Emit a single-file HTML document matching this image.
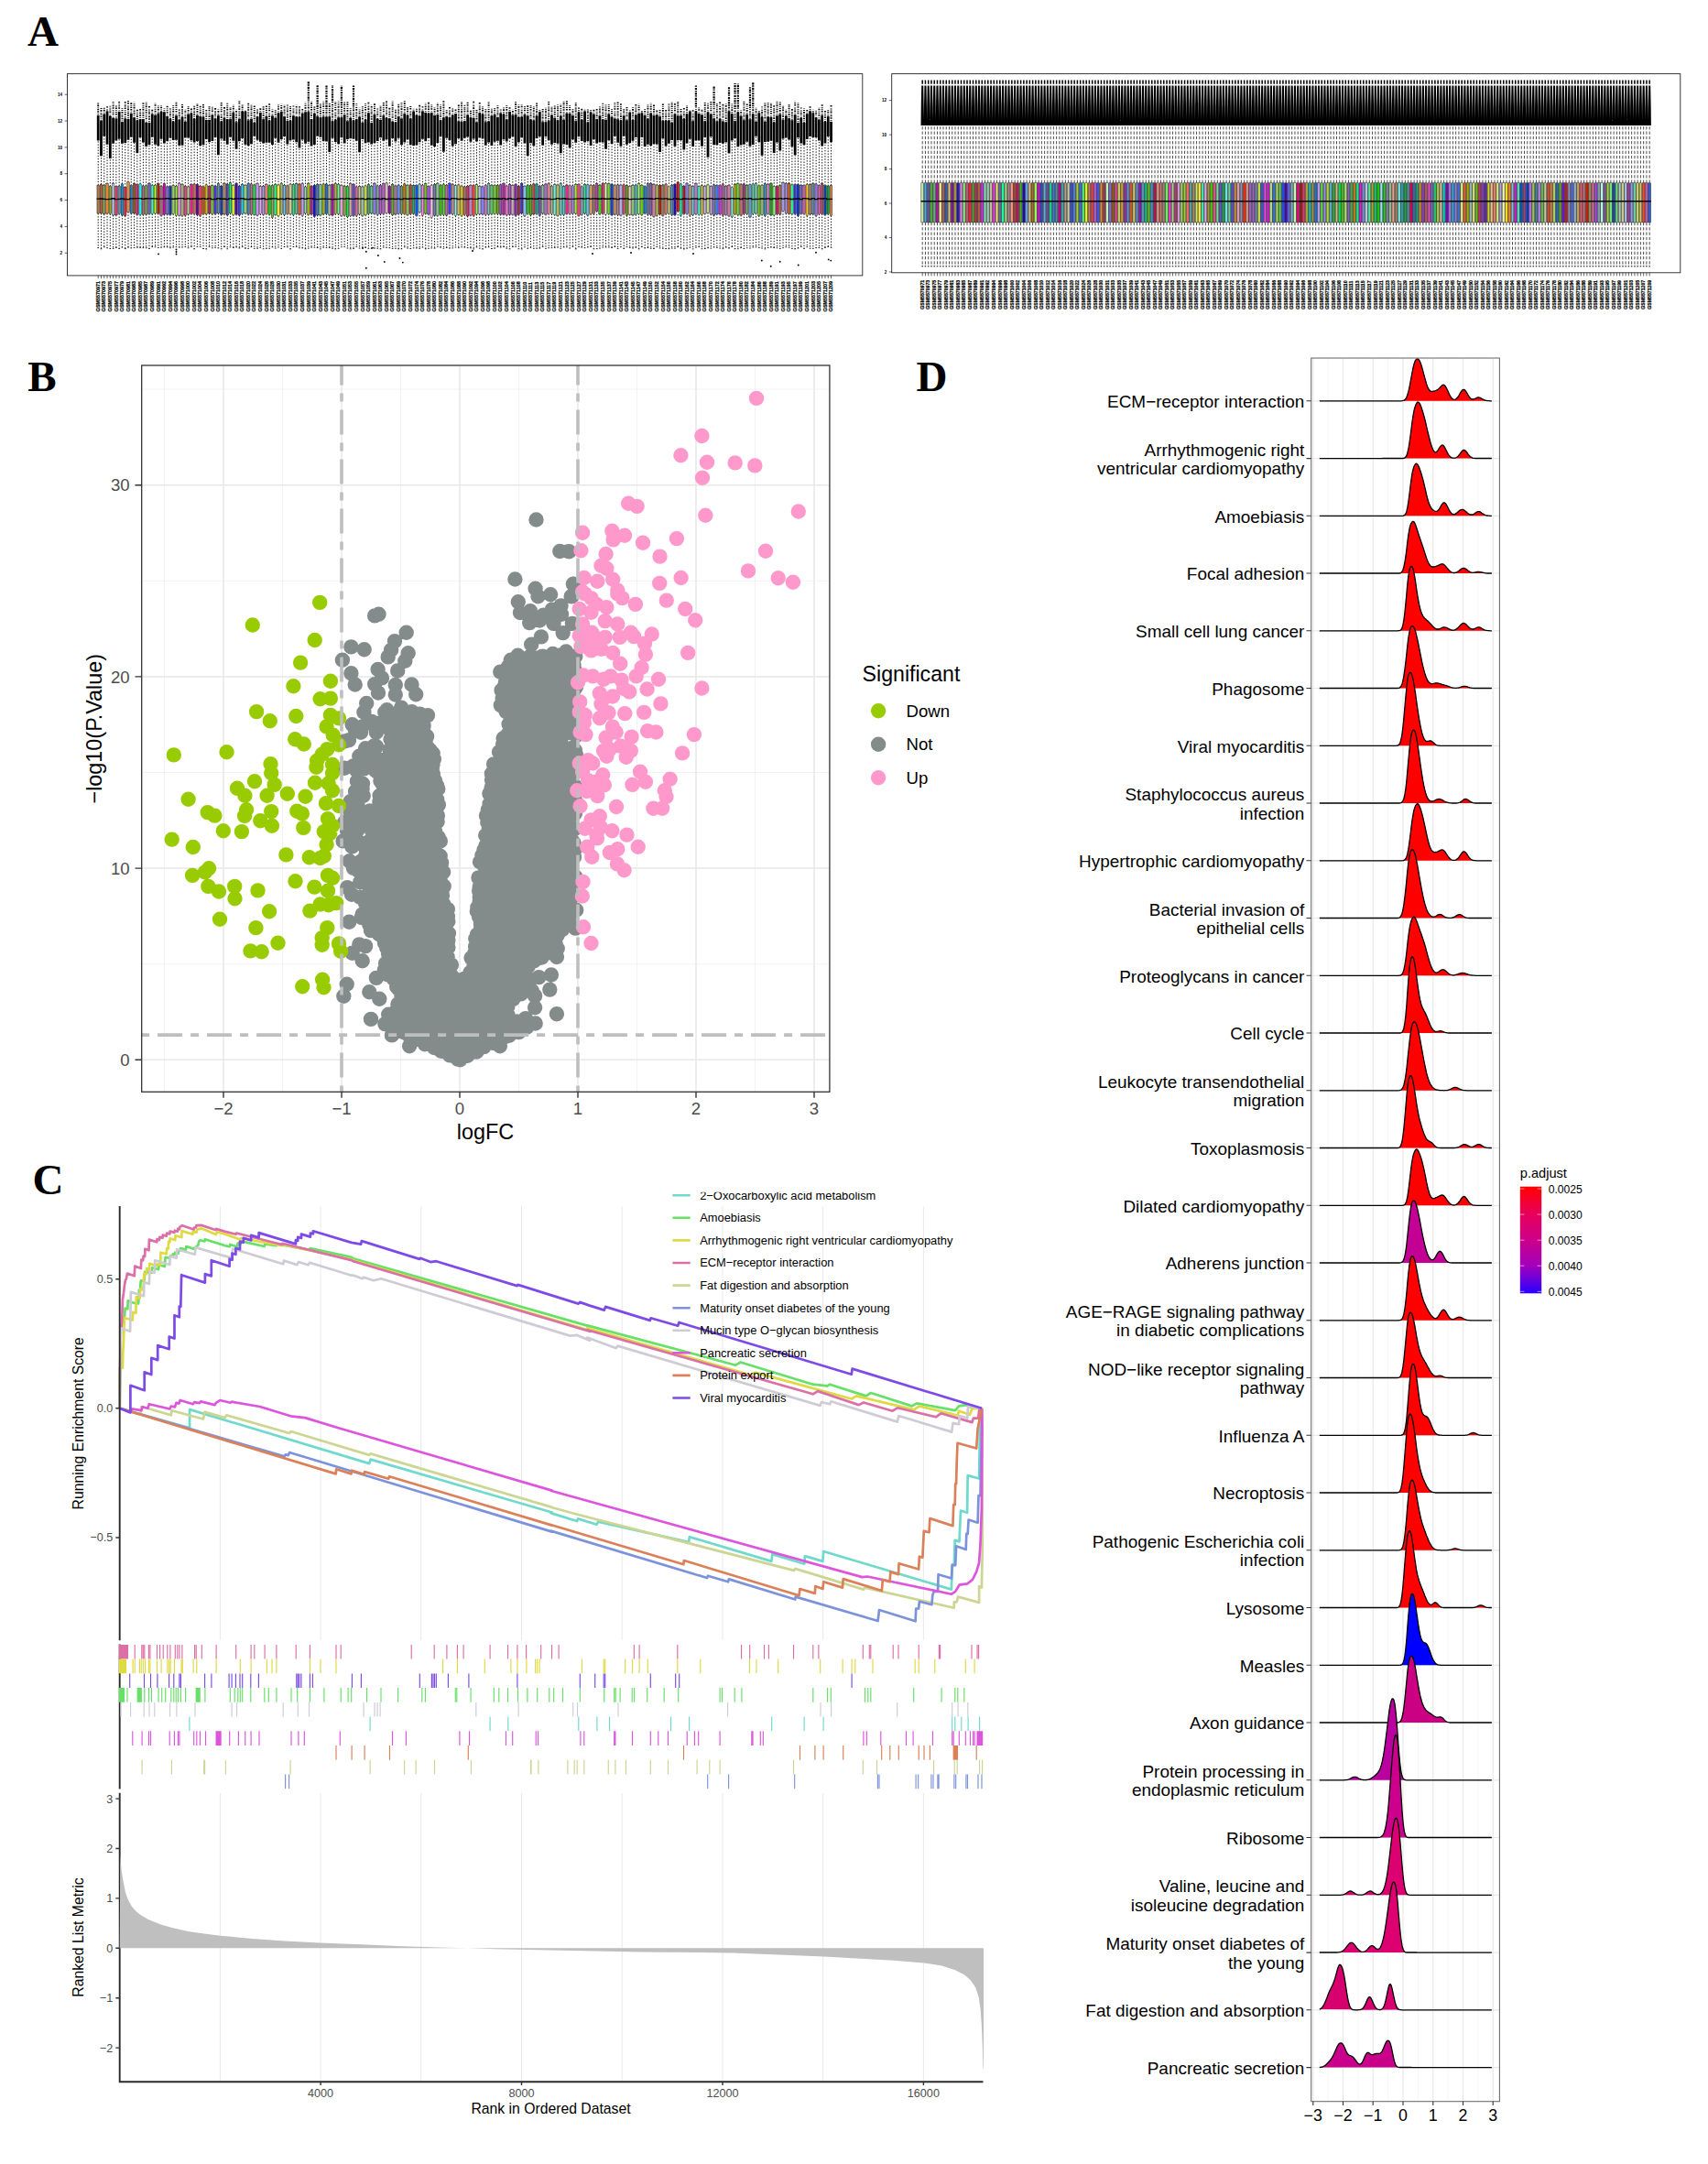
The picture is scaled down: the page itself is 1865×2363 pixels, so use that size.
<!DOCTYPE html>
<html lang="en"><head><meta charset="utf-8"><title>Figure</title>
<style>html,body{margin:0;padding:0;background:#fff}svg{display:block}text{white-space:pre}</style></head>
<body><svg width="1865" height="2363" viewBox="0 0 1865 2363" font-family='"Liberation Sans", Arial, Helvetica, sans-serif'>
<rect width="1865" height="2363" fill="#fff"/>
<g id="boxraw" font-family='"Liberation Sans", Arial, Helvetica, sans-serif'>
<path d="M107.2 202.2V153.4M110.48 201.47V170.14M113.76 202.24V148.67M117.04 200.72V157.76M120.32 203.56V173.12M123.6 200.24V156.67M126.88 203.73V153.46M130.16 203.04V151.65M133.44 200.81V156.79M136.72 204.58V155.92M140 198.85V152.84M143.28 202.65V149.79M146.56 200.59V155.7M149.84 201.62V167.04M153.12 200.88V150.02M156.4 202.94V155.4M159.68 202.81V159.96M162.96 200.28V157.88M166.24 202.48V149.72M169.52 202.21V157.82M172.8 200.68V159.22M176.08 203.44V151.83M179.36 200.73V156.58M182.64 203.91V154.23M185.92 203.52V150.77M189.2 202.76V153.03M192.48 203.22V152.81M195.76 200.13V158.63M199.04 201.5V158.85M202.32 203.3V150.49M205.6 203.96V150.44M208.88 201.57V153.26M212.16 201.03V155.5M215.44 201.45V154.03M218.72 203.25V159.04M222 203.84V158.33M225.28 201.83V151.91M228.56 203.73V155.22M231.84 202.79V154.09M235.12 203.09V149.88M238.4 200.45V169.28M241.68 203.2V151.59M244.96 200.16V153.85M248.24 201V157.72M251.52 199.72V149.64M254.8 202.51V153.67M258.08 200.25V162.84M261.36 203.16V154.16M264.64 201.42V150.88M267.92 202.55V157.82M271.2 200.48V158.93M274.48 200.83V157.17M277.76 202.01V148.76M281.04 200.63V152.83M284.32 203.64V154.77M287.6 203.4V156.59M290.88 201.47V155.83M294.16 202.85V155.65M297.44 202.62V158.1M300.72 201.5V150.71M304 202.07V155.82M307.28 200.17V151.93M310.56 202.21V148.95M313.84 202.89V157.4M317.12 201.14V153.35M320.4 201.52V152.44M323.68 200.69V155.17M326.96 201.09V161.62M330.24 200.47V152.5M333.52 204.01V156.73M336.8 200.38V154.73M340.08 203.27V159.6M343.36 202.21V158.09M346.64 201.52V148.84M349.92 201.88V149.83M353.2 200.97V154.35M356.48 200.94V154.54M359.76 202.3V166.03M363.04 201.72V150.71M366.32 200.21V154.93M369.6 201.16V157.26M372.88 202.68V150.21M376.16 203.18V156.62M379.44 203.59V151.93M382.72 200.58V151.29M386 201.26V151.81M389.28 203.92V153.65M392.56 203.67V166.18M395.84 203.98V152.09M399.12 203.03V156.18M402.4 201.57V155.44M405.68 203.43V157.54M408.96 200.24V156.18M412.24 202.9V154.02M415.52 202.31V150.19M418.8 200.73V153.63M422.08 199.94V152.25M425.36 203.55V159.87M428.64 201.31V150.95M431.92 202.95V154.62M435.2 202.13V150.87M438.48 203.33V158.23M441.76 200.93V155.57M445.04 202.24V152.6M448.32 201.89V158.13M451.6 202.77V158.93M454.88 202.63V158.47M458.16 201.08V155.34M461.44 202.19V151.67M464.72 200.79V154.28M468 203.73V151.1M471.28 202.25V158.82M474.56 201.41V160M477.84 200.35V156.05M481.12 202.24V149.32M484.4 201.12V165.84M487.68 202.38V150.71M490.96 200.32V152.88M494.24 201.29V159.41M497.52 202.74V157.26M500.8 201.94V151.07M504.08 203.17V153.74M507.36 203.97V150.74M510.64 203.29V149.58M513.92 202.58V154.68M517.2 202.57V151.53M520.48 201.72V154.44M523.76 203.68V150.59M527.04 203.93V151.5M530.32 202.27V158.82M533.6 200.43V155.39M536.88 202.51V158.97M540.16 202.62V154.64M543.44 202.33V153.72M546.72 201.87V158.43M550 200.51V152.23M553.28 203.03V154.59M556.56 201.45V151.24M559.84 202.66V149.22M563.12 201.42V159.84M566.4 203.25V155.37M569.68 200.32V150.27M572.96 203.58V156.62M576.24 202.43V170.05M579.52 202.15V156.34M582.8 200.94V159.27M586.08 200.97V151.06M589.36 203.22V149.1M592.64 202.25V158.79M595.92 201.05V149.25M599.2 200.23V153.22M602.48 203.19V157.64M605.76 201.59V156.07M609.04 202.03V156.85M612.32 200.42V167.31M615.6 203.69V157.47M618.88 202.06V157.91M622.16 202.83V161.21M625.44 202.81V152.17M628.72 201.53V155.74M632 201.49V149.31M635.28 203.88V154M638.56 201.53V155.49M641.84 201.91V154.09M645.12 202.24V158.95M648.4 202.45V152.32M651.68 200.55V156.54M654.96 202.27V155.14M658.24 200.21V155.55M661.52 200.2V162.78M664.8 200.76V153.37M668.08 201.19V157.01M671.36 202.22V148.74M674.64 201.92V155.86M677.92 202.11V159.85M681.2 201.8V148.79M684.48 202.63V157.69M687.76 203.65V156.11M691.04 202.2V153.7M694.32 202.02V149.95M697.6 200.54V159.92M700.88 202.47V150.02M704.16 203.72V160.02M707.44 200.51V157.68M710.72 200.29V159.01M714 201.45V157.19M717.28 202.09V157.41M720.56 202.52V165.95M723.84 202.07V151.34M727.12 201.05V159.58M730.4 203.87V156.87M733.68 202.17V153.08M736.96 201.26V159.71M740.24 198.98V153.19M743.52 200.98V152.93M746.8 203.24V163.48M750.08 200.37V156.51M753.36 202.4V151.75M756.64 203.58V159.88M759.92 200.57V153.46M763.2 203.79V153.18M766.48 202.62V159.64M769.76 203.19V149.96M773.04 201.95V171.77M776.32 203.73V149.23M779.6 201.87V158.24M782.88 202.6V158.15M786.16 202.56V155.96M789.44 200.91V156.69M792.72 203.23V155.28M796 202.25V167.35M799.28 204.82V153.51M802.56 201.33V151.08M805.84 200.72V160.17M809.12 201.39V158.59M812.4 200.83V157.77M815.68 202.31V154.78M818.96 201.8V159.83M822.24 200.94V158M825.52 200.36V148.74M828.8 202.9V155.35M832.08 202.46V169.87M835.36 200.59V155.06M838.64 201.19V154.85M841.92 200.41V153.68M845.2 203.7V167.04M848.48 203.59V155.45M851.76 202.65V164.57M855.04 199.61V151.56M858.32 200.32V150.48M861.6 200.16V152.39M864.88 201.88V160.14M868.16 201.63V169.22M871.44 201.62V150.22M874.72 202.47V156.42M878 202.69V157.92M881.28 201.36V152.09M884.56 201.66V149.01M887.84 200.49V149.92M891.12 200.93V149.95M894.4 202.73V153.5M897.68 200.19V159.46M900.96 202.58V156.56M904.24 203.06V149.02M907.52 202.63V155.18" stroke="#000" stroke-width="0.95" stroke-dasharray="1.4 1.7" fill="none"/>
<path d="M107.2 233.07V270.61M110.48 232.96V271.78M113.76 233.83V269.75M117.04 232.98V270.71M120.32 233.55V271.47M123.6 234.96V271.39M126.88 234.89V270.37M130.16 233.38V271.42M133.44 235V270.06M136.72 235.79V271.59M140 231.35V270.04M143.28 233.1V270.85M146.56 232.88V270.43M149.84 234.31V270.17M153.12 234.5V270.42M156.4 234.44V270.65M159.68 234.09V270.75M162.96 233.41V271.47M166.24 233.56V269.51M169.52 233.02V269.81M172.8 233.12V270.51M176.08 235.33V270.14M179.36 234.23V269.74M182.64 233.99V269.85M185.92 234.38V270.7M189.2 233.76V270.04M192.48 235.28V269.72M195.76 235.11V270.05M199.04 235.5V269.97M202.32 235.32V269.53M205.6 234.01V270.76M208.88 233.26V269.38M212.16 233.74V271.75M215.44 234.77V269.34M218.72 235.59V269.58M222 233.55V271.5M225.28 233.85V271.9M228.56 233.02V269.41M231.84 233.71V270.78M235.12 233.62V270.31M238.4 232.91V270.83M241.68 234.36V271.74M244.96 233.85V269.54M248.24 234.88V271.72M251.52 232.89V269.85M254.8 234.6V270.53M258.08 234.1V269.89M261.36 235.03V270.91M264.64 233.36V269.63M267.92 232.88V271.18M271.2 234.06V271.37M274.48 234.16V269.56M277.76 234.22V271.32M281.04 234.99V271.24M284.32 233.67V270.41M287.6 234.22V271.74M290.88 233.35V271.32M294.16 234.18V271.27M297.44 237.54V269.76M300.72 234.26V271.07M304 235.73V269.89M307.28 233.68V271.42M310.56 234.7V269.59M313.84 233.36V269.78M317.12 233.8V271.89M320.4 234.78V269.44M323.68 233.32V269.58M326.96 234.02V270.77M330.24 235.54V270.84M333.52 233V271.77M336.8 234.3V271.17M340.08 233.92V270.05M343.36 236.45V270.21M346.64 234.94V270.56M349.92 234.93V271.85M353.2 233.84V270.16M356.48 233.47V270.43M359.76 234.49V270.46M363.04 234.98V271.27M366.32 233.6V271.83M369.6 233.54V271.31M372.88 235.57V269.63M376.16 235.15V269.36M379.44 236.82V271M382.72 235.5V271.79M386 235.35V271.55M389.28 235.62V269.4M392.56 233.92V271.08M395.84 235.43V270.12M399.12 234.8V270.47M402.4 233.51V271.22M405.68 232.92V271.33M408.96 233.34V271.12M412.24 234.67V271.29M415.52 233.79V271.8M418.8 233.55V270.1M422.08 232.53V270.29M425.36 232.87V270.68M428.64 234.62V271.48M431.92 233.94V271.26M435.2 233.24V271.78M438.48 233.65V271.74M441.76 233.4V269.79M445.04 234.64V270.99M448.32 233.6V271.56M451.6 233.2V270.82M454.88 235.21V270.95M458.16 231.8V271.34M461.44 235.3V270.02M464.72 233.04V271.77M468 233.88V271.31M471.28 237.41V270.93M474.56 235.17V271.12M477.84 235.41V269.35M481.12 234.56V270.11M484.4 234.62V271.2M487.68 235.01V270.4M490.96 233.15V271M494.24 233.87V270.89M497.52 235.79V270.04M500.8 234.19V270.62M504.08 235.58V269.73M507.36 234.55V270.08M510.64 236V270.66M513.92 234.99V270.82M517.2 235.57V271.91M520.48 233.98V269.98M523.76 233.78V271.11M527.04 233.9V271.92M530.32 234.65V270.03M533.6 234.12V269.76M536.88 233.75V271.5M540.16 233.31V271.08M543.44 233.67V269.57M546.72 234.1V269.95M550 234.06V269.47M553.28 234.89V271.19M556.56 234.2V271.79M559.84 234.11V269.49M563.12 235.56V269.38M566.4 234.3V271.73M569.68 232.92V271.88M572.96 235.65V269.78M576.24 233.34V271.25M579.52 235.01V270.24M582.8 233.8V271.3M586.08 233.46V271.19M589.36 235.33V271.05M592.64 233V269.5M595.92 234.1V271.36M599.2 233.45V270.73M602.48 233.62V270.64M605.76 234.38V270.43M609.04 235.27V270.06M612.32 234.31V271.24M615.6 234.46V269.86M618.88 233.31V269.77M622.16 233.39V271.04M625.44 233.23V269.38M628.72 233.02V271.87M632 235.2V269.53M635.28 234.33V270M638.56 233V270.7M641.84 235.02V269.95M645.12 233.7V269.46M648.4 233.59V271.81M651.68 230.67V271.62M654.96 233.7V271.11M658.24 233.15V270.01M661.52 234.18V269.94M664.8 233.37V269.96M668.08 234.8V270.56M671.36 233.99V269.46M674.64 234.71V271.55M677.92 234.98V269.7M681.2 233.4V271.36M684.48 235.25V269.67M687.76 234.06V270.38M691.04 234.81V271M694.32 234.39V270.32M697.6 233.47V271.85M700.88 234.43V269.55M704.16 232.88V270.92M707.44 234.4V270.52M710.72 234.78V271.25M714 236.31V271.46M717.28 235.21V269.55M720.56 233.93V270.94M723.84 235.22V271.31M727.12 233.59V271.55M730.4 233.1V271.64M733.68 234.62V271.06M736.96 234.67V271.17M740.24 230.84V269.6M743.52 235.36V271.1M746.8 233.29V271.93M750.08 233.27V271.12M753.36 235.64V270.18M756.64 234.67V271.86M759.92 233.64V270.18M763.2 234.27V269.36M766.48 234.36V271.73M769.76 233.18V271.59M773.04 232.26V270.71M776.32 233.88V271.1M779.6 235.02V269.96M782.88 233.88V270.36M786.16 233.87V271.02M789.44 235.45V271.63M792.72 234.37V270.04M796 235.7V271.02M799.28 236.91V269.45M802.56 233.68V271.69M805.84 234.78V271.69M809.12 235V270.55M812.4 233.56V271.51M815.68 233.5V270.75M818.96 236.94V270.98M822.24 233.65V269.94M825.52 232.97V269.85M828.8 235.59V270.39M832.08 234.16V271.06M835.36 235.68V271.87M838.64 233.16V270.43M841.92 234.8V269.98M845.2 234.95V270.56M848.48 233.8V270.8M851.76 233.99V271.39M855.04 230.25V270.61M858.32 232.97V269.8M861.6 233.16V270.13M864.88 233.78V271.3M868.16 233.63V271.79M871.44 235.7V270.99M874.72 233.15V269.36M878 233.43V271.35M881.28 235.79V269.68M884.56 233.94V271.24M887.84 233.82V271.28M891.12 235.74V270.65M894.4 233.72V270.57M897.68 233.57V271.81M900.96 234.53V270.55M904.24 233.64V269.54M907.52 235.5V270.23" stroke="#000" stroke-width="0.95" stroke-dasharray="1.4 1.7" fill="none"/>
<path d="M106.4 270.61h1.6M109.68 271.78h1.6M112.96 269.75h1.6M116.24 270.71h1.6M119.52 271.47h1.6M122.8 271.39h1.6M126.08 270.37h1.6M129.36 271.42h1.6M132.64 270.06h1.6M135.92 271.59h1.6M139.2 270.04h1.6M142.48 270.85h1.6M145.76 270.43h1.6M149.04 270.17h1.6M152.32 270.42h1.6M155.6 270.65h1.6M158.88 270.75h1.6M162.16 271.47h1.6M165.44 269.51h1.6M168.72 269.81h1.6M172 270.51h1.6M175.28 270.14h1.6M178.56 269.74h1.6M181.84 269.85h1.6M185.12 270.7h1.6M188.4 270.04h1.6M191.68 269.72h1.6M194.96 270.05h1.6M198.24 269.97h1.6M201.52 269.53h1.6M204.8 270.76h1.6M208.08 269.38h1.6M211.36 271.75h1.6M214.64 269.34h1.6M217.92 269.58h1.6M221.2 271.5h1.6M224.48 271.9h1.6M227.76 269.41h1.6M231.04 270.78h1.6M234.32 270.31h1.6M237.6 270.83h1.6M240.88 271.74h1.6M244.16 269.54h1.6M247.44 271.72h1.6M250.72 269.85h1.6M254 270.53h1.6M257.28 269.89h1.6M260.56 270.91h1.6M263.84 269.63h1.6M267.12 271.18h1.6M270.4 271.37h1.6M273.68 269.56h1.6M276.96 271.32h1.6M280.24 271.24h1.6M283.52 270.41h1.6M286.8 271.74h1.6M290.08 271.32h1.6M293.36 271.27h1.6M296.64 269.76h1.6M299.92 271.07h1.6M303.2 269.89h1.6M306.48 271.42h1.6M309.76 269.59h1.6M313.04 269.78h1.6M316.32 271.89h1.6M319.6 269.44h1.6M322.88 269.58h1.6M326.16 270.77h1.6M329.44 270.84h1.6M332.72 271.77h1.6M336 271.17h1.6M339.28 270.05h1.6M342.56 270.21h1.6M345.84 270.56h1.6M349.12 271.85h1.6M352.4 270.16h1.6M355.68 270.43h1.6M358.96 270.46h1.6M362.24 271.27h1.6M365.52 271.83h1.6M368.8 271.31h1.6M372.08 269.63h1.6M375.36 269.36h1.6M378.64 271h1.6M381.92 271.79h1.6M385.2 271.55h1.6M388.48 269.4h1.6M391.76 271.08h1.6M395.04 270.12h1.6M398.32 270.47h1.6M401.6 271.22h1.6M404.88 271.33h1.6M408.16 271.12h1.6M411.44 271.29h1.6M414.72 271.8h1.6M418 270.1h1.6M421.28 270.29h1.6M424.56 270.68h1.6M427.84 271.48h1.6M431.12 271.26h1.6M434.4 271.78h1.6M437.68 271.74h1.6M440.96 269.79h1.6M444.24 270.99h1.6M447.52 271.56h1.6M450.8 270.82h1.6M454.08 270.95h1.6M457.36 271.34h1.6M460.64 270.02h1.6M463.92 271.77h1.6M467.2 271.31h1.6M470.48 270.93h1.6M473.76 271.12h1.6M477.04 269.35h1.6M480.32 270.11h1.6M483.6 271.2h1.6M486.88 270.4h1.6M490.16 271h1.6M493.44 270.89h1.6M496.72 270.04h1.6M500 270.62h1.6M503.28 269.73h1.6M506.56 270.08h1.6M509.84 270.66h1.6M513.12 270.82h1.6M516.4 271.91h1.6M519.68 269.98h1.6M522.96 271.11h1.6M526.24 271.92h1.6M529.52 270.03h1.6M532.8 269.76h1.6M536.08 271.5h1.6M539.36 271.08h1.6M542.64 269.57h1.6M545.92 269.95h1.6M549.2 269.47h1.6M552.48 271.19h1.6M555.76 271.79h1.6M559.04 269.49h1.6M562.32 269.38h1.6M565.6 271.73h1.6M568.88 271.88h1.6M572.16 269.78h1.6M575.44 271.25h1.6M578.72 270.24h1.6M582 271.3h1.6M585.28 271.19h1.6M588.56 271.05h1.6M591.84 269.5h1.6M595.12 271.36h1.6M598.4 270.73h1.6M601.68 270.64h1.6M604.96 270.43h1.6M608.24 270.06h1.6M611.52 271.24h1.6M614.8 269.86h1.6M618.08 269.77h1.6M621.36 271.04h1.6M624.64 269.38h1.6M627.92 271.87h1.6M631.2 269.53h1.6M634.48 270h1.6M637.76 270.7h1.6M641.04 269.95h1.6M644.32 269.46h1.6M647.6 271.81h1.6M650.88 271.62h1.6M654.16 271.11h1.6M657.44 270.01h1.6M660.72 269.94h1.6M664 269.96h1.6M667.28 270.56h1.6M670.56 269.46h1.6M673.84 271.55h1.6M677.12 269.7h1.6M680.4 271.36h1.6M683.68 269.67h1.6M686.96 270.38h1.6M690.24 271h1.6M693.52 270.32h1.6M696.8 271.85h1.6M700.08 269.55h1.6M703.36 270.92h1.6M706.64 270.52h1.6M709.92 271.25h1.6M713.2 271.46h1.6M716.48 269.55h1.6M719.76 270.94h1.6M723.04 271.31h1.6M726.32 271.55h1.6M729.6 271.64h1.6M732.88 271.06h1.6M736.16 271.17h1.6M739.44 269.6h1.6M742.72 271.1h1.6M746 271.93h1.6M749.28 271.12h1.6M752.56 270.18h1.6M755.84 271.86h1.6M759.12 270.18h1.6M762.4 269.36h1.6M765.68 271.73h1.6M768.96 271.59h1.6M772.24 270.71h1.6M775.52 271.1h1.6M778.8 269.96h1.6M782.08 270.36h1.6M785.36 271.02h1.6M788.64 271.63h1.6M791.92 270.04h1.6M795.2 271.02h1.6M798.48 269.45h1.6M801.76 271.69h1.6M805.04 271.69h1.6M808.32 270.55h1.6M811.6 271.51h1.6M814.88 270.75h1.6M818.16 270.98h1.6M821.44 269.94h1.6M824.72 269.85h1.6M828 270.39h1.6M831.28 271.06h1.6M834.56 271.87h1.6M837.84 270.43h1.6M841.12 269.98h1.6M844.4 270.56h1.6M847.68 270.8h1.6M850.96 271.39h1.6M854.24 270.61h1.6M857.52 269.8h1.6M860.8 270.13h1.6M864.08 271.3h1.6M867.36 271.79h1.6M870.64 270.99h1.6M873.92 269.36h1.6M877.2 271.35h1.6M880.48 269.68h1.6M883.76 271.24h1.6M887.04 271.28h1.6M890.32 270.65h1.6M893.6 270.57h1.6M896.88 271.81h1.6M900.16 270.55h1.6M903.44 269.54h1.6M906.72 270.23h1.6" stroke="#000" stroke-width="0.9" fill="none"/>
<path d="M107.2 153.4V126.05M110.48 170.14V131.75M113.76 148.67V125.04M117.04 157.76V121.5M120.32 173.12V126.96M123.6 156.67V129.11M126.88 153.46V129.4M130.16 151.65V121.89M133.44 156.79V133.33M136.72 155.92V129.52M140 152.84V130.08M143.28 149.79V123.96M146.56 155.7V128.51M149.84 167.04V131.59M153.12 150.02V130.12M156.4 155.4V130.13M159.68 159.96V133.9M162.96 157.88V134.08M166.24 149.72V124.85M169.52 157.82V125.9M172.8 159.22V124.25M176.08 151.83V121.95M179.36 156.58V122.54M182.64 154.23V126.92M185.92 150.77V130.11M189.2 153.03V132.63M192.48 152.81V126.28M195.76 158.63V130.86M199.04 158.85V127.7M202.32 150.49V132.99M205.6 150.44V124.63M208.88 153.26V123.78M212.16 155.5V129.79M215.44 154.03V125.89M218.72 159.04V127.08M222 158.33V127.79M225.28 151.91V131.04M228.56 155.22V131.06M231.84 154.09V125.56M235.12 149.88V129.56M238.4 169.28V126.13M241.68 151.59V132.67M244.96 153.85V128.67M248.24 157.72V130.28M251.52 149.64V130.27M254.8 153.67V123.37M258.08 162.84V133.13M261.36 154.16V129.84M264.64 150.88V121.79M267.92 157.82V121.64M271.2 158.93V131.17M274.48 157.17V129.78M277.76 148.76V134.08M281.04 152.83V127.29M284.32 154.77V123.1M287.6 156.59V130.26M290.88 155.83V126.9M294.16 155.65V131.63M297.44 158.1V126.53M300.72 150.71V128.87M304 155.82V123.51M307.28 151.93V121.96M310.56 148.95V127.17M313.84 157.4V131.81M317.12 153.35V131.63M320.4 152.44V126.43M323.68 155.17V127.4M326.96 161.62V127.7M330.24 152.5V123.77M333.52 156.73V122.61M336.8 154.73V122.25M340.08 159.6V130.16M343.36 158.09V123.96M346.64 148.84V127.33M349.92 149.83V128.23M353.2 154.35V127.47M356.48 154.54V127.75M359.76 166.03V127.17M363.04 150.71V132.15M366.32 154.93V131.1M369.6 157.26V128.23M372.88 150.21V128.22M376.16 156.62V125.41M379.44 151.93V132.23M382.72 151.29V129.11M386 151.81V131.57M389.28 153.65V130.35M392.56 166.18V127.77M395.84 152.09V133.92M399.12 156.18V130.82M402.4 155.44V123.46M405.68 157.54V134.21M408.96 156.18V124.93M412.24 154.02V130.01M415.52 150.19V130.93M418.8 153.63V126.14M422.08 152.25V129.07M425.36 159.87V129.38M428.64 150.95V132.83M431.92 154.62V133.56M435.2 150.87V127.08M438.48 158.23V129.56M441.76 155.57V124.26M445.04 152.6V125.94M448.32 158.13V129.68M451.6 158.93V121.73M454.88 158.47V125.87M458.16 155.34V126.43M461.44 151.67V121.38M464.72 154.28V122.93M468 151.1V123.84M471.28 158.82V123.2M474.56 160V126.05M477.84 156.05V125.25M481.12 149.32V131.17M484.4 165.84V128.5M487.68 150.71V127.14M490.96 152.88V128.19M494.24 159.41V125.71M497.52 157.26V124.15M500.8 151.07V132.61M504.08 153.74V132.87M507.36 150.74V132.19M510.64 149.58V125.74M513.92 154.68V128.37M517.2 151.53V128.95M520.48 154.44V133.53M523.76 150.59V123.59M527.04 151.5V124.66M530.32 158.82V133.3M533.6 155.39V132.62M536.88 158.97V126.62M540.16 154.64V125.17M543.44 153.72V128.31M546.72 158.43V123.77M550 152.23V124.9M553.28 154.59V130.62M556.56 151.24V122.07M559.84 149.22V125.69M563.12 159.84V125.33M566.4 155.37V127.9M569.68 150.27V127.87M572.96 156.62V125.29M576.24 170.05V126.62M579.52 156.34V130.85M582.8 159.27V131.4M586.08 151.06V126.52M589.36 149.1V122.14M592.64 158.79V133.29M595.92 149.25V133.23M599.2 153.22V131.75M602.48 157.64V125.75M605.76 156.07V128.81M609.04 156.85V131.17M612.32 167.31V126.77M615.6 157.47V130.92M618.88 157.91V123.8M622.16 161.21V123.95M625.44 152.17V126.14M628.72 155.74V132.13M632 149.31V122.39M635.28 154V130.98M638.56 155.49V121.78M641.84 154.09V133.48M645.12 158.95V122.69M648.4 152.32V125M651.68 156.54V130.28M654.96 155.14V126.13M658.24 155.55V130.38M661.52 162.78V130.86M664.8 153.37V124.53M668.08 157.01V127.8M671.36 148.74V129.65M674.64 155.86V130.19M677.92 159.85V131.48M681.2 148.79V126.18M684.48 157.69V131.28M687.76 156.11V123.03M691.04 153.7V130.99M694.32 149.95V125.67M697.6 159.92V123.89M700.88 150.02V123.38M704.16 160.02V125.92M707.44 157.68V129.85M710.72 159.01V123.65M714 157.19V125.98M717.28 157.41V125.47M720.56 165.95V127.33M723.84 151.34V131.76M727.12 159.58V132.12M730.4 156.87V131.62M733.68 153.08V134.1M736.96 159.71V124.49M740.24 153.19V126.73M743.52 152.93V126.35M746.8 163.48V129.96M750.08 156.51V124.6M753.36 151.75V121.66M756.64 159.88V132.13M759.92 153.46V121.57M763.2 153.18V123.93M766.48 159.64V125.43M769.76 149.96V132.46M773.04 171.77V122.54M776.32 149.23V124.83M779.6 158.24V129.85M782.88 158.15V132.55M786.16 155.96V129.65M789.44 156.69V132.38M792.72 155.28V133.83M796 167.35V121.6M799.28 153.51V124.39M802.56 151.08V132.34M805.84 160.17V122.75M809.12 158.59V126.67M812.4 157.77V131.22M815.68 154.78V125.33M818.96 159.83V130.19M822.24 158V124.66M825.52 148.74V132.65M828.8 155.35V123.59M832.08 169.87V127.85M835.36 155.06V132.91M838.64 154.85V127.41M841.92 153.68V127.88M845.2 167.04V133.79M848.48 155.45V126.49M851.76 164.57V124.74M855.04 151.56V130.7M858.32 150.48V126.87M861.6 152.39V129.45M864.88 160.14V131.28M868.16 169.22V125.38M871.44 150.22V134.16M874.72 156.42V129.1M878 157.92V134.04M881.28 152.09V124.61M884.56 149.01V121.49M887.84 149.92V123.53M891.12 149.95V128.43M894.4 153.5V130.65M897.68 159.46V126.28M900.96 156.56V132.89M904.24 149.02V127.2M907.52 155.18V132.97" stroke="#000" stroke-width="2.75" fill="none"/>
<path d="M107.2 126.74V111.95M110.48 132.27V117.91M113.76 125.44V117.11M117.04 121.59V116.23M120.32 127.08V115.69M123.6 129.36V111.28M126.88 129.58V115.62M130.16 122.85V110.98M133.44 134.25V118.05M136.72 129.66V110.89M140 130.82V109.72M143.28 124.57V111.19M146.56 128.99V111.46M149.84 131.92V118.69M153.12 131.07V119.05M156.4 131V111.45M159.68 134.35V111.55M162.96 134.78V115.42M166.24 125.42V119.12M169.52 126.43V112.76M172.8 124.43V115.25M176.08 122.24V115.2M179.36 122.74V118.27M182.64 127.87V115.21M185.92 130.13V118.45M189.2 133.01V115M192.48 126.6V111.26M195.76 131.26V119.47M199.04 128.25V113.11M202.32 133.45V119.85M205.6 125.52V116.14M208.88 124.18V117.73M212.16 130.02V115.45M215.44 126.63V112.94M218.72 127.89V115.03M222 128.39V113.91M225.28 131.79V120.06M228.56 131.88V114.86M231.84 126.09V115.6M235.12 130.31V117.59M238.4 126.68V119.42M241.68 132.93V111.77M244.96 129.24V116.53M248.24 131.01V112.68M251.52 130.63V117.09M254.8 123.39V114.44M258.08 133.28V119.64M261.36 130.55V110.05M264.64 122.21V113.6M267.92 121.82V119.88M271.2 131.34V112.77M274.48 130.73V114.6M277.76 134.24V115.41M281.04 128.11V118.89M284.32 123.92V117.24M287.6 130.65V115.47M290.88 127.52V115.57M294.16 131.96V112.61M297.44 126.6V119.55M300.72 129.53V120.36M304 123.87V113.91M307.28 122.66V113.74M310.56 127.99V114.46M313.84 132.75V114.6M317.12 132.15V115.46M320.4 127.19V115.44M323.68 128.12V114.85M326.96 128.01V116.23M330.24 124.56V118.13M333.52 122.64V111.7M336.8 122.42V110.83M340.08 131.1V110.79M343.36 124.26V116.5M346.64 127.42V120.03M349.92 128.79V112.41M353.2 127.7V110.23M356.48 127.93V120.14M359.76 127.49V111.96M363.04 132.51V113.05M366.32 131.18V110.9M369.6 128.27V110.44M372.88 128.57V116.27M376.16 125.77V111.19M379.44 132.25V110.39M382.72 129.42V117.95M386 131.79V117.49M389.28 131.31V113.27M392.56 128.44V117.5M395.84 134.42V116.29M399.12 131.19V113.3M402.4 123.96V111.01M405.68 134.76V114.64M408.96 125.55V113M412.24 130.11V118.6M415.52 131.64V115.04M418.8 126.37V111.54M422.08 129.12V110.43M425.36 129.99V117.18M428.64 132.85V110.43M431.92 134.04V119.83M435.2 128.07V113.42M438.48 130.52V112.37M441.76 124.51V109.86M445.04 126.28V116.69M448.32 130.21V115.87M451.6 122.41V118.15M454.88 126.37V118.23M458.16 127.02V114.33M461.44 121.62V116.18M464.72 123.8V112.83M468 123.99V111.28M471.28 123.83V113.85M474.56 126.74V117.51M477.84 125.88V112.56M481.12 131.85V114.26M484.4 128.91V110.2M487.68 127.86V119.45M490.96 129.18V117.11M494.24 126.1V118.17M497.52 125.05V119.23M500.8 133.38V114.38M504.08 133.48V111.33M507.36 132.83V114.78M510.64 126.13V110.93M513.92 128.77V119.99M517.2 129.54V110.07M520.48 134.39V119.52M523.76 124.21V112M527.04 125.44V116M530.32 133.41V119.27M533.6 133.3V111.07M536.88 127.14V118.34M540.16 125.24V118M543.44 129.16V115.26M546.72 124.38V119.47M550 124.92V117.38M553.28 131.23V115.02M556.56 122.8V116.6M559.84 126.68V119.75M563.12 125.52V111.27M566.4 128.24V114.49M569.68 127.95V114.14M572.96 125.36V114.9M576.24 127.5V114.83M579.52 131.15V114.87M582.8 132.39V116.04M586.08 126.9V112.5M589.36 122.82V118.99M592.64 133.42V118.53M595.92 133.56V117.18M599.2 131.8V110.31M602.48 126.01V115.49M605.76 129.75V114.68M609.04 131.86V114.21M612.32 127.41V113.69M615.6 131.41V110.76M618.88 124.6V109.94M622.16 124.61V113.92M625.44 126.92V119.17M628.72 132.65V111.92M632 122.73V117.38M635.28 131.03V118.37M638.56 122.42V119.21M641.84 133.8V118.9M645.12 122.82V119.92M648.4 125.39V119.13M651.68 131.16V118.13M654.96 127.01V116.08M658.24 131.03V112.69M661.52 131.77V113.89M664.8 125.52V114.26M668.08 128.6V118.72M671.36 130.47V112.32M674.64 130.27V111.09M677.92 131.95V112.92M681.2 127.01V118.9M684.48 131.35V116.58M687.76 123.3V119.85M691.04 131.26V117.36M694.32 126.13V113.04M697.6 124.57V113.81M700.88 123.69V119.72M704.16 126.52V119.33M707.44 130.07V114.28M710.72 123.79V112.69M714 126.8V113.87M717.28 126.17V119.81M720.56 127.48V120M723.84 132.23V112.69M727.12 132.16V120.12M730.4 131.77V113.6M733.68 134.23V110.92M736.96 125.34V112.04M740.24 126.88V110.9M743.52 126.71V118.45M746.8 130.2V117.55M750.08 124.8V115.52M753.36 122.34V119.89M756.64 132.47V119.83M759.92 122.05V117.42M763.2 124.86V117.39M766.48 125.87V118.89M769.76 132.9V110.89M773.04 122.84V111.97M776.32 125.37V110.75M779.6 129.95V115.98M782.88 133.43V112.92M786.16 130.3V111.37M789.44 132.6V113.62M792.72 133.91V113.62M796 122.41V116.63M799.28 124.92V113.54M802.56 132.81V120.01M805.84 123.16V119.77M809.12 127.5V120.49M812.4 131.46V110.79M815.68 125.72V112.83M818.96 130.29V119.04M822.24 124.92V117.25M825.52 133.55V117.25M828.8 123.65V119.75M832.08 127.96V116.44M835.36 133.41V112.03M838.64 128V111.67M841.92 128.61V112.57M845.2 133.91V115.34M848.48 126.73V110.36M851.76 125.64V111.43M855.04 131.67V114.84M858.32 126.93V119.72M861.6 129.91V113.61M864.88 131.3V118.13M868.16 126.2V110.67M871.44 134.93V111.54M874.72 129.22V117.55M878 134.3V117.26M881.28 125.38V119.93M884.56 121.79V116.36M887.84 123.66V119.55M891.12 129.11V120.22M894.4 130.84V117.42M897.68 126.42V113.8M900.96 133.12V120.2M904.24 127.24V119.97M907.52 133.79V114.74" stroke="#000" stroke-width="1.9" stroke-dasharray="1.1 0.9 0.7 1.3 1.6 1" fill="none"/>
<path d="M336.8 109.83V88.86M346.64 119.03V92.72M356.48 119.14V93.58M363.04 112.05V93.16M372.88 115.27V93.38M386 116.49V92.67M759.92 116.42V92.86M779.6 114.98V93.47M796 115.63V93.98M802.56 119.01V90.91M805.84 118.77V91.19M818.96 118.04V94.47M822.24 116.25V89.31" stroke="#000" stroke-width="2.2" stroke-dasharray="1.3 0.8 2.2 1.1" fill="none"/>
<path d="M399.8 274.7h0M412.9 279h0M419.8 285.9h0M439.8 286.6h0M399.8 292.8h0M173 277.4h0M192.5 272.5h0M192.5 275h0M192.5 277.5h0M831.8 284.5h0M841.7 290.8h0M851.7 285.8h0M871.7 289.5h0M891 275.8h0M904.7 283.4h0M907.2 284.6h0M396 271h0M407 270.6h0M436.5 282h0M516 274h0M647 277h0M689 276h0M757 277h0" stroke="#000" stroke-width="1.9" stroke-linecap="round" fill="none"/>
<g stroke="#000" stroke-width="0.4"><rect x="105.95" y="202.2" width="2.5" height="30.87" fill="#a67c45"/><rect x="109.23" y="201.47" width="2.5" height="31.49" fill="#c85940"/><rect x="112.51" y="202.24" width="2.5" height="31.59" fill="#81a446"/><rect x="115.79" y="200.72" width="2.5" height="32.26" fill="#e98333"/><rect x="119.07" y="203.56" width="2.5" height="30" fill="#96aa1b"/><rect x="122.35" y="200.24" width="2.5" height="34.73" fill="#c3ccfd"/><rect x="125.63" y="203.73" width="2.5" height="31.16" fill="#d54266"/><rect x="128.91" y="203.04" width="2.5" height="30.34" fill="#7186a8"/><rect x="132.19" y="200.81" width="2.5" height="34.19" fill="#1392d9"/><rect x="135.47" y="204.58" width="2.5" height="31.21" fill="#e12e43"/><rect x="138.75" y="198.85" width="2.5" height="32.5" fill="#e5893e"/><rect x="142.03" y="202.65" width="2.5" height="30.45" fill="#2b81c3"/><rect x="145.31" y="200.59" width="2.5" height="32.28" fill="#a05c18"/><rect x="148.59" y="201.62" width="2.5" height="32.68" fill="#c82883"/><rect x="151.87" y="200.88" width="2.5" height="33.62" fill="#17f0eb"/><rect x="155.15" y="202.94" width="2.5" height="31.5" fill="#a56d73"/><rect x="158.43" y="202.81" width="2.5" height="31.28" fill="#81a253"/><rect x="161.71" y="200.28" width="2.5" height="33.13" fill="#755ab8"/><rect x="164.99" y="202.48" width="2.5" height="31.08" fill="#37f6c1"/><rect x="168.27" y="202.21" width="2.5" height="30.81" fill="#bafd0f"/><rect x="171.55" y="200.68" width="2.5" height="32.43" fill="#a42b12"/><rect x="174.83" y="203.44" width="2.5" height="31.9" fill="#b3627b"/><rect x="178.11" y="200.73" width="2.5" height="33.5" fill="#d003bb"/><rect x="181.39" y="203.91" width="2.5" height="30.09" fill="#8375d2"/><rect x="184.67" y="203.52" width="2.5" height="30.85" fill="#0737aa"/><rect x="187.95" y="202.76" width="2.5" height="31" fill="#9ad164"/><rect x="191.23" y="203.22" width="2.5" height="32.06" fill="#9dec24"/><rect x="194.51" y="200.13" width="2.5" height="34.98" fill="#ea9eea"/><rect x="197.79" y="201.5" width="2.5" height="33.99" fill="#a3a883"/><rect x="201.07" y="203.3" width="2.5" height="32.02" fill="#e84a78"/><rect x="204.35" y="203.96" width="2.5" height="30.04" fill="#c6cf9b"/><rect x="207.63" y="201.57" width="2.5" height="31.69" fill="#e9238d"/><rect x="210.91" y="201.03" width="2.5" height="32.71" fill="#db5d55"/><rect x="214.19" y="201.45" width="2.5" height="33.32" fill="#5c01a0"/><rect x="217.47" y="203.25" width="2.5" height="32.34" fill="#fe4167"/><rect x="220.75" y="203.84" width="2.5" height="29.71" fill="#c64a06"/><rect x="224.03" y="201.83" width="2.5" height="32.02" fill="#c3b91c"/><rect x="227.31" y="203.73" width="2.5" height="29.29" fill="#cb2161"/><rect x="230.59" y="202.79" width="2.5" height="30.92" fill="#71c631"/><rect x="233.87" y="203.09" width="2.5" height="30.53" fill="#4938d7"/><rect x="237.15" y="200.45" width="2.5" height="32.46" fill="#5c94a6"/><rect x="240.43" y="203.2" width="2.5" height="31.16" fill="#1840b2"/><rect x="243.71" y="200.16" width="2.5" height="33.69" fill="#a58559"/><rect x="246.99" y="201" width="2.5" height="33.88" fill="#5a49ab"/><rect x="250.27" y="199.72" width="2.5" height="33.18" fill="#09f467"/><rect x="253.55" y="202.51" width="2.5" height="32.09" fill="#e7f323"/><rect x="256.83" y="200.25" width="2.5" height="33.85" fill="#4c0aa6"/><rect x="260.11" y="203.16" width="2.5" height="31.87" fill="#443fd2"/><rect x="263.39" y="201.42" width="2.5" height="31.94" fill="#29cfeb"/><rect x="266.67" y="202.55" width="2.5" height="30.33" fill="#84dc75"/><rect x="269.95" y="200.48" width="2.5" height="33.58" fill="#517ab0"/><rect x="273.23" y="200.83" width="2.5" height="33.32" fill="#b37585"/><rect x="276.51" y="202.01" width="2.5" height="32.21" fill="#1be349"/><rect x="279.79" y="200.63" width="2.5" height="34.36" fill="#c98eed"/><rect x="283.07" y="203.64" width="2.5" height="30.04" fill="#e1a6f6"/><rect x="286.35" y="203.4" width="2.5" height="30.82" fill="#af9be0"/><rect x="289.63" y="201.47" width="2.5" height="31.88" fill="#eb7d76"/><rect x="292.91" y="202.85" width="2.5" height="31.33" fill="#0bd407"/><rect x="296.19" y="202.62" width="2.5" height="34.92" fill="#8baa56"/><rect x="299.47" y="201.5" width="2.5" height="32.77" fill="#2dfd81"/><rect x="302.75" y="202.07" width="2.5" height="33.66" fill="#f5eb22"/><rect x="306.03" y="200.17" width="2.5" height="33.51" fill="#a6b564"/><rect x="309.31" y="202.21" width="2.5" height="32.49" fill="#6cc4f6"/><rect x="312.59" y="202.89" width="2.5" height="30.47" fill="#af8765"/><rect x="315.87" y="201.14" width="2.5" height="32.66" fill="#d5cb91"/><rect x="319.15" y="201.52" width="2.5" height="33.26" fill="#32e084"/><rect x="322.43" y="200.69" width="2.5" height="32.64" fill="#64bd98"/><rect x="325.71" y="201.09" width="2.5" height="32.93" fill="#d15b26"/><rect x="328.99" y="200.47" width="2.5" height="35.07" fill="#c69af5"/><rect x="332.27" y="204.01" width="2.5" height="28.98" fill="#94d6ae"/><rect x="335.55" y="200.38" width="2.5" height="33.92" fill="#a2c012"/><rect x="338.83" y="203.27" width="2.5" height="30.65" fill="#ab1d8c"/><rect x="342.11" y="202.21" width="2.5" height="34.24" fill="#0e14d7"/><rect x="345.39" y="201.52" width="2.5" height="33.42" fill="#4e78b6"/><rect x="348.67" y="201.88" width="2.5" height="33.05" fill="#6bce8a"/><rect x="351.95" y="200.97" width="2.5" height="32.87" fill="#a7ae17"/><rect x="355.23" y="200.94" width="2.5" height="32.54" fill="#246ed5"/><rect x="358.51" y="202.3" width="2.5" height="32.19" fill="#a8bc8e"/><rect x="361.79" y="201.72" width="2.5" height="33.25" fill="#a114a4"/><rect x="365.07" y="200.21" width="2.5" height="33.39" fill="#baa944"/><rect x="368.35" y="201.16" width="2.5" height="32.38" fill="#64fd80"/><rect x="371.63" y="202.68" width="2.5" height="32.89" fill="#e9a0e5"/><rect x="374.91" y="203.18" width="2.5" height="31.97" fill="#8da53d"/><rect x="378.19" y="203.59" width="2.5" height="33.23" fill="#20e43f"/><rect x="381.47" y="200.58" width="2.5" height="34.92" fill="#d7afa2"/><rect x="384.75" y="201.26" width="2.5" height="34.08" fill="#6845c3"/><rect x="388.03" y="203.92" width="2.5" height="31.7" fill="#e069a3"/><rect x="391.31" y="203.67" width="2.5" height="30.25" fill="#ccc88a"/><rect x="394.59" y="203.98" width="2.5" height="31.46" fill="#9ac5a2"/><rect x="397.87" y="203.03" width="2.5" height="31.77" fill="#c8d945"/><rect x="401.15" y="201.57" width="2.5" height="31.94" fill="#55a16b"/><rect x="404.43" y="203.43" width="2.5" height="29.49" fill="#5dcd86"/><rect x="407.71" y="200.24" width="2.5" height="33.1" fill="#8779ed"/><rect x="410.99" y="202.9" width="2.5" height="31.77" fill="#7da1a4"/><rect x="414.27" y="202.31" width="2.5" height="31.48" fill="#c352e3"/><rect x="417.55" y="200.73" width="2.5" height="32.82" fill="#b066c2"/><rect x="420.83" y="199.94" width="2.5" height="32.59" fill="#e3b2b5"/><rect x="424.11" y="203.55" width="2.5" height="29.33" fill="#9811b9"/><rect x="427.39" y="201.31" width="2.5" height="33.3" fill="#6da934"/><rect x="430.67" y="202.95" width="2.5" height="30.99" fill="#a57594"/><rect x="433.95" y="202.13" width="2.5" height="31.11" fill="#6c90f9"/><rect x="437.23" y="203.33" width="2.5" height="30.32" fill="#6e9f66"/><rect x="440.51" y="200.93" width="2.5" height="32.47" fill="#c57905"/><rect x="443.79" y="202.24" width="2.5" height="32.4" fill="#80bd64"/><rect x="447.07" y="201.89" width="2.5" height="31.71" fill="#c5423a"/><rect x="450.35" y="202.77" width="2.5" height="30.43" fill="#1eaf5f"/><rect x="453.63" y="202.63" width="2.5" height="32.59" fill="#1054f1"/><rect x="456.91" y="201.08" width="2.5" height="30.72" fill="#7fd2da"/><rect x="460.19" y="202.19" width="2.5" height="33.11" fill="#fe85e5"/><rect x="463.47" y="200.79" width="2.5" height="32.25" fill="#6fca17"/><rect x="466.75" y="203.73" width="2.5" height="30.15" fill="#b242f5"/><rect x="470.03" y="202.25" width="2.5" height="35.16" fill="#fdc5e6"/><rect x="473.31" y="201.41" width="2.5" height="33.76" fill="#6783af"/><rect x="476.59" y="200.35" width="2.5" height="35.05" fill="#8bc595"/><rect x="479.87" y="202.24" width="2.5" height="32.32" fill="#40b90e"/><rect x="483.15" y="201.12" width="2.5" height="33.5" fill="#55df28"/><rect x="486.43" y="202.38" width="2.5" height="32.64" fill="#c169a0"/><rect x="489.71" y="200.32" width="2.5" height="32.83" fill="#403bfc"/><rect x="492.99" y="201.29" width="2.5" height="32.58" fill="#c18e92"/><rect x="496.27" y="202.74" width="2.5" height="33.05" fill="#8ef1de"/><rect x="499.55" y="201.94" width="2.5" height="32.26" fill="#cfba71"/><rect x="502.83" y="203.17" width="2.5" height="32.41" fill="#d0c203"/><rect x="506.11" y="203.97" width="2.5" height="30.57" fill="#bb7263"/><rect x="509.39" y="203.29" width="2.5" height="32.71" fill="#ce3566"/><rect x="512.67" y="202.58" width="2.5" height="32.41" fill="#d175cf"/><rect x="515.95" y="202.57" width="2.5" height="33" fill="#fb453d"/><rect x="519.23" y="201.72" width="2.5" height="32.26" fill="#a7eb66"/><rect x="522.51" y="203.68" width="2.5" height="30.1" fill="#b5bde8"/><rect x="525.79" y="203.93" width="2.5" height="29.97" fill="#867cf6"/><rect x="529.07" y="202.27" width="2.5" height="32.38" fill="#d37ed2"/><rect x="532.35" y="200.43" width="2.5" height="33.7" fill="#74c7ba"/><rect x="535.63" y="202.51" width="2.5" height="31.25" fill="#60bf67"/><rect x="538.91" y="202.62" width="2.5" height="30.69" fill="#70d522"/><rect x="542.19" y="202.33" width="2.5" height="31.34" fill="#70a818"/><rect x="545.47" y="201.87" width="2.5" height="32.23" fill="#9553b1"/><rect x="548.75" y="200.51" width="2.5" height="33.55" fill="#b71ea1"/><rect x="552.03" y="203.03" width="2.5" height="31.86" fill="#f179d4"/><rect x="555.31" y="201.45" width="2.5" height="32.75" fill="#ab5cc9"/><rect x="558.59" y="202.66" width="2.5" height="31.45" fill="#d4a3c0"/><rect x="561.87" y="201.42" width="2.5" height="34.14" fill="#832fa5"/><rect x="565.15" y="203.25" width="2.5" height="31.05" fill="#ab2d41"/><rect x="568.43" y="200.32" width="2.5" height="32.61" fill="#4532d9"/><rect x="571.71" y="203.58" width="2.5" height="32.07" fill="#87bbec"/><rect x="574.99" y="202.43" width="2.5" height="30.91" fill="#27ca29"/><rect x="578.27" y="202.15" width="2.5" height="32.86" fill="#59af0c"/><rect x="581.55" y="200.94" width="2.5" height="32.86" fill="#c04850"/><rect x="584.83" y="200.97" width="2.5" height="32.49" fill="#119f8a"/><rect x="588.11" y="203.22" width="2.5" height="32.11" fill="#735bb0"/><rect x="591.39" y="202.25" width="2.5" height="30.75" fill="#93bb96"/><rect x="594.67" y="201.05" width="2.5" height="33.05" fill="#a36cce"/><rect x="597.95" y="200.23" width="2.5" height="33.22" fill="#e88794"/><rect x="601.23" y="203.19" width="2.5" height="30.42" fill="#b7bb95"/><rect x="604.51" y="201.59" width="2.5" height="32.79" fill="#62f6d3"/><rect x="607.79" y="202.03" width="2.5" height="33.24" fill="#b9b45f"/><rect x="611.07" y="200.42" width="2.5" height="33.88" fill="#70ceb9"/><rect x="614.35" y="203.69" width="2.5" height="30.78" fill="#48d0d3"/><rect x="617.63" y="202.06" width="2.5" height="31.26" fill="#eb2c8b"/><rect x="620.91" y="202.83" width="2.5" height="30.56" fill="#dc72ab"/><rect x="624.19" y="202.81" width="2.5" height="30.42" fill="#ae88f2"/><rect x="627.47" y="201.53" width="2.5" height="31.49" fill="#a4e930"/><rect x="630.75" y="201.49" width="2.5" height="33.71" fill="#fb3971"/><rect x="634.03" y="203.88" width="2.5" height="30.45" fill="#8aa4bd"/><rect x="637.31" y="201.53" width="2.5" height="31.48" fill="#2be79c"/><rect x="640.59" y="201.91" width="2.5" height="33.11" fill="#63bce3"/><rect x="643.87" y="202.24" width="2.5" height="31.47" fill="#e19862"/><rect x="647.15" y="202.45" width="2.5" height="31.15" fill="#9f7b69"/><rect x="650.43" y="200.55" width="2.5" height="30.11" fill="#c53aaa"/><rect x="653.71" y="202.27" width="2.5" height="31.43" fill="#3aca1b"/><rect x="656.99" y="200.21" width="2.5" height="32.94" fill="#de2e63"/><rect x="660.27" y="200.2" width="2.5" height="33.98" fill="#e3fead"/><rect x="663.55" y="200.76" width="2.5" height="32.62" fill="#7bd425"/><rect x="666.83" y="201.19" width="2.5" height="33.62" fill="#0e41de"/><rect x="670.11" y="202.22" width="2.5" height="31.77" fill="#e1995e"/><rect x="673.39" y="201.92" width="2.5" height="32.78" fill="#af7f92"/><rect x="676.67" y="202.11" width="2.5" height="32.87" fill="#b8a9f3"/><rect x="679.95" y="201.8" width="2.5" height="31.6" fill="#c84f69"/><rect x="683.23" y="202.63" width="2.5" height="32.61" fill="#70a21b"/><rect x="686.51" y="203.65" width="2.5" height="30.41" fill="#e1cfb3"/><rect x="689.79" y="202.2" width="2.5" height="32.61" fill="#90bc6f"/><rect x="693.07" y="202.02" width="2.5" height="32.36" fill="#44c3c3"/><rect x="696.35" y="200.54" width="2.5" height="32.92" fill="#99f275"/><rect x="699.63" y="202.47" width="2.5" height="31.96" fill="#6fd203"/><rect x="702.91" y="203.72" width="2.5" height="29.16" fill="#0780c8"/><rect x="706.19" y="200.51" width="2.5" height="33.89" fill="#6979b3"/><rect x="709.47" y="200.29" width="2.5" height="34.49" fill="#815ba1"/><rect x="712.75" y="201.45" width="2.5" height="34.86" fill="#d47a9d"/><rect x="716.03" y="202.09" width="2.5" height="33.12" fill="#aeba55"/><rect x="719.31" y="202.52" width="2.5" height="31.4" fill="#c22201"/><rect x="722.59" y="202.07" width="2.5" height="33.15" fill="#a17957"/><rect x="725.87" y="201.05" width="2.5" height="32.54" fill="#c37868"/><rect x="729.15" y="203.87" width="2.5" height="29.23" fill="#d1d168"/><rect x="732.43" y="202.17" width="2.5" height="32.45" fill="#4c8cd2"/><rect x="735.71" y="201.26" width="2.5" height="33.4" fill="#2907b0"/><rect x="738.99" y="198.98" width="2.5" height="31.85" fill="#dd1516"/><rect x="742.27" y="200.98" width="2.5" height="34.38" fill="#15fdb4"/><rect x="745.55" y="203.24" width="2.5" height="30.05" fill="#a4232a"/><rect x="748.83" y="200.37" width="2.5" height="32.89" fill="#8477e9"/><rect x="752.11" y="202.4" width="2.5" height="33.23" fill="#caa775"/><rect x="755.39" y="203.58" width="2.5" height="31.09" fill="#71c5d8"/><rect x="758.67" y="200.57" width="2.5" height="33.06" fill="#af7ccb"/><rect x="761.95" y="203.79" width="2.5" height="30.48" fill="#45ecbf"/><rect x="765.23" y="202.62" width="2.5" height="31.73" fill="#d8c94a"/><rect x="768.51" y="203.19" width="2.5" height="29.99" fill="#c6aedf"/><rect x="771.79" y="201.95" width="2.5" height="30.31" fill="#c2d87c"/><rect x="775.07" y="203.73" width="2.5" height="30.16" fill="#c4a3ce"/><rect x="778.35" y="201.87" width="2.5" height="33.16" fill="#8576cb"/><rect x="781.63" y="202.6" width="2.5" height="31.28" fill="#357fe8"/><rect x="784.91" y="202.56" width="2.5" height="31.31" fill="#c82eef"/><rect x="788.19" y="200.91" width="2.5" height="34.54" fill="#b66499"/><rect x="791.47" y="203.23" width="2.5" height="31.14" fill="#a67cb0"/><rect x="794.75" y="202.25" width="2.5" height="33.45" fill="#d573a1"/><rect x="798.03" y="204.82" width="2.5" height="32.09" fill="#7edecf"/><rect x="801.31" y="201.33" width="2.5" height="32.35" fill="#bcb504"/><rect x="804.59" y="200.72" width="2.5" height="34.06" fill="#67d71d"/><rect x="807.87" y="201.39" width="2.5" height="33.61" fill="#c26b71"/><rect x="811.15" y="200.83" width="2.5" height="32.73" fill="#aa3574"/><rect x="814.43" y="202.31" width="2.5" height="31.19" fill="#6fac6c"/><rect x="817.71" y="201.8" width="2.5" height="35.13" fill="#6a93c3"/><rect x="820.99" y="200.94" width="2.5" height="32.71" fill="#4ecba7"/><rect x="824.27" y="200.36" width="2.5" height="32.61" fill="#7ae0bc"/><rect x="827.55" y="202.9" width="2.5" height="32.69" fill="#73bf1e"/><rect x="830.83" y="202.46" width="2.5" height="31.71" fill="#88ba6a"/><rect x="834.11" y="200.59" width="2.5" height="35.09" fill="#3a92bf"/><rect x="837.39" y="201.19" width="2.5" height="31.97" fill="#e683d8"/><rect x="840.67" y="200.41" width="2.5" height="34.39" fill="#229e0b"/><rect x="843.95" y="203.7" width="2.5" height="31.25" fill="#83f386"/><rect x="847.23" y="203.59" width="2.5" height="30.21" fill="#ee0d69"/><rect x="850.51" y="202.65" width="2.5" height="31.34" fill="#b56b53"/><rect x="853.79" y="199.61" width="2.5" height="30.64" fill="#9a9cdc"/><rect x="857.07" y="200.32" width="2.5" height="32.65" fill="#ad83ef"/><rect x="860.35" y="200.16" width="2.5" height="33" fill="#e4640d"/><rect x="863.63" y="201.88" width="2.5" height="31.9" fill="#2df690"/><rect x="866.91" y="201.63" width="2.5" height="32" fill="#3937ec"/><rect x="870.19" y="201.62" width="2.5" height="34.07" fill="#0137d7"/><rect x="873.47" y="202.47" width="2.5" height="30.68" fill="#7265bb"/><rect x="876.75" y="202.69" width="2.5" height="30.73" fill="#cd57a1"/><rect x="880.03" y="201.36" width="2.5" height="34.43" fill="#efc324"/><rect x="883.31" y="201.66" width="2.5" height="32.28" fill="#b78c6d"/><rect x="886.59" y="200.49" width="2.5" height="33.33" fill="#5d83a7"/><rect x="889.87" y="200.93" width="2.5" height="34.81" fill="#8a78d1"/><rect x="893.15" y="202.73" width="2.5" height="30.98" fill="#e85ab9"/><rect x="896.43" y="200.19" width="2.5" height="33.38" fill="#b44c68"/><rect x="899.71" y="202.58" width="2.5" height="31.95" fill="#0c40a2"/><rect x="902.99" y="203.06" width="2.5" height="30.58" fill="#08a42a"/><rect x="906.27" y="202.63" width="2.5" height="32.87" fill="#ec844f"/></g>
<path d="M105.6 217.09L108.8 217.09L108.88 216.98L112.08 216.98L112.16 217.34L115.36 217.34L115.44 217.64L118.64 217.64L118.72 217.38L121.92 217.38L122 216.77L125.2 216.77L125.28 217.55L128.48 217.55L128.56 217.44L131.76 217.44L131.84 217L135.04 217L135.12 217.45L138.32 217.45L138.4 217.62L141.6 217.62L141.68 216.9L144.88 216.9L144.96 216.86L148.16 216.86L148.24 216.65L151.44 216.65L151.52 216.65L154.72 216.65L154.8 217.41L158 217.41L158.08 216.79L161.28 216.79L161.36 216.9L164.56 216.9L164.64 216.79L167.84 216.79L167.92 216.94L171.12 216.94L171.2 217.27L174.4 217.27L174.48 217.08L177.68 217.08L177.76 217.04L180.96 217.04L181.04 216.59L184.24 216.59L184.32 217.17L187.52 217.17L187.6 217.26L190.8 217.26L190.88 216.96L194.08 216.96L194.16 216.68L197.36 216.68L197.44 216.6L200.64 216.6L200.72 217.42L203.92 217.42L204 216.88L207.2 216.88L207.28 217.21L210.48 217.21L210.56 216.82L213.76 216.82L213.84 217.03L217.04 217.03L217.12 217.24L220.32 217.24L220.4 216.64L223.6 216.64L223.68 217.34L226.88 217.34L226.96 216.66L230.16 216.66L230.24 217.59L233.44 217.59L233.52 217.52L236.72 217.52L236.8 216.69L240 216.69L240.08 217.27L243.28 217.27L243.36 217.29L246.56 217.29L246.64 217.56L249.84 217.56L249.92 216.63L253.12 216.63L253.2 217.43L256.4 217.43L256.48 216.94L259.68 216.94L259.76 216.81L262.96 216.81L263.04 216.72L266.24 216.72L266.32 217.46L269.52 217.46L269.6 217.6L272.8 217.6L272.88 217.12L276.08 217.12L276.16 217.35L279.36 217.35L279.44 217.08L282.64 217.08L282.72 217.12L285.92 217.12L286 216.74L289.2 216.74L289.28 217.63L292.48 217.63L292.56 217.28L295.76 217.28L295.84 216.88L299.04 216.88L299.12 216.81L302.32 216.81L302.4 217.53L305.6 217.53L305.68 217.08L308.88 217.08L308.96 217.51L312.16 217.51L312.24 216.67L315.44 216.67L315.52 217.23L318.72 217.23L318.8 217.6L322 217.6L322.08 217.2L325.28 217.2L325.36 217.31L328.56 217.31L328.64 216.6L331.84 216.6L331.92 217.38L335.12 217.38L335.2 216.59L338.4 216.59L338.48 216.69L341.68 216.69L341.76 217.43L344.96 217.43L345.04 217.55L348.24 217.55L348.32 217.44L351.52 217.44L351.6 217.08L354.8 217.08L354.88 217.39L358.08 217.39L358.16 217.36L361.36 217.36L361.44 217.55L364.64 217.55L364.72 217.49L367.92 217.49L368 217.39L371.2 217.39L371.28 216.89L374.48 216.89L374.56 217.14L377.76 217.14L377.84 216.64L381.04 216.64L381.12 217.29L384.32 217.29L384.4 217.36L387.6 217.36L387.68 216.96L390.88 216.96L390.96 217.18L394.16 217.18L394.24 217.01L397.44 217.01L397.52 217.62L400.72 217.62L400.8 216.97L404 216.97L404.08 217.43L407.28 217.43L407.36 217.28L410.56 217.28L410.64 216.83L413.84 216.83L413.92 217.47L417.12 217.47L417.2 216.75L420.4 216.75L420.48 217.5L423.68 217.5L423.76 217.29L426.96 217.29L427.04 217.05L430.24 217.05L430.32 217.4L433.52 217.4L433.6 217.19L436.8 217.19L436.88 217.61L440.08 217.61L440.16 216.85L443.36 216.85L443.44 217.24L446.64 217.24L446.72 216.91L449.92 216.91L450 216.83L453.2 216.83L453.28 216.57L456.48 216.57L456.56 216.92L459.76 216.92L459.84 216.57L463.04 216.57L463.12 216.78L466.32 216.78L466.4 217.04L469.6 217.04L469.68 216.74L472.88 216.74L472.96 217.18L476.16 217.18L476.24 216.98L479.44 216.98L479.52 217.09L482.72 217.09L482.8 216.99L486 216.99L486.08 217.27L489.28 217.27L489.36 217.62L492.56 217.62L492.64 216.56L495.84 216.56L495.92 216.84L499.12 216.84L499.2 217.52L502.4 217.52L502.48 217.15L505.68 217.15L505.76 217.48L508.96 217.48L509.04 217.52L512.24 217.52L512.32 217.18L515.52 217.18L515.6 217.39L518.8 217.39L518.88 217.3L522.08 217.3L522.16 216.58L525.36 216.58L525.44 216.63L528.64 216.63L528.72 217.17L531.92 217.17L532 217.41L535.2 217.41L535.28 216.8L538.48 216.8L538.56 217.01L541.76 217.01L541.84 216.97L545.04 216.97L545.12 217.28L548.32 217.28L548.4 216.64L551.6 216.64L551.68 217.5L554.88 217.5L554.96 216.65L558.16 216.65L558.24 217.39L561.44 217.39L561.52 217.57L564.72 217.57L564.8 216.88L568 216.88L568.08 216.64L571.28 216.64L571.36 216.7L574.56 216.7L574.64 217.28L577.84 217.28L577.92 216.8L581.12 216.8L581.2 217.06L584.4 217.06L584.48 217.28L587.68 217.28L587.76 216.69L590.96 216.69L591.04 217.24L594.24 217.24L594.32 217.07L597.52 217.07L597.6 217.15L600.8 217.15L600.88 217.62L604.08 217.62L604.16 217.3L607.36 217.3L607.44 216.58L610.64 216.58L610.72 217.09L613.92 217.09L614 216.78L617.2 216.78L617.28 217.27L620.48 217.27L620.56 217.38L623.76 217.38L623.84 217.44L627.04 217.44L627.12 217.11L630.32 217.11L630.4 216.9L633.6 216.9L633.68 216.71L636.88 216.71L636.96 217.19L640.16 217.19L640.24 216.56L643.44 216.56L643.52 217.17L646.72 217.17L646.8 216.94L650 216.94L650.08 217.01L653.28 217.01L653.36 217.25L656.56 217.25L656.64 216.79L659.84 216.79L659.92 217.27L663.12 217.27L663.2 217.22L666.4 217.22L666.48 216.61L669.68 216.61L669.76 217.07L672.96 217.07L673.04 217.62L676.24 217.62L676.32 216.89L679.52 216.89L679.6 216.98L682.8 216.98L682.88 216.88L686.08 216.88L686.16 217.59L689.36 217.59L689.44 217.33L692.64 217.33L692.72 217.31L695.92 217.31L696 217.4L699.2 217.4L699.28 217.04L702.48 217.04L702.56 216.57L705.76 216.57L705.84 216.91L709.04 216.91L709.12 217.04L712.32 217.04L712.4 217.3L715.6 217.3L715.68 216.6L718.88 216.6L718.96 216.87L722.16 216.87L722.24 217.1L725.44 217.1L725.52 216.86L728.72 216.86L728.8 217.52L732 217.52L732.08 217.6L735.28 217.6L735.36 216.66L738.56 216.66L738.64 217.25L741.84 217.25L741.92 217.58L745.12 217.58L745.2 217.04L748.4 217.04L748.48 217.19L751.68 217.19L751.76 217.44L754.96 217.44L755.04 216.95L758.24 216.95L758.32 217.04L761.52 217.04L761.6 217.5L764.8 217.5L764.88 216.56L768.08 216.56L768.16 217.63L771.36 217.63L771.44 216.8L774.64 216.8L774.72 216.64L777.92 216.64L778 217.3L781.2 217.3L781.28 217.24L784.48 217.24L784.56 217.2L787.76 217.2L787.84 216.65L791.04 216.65L791.12 217.33L794.32 217.33L794.4 217L797.6 217L797.68 216.57L800.88 216.57L800.96 217.03L804.16 217.03L804.24 216.77L807.44 216.77L807.52 217.53L810.72 217.53L810.8 216.63L814 216.63L814.08 217.15L817.28 217.15L817.36 216.74L820.56 216.74L820.64 217.55L823.84 217.55L823.92 217.46L827.12 217.46L827.2 217.33L830.4 217.33L830.48 217.03L833.68 217.03L833.76 217.25L836.96 217.25L837.04 216.91L840.24 216.91L840.32 217.46L843.52 217.46L843.6 216.88L846.8 216.88L846.88 217.28L850.08 217.28L850.16 216.57L853.36 216.57L853.44 217.13L856.64 217.13L856.72 216.64L859.92 216.64L860 217.16L863.2 217.16L863.28 217.53L866.48 217.53L866.56 217.26L869.76 217.26L869.84 216.95L873.04 216.95L873.12 217.63L876.32 217.63L876.4 216.59L879.6 216.59L879.68 216.81L882.88 216.81L882.96 217.5L886.16 217.5L886.24 216.57L889.44 216.57L889.52 217.58L892.72 217.58L892.8 216.81L896 216.81L896.08 217.01L899.28 217.01L899.36 216.61L902.56 216.61L902.64 217.47L905.84 217.47L905.92 217.42L909.12 217.42" stroke="#000" stroke-width="1.35" fill="none"/>
<rect x="73.5" y="80.6" width="868.3" height="220.3" fill="none" stroke="#222" stroke-width="0.9"/>
<text x="68" y="277.86" font-size="4.6" text-anchor="end" font-weight="bold">2</text>
<text x="68" y="249.02" font-size="4.6" text-anchor="end" font-weight="bold">4</text>
<text x="68" y="220.18" font-size="4.6" text-anchor="end" font-weight="bold">6</text>
<text x="68" y="191.34" font-size="4.6" text-anchor="end" font-weight="bold">8</text>
<text x="68" y="162.5" font-size="4.6" text-anchor="end" font-weight="bold">10</text>
<text x="68" y="133.66" font-size="4.6" text-anchor="end" font-weight="bold">12</text>
<text x="68" y="104.82" font-size="4.6" text-anchor="end" font-weight="bold">14</text>
<path d="M70.6 276.26H73.5M70.6 247.42H73.5M70.6 218.58H73.5M70.6 189.74H73.5M70.6 160.9H73.5M70.6 132.06H73.5M70.6 103.22H73.5M107.2 300.9v3.2M110.48 300.9v3.2M113.76 300.9v3.2M117.04 300.9v3.2M120.32 300.9v3.2M123.6 300.9v3.2M126.88 300.9v3.2M130.16 300.9v3.2M133.44 300.9v3.2M136.72 300.9v3.2M140 300.9v3.2M143.28 300.9v3.2M146.56 300.9v3.2M149.84 300.9v3.2M153.12 300.9v3.2M156.4 300.9v3.2M159.68 300.9v3.2M162.96 300.9v3.2M166.24 300.9v3.2M169.52 300.9v3.2M172.8 300.9v3.2M176.08 300.9v3.2M179.36 300.9v3.2M182.64 300.9v3.2M185.92 300.9v3.2M189.2 300.9v3.2M192.48 300.9v3.2M195.76 300.9v3.2M199.04 300.9v3.2M202.32 300.9v3.2M205.6 300.9v3.2M208.88 300.9v3.2M212.16 300.9v3.2M215.44 300.9v3.2M218.72 300.9v3.2M222 300.9v3.2M225.28 300.9v3.2M228.56 300.9v3.2M231.84 300.9v3.2M235.12 300.9v3.2M238.4 300.9v3.2M241.68 300.9v3.2M244.96 300.9v3.2M248.24 300.9v3.2M251.52 300.9v3.2M254.8 300.9v3.2M258.08 300.9v3.2M261.36 300.9v3.2M264.64 300.9v3.2M267.92 300.9v3.2M271.2 300.9v3.2M274.48 300.9v3.2M277.76 300.9v3.2M281.04 300.9v3.2M284.32 300.9v3.2M287.6 300.9v3.2M290.88 300.9v3.2M294.16 300.9v3.2M297.44 300.9v3.2M300.72 300.9v3.2M304 300.9v3.2M307.28 300.9v3.2M310.56 300.9v3.2M313.84 300.9v3.2M317.12 300.9v3.2M320.4 300.9v3.2M323.68 300.9v3.2M326.96 300.9v3.2M330.24 300.9v3.2M333.52 300.9v3.2M336.8 300.9v3.2M340.08 300.9v3.2M343.36 300.9v3.2M346.64 300.9v3.2M349.92 300.9v3.2M353.2 300.9v3.2M356.48 300.9v3.2M359.76 300.9v3.2M363.04 300.9v3.2M366.32 300.9v3.2M369.6 300.9v3.2M372.88 300.9v3.2M376.16 300.9v3.2M379.44 300.9v3.2M382.72 300.9v3.2M386 300.9v3.2M389.28 300.9v3.2M392.56 300.9v3.2M395.84 300.9v3.2M399.12 300.9v3.2M402.4 300.9v3.2M405.68 300.9v3.2M408.96 300.9v3.2M412.24 300.9v3.2M415.52 300.9v3.2M418.8 300.9v3.2M422.08 300.9v3.2M425.36 300.9v3.2M428.64 300.9v3.2M431.92 300.9v3.2M435.2 300.9v3.2M438.48 300.9v3.2M441.76 300.9v3.2M445.04 300.9v3.2M448.32 300.9v3.2M451.6 300.9v3.2M454.88 300.9v3.2M458.16 300.9v3.2M461.44 300.9v3.2M464.72 300.9v3.2M468 300.9v3.2M471.28 300.9v3.2M474.56 300.9v3.2M477.84 300.9v3.2M481.12 300.9v3.2M484.4 300.9v3.2M487.68 300.9v3.2M490.96 300.9v3.2M494.24 300.9v3.2M497.52 300.9v3.2M500.8 300.9v3.2M504.08 300.9v3.2M507.36 300.9v3.2M510.64 300.9v3.2M513.92 300.9v3.2M517.2 300.9v3.2M520.48 300.9v3.2M523.76 300.9v3.2M527.04 300.9v3.2M530.32 300.9v3.2M533.6 300.9v3.2M536.88 300.9v3.2M540.16 300.9v3.2M543.44 300.9v3.2M546.72 300.9v3.2M550 300.9v3.2M553.28 300.9v3.2M556.56 300.9v3.2M559.84 300.9v3.2M563.12 300.9v3.2M566.4 300.9v3.2M569.68 300.9v3.2M572.96 300.9v3.2M576.24 300.9v3.2M579.52 300.9v3.2M582.8 300.9v3.2M586.08 300.9v3.2M589.36 300.9v3.2M592.64 300.9v3.2M595.92 300.9v3.2M599.2 300.9v3.2M602.48 300.9v3.2M605.76 300.9v3.2M609.04 300.9v3.2M612.32 300.9v3.2M615.6 300.9v3.2M618.88 300.9v3.2M622.16 300.9v3.2M625.44 300.9v3.2M628.72 300.9v3.2M632 300.9v3.2M635.28 300.9v3.2M638.56 300.9v3.2M641.84 300.9v3.2M645.12 300.9v3.2M648.4 300.9v3.2M651.68 300.9v3.2M654.96 300.9v3.2M658.24 300.9v3.2M661.52 300.9v3.2M664.8 300.9v3.2M668.08 300.9v3.2M671.36 300.9v3.2M674.64 300.9v3.2M677.92 300.9v3.2M681.2 300.9v3.2M684.48 300.9v3.2M687.76 300.9v3.2M691.04 300.9v3.2M694.32 300.9v3.2M697.6 300.9v3.2M700.88 300.9v3.2M704.16 300.9v3.2M707.44 300.9v3.2M710.72 300.9v3.2M714 300.9v3.2M717.28 300.9v3.2M720.56 300.9v3.2M723.84 300.9v3.2M727.12 300.9v3.2M730.4 300.9v3.2M733.68 300.9v3.2M736.96 300.9v3.2M740.24 300.9v3.2M743.52 300.9v3.2M746.8 300.9v3.2M750.08 300.9v3.2M753.36 300.9v3.2M756.64 300.9v3.2M759.92 300.9v3.2M763.2 300.9v3.2M766.48 300.9v3.2M769.76 300.9v3.2M773.04 300.9v3.2M776.32 300.9v3.2M779.6 300.9v3.2M782.88 300.9v3.2M786.16 300.9v3.2M789.44 300.9v3.2M792.72 300.9v3.2M796 300.9v3.2M799.28 300.9v3.2M802.56 300.9v3.2M805.84 300.9v3.2M809.12 300.9v3.2M812.4 300.9v3.2M815.68 300.9v3.2M818.96 300.9v3.2M822.24 300.9v3.2M825.52 300.9v3.2M828.8 300.9v3.2M832.08 300.9v3.2M835.36 300.9v3.2M838.64 300.9v3.2M841.92 300.9v3.2M845.2 300.9v3.2M848.48 300.9v3.2M851.76 300.9v3.2M855.04 300.9v3.2M858.32 300.9v3.2M861.6 300.9v3.2M864.88 300.9v3.2M868.16 300.9v3.2M871.44 300.9v3.2M874.72 300.9v3.2M878 300.9v3.2M881.28 300.9v3.2M884.56 300.9v3.2M887.84 300.9v3.2M891.12 300.9v3.2M894.4 300.9v3.2M897.68 300.9v3.2M900.96 300.9v3.2M904.24 300.9v3.2M907.52 300.9v3.2" stroke="#000" stroke-width="0.6" fill="none"/>
<g font-size="5.4" font-weight="bold" stroke="#000" stroke-width="0.22"><text transform="translate(108.9 340.3) rotate(-90)">GSM5570971</text><text transform="translate(115.46 340.3) rotate(-90)">GSM5570973</text><text transform="translate(122.02 340.3) rotate(-90)">GSM5570975</text><text transform="translate(128.58 340.3) rotate(-90)">GSM5570977</text><text transform="translate(135.14 340.3) rotate(-90)">GSM5570979</text><text transform="translate(141.7 340.3) rotate(-90)">GSM5570981</text><text transform="translate(148.26 340.3) rotate(-90)">GSM5570983</text><text transform="translate(154.82 340.3) rotate(-90)">GSM5570985</text><text transform="translate(161.38 340.3) rotate(-90)">GSM5570987</text><text transform="translate(167.94 340.3) rotate(-90)">GSM5570989</text><text transform="translate(174.5 340.3) rotate(-90)">GSM5570991</text><text transform="translate(181.06 340.3) rotate(-90)">GSM5570992</text><text transform="translate(187.62 340.3) rotate(-90)">GSM5570994</text><text transform="translate(194.18 340.3) rotate(-90)">GSM5570996</text><text transform="translate(200.74 340.3) rotate(-90)">GSM5570998</text><text transform="translate(207.3 340.3) rotate(-90)">GSM5571000</text><text transform="translate(213.86 340.3) rotate(-90)">GSM5571002</text><text transform="translate(220.42 340.3) rotate(-90)">GSM5571004</text><text transform="translate(226.98 340.3) rotate(-90)">GSM5571006</text><text transform="translate(233.54 340.3) rotate(-90)">GSM5571008</text><text transform="translate(240.1 340.3) rotate(-90)">GSM5571010</text><text transform="translate(246.66 340.3) rotate(-90)">GSM5571012</text><text transform="translate(253.22 340.3) rotate(-90)">GSM5571014</text><text transform="translate(259.78 340.3) rotate(-90)">GSM5571016</text><text transform="translate(266.34 340.3) rotate(-90)">GSM5571018</text><text transform="translate(272.9 340.3) rotate(-90)">GSM5571020</text><text transform="translate(279.46 340.3) rotate(-90)">GSM5571022</text><text transform="translate(286.02 340.3) rotate(-90)">GSM5571024</text><text transform="translate(292.58 340.3) rotate(-90)">GSM5571026</text><text transform="translate(299.14 340.3) rotate(-90)">GSM5571028</text><text transform="translate(305.7 340.3) rotate(-90)">GSM5571030</text><text transform="translate(312.26 340.3) rotate(-90)">GSM5571031</text><text transform="translate(318.82 340.3) rotate(-90)">GSM5571033</text><text transform="translate(325.38 340.3) rotate(-90)">GSM5571035</text><text transform="translate(331.94 340.3) rotate(-90)">GSM5571037</text><text transform="translate(338.5 340.3) rotate(-90)">GSM5571039</text><text transform="translate(345.06 340.3) rotate(-90)">GSM5571041</text><text transform="translate(351.62 340.3) rotate(-90)">GSM5571043</text><text transform="translate(358.18 340.3) rotate(-90)">GSM5571045</text><text transform="translate(364.74 340.3) rotate(-90)">GSM5571047</text><text transform="translate(371.3 340.3) rotate(-90)">GSM5571049</text><text transform="translate(377.86 340.3) rotate(-90)">GSM5571051</text><text transform="translate(384.42 340.3) rotate(-90)">GSM5571053</text><text transform="translate(390.98 340.3) rotate(-90)">GSM5571055</text><text transform="translate(397.54 340.3) rotate(-90)">GSM5571057</text><text transform="translate(404.1 340.3) rotate(-90)">GSM5571059</text><text transform="translate(410.66 340.3) rotate(-90)">GSM5571061</text><text transform="translate(417.22 340.3) rotate(-90)">GSM5571063</text><text transform="translate(423.78 340.3) rotate(-90)">GSM5571065</text><text transform="translate(430.34 340.3) rotate(-90)">GSM5571067</text><text transform="translate(436.9 340.3) rotate(-90)">GSM5571069</text><text transform="translate(443.46 340.3) rotate(-90)">GSM5571070</text><text transform="translate(450.02 340.3) rotate(-90)">GSM5571072</text><text transform="translate(456.58 340.3) rotate(-90)">GSM5571074</text><text transform="translate(463.14 340.3) rotate(-90)">GSM5571076</text><text transform="translate(469.7 340.3) rotate(-90)">GSM5571078</text><text transform="translate(476.26 340.3) rotate(-90)">GSM5571080</text><text transform="translate(482.82 340.3) rotate(-90)">GSM5571082</text><text transform="translate(489.38 340.3) rotate(-90)">GSM5571084</text><text transform="translate(495.94 340.3) rotate(-90)">GSM5571086</text><text transform="translate(502.5 340.3) rotate(-90)">GSM5571088</text><text transform="translate(509.06 340.3) rotate(-90)">GSM5571090</text><text transform="translate(515.62 340.3) rotate(-90)">GSM5571092</text><text transform="translate(522.18 340.3) rotate(-90)">GSM5571094</text><text transform="translate(528.74 340.3) rotate(-90)">GSM5571096</text><text transform="translate(535.3 340.3) rotate(-90)">GSM5571098</text><text transform="translate(541.86 340.3) rotate(-90)">GSM5571100</text><text transform="translate(548.42 340.3) rotate(-90)">GSM5571102</text><text transform="translate(554.98 340.3) rotate(-90)">GSM5571104</text><text transform="translate(561.54 340.3) rotate(-90)">GSM5571106</text><text transform="translate(568.1 340.3) rotate(-90)">GSM5571108</text><text transform="translate(574.66 340.3) rotate(-90)">GSM5571110</text><text transform="translate(581.22 340.3) rotate(-90)">GSM5571111</text><text transform="translate(587.78 340.3) rotate(-90)">GSM5571113</text><text transform="translate(594.34 340.3) rotate(-90)">GSM5571115</text><text transform="translate(600.9 340.3) rotate(-90)">GSM5571117</text><text transform="translate(607.46 340.3) rotate(-90)">GSM5571119</text><text transform="translate(614.02 340.3) rotate(-90)">GSM5571121</text><text transform="translate(620.58 340.3) rotate(-90)">GSM5571123</text><text transform="translate(627.14 340.3) rotate(-90)">GSM5571125</text><text transform="translate(633.7 340.3) rotate(-90)">GSM5571127</text><text transform="translate(640.26 340.3) rotate(-90)">GSM5571129</text><text transform="translate(646.82 340.3) rotate(-90)">GSM5571131</text><text transform="translate(653.38 340.3) rotate(-90)">GSM5571133</text><text transform="translate(659.94 340.3) rotate(-90)">GSM5571135</text><text transform="translate(666.5 340.3) rotate(-90)">GSM5571137</text><text transform="translate(673.06 340.3) rotate(-90)">GSM5571139</text><text transform="translate(679.62 340.3) rotate(-90)">GSM5571141</text><text transform="translate(686.18 340.3) rotate(-90)">GSM5571143</text><text transform="translate(692.74 340.3) rotate(-90)">GSM5571145</text><text transform="translate(699.3 340.3) rotate(-90)">GSM5571147</text><text transform="translate(705.86 340.3) rotate(-90)">GSM5571149</text><text transform="translate(712.42 340.3) rotate(-90)">GSM5571150</text><text transform="translate(718.98 340.3) rotate(-90)">GSM5571152</text><text transform="translate(725.54 340.3) rotate(-90)">GSM5571154</text><text transform="translate(732.1 340.3) rotate(-90)">GSM5571156</text><text transform="translate(738.66 340.3) rotate(-90)">GSM5571158</text><text transform="translate(745.22 340.3) rotate(-90)">GSM5571160</text><text transform="translate(751.78 340.3) rotate(-90)">GSM5571162</text><text transform="translate(758.34 340.3) rotate(-90)">GSM5571164</text><text transform="translate(764.9 340.3) rotate(-90)">GSM5571166</text><text transform="translate(771.46 340.3) rotate(-90)">GSM5571168</text><text transform="translate(778.02 340.3) rotate(-90)">GSM5571170</text><text transform="translate(784.58 340.3) rotate(-90)">GSM5571172</text><text transform="translate(791.14 340.3) rotate(-90)">GSM5571174</text><text transform="translate(797.7 340.3) rotate(-90)">GSM5571176</text><text transform="translate(804.26 340.3) rotate(-90)">GSM5571178</text><text transform="translate(810.82 340.3) rotate(-90)">GSM5571180</text><text transform="translate(817.38 340.3) rotate(-90)">GSM5571182</text><text transform="translate(823.94 340.3) rotate(-90)">GSM5571184</text><text transform="translate(830.5 340.3) rotate(-90)">GSM5571186</text><text transform="translate(837.06 340.3) rotate(-90)">GSM5571188</text><text transform="translate(843.62 340.3) rotate(-90)">GSM5571189</text><text transform="translate(850.18 340.3) rotate(-90)">GSM5571191</text><text transform="translate(856.74 340.3) rotate(-90)">GSM5571193</text><text transform="translate(863.3 340.3) rotate(-90)">GSM5571195</text><text transform="translate(869.86 340.3) rotate(-90)">GSM5571197</text><text transform="translate(876.42 340.3) rotate(-90)">GSM5571199</text><text transform="translate(882.98 340.3) rotate(-90)">GSM5571201</text><text transform="translate(889.54 340.3) rotate(-90)">GSM5571203</text><text transform="translate(896.1 340.3) rotate(-90)">GSM5571205</text><text transform="translate(902.66 340.3) rotate(-90)">GSM5571207</text><text transform="translate(909.22 340.3) rotate(-90)">GSM5571209</text></g>
</g>
<defs><linearGradient id="ogr" x1="0" y1="0" x2="0" y2="1"><stop offset="0" stop-color="#000" stop-opacity="0.55"/><stop offset="0.45" stop-color="#000" stop-opacity="0.8"/><stop offset="1" stop-color="#000" stop-opacity="1"/></linearGradient></defs>
<g id="boxnorm" font-family='"Liberation Sans", Arial, Helvetica, sans-serif'>
<path d="M1007.2 199.8V137M1010.45 199.8V137M1013.71 199.8V137M1016.96 199.8V137M1020.22 199.8V137M1023.47 199.8V137M1026.72 199.8V137M1029.98 199.8V137M1033.23 199.8V137M1036.49 199.8V137M1039.74 199.8V137M1042.99 199.8V137M1046.25 199.8V137M1049.5 199.8V137M1052.76 199.8V137M1056.01 199.8V137M1059.26 199.8V137M1062.52 199.8V137M1065.77 199.8V137M1069.03 199.8V137M1072.28 199.8V137M1075.53 199.8V137M1078.79 199.8V137M1082.04 199.8V137M1085.3 199.8V137M1088.55 199.8V137M1091.8 199.8V137M1095.06 199.8V137M1098.31 199.8V137M1101.57 199.8V137M1104.82 199.8V137M1108.07 199.8V137M1111.33 199.8V137M1114.58 199.8V137M1117.84 199.8V137M1121.09 199.8V137M1124.34 199.8V137M1127.6 199.8V137M1130.85 199.8V137M1134.11 199.8V137M1137.36 199.8V137M1140.61 199.8V137M1143.87 199.8V137M1147.12 199.8V137M1150.38 199.8V137M1153.63 199.8V137M1156.88 199.8V137M1160.14 199.8V137M1163.39 199.8V137M1166.65 199.8V137M1169.9 199.8V137M1173.15 199.8V137M1176.41 199.8V137M1179.66 199.8V137M1182.92 199.8V137M1186.17 199.8V137M1189.42 199.8V137M1192.68 199.8V137M1195.93 199.8V137M1199.19 199.8V137M1202.44 199.8V137M1205.69 199.8V137M1208.95 199.8V137M1212.2 199.8V137M1215.46 199.8V137M1218.71 199.8V137M1221.96 199.8V137M1225.22 199.8V137M1228.47 199.8V137M1231.73 199.8V137M1234.98 199.8V137M1238.23 199.8V137M1241.49 199.8V137M1244.74 199.8V137M1248 199.8V137M1251.25 199.8V137M1254.5 199.8V137M1257.76 199.8V137M1261.01 199.8V137M1264.27 199.8V137M1267.52 199.8V137M1270.77 199.8V137M1274.03 199.8V137M1277.28 199.8V137M1280.54 199.8V137M1283.79 199.8V137M1287.04 199.8V137M1290.3 199.8V137M1293.55 199.8V137M1296.81 199.8V137M1300.06 199.8V137M1303.31 199.8V137M1306.57 199.8V137M1309.82 199.8V137M1313.08 199.8V137M1316.33 199.8V137M1319.58 199.8V137M1322.84 199.8V137M1326.09 199.8V137M1329.35 199.8V137M1332.6 199.8V137M1335.85 199.8V137M1339.11 199.8V137M1342.36 199.8V137M1345.62 199.8V137M1348.87 199.8V137M1352.12 199.8V137M1355.38 199.8V137M1358.63 199.8V137M1361.89 199.8V137M1365.14 199.8V137M1368.39 199.8V137M1371.65 199.8V137M1374.9 199.8V137M1378.16 199.8V137M1381.41 199.8V137M1384.66 199.8V137M1387.92 199.8V137M1391.17 199.8V137M1394.43 199.8V137M1397.68 199.8V137M1400.93 199.8V137M1404.19 199.8V137M1407.44 199.8V137M1410.7 199.8V137M1413.95 199.8V137M1417.2 199.8V137M1420.46 199.8V137M1423.71 199.8V137M1426.97 199.8V137M1430.22 199.8V137M1433.47 199.8V137M1436.73 199.8V137M1439.98 199.8V137M1443.24 199.8V137M1446.49 199.8V137M1449.74 199.8V137M1453 199.8V137M1456.25 199.8V137M1459.51 199.8V137M1462.76 199.8V137M1466.01 199.8V137M1469.27 199.8V137M1472.52 199.8V137M1475.78 199.8V137M1479.03 199.8V137M1482.28 199.8V137M1485.54 199.8V137M1488.79 199.8V137M1492.05 199.8V137M1495.3 199.8V137M1498.55 199.8V137M1501.81 199.8V137M1505.06 199.8V137M1508.32 199.8V137M1511.57 199.8V137M1514.82 199.8V137M1518.08 199.8V137M1521.33 199.8V137M1524.59 199.8V137M1527.84 199.8V137M1531.09 199.8V137M1534.35 199.8V137M1537.6 199.8V137M1540.86 199.8V137M1544.11 199.8V137M1547.36 199.8V137M1550.62 199.8V137M1553.87 199.8V137M1557.13 199.8V137M1560.38 199.8V137M1563.63 199.8V137M1566.89 199.8V137M1570.14 199.8V137M1573.4 199.8V137M1576.65 199.8V137M1579.9 199.8V137M1583.16 199.8V137M1586.41 199.8V137M1589.67 199.8V137M1592.92 199.8V137M1596.17 199.8V137M1599.43 199.8V137M1602.68 199.8V137M1605.94 199.8V137M1609.19 199.8V137M1612.44 199.8V137M1615.7 199.8V137M1618.95 199.8V137M1622.21 199.8V137M1625.46 199.8V137M1628.71 199.8V137M1631.97 199.8V137M1635.22 199.8V137M1638.48 199.8V137M1641.73 199.8V137M1644.98 199.8V137M1648.24 199.8V137M1651.49 199.8V137M1654.75 199.8V137M1658 199.8V137M1661.25 199.8V137M1664.51 199.8V137M1667.76 199.8V137M1671.02 199.8V137M1674.27 199.8V137M1677.52 199.8V137M1680.78 199.8V137M1684.03 199.8V137M1687.29 199.8V137M1690.54 199.8V137M1693.79 199.8V137M1697.05 199.8V137M1700.3 199.8V137M1703.56 199.8V137M1706.81 199.8V137M1710.06 199.8V137M1713.32 199.8V137M1716.57 199.8V137M1719.83 199.8V137M1723.08 199.8V137M1726.33 199.8V137M1729.59 199.8V137M1732.84 199.8V137M1736.1 199.8V137M1739.35 199.8V137M1742.6 199.8V137M1745.86 199.8V137M1749.11 199.8V137M1752.37 199.8V137M1755.62 199.8V137M1758.87 199.8V137M1762.13 199.8V137M1765.38 199.8V137M1768.64 199.8V137M1771.89 199.8V137M1775.14 199.8V137M1778.4 199.8V137M1781.65 199.8V137M1784.91 199.8V137M1788.16 199.8V137M1791.41 199.8V137M1794.67 199.8V137M1797.92 199.8V137M1801.18 199.8V137" stroke="#000" stroke-width="0.7" stroke-dasharray="3.3 2" fill="none"/>
<path d="M1007.2 242.9V290.6M1010.45 242.9V290.6M1013.71 242.9V290.6M1016.96 242.9V290.6M1020.22 242.9V290.6M1023.47 242.9V290.6M1026.72 242.9V290.6M1029.98 242.9V290.6M1033.23 242.9V290.6M1036.49 242.9V290.6M1039.74 242.9V290.6M1042.99 242.9V290.6M1046.25 242.9V290.6M1049.5 242.9V290.6M1052.76 242.9V290.6M1056.01 242.9V290.6M1059.26 242.9V290.6M1062.52 242.9V290.6M1065.77 242.9V290.6M1069.03 242.9V290.6M1072.28 242.9V290.6M1075.53 242.9V290.6M1078.79 242.9V290.6M1082.04 242.9V290.6M1085.3 242.9V290.6M1088.55 242.9V290.6M1091.8 242.9V290.6M1095.06 242.9V290.6M1098.31 242.9V290.6M1101.57 242.9V290.6M1104.82 242.9V290.6M1108.07 242.9V290.6M1111.33 242.9V290.6M1114.58 242.9V290.6M1117.84 242.9V290.6M1121.09 242.9V290.6M1124.34 242.9V290.6M1127.6 242.9V290.6M1130.85 242.9V290.6M1134.11 242.9V290.6M1137.36 242.9V290.6M1140.61 242.9V290.6M1143.87 242.9V290.6M1147.12 242.9V290.6M1150.38 242.9V290.6M1153.63 242.9V290.6M1156.88 242.9V290.6M1160.14 242.9V290.6M1163.39 242.9V290.6M1166.65 242.9V290.6M1169.9 242.9V290.6M1173.15 242.9V290.6M1176.41 242.9V290.6M1179.66 242.9V290.6M1182.92 242.9V290.6M1186.17 242.9V290.6M1189.42 242.9V290.6M1192.68 242.9V290.6M1195.93 242.9V290.6M1199.19 242.9V290.6M1202.44 242.9V290.6M1205.69 242.9V290.6M1208.95 242.9V290.6M1212.2 242.9V290.6M1215.46 242.9V290.6M1218.71 242.9V290.6M1221.96 242.9V290.6M1225.22 242.9V290.6M1228.47 242.9V290.6M1231.73 242.9V290.6M1234.98 242.9V290.6M1238.23 242.9V290.6M1241.49 242.9V290.6M1244.74 242.9V290.6M1248 242.9V290.6M1251.25 242.9V290.6M1254.5 242.9V290.6M1257.76 242.9V290.6M1261.01 242.9V290.6M1264.27 242.9V290.6M1267.52 242.9V290.6M1270.77 242.9V290.6M1274.03 242.9V290.6M1277.28 242.9V290.6M1280.54 242.9V290.6M1283.79 242.9V290.6M1287.04 242.9V290.6M1290.3 242.9V290.6M1293.55 242.9V290.6M1296.81 242.9V290.6M1300.06 242.9V290.6M1303.31 242.9V290.6M1306.57 242.9V290.6M1309.82 242.9V290.6M1313.08 242.9V290.6M1316.33 242.9V290.6M1319.58 242.9V290.6M1322.84 242.9V290.6M1326.09 242.9V290.6M1329.35 242.9V290.6M1332.6 242.9V290.6M1335.85 242.9V290.6M1339.11 242.9V290.6M1342.36 242.9V290.6M1345.62 242.9V290.6M1348.87 242.9V290.6M1352.12 242.9V290.6M1355.38 242.9V290.6M1358.63 242.9V290.6M1361.89 242.9V290.6M1365.14 242.9V290.6M1368.39 242.9V290.6M1371.65 242.9V290.6M1374.9 242.9V290.6M1378.16 242.9V290.6M1381.41 242.9V290.6M1384.66 242.9V290.6M1387.92 242.9V290.6M1391.17 242.9V290.6M1394.43 242.9V290.6M1397.68 242.9V290.6M1400.93 242.9V290.6M1404.19 242.9V290.6M1407.44 242.9V290.6M1410.7 242.9V290.6M1413.95 242.9V290.6M1417.2 242.9V290.6M1420.46 242.9V290.6M1423.71 242.9V290.6M1426.97 242.9V290.6M1430.22 242.9V290.6M1433.47 242.9V290.6M1436.73 242.9V290.6M1439.98 242.9V290.6M1443.24 242.9V290.6M1446.49 242.9V290.6M1449.74 242.9V290.6M1453 242.9V290.6M1456.25 242.9V290.6M1459.51 242.9V290.6M1462.76 242.9V290.6M1466.01 242.9V290.6M1469.27 242.9V290.6M1472.52 242.9V290.6M1475.78 242.9V290.6M1479.03 242.9V290.6M1482.28 242.9V290.6M1485.54 242.9V290.6M1488.79 242.9V290.6M1492.05 242.9V290.6M1495.3 242.9V290.6M1498.55 242.9V290.6M1501.81 242.9V290.6M1505.06 242.9V290.6M1508.32 242.9V290.6M1511.57 242.9V290.6M1514.82 242.9V290.6M1518.08 242.9V290.6M1521.33 242.9V290.6M1524.59 242.9V290.6M1527.84 242.9V290.6M1531.09 242.9V290.6M1534.35 242.9V290.6M1537.6 242.9V290.6M1540.86 242.9V290.6M1544.11 242.9V290.6M1547.36 242.9V290.6M1550.62 242.9V290.6M1553.87 242.9V290.6M1557.13 242.9V290.6M1560.38 242.9V290.6M1563.63 242.9V290.6M1566.89 242.9V290.6M1570.14 242.9V290.6M1573.4 242.9V290.6M1576.65 242.9V290.6M1579.9 242.9V290.6M1583.16 242.9V290.6M1586.41 242.9V290.6M1589.67 242.9V290.6M1592.92 242.9V290.6M1596.17 242.9V290.6M1599.43 242.9V290.6M1602.68 242.9V290.6M1605.94 242.9V290.6M1609.19 242.9V290.6M1612.44 242.9V290.6M1615.7 242.9V290.6M1618.95 242.9V290.6M1622.21 242.9V290.6M1625.46 242.9V290.6M1628.71 242.9V290.6M1631.97 242.9V290.6M1635.22 242.9V290.6M1638.48 242.9V290.6M1641.73 242.9V290.6M1644.98 242.9V290.6M1648.24 242.9V290.6M1651.49 242.9V290.6M1654.75 242.9V290.6M1658 242.9V290.6M1661.25 242.9V290.6M1664.51 242.9V290.6M1667.76 242.9V290.6M1671.02 242.9V290.6M1674.27 242.9V290.6M1677.52 242.9V290.6M1680.78 242.9V290.6M1684.03 242.9V290.6M1687.29 242.9V290.6M1690.54 242.9V290.6M1693.79 242.9V290.6M1697.05 242.9V290.6M1700.3 242.9V290.6M1703.56 242.9V290.6M1706.81 242.9V290.6M1710.06 242.9V290.6M1713.32 242.9V290.6M1716.57 242.9V290.6M1719.83 242.9V290.6M1723.08 242.9V290.6M1726.33 242.9V290.6M1729.59 242.9V290.6M1732.84 242.9V290.6M1736.1 242.9V290.6M1739.35 242.9V290.6M1742.6 242.9V290.6M1745.86 242.9V290.6M1749.11 242.9V290.6M1752.37 242.9V290.6M1755.62 242.9V290.6M1758.87 242.9V290.6M1762.13 242.9V290.6M1765.38 242.9V290.6M1768.64 242.9V290.6M1771.89 242.9V290.6M1775.14 242.9V290.6M1778.4 242.9V290.6M1781.65 242.9V290.6M1784.91 242.9V290.6M1788.16 242.9V290.6M1791.41 242.9V290.6M1794.67 242.9V290.6M1797.92 242.9V290.6M1801.18 242.9V290.6" stroke="#000" stroke-width="0.7" stroke-dasharray="3.3 2" fill="none"/>
<path d="M1006.4 290.8h1.6M1009.65 290.8h1.6M1012.91 290.8h1.6M1016.16 290.8h1.6M1019.42 290.8h1.6M1022.67 290.8h1.6M1025.92 290.8h1.6M1029.18 290.8h1.6M1032.43 290.8h1.6M1035.69 290.8h1.6M1038.94 290.8h1.6M1042.19 290.8h1.6M1045.45 290.8h1.6M1048.7 290.8h1.6M1051.96 290.8h1.6M1055.21 290.8h1.6M1058.46 290.8h1.6M1061.72 290.8h1.6M1064.97 290.8h1.6M1068.23 290.8h1.6M1071.48 290.8h1.6M1074.73 290.8h1.6M1077.99 290.8h1.6M1081.24 290.8h1.6M1084.5 290.8h1.6M1087.75 290.8h1.6M1091 290.8h1.6M1094.26 290.8h1.6M1097.51 290.8h1.6M1100.77 290.8h1.6M1104.02 290.8h1.6M1107.27 290.8h1.6M1110.53 290.8h1.6M1113.78 290.8h1.6M1117.04 290.8h1.6M1120.29 290.8h1.6M1123.54 290.8h1.6M1126.8 290.8h1.6M1130.05 290.8h1.6M1133.31 290.8h1.6M1136.56 290.8h1.6M1139.81 290.8h1.6M1143.07 290.8h1.6M1146.32 290.8h1.6M1149.58 290.8h1.6M1152.83 290.8h1.6M1156.08 290.8h1.6M1159.34 290.8h1.6M1162.59 290.8h1.6M1165.85 290.8h1.6M1169.1 290.8h1.6M1172.35 290.8h1.6M1175.61 290.8h1.6M1178.86 290.8h1.6M1182.12 290.8h1.6M1185.37 290.8h1.6M1188.62 290.8h1.6M1191.88 290.8h1.6M1195.13 290.8h1.6M1198.39 290.8h1.6M1201.64 290.8h1.6M1204.89 290.8h1.6M1208.15 290.8h1.6M1211.4 290.8h1.6M1214.66 290.8h1.6M1217.91 290.8h1.6M1221.16 290.8h1.6M1224.42 290.8h1.6M1227.67 290.8h1.6M1230.93 290.8h1.6M1234.18 290.8h1.6M1237.43 290.8h1.6M1240.69 290.8h1.6M1243.94 290.8h1.6M1247.2 290.8h1.6M1250.45 290.8h1.6M1253.7 290.8h1.6M1256.96 290.8h1.6M1260.21 290.8h1.6M1263.47 290.8h1.6M1266.72 290.8h1.6M1269.97 290.8h1.6M1273.23 290.8h1.6M1276.48 290.8h1.6M1279.74 290.8h1.6M1282.99 290.8h1.6M1286.24 290.8h1.6M1289.5 290.8h1.6M1292.75 290.8h1.6M1296.01 290.8h1.6M1299.26 290.8h1.6M1302.51 290.8h1.6M1305.77 290.8h1.6M1309.02 290.8h1.6M1312.28 290.8h1.6M1315.53 290.8h1.6M1318.78 290.8h1.6M1322.04 290.8h1.6M1325.29 290.8h1.6M1328.55 290.8h1.6M1331.8 290.8h1.6M1335.05 290.8h1.6M1338.31 290.8h1.6M1341.56 290.8h1.6M1344.82 290.8h1.6M1348.07 290.8h1.6M1351.32 290.8h1.6M1354.58 290.8h1.6M1357.83 290.8h1.6M1361.09 290.8h1.6M1364.34 290.8h1.6M1367.59 290.8h1.6M1370.85 290.8h1.6M1374.1 290.8h1.6M1377.36 290.8h1.6M1380.61 290.8h1.6M1383.86 290.8h1.6M1387.12 290.8h1.6M1390.37 290.8h1.6M1393.63 290.8h1.6M1396.88 290.8h1.6M1400.13 290.8h1.6M1403.39 290.8h1.6M1406.64 290.8h1.6M1409.9 290.8h1.6M1413.15 290.8h1.6M1416.4 290.8h1.6M1419.66 290.8h1.6M1422.91 290.8h1.6M1426.17 290.8h1.6M1429.42 290.8h1.6M1432.67 290.8h1.6M1435.93 290.8h1.6M1439.18 290.8h1.6M1442.44 290.8h1.6M1445.69 290.8h1.6M1448.94 290.8h1.6M1452.2 290.8h1.6M1455.45 290.8h1.6M1458.71 290.8h1.6M1461.96 290.8h1.6M1465.21 290.8h1.6M1468.47 290.8h1.6M1471.72 290.8h1.6M1474.98 290.8h1.6M1478.23 290.8h1.6M1481.48 290.8h1.6M1484.74 290.8h1.6M1487.99 290.8h1.6M1491.25 290.8h1.6M1494.5 290.8h1.6M1497.75 290.8h1.6M1501.01 290.8h1.6M1504.26 290.8h1.6M1507.52 290.8h1.6M1510.77 290.8h1.6M1514.02 290.8h1.6M1517.28 290.8h1.6M1520.53 290.8h1.6M1523.79 290.8h1.6M1527.04 290.8h1.6M1530.29 290.8h1.6M1533.55 290.8h1.6M1536.8 290.8h1.6M1540.06 290.8h1.6M1543.31 290.8h1.6M1546.56 290.8h1.6M1549.82 290.8h1.6M1553.07 290.8h1.6M1556.33 290.8h1.6M1559.58 290.8h1.6M1562.83 290.8h1.6M1566.09 290.8h1.6M1569.34 290.8h1.6M1572.6 290.8h1.6M1575.85 290.8h1.6M1579.1 290.8h1.6M1582.36 290.8h1.6M1585.61 290.8h1.6M1588.87 290.8h1.6M1592.12 290.8h1.6M1595.37 290.8h1.6M1598.63 290.8h1.6M1601.88 290.8h1.6M1605.14 290.8h1.6M1608.39 290.8h1.6M1611.64 290.8h1.6M1614.9 290.8h1.6M1618.15 290.8h1.6M1621.41 290.8h1.6M1624.66 290.8h1.6M1627.91 290.8h1.6M1631.17 290.8h1.6M1634.42 290.8h1.6M1637.68 290.8h1.6M1640.93 290.8h1.6M1644.18 290.8h1.6M1647.44 290.8h1.6M1650.69 290.8h1.6M1653.95 290.8h1.6M1657.2 290.8h1.6M1660.45 290.8h1.6M1663.71 290.8h1.6M1666.96 290.8h1.6M1670.22 290.8h1.6M1673.47 290.8h1.6M1676.72 290.8h1.6M1679.98 290.8h1.6M1683.23 290.8h1.6M1686.49 290.8h1.6M1689.74 290.8h1.6M1692.99 290.8h1.6M1696.25 290.8h1.6M1699.5 290.8h1.6M1702.76 290.8h1.6M1706.01 290.8h1.6M1709.26 290.8h1.6M1712.52 290.8h1.6M1715.77 290.8h1.6M1719.03 290.8h1.6M1722.28 290.8h1.6M1725.53 290.8h1.6M1728.79 290.8h1.6M1732.04 290.8h1.6M1735.3 290.8h1.6M1738.55 290.8h1.6M1741.8 290.8h1.6M1745.06 290.8h1.6M1748.31 290.8h1.6M1751.57 290.8h1.6M1754.82 290.8h1.6M1758.07 290.8h1.6M1761.33 290.8h1.6M1764.58 290.8h1.6M1767.84 290.8h1.6M1771.09 290.8h1.6M1774.34 290.8h1.6M1777.6 290.8h1.6M1780.85 290.8h1.6M1784.11 290.8h1.6M1787.36 290.8h1.6M1790.61 290.8h1.6M1793.87 290.8h1.6M1797.12 290.8h1.6M1800.38 290.8h1.6" stroke="#000" stroke-width="1" fill="none"/>
<path d="M1007.2 87.5v4.3M1010.45 87.5v4.3M1013.71 87.5v4.3M1016.96 87.5v4.3M1020.22 87.5v4.3M1023.47 87.5v4.3M1026.72 87.5v4.3M1029.98 87.5v4.3M1033.23 87.5v4.3M1036.49 87.5v4.3M1039.74 87.5v4.3M1042.99 87.5v4.3M1046.25 87.5v4.3M1049.5 87.5v4.3M1052.76 87.5v4.3M1056.01 87.5v4.3M1059.26 87.5v4.3M1062.52 87.5v4.3M1065.77 87.5v4.3M1069.03 87.5v4.3M1072.28 87.5v4.3M1075.53 87.5v4.3M1078.79 87.5v4.3M1082.04 87.5v4.3M1085.3 87.5v4.3M1088.55 87.5v4.3M1091.8 87.5v4.3M1095.06 87.5v4.3M1098.31 87.5v4.3M1101.57 87.5v4.3M1104.82 87.5v4.3M1108.07 87.5v4.3M1111.33 87.5v4.3M1114.58 87.5v4.3M1117.84 87.5v4.3M1121.09 87.5v4.3M1124.34 87.5v4.3M1127.6 87.5v4.3M1130.85 87.5v4.3M1134.11 87.5v4.3M1137.36 87.5v4.3M1140.61 87.5v4.3M1143.87 87.5v4.3M1147.12 87.5v4.3M1150.38 87.5v4.3M1153.63 87.5v4.3M1156.88 87.5v4.3M1160.14 87.5v4.3M1163.39 87.5v4.3M1166.65 87.5v4.3M1169.9 87.5v4.3M1173.15 87.5v4.3M1176.41 87.5v4.3M1179.66 87.5v4.3M1182.92 87.5v4.3M1186.17 87.5v4.3M1189.42 87.5v4.3M1192.68 87.5v4.3M1195.93 87.5v4.3M1199.19 87.5v4.3M1202.44 87.5v4.3M1205.69 87.5v4.3M1208.95 87.5v4.3M1212.2 87.5v4.3M1215.46 87.5v4.3M1218.71 87.5v4.3M1221.96 87.5v4.3M1225.22 87.5v4.3M1228.47 87.5v4.3M1231.73 87.5v4.3M1234.98 87.5v4.3M1238.23 87.5v4.3M1241.49 87.5v4.3M1244.74 87.5v4.3M1248 87.5v4.3M1251.25 87.5v4.3M1254.5 87.5v4.3M1257.76 87.5v4.3M1261.01 87.5v4.3M1264.27 87.5v4.3M1267.52 87.5v4.3M1270.77 87.5v4.3M1274.03 87.5v4.3M1277.28 87.5v4.3M1280.54 87.5v4.3M1283.79 87.5v4.3M1287.04 87.5v4.3M1290.3 87.5v4.3M1293.55 87.5v4.3M1296.81 87.5v4.3M1300.06 87.5v4.3M1303.31 87.5v4.3M1306.57 87.5v4.3M1309.82 87.5v4.3M1313.08 87.5v4.3M1316.33 87.5v4.3M1319.58 87.5v4.3M1322.84 87.5v4.3M1326.09 87.5v4.3M1329.35 87.5v4.3M1332.6 87.5v4.3M1335.85 87.5v4.3M1339.11 87.5v4.3M1342.36 87.5v4.3M1345.62 87.5v4.3M1348.87 87.5v4.3M1352.12 87.5v4.3M1355.38 87.5v4.3M1358.63 87.5v4.3M1361.89 87.5v4.3M1365.14 87.5v4.3M1368.39 87.5v4.3M1371.65 87.5v4.3M1374.9 87.5v4.3M1378.16 87.5v4.3M1381.41 87.5v4.3M1384.66 87.5v4.3M1387.92 87.5v4.3M1391.17 87.5v4.3M1394.43 87.5v4.3M1397.68 87.5v4.3M1400.93 87.5v4.3M1404.19 87.5v4.3M1407.44 87.5v4.3M1410.7 87.5v4.3M1413.95 87.5v4.3M1417.2 87.5v4.3M1420.46 87.5v4.3M1423.71 87.5v4.3M1426.97 87.5v4.3M1430.22 87.5v4.3M1433.47 87.5v4.3M1436.73 87.5v4.3M1439.98 87.5v4.3M1443.24 87.5v4.3M1446.49 87.5v4.3M1449.74 87.5v4.3M1453 87.5v4.3M1456.25 87.5v4.3M1459.51 87.5v4.3M1462.76 87.5v4.3M1466.01 87.5v4.3M1469.27 87.5v4.3M1472.52 87.5v4.3M1475.78 87.5v4.3M1479.03 87.5v4.3M1482.28 87.5v4.3M1485.54 87.5v4.3M1488.79 87.5v4.3M1492.05 87.5v4.3M1495.3 87.5v4.3M1498.55 87.5v4.3M1501.81 87.5v4.3M1505.06 87.5v4.3M1508.32 87.5v4.3M1511.57 87.5v4.3M1514.82 87.5v4.3M1518.08 87.5v4.3M1521.33 87.5v4.3M1524.59 87.5v4.3M1527.84 87.5v4.3M1531.09 87.5v4.3M1534.35 87.5v4.3M1537.6 87.5v4.3M1540.86 87.5v4.3M1544.11 87.5v4.3M1547.36 87.5v4.3M1550.62 87.5v4.3M1553.87 87.5v4.3M1557.13 87.5v4.3M1560.38 87.5v4.3M1563.63 87.5v4.3M1566.89 87.5v4.3M1570.14 87.5v4.3M1573.4 87.5v4.3M1576.65 87.5v4.3M1579.9 87.5v4.3M1583.16 87.5v4.3M1586.41 87.5v4.3M1589.67 87.5v4.3M1592.92 87.5v4.3M1596.17 87.5v4.3M1599.43 87.5v4.3M1602.68 87.5v4.3M1605.94 87.5v4.3M1609.19 87.5v4.3M1612.44 87.5v4.3M1615.7 87.5v4.3M1618.95 87.5v4.3M1622.21 87.5v4.3M1625.46 87.5v4.3M1628.71 87.5v4.3M1631.97 87.5v4.3M1635.22 87.5v4.3M1638.48 87.5v4.3M1641.73 87.5v4.3M1644.98 87.5v4.3M1648.24 87.5v4.3M1651.49 87.5v4.3M1654.75 87.5v4.3M1658 87.5v4.3M1661.25 87.5v4.3M1664.51 87.5v4.3M1667.76 87.5v4.3M1671.02 87.5v4.3M1674.27 87.5v4.3M1677.52 87.5v4.3M1680.78 87.5v4.3M1684.03 87.5v4.3M1687.29 87.5v4.3M1690.54 87.5v4.3M1693.79 87.5v4.3M1697.05 87.5v4.3M1700.3 87.5v4.3M1703.56 87.5v4.3M1706.81 87.5v4.3M1710.06 87.5v4.3M1713.32 87.5v4.3M1716.57 87.5v4.3M1719.83 87.5v4.3M1723.08 87.5v4.3M1726.33 87.5v4.3M1729.59 87.5v4.3M1732.84 87.5v4.3M1736.1 87.5v4.3M1739.35 87.5v4.3M1742.6 87.5v4.3M1745.86 87.5v4.3M1749.11 87.5v4.3M1752.37 87.5v4.3M1755.62 87.5v4.3M1758.87 87.5v4.3M1762.13 87.5v4.3M1765.38 87.5v4.3M1768.64 87.5v4.3M1771.89 87.5v4.3M1775.14 87.5v4.3M1778.4 87.5v4.3M1781.65 87.5v4.3M1784.91 87.5v4.3M1788.16 87.5v4.3M1791.41 87.5v4.3M1794.67 87.5v4.3M1797.92 87.5v4.3M1801.18 87.5v4.3" stroke="#000" stroke-width="1.5" fill="none"/>
<path fill="#000" d="M1006.2 93.6h2l0.45 22l0.25 21.4h-3.4l0.25-21.4zM1009.45 93.6h2l0.45 22l0.25 21.4h-3.4l0.25-21.4zM1012.71 93.6h2l0.45 22l0.25 21.4h-3.4l0.25-21.4zM1015.96 93.6h2l0.45 22l0.25 21.4h-3.4l0.25-21.4zM1019.22 93.6h2l0.45 22l0.25 21.4h-3.4l0.25-21.4zM1022.47 93.6h2l0.45 22l0.25 21.4h-3.4l0.25-21.4zM1025.72 93.6h2l0.45 22l0.25 21.4h-3.4l0.25-21.4zM1028.98 93.6h2l0.45 22l0.25 21.4h-3.4l0.25-21.4zM1032.23 93.6h2l0.45 22l0.25 21.4h-3.4l0.25-21.4zM1035.49 93.6h2l0.45 22l0.25 21.4h-3.4l0.25-21.4zM1038.74 93.6h2l0.45 22l0.25 21.4h-3.4l0.25-21.4zM1041.99 93.6h2l0.45 22l0.25 21.4h-3.4l0.25-21.4zM1045.25 93.6h2l0.45 22l0.25 21.4h-3.4l0.25-21.4zM1048.5 93.6h2l0.45 22l0.25 21.4h-3.4l0.25-21.4zM1051.76 93.6h2l0.45 22l0.25 21.4h-3.4l0.25-21.4zM1055.01 93.6h2l0.45 22l0.25 21.4h-3.4l0.25-21.4zM1058.26 93.6h2l0.45 22l0.25 21.4h-3.4l0.25-21.4zM1061.52 93.6h2l0.45 22l0.25 21.4h-3.4l0.25-21.4zM1064.77 93.6h2l0.45 22l0.25 21.4h-3.4l0.25-21.4zM1068.03 93.6h2l0.45 22l0.25 21.4h-3.4l0.25-21.4zM1071.28 93.6h2l0.45 22l0.25 21.4h-3.4l0.25-21.4zM1074.53 93.6h2l0.45 22l0.25 21.4h-3.4l0.25-21.4zM1077.79 93.6h2l0.45 22l0.25 21.4h-3.4l0.25-21.4zM1081.04 93.6h2l0.45 22l0.25 21.4h-3.4l0.25-21.4zM1084.3 93.6h2l0.45 22l0.25 21.4h-3.4l0.25-21.4zM1087.55 93.6h2l0.45 22l0.25 21.4h-3.4l0.25-21.4zM1090.8 93.6h2l0.45 22l0.25 21.4h-3.4l0.25-21.4zM1094.06 93.6h2l0.45 22l0.25 21.4h-3.4l0.25-21.4zM1097.31 93.6h2l0.45 22l0.25 21.4h-3.4l0.25-21.4zM1100.57 93.6h2l0.45 22l0.25 21.4h-3.4l0.25-21.4zM1103.82 93.6h2l0.45 22l0.25 21.4h-3.4l0.25-21.4zM1107.07 93.6h2l0.45 22l0.25 21.4h-3.4l0.25-21.4zM1110.33 93.6h2l0.45 22l0.25 21.4h-3.4l0.25-21.4zM1113.58 93.6h2l0.45 22l0.25 21.4h-3.4l0.25-21.4zM1116.84 93.6h2l0.45 22l0.25 21.4h-3.4l0.25-21.4zM1120.09 93.6h2l0.45 22l0.25 21.4h-3.4l0.25-21.4zM1123.34 93.6h2l0.45 22l0.25 21.4h-3.4l0.25-21.4zM1126.6 93.6h2l0.45 22l0.25 21.4h-3.4l0.25-21.4zM1129.85 93.6h2l0.45 22l0.25 21.4h-3.4l0.25-21.4zM1133.11 93.6h2l0.45 22l0.25 21.4h-3.4l0.25-21.4zM1136.36 93.6h2l0.45 22l0.25 21.4h-3.4l0.25-21.4zM1139.61 93.6h2l0.45 22l0.25 21.4h-3.4l0.25-21.4zM1142.87 93.6h2l0.45 22l0.25 21.4h-3.4l0.25-21.4zM1146.12 93.6h2l0.45 22l0.25 21.4h-3.4l0.25-21.4zM1149.38 93.6h2l0.45 22l0.25 21.4h-3.4l0.25-21.4zM1152.63 93.6h2l0.45 22l0.25 21.4h-3.4l0.25-21.4zM1155.88 93.6h2l0.45 22l0.25 21.4h-3.4l0.25-21.4zM1159.14 93.6h2l0.45 22l0.25 21.4h-3.4l0.25-21.4zM1162.39 93.6h2l0.45 22l0.25 21.4h-3.4l0.25-21.4zM1165.65 93.6h2l0.45 22l0.25 21.4h-3.4l0.25-21.4zM1168.9 93.6h2l0.45 22l0.25 21.4h-3.4l0.25-21.4zM1172.15 93.6h2l0.45 22l0.25 21.4h-3.4l0.25-21.4zM1175.41 93.6h2l0.45 22l0.25 21.4h-3.4l0.25-21.4zM1178.66 93.6h2l0.45 22l0.25 21.4h-3.4l0.25-21.4zM1181.92 93.6h2l0.45 22l0.25 21.4h-3.4l0.25-21.4zM1185.17 93.6h2l0.45 22l0.25 21.4h-3.4l0.25-21.4zM1188.42 93.6h2l0.45 22l0.25 21.4h-3.4l0.25-21.4zM1191.68 93.6h2l0.45 22l0.25 21.4h-3.4l0.25-21.4zM1194.93 93.6h2l0.45 22l0.25 21.4h-3.4l0.25-21.4zM1198.19 93.6h2l0.45 22l0.25 21.4h-3.4l0.25-21.4zM1201.44 93.6h2l0.45 22l0.25 21.4h-3.4l0.25-21.4zM1204.69 93.6h2l0.45 22l0.25 21.4h-3.4l0.25-21.4zM1207.95 93.6h2l0.45 22l0.25 21.4h-3.4l0.25-21.4zM1211.2 93.6h2l0.45 22l0.25 21.4h-3.4l0.25-21.4zM1214.46 93.6h2l0.45 22l0.25 21.4h-3.4l0.25-21.4zM1217.71 93.6h2l0.45 22l0.25 21.4h-3.4l0.25-21.4zM1220.96 93.6h2l0.45 22l0.25 21.4h-3.4l0.25-21.4zM1224.22 93.6h2l0.45 22l0.25 21.4h-3.4l0.25-21.4zM1227.47 93.6h2l0.45 22l0.25 21.4h-3.4l0.25-21.4zM1230.73 93.6h2l0.45 22l0.25 21.4h-3.4l0.25-21.4zM1233.98 93.6h2l0.45 22l0.25 21.4h-3.4l0.25-21.4zM1237.23 93.6h2l0.45 22l0.25 21.4h-3.4l0.25-21.4zM1240.49 93.6h2l0.45 22l0.25 21.4h-3.4l0.25-21.4zM1243.74 93.6h2l0.45 22l0.25 21.4h-3.4l0.25-21.4zM1247 93.6h2l0.45 22l0.25 21.4h-3.4l0.25-21.4zM1250.25 93.6h2l0.45 22l0.25 21.4h-3.4l0.25-21.4zM1253.5 93.6h2l0.45 22l0.25 21.4h-3.4l0.25-21.4zM1256.76 93.6h2l0.45 22l0.25 21.4h-3.4l0.25-21.4zM1260.01 93.6h2l0.45 22l0.25 21.4h-3.4l0.25-21.4zM1263.27 93.6h2l0.45 22l0.25 21.4h-3.4l0.25-21.4zM1266.52 93.6h2l0.45 22l0.25 21.4h-3.4l0.25-21.4zM1269.77 93.6h2l0.45 22l0.25 21.4h-3.4l0.25-21.4zM1273.03 93.6h2l0.45 22l0.25 21.4h-3.4l0.25-21.4zM1276.28 93.6h2l0.45 22l0.25 21.4h-3.4l0.25-21.4zM1279.54 93.6h2l0.45 22l0.25 21.4h-3.4l0.25-21.4zM1282.79 93.6h2l0.45 22l0.25 21.4h-3.4l0.25-21.4zM1286.04 93.6h2l0.45 22l0.25 21.4h-3.4l0.25-21.4zM1289.3 93.6h2l0.45 22l0.25 21.4h-3.4l0.25-21.4zM1292.55 93.6h2l0.45 22l0.25 21.4h-3.4l0.25-21.4zM1295.81 93.6h2l0.45 22l0.25 21.4h-3.4l0.25-21.4zM1299.06 93.6h2l0.45 22l0.25 21.4h-3.4l0.25-21.4zM1302.31 93.6h2l0.45 22l0.25 21.4h-3.4l0.25-21.4zM1305.57 93.6h2l0.45 22l0.25 21.4h-3.4l0.25-21.4zM1308.82 93.6h2l0.45 22l0.25 21.4h-3.4l0.25-21.4zM1312.08 93.6h2l0.45 22l0.25 21.4h-3.4l0.25-21.4zM1315.33 93.6h2l0.45 22l0.25 21.4h-3.4l0.25-21.4zM1318.58 93.6h2l0.45 22l0.25 21.4h-3.4l0.25-21.4zM1321.84 93.6h2l0.45 22l0.25 21.4h-3.4l0.25-21.4zM1325.09 93.6h2l0.45 22l0.25 21.4h-3.4l0.25-21.4zM1328.35 93.6h2l0.45 22l0.25 21.4h-3.4l0.25-21.4zM1331.6 93.6h2l0.45 22l0.25 21.4h-3.4l0.25-21.4zM1334.85 93.6h2l0.45 22l0.25 21.4h-3.4l0.25-21.4zM1338.11 93.6h2l0.45 22l0.25 21.4h-3.4l0.25-21.4zM1341.36 93.6h2l0.45 22l0.25 21.4h-3.4l0.25-21.4zM1344.62 93.6h2l0.45 22l0.25 21.4h-3.4l0.25-21.4zM1347.87 93.6h2l0.45 22l0.25 21.4h-3.4l0.25-21.4zM1351.12 93.6h2l0.45 22l0.25 21.4h-3.4l0.25-21.4zM1354.38 93.6h2l0.45 22l0.25 21.4h-3.4l0.25-21.4zM1357.63 93.6h2l0.45 22l0.25 21.4h-3.4l0.25-21.4zM1360.89 93.6h2l0.45 22l0.25 21.4h-3.4l0.25-21.4zM1364.14 93.6h2l0.45 22l0.25 21.4h-3.4l0.25-21.4zM1367.39 93.6h2l0.45 22l0.25 21.4h-3.4l0.25-21.4zM1370.65 93.6h2l0.45 22l0.25 21.4h-3.4l0.25-21.4zM1373.9 93.6h2l0.45 22l0.25 21.4h-3.4l0.25-21.4zM1377.16 93.6h2l0.45 22l0.25 21.4h-3.4l0.25-21.4zM1380.41 93.6h2l0.45 22l0.25 21.4h-3.4l0.25-21.4zM1383.66 93.6h2l0.45 22l0.25 21.4h-3.4l0.25-21.4zM1386.92 93.6h2l0.45 22l0.25 21.4h-3.4l0.25-21.4zM1390.17 93.6h2l0.45 22l0.25 21.4h-3.4l0.25-21.4zM1393.43 93.6h2l0.45 22l0.25 21.4h-3.4l0.25-21.4zM1396.68 93.6h2l0.45 22l0.25 21.4h-3.4l0.25-21.4zM1399.93 93.6h2l0.45 22l0.25 21.4h-3.4l0.25-21.4zM1403.19 93.6h2l0.45 22l0.25 21.4h-3.4l0.25-21.4zM1406.44 93.6h2l0.45 22l0.25 21.4h-3.4l0.25-21.4zM1409.7 93.6h2l0.45 22l0.25 21.4h-3.4l0.25-21.4zM1412.95 93.6h2l0.45 22l0.25 21.4h-3.4l0.25-21.4zM1416.2 93.6h2l0.45 22l0.25 21.4h-3.4l0.25-21.4zM1419.46 93.6h2l0.45 22l0.25 21.4h-3.4l0.25-21.4zM1422.71 93.6h2l0.45 22l0.25 21.4h-3.4l0.25-21.4zM1425.97 93.6h2l0.45 22l0.25 21.4h-3.4l0.25-21.4zM1429.22 93.6h2l0.45 22l0.25 21.4h-3.4l0.25-21.4zM1432.47 93.6h2l0.45 22l0.25 21.4h-3.4l0.25-21.4zM1435.73 93.6h2l0.45 22l0.25 21.4h-3.4l0.25-21.4zM1438.98 93.6h2l0.45 22l0.25 21.4h-3.4l0.25-21.4zM1442.24 93.6h2l0.45 22l0.25 21.4h-3.4l0.25-21.4zM1445.49 93.6h2l0.45 22l0.25 21.4h-3.4l0.25-21.4zM1448.74 93.6h2l0.45 22l0.25 21.4h-3.4l0.25-21.4zM1452 93.6h2l0.45 22l0.25 21.4h-3.4l0.25-21.4zM1455.25 93.6h2l0.45 22l0.25 21.4h-3.4l0.25-21.4zM1458.51 93.6h2l0.45 22l0.25 21.4h-3.4l0.25-21.4zM1461.76 93.6h2l0.45 22l0.25 21.4h-3.4l0.25-21.4zM1465.01 93.6h2l0.45 22l0.25 21.4h-3.4l0.25-21.4zM1468.27 93.6h2l0.45 22l0.25 21.4h-3.4l0.25-21.4zM1471.52 93.6h2l0.45 22l0.25 21.4h-3.4l0.25-21.4zM1474.78 93.6h2l0.45 22l0.25 21.4h-3.4l0.25-21.4zM1478.03 93.6h2l0.45 22l0.25 21.4h-3.4l0.25-21.4zM1481.28 93.6h2l0.45 22l0.25 21.4h-3.4l0.25-21.4zM1484.54 93.6h2l0.45 22l0.25 21.4h-3.4l0.25-21.4zM1487.79 93.6h2l0.45 22l0.25 21.4h-3.4l0.25-21.4zM1491.05 93.6h2l0.45 22l0.25 21.4h-3.4l0.25-21.4zM1494.3 93.6h2l0.45 22l0.25 21.4h-3.4l0.25-21.4zM1497.55 93.6h2l0.45 22l0.25 21.4h-3.4l0.25-21.4zM1500.81 93.6h2l0.45 22l0.25 21.4h-3.4l0.25-21.4zM1504.06 93.6h2l0.45 22l0.25 21.4h-3.4l0.25-21.4zM1507.32 93.6h2l0.45 22l0.25 21.4h-3.4l0.25-21.4zM1510.57 93.6h2l0.45 22l0.25 21.4h-3.4l0.25-21.4zM1513.82 93.6h2l0.45 22l0.25 21.4h-3.4l0.25-21.4zM1517.08 93.6h2l0.45 22l0.25 21.4h-3.4l0.25-21.4zM1520.33 93.6h2l0.45 22l0.25 21.4h-3.4l0.25-21.4zM1523.59 93.6h2l0.45 22l0.25 21.4h-3.4l0.25-21.4zM1526.84 93.6h2l0.45 22l0.25 21.4h-3.4l0.25-21.4zM1530.09 93.6h2l0.45 22l0.25 21.4h-3.4l0.25-21.4zM1533.35 93.6h2l0.45 22l0.25 21.4h-3.4l0.25-21.4zM1536.6 93.6h2l0.45 22l0.25 21.4h-3.4l0.25-21.4zM1539.86 93.6h2l0.45 22l0.25 21.4h-3.4l0.25-21.4zM1543.11 93.6h2l0.45 22l0.25 21.4h-3.4l0.25-21.4zM1546.36 93.6h2l0.45 22l0.25 21.4h-3.4l0.25-21.4zM1549.62 93.6h2l0.45 22l0.25 21.4h-3.4l0.25-21.4zM1552.87 93.6h2l0.45 22l0.25 21.4h-3.4l0.25-21.4zM1556.13 93.6h2l0.45 22l0.25 21.4h-3.4l0.25-21.4zM1559.38 93.6h2l0.45 22l0.25 21.4h-3.4l0.25-21.4zM1562.63 93.6h2l0.45 22l0.25 21.4h-3.4l0.25-21.4zM1565.89 93.6h2l0.45 22l0.25 21.4h-3.4l0.25-21.4zM1569.14 93.6h2l0.45 22l0.25 21.4h-3.4l0.25-21.4zM1572.4 93.6h2l0.45 22l0.25 21.4h-3.4l0.25-21.4zM1575.65 93.6h2l0.45 22l0.25 21.4h-3.4l0.25-21.4zM1578.9 93.6h2l0.45 22l0.25 21.4h-3.4l0.25-21.4zM1582.16 93.6h2l0.45 22l0.25 21.4h-3.4l0.25-21.4zM1585.41 93.6h2l0.45 22l0.25 21.4h-3.4l0.25-21.4zM1588.67 93.6h2l0.45 22l0.25 21.4h-3.4l0.25-21.4zM1591.92 93.6h2l0.45 22l0.25 21.4h-3.4l0.25-21.4zM1595.17 93.6h2l0.45 22l0.25 21.4h-3.4l0.25-21.4zM1598.43 93.6h2l0.45 22l0.25 21.4h-3.4l0.25-21.4zM1601.68 93.6h2l0.45 22l0.25 21.4h-3.4l0.25-21.4zM1604.94 93.6h2l0.45 22l0.25 21.4h-3.4l0.25-21.4zM1608.19 93.6h2l0.45 22l0.25 21.4h-3.4l0.25-21.4zM1611.44 93.6h2l0.45 22l0.25 21.4h-3.4l0.25-21.4zM1614.7 93.6h2l0.45 22l0.25 21.4h-3.4l0.25-21.4zM1617.95 93.6h2l0.45 22l0.25 21.4h-3.4l0.25-21.4zM1621.21 93.6h2l0.45 22l0.25 21.4h-3.4l0.25-21.4zM1624.46 93.6h2l0.45 22l0.25 21.4h-3.4l0.25-21.4zM1627.71 93.6h2l0.45 22l0.25 21.4h-3.4l0.25-21.4zM1630.97 93.6h2l0.45 22l0.25 21.4h-3.4l0.25-21.4zM1634.22 93.6h2l0.45 22l0.25 21.4h-3.4l0.25-21.4zM1637.48 93.6h2l0.45 22l0.25 21.4h-3.4l0.25-21.4zM1640.73 93.6h2l0.45 22l0.25 21.4h-3.4l0.25-21.4zM1643.98 93.6h2l0.45 22l0.25 21.4h-3.4l0.25-21.4zM1647.24 93.6h2l0.45 22l0.25 21.4h-3.4l0.25-21.4zM1650.49 93.6h2l0.45 22l0.25 21.4h-3.4l0.25-21.4zM1653.75 93.6h2l0.45 22l0.25 21.4h-3.4l0.25-21.4zM1657 93.6h2l0.45 22l0.25 21.4h-3.4l0.25-21.4zM1660.25 93.6h2l0.45 22l0.25 21.4h-3.4l0.25-21.4zM1663.51 93.6h2l0.45 22l0.25 21.4h-3.4l0.25-21.4zM1666.76 93.6h2l0.45 22l0.25 21.4h-3.4l0.25-21.4zM1670.02 93.6h2l0.45 22l0.25 21.4h-3.4l0.25-21.4zM1673.27 93.6h2l0.45 22l0.25 21.4h-3.4l0.25-21.4zM1676.52 93.6h2l0.45 22l0.25 21.4h-3.4l0.25-21.4zM1679.78 93.6h2l0.45 22l0.25 21.4h-3.4l0.25-21.4zM1683.03 93.6h2l0.45 22l0.25 21.4h-3.4l0.25-21.4zM1686.29 93.6h2l0.45 22l0.25 21.4h-3.4l0.25-21.4zM1689.54 93.6h2l0.45 22l0.25 21.4h-3.4l0.25-21.4zM1692.79 93.6h2l0.45 22l0.25 21.4h-3.4l0.25-21.4zM1696.05 93.6h2l0.45 22l0.25 21.4h-3.4l0.25-21.4zM1699.3 93.6h2l0.45 22l0.25 21.4h-3.4l0.25-21.4zM1702.56 93.6h2l0.45 22l0.25 21.4h-3.4l0.25-21.4zM1705.81 93.6h2l0.45 22l0.25 21.4h-3.4l0.25-21.4zM1709.06 93.6h2l0.45 22l0.25 21.4h-3.4l0.25-21.4zM1712.32 93.6h2l0.45 22l0.25 21.4h-3.4l0.25-21.4zM1715.57 93.6h2l0.45 22l0.25 21.4h-3.4l0.25-21.4zM1718.83 93.6h2l0.45 22l0.25 21.4h-3.4l0.25-21.4zM1722.08 93.6h2l0.45 22l0.25 21.4h-3.4l0.25-21.4zM1725.33 93.6h2l0.45 22l0.25 21.4h-3.4l0.25-21.4zM1728.59 93.6h2l0.45 22l0.25 21.4h-3.4l0.25-21.4zM1731.84 93.6h2l0.45 22l0.25 21.4h-3.4l0.25-21.4zM1735.1 93.6h2l0.45 22l0.25 21.4h-3.4l0.25-21.4zM1738.35 93.6h2l0.45 22l0.25 21.4h-3.4l0.25-21.4zM1741.6 93.6h2l0.45 22l0.25 21.4h-3.4l0.25-21.4zM1744.86 93.6h2l0.45 22l0.25 21.4h-3.4l0.25-21.4zM1748.11 93.6h2l0.45 22l0.25 21.4h-3.4l0.25-21.4zM1751.37 93.6h2l0.45 22l0.25 21.4h-3.4l0.25-21.4zM1754.62 93.6h2l0.45 22l0.25 21.4h-3.4l0.25-21.4zM1757.87 93.6h2l0.45 22l0.25 21.4h-3.4l0.25-21.4zM1761.13 93.6h2l0.45 22l0.25 21.4h-3.4l0.25-21.4zM1764.38 93.6h2l0.45 22l0.25 21.4h-3.4l0.25-21.4zM1767.64 93.6h2l0.45 22l0.25 21.4h-3.4l0.25-21.4zM1770.89 93.6h2l0.45 22l0.25 21.4h-3.4l0.25-21.4zM1774.14 93.6h2l0.45 22l0.25 21.4h-3.4l0.25-21.4zM1777.4 93.6h2l0.45 22l0.25 21.4h-3.4l0.25-21.4zM1780.65 93.6h2l0.45 22l0.25 21.4h-3.4l0.25-21.4zM1783.91 93.6h2l0.45 22l0.25 21.4h-3.4l0.25-21.4zM1787.16 93.6h2l0.45 22l0.25 21.4h-3.4l0.25-21.4zM1790.41 93.6h2l0.45 22l0.25 21.4h-3.4l0.25-21.4zM1793.67 93.6h2l0.45 22l0.25 21.4h-3.4l0.25-21.4zM1796.92 93.6h2l0.45 22l0.25 21.4h-3.4l0.25-21.4zM1800.18 93.6h2l0.45 22l0.25 21.4h-3.4l0.25-21.4z"/>
<g stroke="#111" stroke-width="0.45"><rect x="1005.85" y="199.8" width="2.7" height="43.1" fill="#c8eaa0"/><rect x="1009.1" y="199.8" width="2.7" height="43.1" fill="#3faee3"/><rect x="1012.36" y="199.8" width="2.7" height="43.1" fill="#6252b1"/><rect x="1015.61" y="199.8" width="2.7" height="43.1" fill="#52a62c"/><rect x="1018.87" y="199.8" width="2.7" height="43.1" fill="#60a985"/><rect x="1022.12" y="199.8" width="2.7" height="43.1" fill="#c30db2"/><rect x="1025.37" y="199.8" width="2.7" height="43.1" fill="#f7f991"/><rect x="1028.63" y="199.8" width="2.7" height="43.1" fill="#a65957"/><rect x="1031.88" y="199.8" width="2.7" height="43.1" fill="#355fa9"/><rect x="1035.14" y="199.8" width="2.7" height="43.1" fill="#d7c570"/><rect x="1038.39" y="199.8" width="2.7" height="43.1" fill="#8d11ab"/><rect x="1041.64" y="199.8" width="2.7" height="43.1" fill="#a09131"/><rect x="1044.9" y="199.8" width="2.7" height="43.1" fill="#2717cd"/><rect x="1048.15" y="199.8" width="2.7" height="43.1" fill="#ec82eb"/><rect x="1051.41" y="199.8" width="2.7" height="43.1" fill="#83e88a"/><rect x="1054.66" y="199.8" width="2.7" height="43.1" fill="#c7555e"/><rect x="1057.91" y="199.8" width="2.7" height="43.1" fill="#f3234a"/><rect x="1061.17" y="199.8" width="2.7" height="43.1" fill="#54a425"/><rect x="1064.42" y="199.8" width="2.7" height="43.1" fill="#ac3355"/><rect x="1067.68" y="199.8" width="2.7" height="43.1" fill="#a56135"/><rect x="1070.93" y="199.8" width="2.7" height="43.1" fill="#dd25f0"/><rect x="1074.18" y="199.8" width="2.7" height="43.1" fill="#84eac6"/><rect x="1077.44" y="199.8" width="2.7" height="43.1" fill="#99caaf"/><rect x="1080.69" y="199.8" width="2.7" height="43.1" fill="#c7ba9a"/><rect x="1083.95" y="199.8" width="2.7" height="43.1" fill="#eb38f2"/><rect x="1087.2" y="199.8" width="2.7" height="43.1" fill="#efe967"/><rect x="1090.45" y="199.8" width="2.7" height="43.1" fill="#636ba2"/><rect x="1093.71" y="199.8" width="2.7" height="43.1" fill="#17f99c"/><rect x="1096.96" y="199.8" width="2.7" height="43.1" fill="#a1d479"/><rect x="1100.22" y="199.8" width="2.7" height="43.1" fill="#b18396"/><rect x="1103.47" y="199.8" width="2.7" height="43.1" fill="#f29987"/><rect x="1106.72" y="199.8" width="2.7" height="43.1" fill="#b53a2e"/><rect x="1109.98" y="199.8" width="2.7" height="43.1" fill="#b91c6f"/><rect x="1113.23" y="199.8" width="2.7" height="43.1" fill="#43b71a"/><rect x="1116.49" y="199.8" width="2.7" height="43.1" fill="#180cbf"/><rect x="1119.74" y="199.8" width="2.7" height="43.1" fill="#62a0dc"/><rect x="1122.99" y="199.8" width="2.7" height="43.1" fill="#d9bb7d"/><rect x="1126.25" y="199.8" width="2.7" height="43.1" fill="#ab7017"/><rect x="1129.5" y="199.8" width="2.7" height="43.1" fill="#96f85e"/><rect x="1132.76" y="199.8" width="2.7" height="43.1" fill="#d802d6"/><rect x="1136.01" y="199.8" width="2.7" height="43.1" fill="#2f55bd"/><rect x="1139.26" y="199.8" width="2.7" height="43.1" fill="#63a9dc"/><rect x="1142.52" y="199.8" width="2.7" height="43.1" fill="#664aa0"/><rect x="1145.77" y="199.8" width="2.7" height="43.1" fill="#13d387"/><rect x="1149.03" y="199.8" width="2.7" height="43.1" fill="#3c77df"/><rect x="1152.28" y="199.8" width="2.7" height="43.1" fill="#4d8caa"/><rect x="1155.53" y="199.8" width="2.7" height="43.1" fill="#ba0580"/><rect x="1158.79" y="199.8" width="2.7" height="43.1" fill="#39a2af"/><rect x="1162.04" y="199.8" width="2.7" height="43.1" fill="#b9a087"/><rect x="1165.3" y="199.8" width="2.7" height="43.1" fill="#c9d0a2"/><rect x="1168.55" y="199.8" width="2.7" height="43.1" fill="#344cda"/><rect x="1171.8" y="199.8" width="2.7" height="43.1" fill="#557bcb"/><rect x="1175.06" y="199.8" width="2.7" height="43.1" fill="#a2d622"/><rect x="1178.31" y="199.8" width="2.7" height="43.1" fill="#3e72e8"/><rect x="1181.57" y="199.8" width="2.7" height="43.1" fill="#4ee571"/><rect x="1184.82" y="199.8" width="2.7" height="43.1" fill="#e1fd06"/><rect x="1188.07" y="199.8" width="2.7" height="43.1" fill="#c37779"/><rect x="1191.33" y="199.8" width="2.7" height="43.1" fill="#e34937"/><rect x="1194.58" y="199.8" width="2.7" height="43.1" fill="#b74de6"/><rect x="1197.84" y="199.8" width="2.7" height="43.1" fill="#3c5bde"/><rect x="1201.09" y="199.8" width="2.7" height="43.1" fill="#e28f2c"/><rect x="1204.34" y="199.8" width="2.7" height="43.1" fill="#ae364b"/><rect x="1207.6" y="199.8" width="2.7" height="43.1" fill="#b7f4c0"/><rect x="1210.85" y="199.8" width="2.7" height="43.1" fill="#8467d0"/><rect x="1214.11" y="199.8" width="2.7" height="43.1" fill="#9e5a0d"/><rect x="1217.36" y="199.8" width="2.7" height="43.1" fill="#db4899"/><rect x="1220.61" y="199.8" width="2.7" height="43.1" fill="#c8c64d"/><rect x="1223.87" y="199.8" width="2.7" height="43.1" fill="#cb9d38"/><rect x="1227.12" y="199.8" width="2.7" height="43.1" fill="#9a2dbd"/><rect x="1230.38" y="199.8" width="2.7" height="43.1" fill="#5c8cd3"/><rect x="1233.63" y="199.8" width="2.7" height="43.1" fill="#cd582b"/><rect x="1236.88" y="199.8" width="2.7" height="43.1" fill="#c8c35c"/><rect x="1240.14" y="199.8" width="2.7" height="43.1" fill="#5f8fda"/><rect x="1243.39" y="199.8" width="2.7" height="43.1" fill="#9015b5"/><rect x="1246.65" y="199.8" width="2.7" height="43.1" fill="#4898b6"/><rect x="1249.9" y="199.8" width="2.7" height="43.1" fill="#22b67e"/><rect x="1253.15" y="199.8" width="2.7" height="43.1" fill="#5cc80f"/><rect x="1256.41" y="199.8" width="2.7" height="43.1" fill="#3c8dd3"/><rect x="1259.66" y="199.8" width="2.7" height="43.1" fill="#a71944"/><rect x="1262.92" y="199.8" width="2.7" height="43.1" fill="#ed9086"/><rect x="1266.17" y="199.8" width="2.7" height="43.1" fill="#ce7865"/><rect x="1269.42" y="199.8" width="2.7" height="43.1" fill="#9f7c77"/><rect x="1272.68" y="199.8" width="2.7" height="43.1" fill="#60fb4c"/><rect x="1275.93" y="199.8" width="2.7" height="43.1" fill="#f63cde"/><rect x="1279.19" y="199.8" width="2.7" height="43.1" fill="#b0cc8c"/><rect x="1282.44" y="199.8" width="2.7" height="43.1" fill="#b1376e"/><rect x="1285.69" y="199.8" width="2.7" height="43.1" fill="#cc9ad7"/><rect x="1288.95" y="199.8" width="2.7" height="43.1" fill="#9fcf64"/><rect x="1292.2" y="199.8" width="2.7" height="43.1" fill="#97d628"/><rect x="1295.46" y="199.8" width="2.7" height="43.1" fill="#fe6569"/><rect x="1298.71" y="199.8" width="2.7" height="43.1" fill="#52a1a6"/><rect x="1301.96" y="199.8" width="2.7" height="43.1" fill="#a68b60"/><rect x="1305.22" y="199.8" width="2.7" height="43.1" fill="#d1e866"/><rect x="1308.47" y="199.8" width="2.7" height="43.1" fill="#fee630"/><rect x="1311.73" y="199.8" width="2.7" height="43.1" fill="#3ee2ac"/><rect x="1314.98" y="199.8" width="2.7" height="43.1" fill="#d7a9e9"/><rect x="1318.23" y="199.8" width="2.7" height="43.1" fill="#af9334"/><rect x="1321.49" y="199.8" width="2.7" height="43.1" fill="#40c806"/><rect x="1324.74" y="199.8" width="2.7" height="43.1" fill="#e84c80"/><rect x="1328" y="199.8" width="2.7" height="43.1" fill="#74dd9e"/><rect x="1331.25" y="199.8" width="2.7" height="43.1" fill="#6555d0"/><rect x="1334.5" y="199.8" width="2.7" height="43.1" fill="#159e45"/><rect x="1337.76" y="199.8" width="2.7" height="43.1" fill="#75dde5"/><rect x="1341.01" y="199.8" width="2.7" height="43.1" fill="#61d793"/><rect x="1344.27" y="199.8" width="2.7" height="43.1" fill="#6050ea"/><rect x="1347.52" y="199.8" width="2.7" height="43.1" fill="#b68737"/><rect x="1350.77" y="199.8" width="2.7" height="43.1" fill="#e596af"/><rect x="1354.03" y="199.8" width="2.7" height="43.1" fill="#8992b3"/><rect x="1357.28" y="199.8" width="2.7" height="43.1" fill="#fb310d"/><rect x="1360.54" y="199.8" width="2.7" height="43.1" fill="#de8880"/><rect x="1363.79" y="199.8" width="2.7" height="43.1" fill="#9465b4"/><rect x="1367.04" y="199.8" width="2.7" height="43.1" fill="#a25fcf"/><rect x="1370.3" y="199.8" width="2.7" height="43.1" fill="#7188b0"/><rect x="1373.55" y="199.8" width="2.7" height="43.1" fill="#c4d73d"/><rect x="1376.81" y="199.8" width="2.7" height="43.1" fill="#3957dc"/><rect x="1380.06" y="199.8" width="2.7" height="43.1" fill="#f344ea"/><rect x="1383.31" y="199.8" width="2.7" height="43.1" fill="#da1ee0"/><rect x="1386.57" y="199.8" width="2.7" height="43.1" fill="#acde77"/><rect x="1389.82" y="199.8" width="2.7" height="43.1" fill="#3a6ed8"/><rect x="1393.08" y="199.8" width="2.7" height="43.1" fill="#a8e15e"/><rect x="1396.33" y="199.8" width="2.7" height="43.1" fill="#5dc952"/><rect x="1399.58" y="199.8" width="2.7" height="43.1" fill="#224ae8"/><rect x="1402.84" y="199.8" width="2.7" height="43.1" fill="#4903c9"/><rect x="1406.09" y="199.8" width="2.7" height="43.1" fill="#626eee"/><rect x="1409.35" y="199.8" width="2.7" height="43.1" fill="#7ca9c1"/><rect x="1412.6" y="199.8" width="2.7" height="43.1" fill="#c0faa4"/><rect x="1415.85" y="199.8" width="2.7" height="43.1" fill="#ea038a"/><rect x="1419.11" y="199.8" width="2.7" height="43.1" fill="#a41d0b"/><rect x="1422.36" y="199.8" width="2.7" height="43.1" fill="#ed2e74"/><rect x="1425.62" y="199.8" width="2.7" height="43.1" fill="#9fa731"/><rect x="1428.87" y="199.8" width="2.7" height="43.1" fill="#14bab5"/><rect x="1432.12" y="199.8" width="2.7" height="43.1" fill="#a39549"/><rect x="1435.38" y="199.8" width="2.7" height="43.1" fill="#2271c6"/><rect x="1438.63" y="199.8" width="2.7" height="43.1" fill="#b698f2"/><rect x="1441.89" y="199.8" width="2.7" height="43.1" fill="#61d83a"/><rect x="1445.14" y="199.8" width="2.7" height="43.1" fill="#968ef9"/><rect x="1448.39" y="199.8" width="2.7" height="43.1" fill="#afda1f"/><rect x="1451.65" y="199.8" width="2.7" height="43.1" fill="#5aa8cb"/><rect x="1454.9" y="199.8" width="2.7" height="43.1" fill="#2bac39"/><rect x="1458.16" y="199.8" width="2.7" height="43.1" fill="#d1b77a"/><rect x="1461.41" y="199.8" width="2.7" height="43.1" fill="#0cd961"/><rect x="1464.66" y="199.8" width="2.7" height="43.1" fill="#3ebf0b"/><rect x="1467.92" y="199.8" width="2.7" height="43.1" fill="#ade073"/><rect x="1471.17" y="199.8" width="2.7" height="43.1" fill="#8863c3"/><rect x="1474.43" y="199.8" width="2.7" height="43.1" fill="#42ad43"/><rect x="1477.68" y="199.8" width="2.7" height="43.1" fill="#c07617"/><rect x="1480.93" y="199.8" width="2.7" height="43.1" fill="#03f38b"/><rect x="1484.19" y="199.8" width="2.7" height="43.1" fill="#f80ced"/><rect x="1487.44" y="199.8" width="2.7" height="43.1" fill="#6c91c1"/><rect x="1490.7" y="199.8" width="2.7" height="43.1" fill="#b8c4e7"/><rect x="1493.95" y="199.8" width="2.7" height="43.1" fill="#4aefa2"/><rect x="1497.2" y="199.8" width="2.7" height="43.1" fill="#b4a424"/><rect x="1500.46" y="199.8" width="2.7" height="43.1" fill="#05c963"/><rect x="1503.71" y="199.8" width="2.7" height="43.1" fill="#1ebf04"/><rect x="1506.97" y="199.8" width="2.7" height="43.1" fill="#95e4f9"/><rect x="1510.22" y="199.8" width="2.7" height="43.1" fill="#26ce22"/><rect x="1513.47" y="199.8" width="2.7" height="43.1" fill="#7f7da2"/><rect x="1516.73" y="199.8" width="2.7" height="43.1" fill="#92b98a"/><rect x="1519.98" y="199.8" width="2.7" height="43.1" fill="#e7a194"/><rect x="1523.24" y="199.8" width="2.7" height="43.1" fill="#a58760"/><rect x="1526.49" y="199.8" width="2.7" height="43.1" fill="#62eae2"/><rect x="1529.74" y="199.8" width="2.7" height="43.1" fill="#3c92a0"/><rect x="1533" y="199.8" width="2.7" height="43.1" fill="#11a844"/><rect x="1536.25" y="199.8" width="2.7" height="43.1" fill="#5391a5"/><rect x="1539.51" y="199.8" width="2.7" height="43.1" fill="#d2004d"/><rect x="1542.76" y="199.8" width="2.7" height="43.1" fill="#3665ae"/><rect x="1546.01" y="199.8" width="2.7" height="43.1" fill="#1fa275"/><rect x="1549.27" y="199.8" width="2.7" height="43.1" fill="#cc931d"/><rect x="1552.52" y="199.8" width="2.7" height="43.1" fill="#9035ba"/><rect x="1555.78" y="199.8" width="2.7" height="43.1" fill="#a15b5b"/><rect x="1559.03" y="199.8" width="2.7" height="43.1" fill="#f944c8"/><rect x="1562.28" y="199.8" width="2.7" height="43.1" fill="#736bc8"/><rect x="1565.54" y="199.8" width="2.7" height="43.1" fill="#27bf6c"/><rect x="1568.79" y="199.8" width="2.7" height="43.1" fill="#a5c73d"/><rect x="1572.05" y="199.8" width="2.7" height="43.1" fill="#e3b9a5"/><rect x="1575.3" y="199.8" width="2.7" height="43.1" fill="#00d9ba"/><rect x="1578.55" y="199.8" width="2.7" height="43.1" fill="#7b03c3"/><rect x="1581.81" y="199.8" width="2.7" height="43.1" fill="#a376cb"/><rect x="1585.06" y="199.8" width="2.7" height="43.1" fill="#26acf1"/><rect x="1588.32" y="199.8" width="2.7" height="43.1" fill="#897ade"/><rect x="1591.57" y="199.8" width="2.7" height="43.1" fill="#3f6bcf"/><rect x="1594.82" y="199.8" width="2.7" height="43.1" fill="#e2eb71"/><rect x="1598.08" y="199.8" width="2.7" height="43.1" fill="#ee6137"/><rect x="1601.33" y="199.8" width="2.7" height="43.1" fill="#a1af05"/><rect x="1604.59" y="199.8" width="2.7" height="43.1" fill="#8ab7ac"/><rect x="1607.84" y="199.8" width="2.7" height="43.1" fill="#dcdc7e"/><rect x="1611.09" y="199.8" width="2.7" height="43.1" fill="#64c705"/><rect x="1614.35" y="199.8" width="2.7" height="43.1" fill="#cb2a70"/><rect x="1617.6" y="199.8" width="2.7" height="43.1" fill="#6f44a4"/><rect x="1620.86" y="199.8" width="2.7" height="43.1" fill="#6728a9"/><rect x="1624.11" y="199.8" width="2.7" height="43.1" fill="#d0da1a"/><rect x="1627.36" y="199.8" width="2.7" height="43.1" fill="#e5be9e"/><rect x="1630.62" y="199.8" width="2.7" height="43.1" fill="#f07854"/><rect x="1633.87" y="199.8" width="2.7" height="43.1" fill="#c6ef83"/><rect x="1637.13" y="199.8" width="2.7" height="43.1" fill="#b6aae6"/><rect x="1640.38" y="199.8" width="2.7" height="43.1" fill="#f8fab0"/><rect x="1643.63" y="199.8" width="2.7" height="43.1" fill="#e7e125"/><rect x="1646.89" y="199.8" width="2.7" height="43.1" fill="#fc7f16"/><rect x="1650.14" y="199.8" width="2.7" height="43.1" fill="#7ebce5"/><rect x="1653.4" y="199.8" width="2.7" height="43.1" fill="#cc1dce"/><rect x="1656.65" y="199.8" width="2.7" height="43.1" fill="#49dbba"/><rect x="1659.9" y="199.8" width="2.7" height="43.1" fill="#065ab8"/><rect x="1663.16" y="199.8" width="2.7" height="43.1" fill="#a03f86"/><rect x="1666.41" y="199.8" width="2.7" height="43.1" fill="#053fd4"/><rect x="1669.67" y="199.8" width="2.7" height="43.1" fill="#ad6fde"/><rect x="1672.92" y="199.8" width="2.7" height="43.1" fill="#a0c154"/><rect x="1676.17" y="199.8" width="2.7" height="43.1" fill="#4285a3"/><rect x="1679.43" y="199.8" width="2.7" height="43.1" fill="#b780ea"/><rect x="1682.68" y="199.8" width="2.7" height="43.1" fill="#63ba3c"/><rect x="1685.94" y="199.8" width="2.7" height="43.1" fill="#c0c9a0"/><rect x="1689.19" y="199.8" width="2.7" height="43.1" fill="#d84f33"/><rect x="1692.44" y="199.8" width="2.7" height="43.1" fill="#d07737"/><rect x="1695.7" y="199.8" width="2.7" height="43.1" fill="#aacc67"/><rect x="1698.95" y="199.8" width="2.7" height="43.1" fill="#246cb8"/><rect x="1702.21" y="199.8" width="2.7" height="43.1" fill="#5eb11b"/><rect x="1705.46" y="199.8" width="2.7" height="43.1" fill="#6619d1"/><rect x="1708.71" y="199.8" width="2.7" height="43.1" fill="#c01826"/><rect x="1711.97" y="199.8" width="2.7" height="43.1" fill="#858faf"/><rect x="1715.22" y="199.8" width="2.7" height="43.1" fill="#5a69f7"/><rect x="1718.48" y="199.8" width="2.7" height="43.1" fill="#83b2bd"/><rect x="1721.73" y="199.8" width="2.7" height="43.1" fill="#ba9e64"/><rect x="1724.98" y="199.8" width="2.7" height="43.1" fill="#e95668"/><rect x="1728.24" y="199.8" width="2.7" height="43.1" fill="#cb7081"/><rect x="1731.49" y="199.8" width="2.7" height="43.1" fill="#be2409"/><rect x="1734.75" y="199.8" width="2.7" height="43.1" fill="#a67f5c"/><rect x="1738" y="199.8" width="2.7" height="43.1" fill="#d16e90"/><rect x="1741.25" y="199.8" width="2.7" height="43.1" fill="#b245e9"/><rect x="1744.51" y="199.8" width="2.7" height="43.1" fill="#809aab"/><rect x="1747.76" y="199.8" width="2.7" height="43.1" fill="#b2fadd"/><rect x="1751.02" y="199.8" width="2.7" height="43.1" fill="#8458a8"/><rect x="1754.27" y="199.8" width="2.7" height="43.1" fill="#a3d634"/><rect x="1757.52" y="199.8" width="2.7" height="43.1" fill="#74e17f"/><rect x="1760.78" y="199.8" width="2.7" height="43.1" fill="#114ca5"/><rect x="1764.03" y="199.8" width="2.7" height="43.1" fill="#71da7d"/><rect x="1767.29" y="199.8" width="2.7" height="43.1" fill="#a5cfc5"/><rect x="1770.54" y="199.8" width="2.7" height="43.1" fill="#d2c588"/><rect x="1773.79" y="199.8" width="2.7" height="43.1" fill="#9fc0e2"/><rect x="1777.05" y="199.8" width="2.7" height="43.1" fill="#ae39a9"/><rect x="1780.3" y="199.8" width="2.7" height="43.1" fill="#85a0f6"/><rect x="1783.56" y="199.8" width="2.7" height="43.1" fill="#70ca9a"/><rect x="1786.81" y="199.8" width="2.7" height="43.1" fill="#c6d368"/><rect x="1790.06" y="199.8" width="2.7" height="43.1" fill="#d8c865"/><rect x="1793.32" y="199.8" width="2.7" height="43.1" fill="#f24d2c"/><rect x="1796.57" y="199.8" width="2.7" height="43.1" fill="#bc58af"/><rect x="1799.83" y="199.8" width="2.7" height="43.1" fill="#2f61d3"/></g>
<path d="M1005.6 219.8H1802.78" stroke="#000" stroke-width="1.55"/>
<rect x="973.7" y="80.6" width="861.1" height="217.2" fill="none" stroke="#222" stroke-width="0.9"/>
<text x="968.2" y="298.54" font-size="4.6" text-anchor="end" font-weight="bold">2</text>
<text x="968.2" y="261.08" font-size="4.6" text-anchor="end" font-weight="bold">4</text>
<text x="968.2" y="223.62" font-size="4.6" text-anchor="end" font-weight="bold">6</text>
<text x="968.2" y="186.16" font-size="4.6" text-anchor="end" font-weight="bold">8</text>
<text x="968.2" y="148.7" font-size="4.6" text-anchor="end" font-weight="bold">10</text>
<text x="968.2" y="111.24" font-size="4.6" text-anchor="end" font-weight="bold">12</text>
<path d="M970.8000000000001 296.94H973.7M970.8000000000001 259.48H973.7M970.8000000000001 222.02H973.7M970.8000000000001 184.56H973.7M970.8000000000001 147.1H973.7M970.8000000000001 109.64H973.7M1007.2 297.8v3.6M1010.45 297.8v3.6M1013.71 297.8v3.6M1016.96 297.8v3.6M1020.22 297.8v3.6M1023.47 297.8v3.6M1026.72 297.8v3.6M1029.98 297.8v3.6M1033.23 297.8v3.6M1036.49 297.8v3.6M1039.74 297.8v3.6M1042.99 297.8v3.6M1046.25 297.8v3.6M1049.5 297.8v3.6M1052.76 297.8v3.6M1056.01 297.8v3.6M1059.26 297.8v3.6M1062.52 297.8v3.6M1065.77 297.8v3.6M1069.03 297.8v3.6M1072.28 297.8v3.6M1075.53 297.8v3.6M1078.79 297.8v3.6M1082.04 297.8v3.6M1085.3 297.8v3.6M1088.55 297.8v3.6M1091.8 297.8v3.6M1095.06 297.8v3.6M1098.31 297.8v3.6M1101.57 297.8v3.6M1104.82 297.8v3.6M1108.07 297.8v3.6M1111.33 297.8v3.6M1114.58 297.8v3.6M1117.84 297.8v3.6M1121.09 297.8v3.6M1124.34 297.8v3.6M1127.6 297.8v3.6M1130.85 297.8v3.6M1134.11 297.8v3.6M1137.36 297.8v3.6M1140.61 297.8v3.6M1143.87 297.8v3.6M1147.12 297.8v3.6M1150.38 297.8v3.6M1153.63 297.8v3.6M1156.88 297.8v3.6M1160.14 297.8v3.6M1163.39 297.8v3.6M1166.65 297.8v3.6M1169.9 297.8v3.6M1173.15 297.8v3.6M1176.41 297.8v3.6M1179.66 297.8v3.6M1182.92 297.8v3.6M1186.17 297.8v3.6M1189.42 297.8v3.6M1192.68 297.8v3.6M1195.93 297.8v3.6M1199.19 297.8v3.6M1202.44 297.8v3.6M1205.69 297.8v3.6M1208.95 297.8v3.6M1212.2 297.8v3.6M1215.46 297.8v3.6M1218.71 297.8v3.6M1221.96 297.8v3.6M1225.22 297.8v3.6M1228.47 297.8v3.6M1231.73 297.8v3.6M1234.98 297.8v3.6M1238.23 297.8v3.6M1241.49 297.8v3.6M1244.74 297.8v3.6M1248 297.8v3.6M1251.25 297.8v3.6M1254.5 297.8v3.6M1257.76 297.8v3.6M1261.01 297.8v3.6M1264.27 297.8v3.6M1267.52 297.8v3.6M1270.77 297.8v3.6M1274.03 297.8v3.6M1277.28 297.8v3.6M1280.54 297.8v3.6M1283.79 297.8v3.6M1287.04 297.8v3.6M1290.3 297.8v3.6M1293.55 297.8v3.6M1296.81 297.8v3.6M1300.06 297.8v3.6M1303.31 297.8v3.6M1306.57 297.8v3.6M1309.82 297.8v3.6M1313.08 297.8v3.6M1316.33 297.8v3.6M1319.58 297.8v3.6M1322.84 297.8v3.6M1326.09 297.8v3.6M1329.35 297.8v3.6M1332.6 297.8v3.6M1335.85 297.8v3.6M1339.11 297.8v3.6M1342.36 297.8v3.6M1345.62 297.8v3.6M1348.87 297.8v3.6M1352.12 297.8v3.6M1355.38 297.8v3.6M1358.63 297.8v3.6M1361.89 297.8v3.6M1365.14 297.8v3.6M1368.39 297.8v3.6M1371.65 297.8v3.6M1374.9 297.8v3.6M1378.16 297.8v3.6M1381.41 297.8v3.6M1384.66 297.8v3.6M1387.92 297.8v3.6M1391.17 297.8v3.6M1394.43 297.8v3.6M1397.68 297.8v3.6M1400.93 297.8v3.6M1404.19 297.8v3.6M1407.44 297.8v3.6M1410.7 297.8v3.6M1413.95 297.8v3.6M1417.2 297.8v3.6M1420.46 297.8v3.6M1423.71 297.8v3.6M1426.97 297.8v3.6M1430.22 297.8v3.6M1433.47 297.8v3.6M1436.73 297.8v3.6M1439.98 297.8v3.6M1443.24 297.8v3.6M1446.49 297.8v3.6M1449.74 297.8v3.6M1453 297.8v3.6M1456.25 297.8v3.6M1459.51 297.8v3.6M1462.76 297.8v3.6M1466.01 297.8v3.6M1469.27 297.8v3.6M1472.52 297.8v3.6M1475.78 297.8v3.6M1479.03 297.8v3.6M1482.28 297.8v3.6M1485.54 297.8v3.6M1488.79 297.8v3.6M1492.05 297.8v3.6M1495.3 297.8v3.6M1498.55 297.8v3.6M1501.81 297.8v3.6M1505.06 297.8v3.6M1508.32 297.8v3.6M1511.57 297.8v3.6M1514.82 297.8v3.6M1518.08 297.8v3.6M1521.33 297.8v3.6M1524.59 297.8v3.6M1527.84 297.8v3.6M1531.09 297.8v3.6M1534.35 297.8v3.6M1537.6 297.8v3.6M1540.86 297.8v3.6M1544.11 297.8v3.6M1547.36 297.8v3.6M1550.62 297.8v3.6M1553.87 297.8v3.6M1557.13 297.8v3.6M1560.38 297.8v3.6M1563.63 297.8v3.6M1566.89 297.8v3.6M1570.14 297.8v3.6M1573.4 297.8v3.6M1576.65 297.8v3.6M1579.9 297.8v3.6M1583.16 297.8v3.6M1586.41 297.8v3.6M1589.67 297.8v3.6M1592.92 297.8v3.6M1596.17 297.8v3.6M1599.43 297.8v3.6M1602.68 297.8v3.6M1605.94 297.8v3.6M1609.19 297.8v3.6M1612.44 297.8v3.6M1615.7 297.8v3.6M1618.95 297.8v3.6M1622.21 297.8v3.6M1625.46 297.8v3.6M1628.71 297.8v3.6M1631.97 297.8v3.6M1635.22 297.8v3.6M1638.48 297.8v3.6M1641.73 297.8v3.6M1644.98 297.8v3.6M1648.24 297.8v3.6M1651.49 297.8v3.6M1654.75 297.8v3.6M1658 297.8v3.6M1661.25 297.8v3.6M1664.51 297.8v3.6M1667.76 297.8v3.6M1671.02 297.8v3.6M1674.27 297.8v3.6M1677.52 297.8v3.6M1680.78 297.8v3.6M1684.03 297.8v3.6M1687.29 297.8v3.6M1690.54 297.8v3.6M1693.79 297.8v3.6M1697.05 297.8v3.6M1700.3 297.8v3.6M1703.56 297.8v3.6M1706.81 297.8v3.6M1710.06 297.8v3.6M1713.32 297.8v3.6M1716.57 297.8v3.6M1719.83 297.8v3.6M1723.08 297.8v3.6M1726.33 297.8v3.6M1729.59 297.8v3.6M1732.84 297.8v3.6M1736.1 297.8v3.6M1739.35 297.8v3.6M1742.6 297.8v3.6M1745.86 297.8v3.6M1749.11 297.8v3.6M1752.37 297.8v3.6M1755.62 297.8v3.6M1758.87 297.8v3.6M1762.13 297.8v3.6M1765.38 297.8v3.6M1768.64 297.8v3.6M1771.89 297.8v3.6M1775.14 297.8v3.6M1778.4 297.8v3.6M1781.65 297.8v3.6M1784.91 297.8v3.6M1788.16 297.8v3.6M1791.41 297.8v3.6M1794.67 297.8v3.6M1797.92 297.8v3.6M1801.18 297.8v3.6" stroke="#000" stroke-width="0.6" fill="none"/>
<g font-size="5.2" font-weight="bold" stroke="#000" stroke-width="0.22"><text transform="translate(1008.9 337.8) rotate(-90)">GSM5570971</text><text transform="translate(1015.41 337.8) rotate(-90)">GSM5570973</text><text transform="translate(1021.92 337.8) rotate(-90)">GSM5570975</text><text transform="translate(1028.42 337.8) rotate(-90)">GSM5570977</text><text transform="translate(1034.93 337.8) rotate(-90)">GSM5570979</text><text transform="translate(1041.44 337.8) rotate(-90)">GSM5570981</text><text transform="translate(1047.95 337.8) rotate(-90)">GSM5570983</text><text transform="translate(1054.46 337.8) rotate(-90)">GSM5570985</text><text transform="translate(1060.96 337.8) rotate(-90)">GSM5570987</text><text transform="translate(1067.47 337.8) rotate(-90)">GSM5570989</text><text transform="translate(1073.98 337.8) rotate(-90)">GSM5570991</text><text transform="translate(1080.49 337.8) rotate(-90)">GSM5570992</text><text transform="translate(1087 337.8) rotate(-90)">GSM5570994</text><text transform="translate(1093.5 337.8) rotate(-90)">GSM5570996</text><text transform="translate(1100.01 337.8) rotate(-90)">GSM5570998</text><text transform="translate(1106.52 337.8) rotate(-90)">GSM5571000</text><text transform="translate(1113.03 337.8) rotate(-90)">GSM5571002</text><text transform="translate(1119.54 337.8) rotate(-90)">GSM5571004</text><text transform="translate(1126.04 337.8) rotate(-90)">GSM5571006</text><text transform="translate(1132.55 337.8) rotate(-90)">GSM5571008</text><text transform="translate(1139.06 337.8) rotate(-90)">GSM5571010</text><text transform="translate(1145.57 337.8) rotate(-90)">GSM5571012</text><text transform="translate(1152.08 337.8) rotate(-90)">GSM5571014</text><text transform="translate(1158.58 337.8) rotate(-90)">GSM5571016</text><text transform="translate(1165.09 337.8) rotate(-90)">GSM5571018</text><text transform="translate(1171.6 337.8) rotate(-90)">GSM5571020</text><text transform="translate(1178.11 337.8) rotate(-90)">GSM5571022</text><text transform="translate(1184.62 337.8) rotate(-90)">GSM5571024</text><text transform="translate(1191.12 337.8) rotate(-90)">GSM5571026</text><text transform="translate(1197.63 337.8) rotate(-90)">GSM5571028</text><text transform="translate(1204.14 337.8) rotate(-90)">GSM5571030</text><text transform="translate(1210.65 337.8) rotate(-90)">GSM5571031</text><text transform="translate(1217.16 337.8) rotate(-90)">GSM5571033</text><text transform="translate(1223.66 337.8) rotate(-90)">GSM5571035</text><text transform="translate(1230.17 337.8) rotate(-90)">GSM5571037</text><text transform="translate(1236.68 337.8) rotate(-90)">GSM5571039</text><text transform="translate(1243.19 337.8) rotate(-90)">GSM5571041</text><text transform="translate(1249.7 337.8) rotate(-90)">GSM5571043</text><text transform="translate(1256.2 337.8) rotate(-90)">GSM5571045</text><text transform="translate(1262.71 337.8) rotate(-90)">GSM5571047</text><text transform="translate(1269.22 337.8) rotate(-90)">GSM5571049</text><text transform="translate(1275.73 337.8) rotate(-90)">GSM5571051</text><text transform="translate(1282.24 337.8) rotate(-90)">GSM5571053</text><text transform="translate(1288.74 337.8) rotate(-90)">GSM5571055</text><text transform="translate(1295.25 337.8) rotate(-90)">GSM5571057</text><text transform="translate(1301.76 337.8) rotate(-90)">GSM5571059</text><text transform="translate(1308.27 337.8) rotate(-90)">GSM5571061</text><text transform="translate(1314.78 337.8) rotate(-90)">GSM5571063</text><text transform="translate(1321.28 337.8) rotate(-90)">GSM5571065</text><text transform="translate(1327.79 337.8) rotate(-90)">GSM5571067</text><text transform="translate(1334.3 337.8) rotate(-90)">GSM5571069</text><text transform="translate(1340.81 337.8) rotate(-90)">GSM5571070</text><text transform="translate(1347.32 337.8) rotate(-90)">GSM5571072</text><text transform="translate(1353.82 337.8) rotate(-90)">GSM5571074</text><text transform="translate(1360.33 337.8) rotate(-90)">GSM5571076</text><text transform="translate(1366.84 337.8) rotate(-90)">GSM5571078</text><text transform="translate(1373.35 337.8) rotate(-90)">GSM5571080</text><text transform="translate(1379.86 337.8) rotate(-90)">GSM5571082</text><text transform="translate(1386.36 337.8) rotate(-90)">GSM5571084</text><text transform="translate(1392.87 337.8) rotate(-90)">GSM5571086</text><text transform="translate(1399.38 337.8) rotate(-90)">GSM5571088</text><text transform="translate(1405.89 337.8) rotate(-90)">GSM5571090</text><text transform="translate(1412.4 337.8) rotate(-90)">GSM5571092</text><text transform="translate(1418.9 337.8) rotate(-90)">GSM5571094</text><text transform="translate(1425.41 337.8) rotate(-90)">GSM5571096</text><text transform="translate(1431.92 337.8) rotate(-90)">GSM5571098</text><text transform="translate(1438.43 337.8) rotate(-90)">GSM5571100</text><text transform="translate(1444.94 337.8) rotate(-90)">GSM5571102</text><text transform="translate(1451.44 337.8) rotate(-90)">GSM5571104</text><text transform="translate(1457.95 337.8) rotate(-90)">GSM5571106</text><text transform="translate(1464.46 337.8) rotate(-90)">GSM5571108</text><text transform="translate(1470.97 337.8) rotate(-90)">GSM5571110</text><text transform="translate(1477.48 337.8) rotate(-90)">GSM5571111</text><text transform="translate(1483.98 337.8) rotate(-90)">GSM5571113</text><text transform="translate(1490.49 337.8) rotate(-90)">GSM5571115</text><text transform="translate(1497 337.8) rotate(-90)">GSM5571117</text><text transform="translate(1503.51 337.8) rotate(-90)">GSM5571119</text><text transform="translate(1510.02 337.8) rotate(-90)">GSM5571121</text><text transform="translate(1516.52 337.8) rotate(-90)">GSM5571123</text><text transform="translate(1523.03 337.8) rotate(-90)">GSM5571125</text><text transform="translate(1529.54 337.8) rotate(-90)">GSM5571127</text><text transform="translate(1536.05 337.8) rotate(-90)">GSM5571129</text><text transform="translate(1542.56 337.8) rotate(-90)">GSM5571131</text><text transform="translate(1549.06 337.8) rotate(-90)">GSM5571133</text><text transform="translate(1555.57 337.8) rotate(-90)">GSM5571135</text><text transform="translate(1562.08 337.8) rotate(-90)">GSM5571137</text><text transform="translate(1568.59 337.8) rotate(-90)">GSM5571139</text><text transform="translate(1575.1 337.8) rotate(-90)">GSM5571141</text><text transform="translate(1581.6 337.8) rotate(-90)">GSM5571143</text><text transform="translate(1588.11 337.8) rotate(-90)">GSM5571145</text><text transform="translate(1594.62 337.8) rotate(-90)">GSM5571147</text><text transform="translate(1601.13 337.8) rotate(-90)">GSM5571149</text><text transform="translate(1607.64 337.8) rotate(-90)">GSM5571150</text><text transform="translate(1614.14 337.8) rotate(-90)">GSM5571152</text><text transform="translate(1620.65 337.8) rotate(-90)">GSM5571154</text><text transform="translate(1627.16 337.8) rotate(-90)">GSM5571156</text><text transform="translate(1633.67 337.8) rotate(-90)">GSM5571158</text><text transform="translate(1640.18 337.8) rotate(-90)">GSM5571160</text><text transform="translate(1646.68 337.8) rotate(-90)">GSM5571162</text><text transform="translate(1653.19 337.8) rotate(-90)">GSM5571164</text><text transform="translate(1659.7 337.8) rotate(-90)">GSM5571166</text><text transform="translate(1666.21 337.8) rotate(-90)">GSM5571168</text><text transform="translate(1672.72 337.8) rotate(-90)">GSM5571170</text><text transform="translate(1679.22 337.8) rotate(-90)">GSM5571172</text><text transform="translate(1685.73 337.8) rotate(-90)">GSM5571174</text><text transform="translate(1692.24 337.8) rotate(-90)">GSM5571176</text><text transform="translate(1698.75 337.8) rotate(-90)">GSM5571178</text><text transform="translate(1705.26 337.8) rotate(-90)">GSM5571180</text><text transform="translate(1711.76 337.8) rotate(-90)">GSM5571182</text><text transform="translate(1718.27 337.8) rotate(-90)">GSM5571184</text><text transform="translate(1724.78 337.8) rotate(-90)">GSM5571186</text><text transform="translate(1731.29 337.8) rotate(-90)">GSM5571188</text><text transform="translate(1737.8 337.8) rotate(-90)">GSM5571189</text><text transform="translate(1744.3 337.8) rotate(-90)">GSM5571191</text><text transform="translate(1750.81 337.8) rotate(-90)">GSM5571193</text><text transform="translate(1757.32 337.8) rotate(-90)">GSM5571195</text><text transform="translate(1763.83 337.8) rotate(-90)">GSM5571197</text><text transform="translate(1770.34 337.8) rotate(-90)">GSM5571199</text><text transform="translate(1776.84 337.8) rotate(-90)">GSM5571201</text><text transform="translate(1783.35 337.8) rotate(-90)">GSM5571203</text><text transform="translate(1789.86 337.8) rotate(-90)">GSM5571205</text><text transform="translate(1796.37 337.8) rotate(-90)">GSM5571207</text><text transform="translate(1802.88 337.8) rotate(-90)">GSM5571209</text></g>
</g>
<g id="volcano">
<path d="M179.5 399.0V1192.3M308.5 399.0V1192.3M437.5 399.0V1192.3M566.5 399.0V1192.3M695.5 399.0V1192.3M824.5 399.0V1192.3M154.7 1052.7H905.9M154.7 843.5H905.9M154.7 634.3H905.9M154.7 425.1H905.9" stroke="#ededed" stroke-width="0.75" fill="none"/>
<path d="M244 399.0V1192.3M373 399.0V1192.3M502 399.0V1192.3M631 399.0V1192.3M760 399.0V1192.3M889 399.0V1192.3M154.7 1157.3H905.9M154.7 948.1H905.9M154.7 738.9H905.9M154.7 529.7H905.9" stroke="#e8e8e8" stroke-width="1.5" fill="none"/>
<clipPath id="cpB"><rect x="154.7" y="399.0" width="751.2" height="793.3"/></clipPath>
<g clip-path="url(#cpB)">
<path d="M570.9 719.4h0M578.3 717.3h0M583.8 718.5h0M591.3 717.1h0M595.1 717.9h0M602.7 716.3h0M607.6 719.2h0M611.8 715.4h0M616.2 717.9h0M624.1 719.2h0M560.4 721.8h0M569.1 720h0M572.8 721.1h0M579.8 721.6h0M583.1 721.9h0M589.8 723.8h0M594.4 724.2h0M598.8 721.2h0M604.3 720.4h0M613.5 723.6h0M616 720.8h0M622.8 723.7h0M555 727.8h0M562.9 727.5h0M565.5 730.1h0M573.9 727.3h0M577.7 728.2h0M584.5 726.6h0M587 726.5h0M596.7 726.1h0M600.6 726.4h0M604.9 726.3h0M611.5 726.3h0M615.1 726h0M621.5 727.9h0M626.5 725.5h0M551.5 733h0M555.9 731.8h0M562.7 731.1h0M567 734.9h0M573.7 731.5h0M577 735.4h0M584.7 735.6h0M591.5 733.3h0M597.3 734.8h0M599.9 732.9h0M604.2 733.1h0M614.4 731.5h0M618 731.6h0M621 734.4h0M627.5 731.3h0M553 741.4h0M554.9 741.5h0M560 737.1h0M568.4 738.1h0M572.9 739.9h0M576 740.5h0M582.8 738.8h0M588.8 740.5h0M596.5 738.1h0M598.7 738.2h0M605.9 737h0M610.2 740.6h0M618.6 741.7h0M625.7 741.2h0M628.1 737.4h0M552 744.6h0M558.4 743h0M560.6 744.9h0M566.7 746.6h0M574.5 747h0M579 742.4h0M584.4 745.1h0M589.5 743.7h0M596.3 746.9h0M598.7 745.7h0M605.7 744.9h0M614.1 747.2h0M618.3 743.2h0M625.4 743.1h0M628.2 746.5h0M550.2 750.6h0M555.7 750.6h0M563.3 748.8h0M567.7 752.7h0M574.6 748.7h0M580.8 752.2h0M582.3 749.2h0M588.1 748.1h0M597.7 749.9h0M602.7 748.4h0M603.9 752.3h0M613.5 753h0M618.6 750.5h0M624.6 748.3h0M629 750.1h0M552.4 755.4h0M555.9 758h0M560.5 754.4h0M568.9 756.5h0M570.6 753.5h0M577.6 753.4h0M585.7 754.4h0M588.4 755.4h0M595.3 755.6h0M601.5 756.8h0M606.1 753.9h0M614.5 757h0M615.4 755.7h0M624.5 758.6h0M626.5 753.4h0M548.7 762.9h0M555.5 761.8h0M562.1 762.3h0M566.9 759.3h0M574.3 763.5h0M578.3 762h0M582.8 763.7h0M590.6 760.2h0M596.9 764.1h0M600 764.2h0M606.3 759.9h0M613.1 760.8h0M618.8 762h0M621.2 761.7h0M550.2 769.7h0M555.1 768.6h0M559.9 768.1h0M566 767.2h0M572.1 769.1h0M579.7 767.2h0M585 766.8h0M591.2 765.9h0M595.4 767.6h0M600.2 764.8h0M604.7 767.9h0M610.5 768.5h0M617.6 769.6h0M625 768.4h0M628.1 764.8h0M550.8 773.4h0M555.7 770.9h0M564.2 771.1h0M566.5 775.4h0M570.8 772.8h0M578.3 771.5h0M586.2 772.4h0M587.1 772.7h0M592.6 773.9h0M602.7 774.9h0M604 773.7h0M611 772.7h0M616.6 771.8h0M621.3 773.5h0M626.7 775.2h0M420.3 777.7h0M449.6 777.1h0M458.4 779.6h0M552.7 777.3h0M557.8 780.5h0M561.3 776.6h0M565.7 780.1h0M572.4 777.4h0M578.1 780.6h0M582.7 775.9h0M591.9 777.4h0M594.6 780.9h0M599.7 776.2h0M608.4 777.1h0M610.6 780.7h0M616.2 780.5h0M622.3 777.4h0M627.3 778.6h0M431.7 783.9h0M442 782.3h0M449.5 783.4h0M460.1 781.5h0M560.5 784.8h0M564.7 782.5h0M573.9 781.6h0M578.5 786.3h0M582.5 785.1h0M590.9 784.6h0M596.6 785h0M598.3 782.4h0M606.6 786.4h0M610.5 784.5h0M615.7 785.8h0M622.9 784.1h0M405.6 789.4h0M410.4 789.7h0M436.7 788h0M450.4 791.2h0M555.6 790.7h0M559.3 791.8h0M569 791.8h0M573.8 790.2h0M580.9 788.4h0M583 787.6h0M587.9 791.2h0M593.1 790.9h0M600.3 791.6h0M607.8 790.6h0M609.6 788.4h0M616.9 789.2h0M624.1 791.6h0M387.9 797.6h0M395.6 793.5h0M425.6 796.4h0M433.6 793.7h0M438.5 794.5h0M443.7 796h0M452.1 793.2h0M457.5 796h0M462.6 792.8h0M558.5 793h0M560.3 796.6h0M565.2 795.4h0M574.7 795.7h0M577.6 796.5h0M585.7 795.6h0M590.3 794.3h0M594.7 797.8h0M603.3 792.6h0M604.8 793.8h0M610.4 793.5h0M615.9 797.7h0M430.9 802.4h0M440 800.3h0M450.9 798.7h0M462.5 802.5h0M554.5 801.7h0M564 800.2h0M569.6 801.4h0M575.1 800.9h0M579.7 801.7h0M582.4 800.9h0M590 800.6h0M596 802.9h0M602.3 802.4h0M604.5 801.9h0M620.1 800.1h0M623.7 800.3h0M629.1 803.3h0M381 808.2h0M426.5 807.3h0M432 807.2h0M440.7 807.9h0M444.7 807.1h0M448.6 807.1h0M456 806.9h0M460.8 807.7h0M464.9 807.5h0M549.6 806.3h0M557.9 805.1h0M559.9 808.1h0M566.2 808.4h0M574.5 805.7h0M577.5 804.3h0M585.9 806.1h0M588.8 804.7h0M593.8 808.3h0M598.9 806.7h0M607 806.5h0M611.5 804.8h0M376.3 809.5h0M408.4 814.5h0M429.3 811h0M434.9 810.3h0M438.1 810.1h0M442.2 812.1h0M448.9 812.2h0M453.7 811h0M459.9 814.1h0M464.2 811.6h0M549.2 812.8h0M554.7 814.1h0M560.8 810.6h0M565 810.1h0M571.3 814h0M578 811.7h0M586.4 814.4h0M591 810.6h0M594.3 812h0M599.5 811.2h0M604.9 810.7h0M612.5 811.7h0M399.1 817.2h0M411.1 815.3h0M426.1 817.7h0M432.3 816.8h0M437.5 816.1h0M444 818.1h0M447.5 818.1h0M454.2 820.1h0M463.1 815.7h0M467.4 816.8h0M470 819.6h0M550.9 817.4h0M557 815.5h0M563.6 817.2h0M566.9 818.8h0M573.4 817.3h0M577.3 817.4h0M581.6 816.3h0M591.3 815.6h0M593 819.4h0M600.1 817.8h0M613.4 815h0M624.5 817h0M627.9 819.3h0M392.3 825.8h0M406.6 825.8h0M425.9 821.1h0M432.1 823.3h0M438.9 825.5h0M441.8 821.9h0M447.4 825.4h0M455.9 824h0M462.4 820.6h0M468.5 822.3h0M472.7 822.7h0M545 821.2h0M550.9 825.8h0M554.5 823.8h0M563.4 824h0M566.4 821.8h0M574 825.4h0M580.4 822.7h0M585.3 824.8h0M589 824.5h0M594.6 821.6h0M598.2 824.4h0M611.1 821.7h0M616 823.6h0M622.4 825h0M628.9 824.1h0M416.1 829.9h0M423.7 827.6h0M429.7 826.7h0M430.6 827.1h0M439.6 827.9h0M445.1 830.5h0M451.2 826.4h0M456.2 830.4h0M461.9 830.7h0M468.1 829.4h0M473.9 829h0M546.5 828.5h0M549.5 830.6h0M554.8 828.9h0M562.3 831.4h0M568.3 826.5h0M572.6 831.2h0M580.2 828.1h0M582.1 827.6h0M590.9 827.1h0M597.2 827.6h0M601.8 829.8h0M605.1 828.9h0M610.8 829h0M623.2 829.3h0M385.9 836.4h0M402.4 836.5h0M409.6 834.1h0M417.5 833.4h0M424.6 833.9h0M431.1 835.1h0M436.5 833.2h0M444.6 832.3h0M449.4 834.9h0M454.6 835.7h0M462.6 833.3h0M467.8 835.7h0M472.5 834.9h0M539.1 834.4h0M542.4 836.3h0M549 833.2h0M555 833h0M560.5 833.3h0M567.4 833.7h0M574.1 836.7h0M580.6 833.8h0M585 835.6h0M590.8 833.9h0M593.6 835.7h0M601.6 833.6h0M607.3 832.1h0M626.3 833.3h0M376.1 838.8h0M388.9 840.7h0M397.5 839.4h0M410.1 841.4h0M426.1 838.2h0M434.9 841.3h0M440.8 841.6h0M443.3 841.4h0M448.9 839.1h0M454.8 841h0M459.8 840.3h0M466.8 841.5h0M471.8 839.6h0M540.5 838.4h0M546.9 840.6h0M552.4 840.2h0M555.9 838.7h0M559.3 842.4h0M565.7 837.8h0M575 840.2h0M578.8 842.2h0M585.2 838.7h0M588.5 840.8h0M596.1 838.6h0M599.5 840h0M604.1 841.6h0M610.2 840.4h0M615.5 839.6h0M412 843h0M418.5 847.5h0M428.7 846.4h0M432.3 843.3h0M436.7 845.1h0M446.2 845.5h0M451.5 844h0M453.9 844.2h0M459.7 847.1h0M465.7 844.7h0M472.9 845.3h0M536.9 844.9h0M545.9 845h0M547.9 844.3h0M554.4 847h0M560.2 848.1h0M566.1 843.9h0M570.3 845.6h0M578.5 847.1h0M584.9 845.8h0M587.3 847.8h0M593.9 844.2h0M599.1 846.1h0M609.5 846.1h0M615.6 844.3h0M624.3 843.7h0M389.9 853h0M415.4 852.6h0M426.5 850.9h0M430.3 852.7h0M437.2 852.7h0M444.9 850h0M448.8 850.9h0M453.6 848.7h0M460.4 849.8h0M465.1 852.7h0M473.3 850.7h0M475.1 852.6h0M537 851.6h0M545.6 848.8h0M548 850h0M557.2 853.7h0M561.3 853.1h0M568.3 850h0M572.5 853h0M578.3 851.2h0M585.2 849.4h0M589.4 851.3h0M595.6 852.2h0M599.6 851.1h0M606.2 849.1h0M614.4 851.5h0M616.9 851h0M622 853.5h0M396 855.7h0M417.6 855.9h0M428.9 858.9h0M433.1 855.5h0M438.5 855.6h0M443.3 854.2h0M447.1 859h0M456.6 855.5h0M461.4 854.4h0M468.1 857.4h0M473.1 856.4h0M477.3 858.4h0M537.2 859.3h0M542.4 854.6h0M550.3 857.4h0M556.4 858.4h0M559.6 858h0M566.3 859.2h0M573.5 857.8h0M576.5 859h0M582.9 855.3h0M589.2 858.3h0M594.3 856.6h0M601.3 855.5h0M604.4 856.3h0M612.9 855.3h0M620.8 859.3h0M627.6 858.1h0M388 864.2h0M395.6 861.8h0M427.4 862.6h0M434.3 862.9h0M436.7 862.6h0M441.9 864.2h0M447.9 861.7h0M455.7 861.6h0M462.9 863.9h0M465.5 862h0M473.2 862.5h0M478.3 861.5h0M536.6 860.2h0M543.2 864.1h0M549.6 862h0M556.2 864.4h0M559.2 860.8h0M566.7 863.1h0M570.9 862.1h0M578.8 860.1h0M583.1 860.1h0M591.7 859.9h0M593.4 863h0M599.4 862.8h0M605.6 865h0M611.2 860.7h0M619 863.5h0M623.3 864.7h0M629 864.8h0M396.7 869h0M414.6 868.8h0M420 869.4h0M425.8 866.1h0M434.5 866.2h0M436.4 865.9h0M445.6 867.4h0M447 866.9h0M455.3 867.9h0M459 869.8h0M467.4 866.8h0M471.1 866.7h0M475.1 868.6h0M534.4 866.6h0M540.5 868.5h0M544 869.5h0M549.5 866.1h0M553.6 868.6h0M560.4 866.2h0M564.8 869.4h0M571.7 869.9h0M580.4 869.7h0M582.6 870.3h0M590.2 869.8h0M597.3 867.1h0M600.2 870.1h0M612.3 867h0M615.1 867.5h0M623.8 869.7h0M382.7 875.1h0M414.4 875.8h0M424.7 873.7h0M430.6 873.4h0M439.9 871.1h0M444.5 872.4h0M450.9 875.3h0M457.2 875.1h0M458.7 874.4h0M466.7 872.6h0M470.4 873.5h0M477.2 873.1h0M539.1 876.1h0M543.9 873h0M551.2 875.4h0M555.6 873.5h0M560.8 872.2h0M569.3 875.7h0M572.5 871.7h0M580.3 873.4h0M585.3 873.2h0M587.4 874.9h0M593.2 875.9h0M599.1 872.8h0M603.8 872.1h0M615.3 871.1h0M621.8 874.9h0M628.8 875.8h0M381.4 880.8h0M390.4 878.3h0M418.5 877.6h0M422.4 881.1h0M428.8 876.9h0M431.9 880.9h0M439.2 881h0M441.6 881h0M449.1 880.7h0M455.6 878.4h0M460.9 876.7h0M468.7 881.1h0M472.8 880h0M478.8 878.9h0M534.6 877.8h0M536.7 876.7h0M542.3 877.7h0M552.9 879.6h0M554.5 877.1h0M559.1 876.7h0M565.3 878.3h0M571 877.8h0M579.1 877.3h0M582.1 880.6h0M588.5 879.9h0M594.1 880.2h0M598.3 878h0M608.3 878.1h0M610.5 877.2h0M617.4 876.8h0M622.8 878.5h0M382.8 886.4h0M389.4 884.1h0M403.9 885.4h0M410.7 885.7h0M413.5 885.8h0M421.8 886.2h0M426.4 885.5h0M432.9 886.3h0M438.1 886.5h0M445.9 885h0M449.6 885.9h0M455.3 887.2h0M463.1 884.8h0M467.4 882.8h0M474.1 885.4h0M475.1 882.3h0M532.8 884.2h0M538.4 886h0M546.7 884.2h0M552 883.7h0M554.8 886.3h0M559.5 882.6h0M569.8 884.6h0M572.3 886.2h0M580.4 884.1h0M585.6 882.9h0M591.6 884.4h0M594.6 882.3h0M598.6 884.2h0M604.4 885.6h0M610.9 886.1h0M618.2 886.2h0M624.9 883h0M406.5 892.8h0M411.3 889.9h0M418.3 889h0M420.6 890.7h0M426.5 890.8h0M430.8 889.1h0M435.9 890h0M442.6 892h0M448.3 888.8h0M456.3 888.8h0M462.6 890.6h0M464.5 891.4h0M474.6 889.4h0M477.9 890.6h0M531 890.6h0M540.8 890.3h0M544.1 892.3h0M551.4 892.6h0M556.2 889.4h0M562.6 890.3h0M564.6 888.5h0M575.2 891.2h0M576 891.7h0M585.3 888h0M592.1 888.7h0M595.2 891.5h0M600.7 889.6h0M606.3 891.1h0M614 892.9h0M617.5 889.6h0M625.4 889.4h0M628 888.1h0M376.2 898h0M386.3 895.9h0M400.8 894.4h0M411.8 897.1h0M415.5 897.1h0M420.1 895.1h0M426.1 894.6h0M430.4 894.5h0M438.6 896.6h0M443.1 896.6h0M448.7 897.6h0M452.7 897.4h0M462.9 896.4h0M467.1 898.5h0M470.2 893.9h0M477.6 897.2h0M532.3 898.3h0M538.4 894.2h0M543.3 897.1h0M552.5 896.5h0M558.4 894.6h0M563.6 897.4h0M565.7 893.9h0M572.4 895.6h0M578.3 897.2h0M582.6 894.7h0M588.7 894.2h0M594.9 896.5h0M599.6 894.1h0M607.6 893.9h0M619.4 893.5h0M398.1 900.5h0M408 900.7h0M417.7 900.1h0M422.9 899.4h0M427.1 901.2h0M433.6 899h0M436.4 901.1h0M446.2 901.6h0M451.5 901.8h0M457.7 899.4h0M462.7 900.3h0M464.9 901.7h0M471.6 904.2h0M533.8 904.2h0M536.7 902.6h0M546.3 900.4h0M551.8 903.5h0M553.9 902.4h0M561.5 903h0M565.4 902.4h0M570.3 899.2h0M578 900.8h0M583.6 900.1h0M592.2 901.2h0M595.2 900.9h0M602.8 899.9h0M608.6 900h0M619.3 900.2h0M624 903.7h0M379.1 907.3h0M390.2 906.8h0M406 907.1h0M410.5 905.3h0M415 907.9h0M419.8 909.5h0M424.9 907.5h0M434.7 908.4h0M436.6 905.2h0M445.1 906.7h0M447.5 905.3h0M456.1 904.7h0M459.7 909.5h0M465.1 909h0M469.5 905.6h0M475.3 908.4h0M535.9 909.7h0M541.4 907.1h0M543 909.2h0M548.9 907.7h0M555.4 909h0M560.9 906.6h0M569 908.4h0M575.4 905.2h0M576.5 908.1h0M584 909.2h0M589.4 904.8h0M595.1 905.9h0M602.4 908.8h0M608.3 905.2h0M627.7 905h0M387.5 914.4h0M410.4 912.4h0M414.4 911.8h0M422.5 915.4h0M427.7 911.5h0M430.4 911.9h0M437 912.4h0M443.7 911.7h0M447.9 915h0M457.5 914h0M463 913.2h0M467.7 912.5h0M472.8 914.6h0M478.7 914.3h0M530.2 912.2h0M534.9 911.9h0M536.7 910.4h0M547 910.5h0M550.1 911.6h0M556.7 912.2h0M563.2 911.3h0M567.4 915.3h0M573 915.2h0M576.1 914.8h0M583.4 915.4h0M590.6 911.5h0M596.6 911.1h0M600.9 914.1h0M604.7 910.5h0M610.4 914.2h0M616 914.7h0M622 914.9h0M374.6 918.4h0M381 917.2h0M392.1 919.6h0M402.2 919.5h0M409.4 918.3h0M417.4 919.4h0M422.5 920.6h0M425.9 920.9h0M433.5 917.5h0M439.3 917.4h0M443.5 920.1h0M451.2 918.9h0M456.8 920.3h0M460.2 916.2h0M468.7 916.1h0M471.7 916.3h0M477.8 919.9h0M480.8 918.4h0M532.5 916.1h0M538.7 919.1h0M545.4 921h0M551.5 920.6h0M557.2 919.4h0M563.7 920.3h0M568.5 917.5h0M571.7 920.3h0M575.9 917.8h0M585.8 917.3h0M589.6 917.6h0M595.9 920.1h0M598.5 917.9h0M608.3 917.9h0M619.5 918.3h0M624.2 917.2h0M626.6 920.6h0M384.4 924.4h0M387.1 921.5h0M399.1 926.1h0M409.8 922.4h0M417 921.5h0M421.7 921.9h0M425.3 925.3h0M434.7 924.1h0M440.8 925.1h0M444.2 924.6h0M447 921.9h0M456.5 923.3h0M463.2 922.7h0M465.3 922.5h0M474.2 924.2h0M476.3 921.7h0M530.4 923.5h0M534.8 923.1h0M538.6 923.4h0M546.8 923.1h0M548 924.2h0M556.4 924.6h0M561.4 922.9h0M568.3 922.7h0M571.6 922.3h0M576.1 922.5h0M584.9 923.5h0M589.4 922.6h0M593.9 925h0M603.1 922.1h0M607.4 926.4h0M614.1 922.3h0M410.4 930.6h0M414.8 928.2h0M419.4 929.9h0M426.6 931.1h0M431 930.2h0M436.6 928h0M442 930.4h0M450.8 929.3h0M456.9 931.2h0M462.7 930.3h0M466.1 929.2h0M473.5 928.5h0M476.3 932.2h0M528.4 928.4h0M532.7 929.6h0M541.3 928.4h0M545.2 930.4h0M551.7 931.4h0M554.6 931.5h0M559.4 929.4h0M568.4 931.7h0M572 930.5h0M579.4 927.2h0M585.3 931.4h0M587.7 928.7h0M594.9 931.9h0M603.2 928h0M610.5 931.9h0M616 930.2h0M627.6 927.6h0M399.2 934.4h0M412.3 933.5h0M416.7 936.9h0M421.4 932.9h0M427.5 933.1h0M431.1 933.7h0M436.7 935.6h0M445.3 934.9h0M452 933h0M454.3 934.3h0M461 936.1h0M465.2 934.8h0M471.4 934.4h0M475.3 936.5h0M480.7 934.8h0M526.4 934.1h0M533.4 935h0M536.9 933.2h0M542.3 935h0M551.2 937.2h0M555.5 935.8h0M563.1 935.4h0M567.4 933.4h0M573.7 936.4h0M577.4 936h0M582.5 933.2h0M588.7 935.4h0M594.6 933.9h0M603.2 936.2h0M605.3 933h0M614.2 936.3h0M623.1 934.7h0M627 935.9h0M381.6 940.3h0M394 940.6h0M408.7 940.1h0M418.1 940.9h0M420.4 940.7h0M427 938.5h0M434.4 940.8h0M441 941.5h0M442.7 943.3h0M447.6 939.1h0M453.4 939h0M458.9 942.9h0M464.5 940.7h0M470.1 939.8h0M475.5 940.1h0M482.1 942h0M524 941.2h0M526.6 939.2h0M532 942.4h0M541.1 939h0M545.3 938.6h0M548.1 941.7h0M556.3 940.4h0M561.3 940.6h0M566.6 939.7h0M575.1 938.6h0M578.9 939.1h0M583.3 938.4h0M587.7 941.4h0M592.8 940.4h0M601.4 941.2h0M613.6 942.7h0M619.1 940.4h0M386 947.9h0M395.5 944.9h0M409.5 948.7h0M415 946.2h0M423.7 947.5h0M426.5 945.5h0M433 946.6h0M439.6 947.2h0M442.3 948.3h0M451.2 946.4h0M453.4 946.2h0M462.7 945.2h0M465.5 947.4h0M473.3 948.1h0M477.1 947.6h0M481.8 944.1h0M528.3 944.8h0M536.2 944.6h0M537.2 945.2h0M542.2 948.4h0M548.6 943.9h0M556.6 945.6h0M559.6 946.2h0M565.6 944.2h0M572.8 945h0M577.6 946.4h0M586.6 947h0M590 945.4h0M595 945.2h0M602.6 948.6h0M608.1 945.9h0M610.9 947.9h0M615.9 944.2h0M623.6 947.9h0M390.4 950.2h0M408.8 954.4h0M414.9 952.7h0M422.7 953.2h0M427.6 951.8h0M432.4 953.2h0M436.1 952.3h0M445.8 951.8h0M449.5 953h0M456.7 951.1h0M461.3 953.6h0M467 950.5h0M474.6 951.2h0M478.4 949.7h0M484.1 952.3h0M529.6 954.4h0M532.4 952.4h0M541.6 953.4h0M543.5 951.8h0M552.6 953.9h0M555.9 952.4h0M559.4 951.5h0M568.8 949.6h0M571.2 952.3h0M575.9 950.3h0M585.3 950.4h0M589.6 954.3h0M595.3 953h0M598.5 952.1h0M606.6 951.9h0M618.7 950.7h0M623 953.7h0M403.4 957.2h0M408.9 956.3h0M413.7 956.4h0M421 958.1h0M426.1 957.7h0M434.3 956.5h0M439.5 958.9h0M446.2 958.8h0M450.3 958.3h0M454.6 959.6h0M459.2 956.9h0M464.5 957.7h0M474.1 958.3h0M475.1 959.6h0M480.9 956h0M522.5 958.4h0M526.6 958.7h0M532.5 956.8h0M537.7 959.9h0M542.4 956.6h0M551 957.6h0M554.6 957.6h0M561.5 957.8h0M566.9 955.9h0M573.8 956.7h0M580 956.7h0M585.9 956.3h0M590.4 960.1h0M594.2 959.2h0M601.1 955h0M613.6 958.6h0M615.7 956.9h0M622.4 955.7h0M628.4 957.6h0M393.2 963.3h0M401.7 965.1h0M403.7 963.4h0M409.6 965.3h0M415 963.3h0M424.1 961.7h0M426.8 965.4h0M435.1 962.9h0M439.4 963.6h0M441.9 965.4h0M451.6 965.4h0M453.7 963.4h0M462.5 965.1h0M468.3 960.9h0M472.9 962.4h0M475.7 963.2h0M481 962.2h0M524.4 962.5h0M527.7 964.7h0M533.3 963.2h0M541.4 961h0M544.5 962.2h0M550.4 963.5h0M557 962.1h0M563.8 965.6h0M568.6 963.8h0M574.3 960.9h0M579 962.9h0M583.1 964.1h0M588.9 965.3h0M593.2 962h0M600.7 961.3h0M610.1 964.3h0M625.3 964.7h0M629 961.8h0M379.3 969.1h0M411.6 969.5h0M416 968.2h0M421.2 966.9h0M426.6 969.8h0M430.3 971.1h0M435.9 968.5h0M442.9 969h0M448.4 969.3h0M452.8 970.9h0M463 970.7h0M467.4 966.9h0M472.6 969.2h0M479.1 968.6h0M484.7 967.8h0M523.7 968.4h0M527.3 966.3h0M534.4 970.7h0M538.9 970.8h0M543.2 967.9h0M550 967.2h0M558.5 968.9h0M559 969.5h0M565.4 968h0M574.4 968h0M577.2 970.7h0M582.8 971.1h0M587.2 966.6h0M597.8 969.4h0M601.1 970.3h0M613.9 968.8h0M623 970.9h0M384 976.7h0M402.5 975.7h0M411.3 975.8h0M418.5 976.6h0M420.5 975h0M427.1 974.5h0M432.4 971.9h0M437.5 971.9h0M446 975.9h0M447.3 975.1h0M457.2 975.1h0M461.6 974.3h0M465.8 973.5h0M469.9 973.4h0M476.1 974h0M482.5 973.4h0M523.1 972.5h0M525.7 975.8h0M532.3 976.7h0M540.8 974.6h0M542.6 973.1h0M547.9 974.8h0M556.3 975.6h0M560.9 976.5h0M569.1 975.4h0M572.8 976.6h0M578.4 971.8h0M586 972.3h0M588.9 973.7h0M597.1 974.9h0M601 976.9h0M608.4 975.1h0M610.6 976.4h0M619.7 973.9h0M621 973.3h0M393.1 979.6h0M403.9 979.7h0M408.6 981.1h0M418.4 981.2h0M422.6 981.7h0M424.7 980.3h0M432.2 978.3h0M437.8 977.6h0M445 977.9h0M449 977.9h0M457.8 978.6h0M461 977.5h0M465.3 979.5h0M469.5 982h0M478.4 977.6h0M482.9 978h0M523.8 979.8h0M525.6 982.1h0M531.7 981.3h0M537.5 979.8h0M544.9 978.8h0M550.8 982.5h0M555.1 980.6h0M563.9 978.2h0M569.2 982.2h0M573.5 977.6h0M577.2 978.6h0M584.1 978.5h0M591.9 982.4h0M593 981.7h0M600.4 980.1h0M606.1 979.3h0M616.9 978.4h0M623.5 981.2h0M398.9 985.7h0M405.4 986.6h0M411.1 985.9h0M418.1 985.3h0M421.8 983.4h0M427.9 986h0M435 983.4h0M437.1 986.9h0M445.5 986.5h0M448.2 987.8h0M455.5 987.4h0M462.5 986.5h0M466.4 986.4h0M470 986.9h0M479.8 986.2h0M484 986.9h0M523.7 984.7h0M527.1 983.5h0M533.8 985h0M539.5 985.2h0M545.6 986.9h0M550 985.6h0M556.9 984h0M562.3 983.6h0M566.2 985.3h0M572.8 985h0M580.3 984.4h0M585.6 986.8h0M588.1 984.5h0M596.3 986h0M601.4 987.5h0M604.6 983.9h0M615.7 987.2h0M622.1 983.5h0M403.1 988.9h0M412.7 990.8h0M416.6 991.7h0M424.1 993.7h0M425.3 993.5h0M433.4 990.5h0M439.9 988.8h0M445.6 993.2h0M447.4 990h0M457.7 993.5h0M461.4 993.6h0M464.2 990.7h0M473.8 988.9h0M476.7 989.4h0M483.7 993.7h0M488.8 992.9h0M521.4 990.9h0M529.5 991.3h0M535.1 991.1h0M540.9 990.4h0M545.3 990.5h0M549.9 989.5h0M557.9 990.4h0M563.9 992h0M565.2 993.2h0M574.6 991.7h0M577.2 993h0M582.9 993.3h0M591.6 989h0M594.4 993.7h0M602.4 989.8h0M610.2 992.3h0M618.4 990.8h0M629.2 993.7h0M395.6 998.5h0M407.8 997.7h0M417.1 994.6h0M419.6 994.5h0M427.7 998.1h0M432.6 994.5h0M440.7 998.3h0M442.3 998.7h0M451.8 995.8h0M455.5 994.2h0M460 995.2h0M468.7 998h0M470.7 998.1h0M475.6 994.5h0M482.7 998.5h0M520.8 995.2h0M525.6 996.9h0M534.3 995.7h0M541.5 995.8h0M544.8 997.5h0M551.1 999.1h0M553.6 994.6h0M559.4 994.7h0M566.5 997h0M574.2 998.7h0M578.9 997h0M583.7 995.3h0M588.1 996.1h0M593.2 997.5h0M599.5 999.2h0M610.6 996.5h0M394.7 1002h0M397.6 1000.7h0M404.4 1004.8h0M410.2 1001h0M415.9 1003.7h0M423.4 1000.4h0M427 1000.1h0M431.8 1002.2h0M436.8 1000.5h0M445.5 1000.9h0M450.9 1000.5h0M453.5 1000.8h0M462.4 1000.3h0M464.9 1003h0M471.7 1004.4h0M476.5 1000h0M484.3 1001.9h0M488.9 1000.8h0M523 1001.1h0M528.4 1003.3h0M532.2 1004.9h0M538.6 1002.7h0M547.2 1001.4h0M547.8 1001.1h0M553.9 1000.3h0M563.7 1003.1h0M565.5 1001.8h0M572.1 1000.4h0M577.2 999.9h0M586.2 1002.2h0M589.7 1004.1h0M595.5 1002.3h0M602 1002.5h0M605.5 1003.8h0M609.9 1002.8h0M615.8 1002.5h0M621.5 1002.5h0M403.4 1009.8h0M408.3 1010.5h0M414.3 1006.7h0M421.3 1007h0M425 1009.5h0M430.5 1006.9h0M435.9 1005.7h0M443.4 1008.3h0M447 1007.7h0M454.4 1010.5h0M463.3 1008.5h0M467.5 1005.6h0M472.2 1010.1h0M479.5 1009.1h0M484.6 1010.3h0M489.3 1006.3h0M524.9 1009h0M529.3 1010.6h0M533.2 1008.7h0M539.5 1007.6h0M543.9 1007.2h0M548.2 1010.3h0M554.7 1009.8h0M560.8 1007.1h0M564.8 1008h0M571.3 1007.3h0M579.8 1010.3h0M581.7 1009.1h0M591.6 1009.8h0M596.8 1009.4h0M600.8 1005.7h0M604.8 1009.6h0M611.4 1007.9h0M618.6 1007.5h0M412 1011.3h0M418.1 1014.1h0M420.2 1014.6h0M427.3 1012.2h0M435.4 1011.2h0M437.5 1015.4h0M446 1011.9h0M452 1011.5h0M454.4 1015.1h0M458.9 1012.8h0M465.9 1013.6h0M471.4 1012.3h0M477.4 1013.3h0M484 1011.6h0M486.4 1015h0M524.8 1014.6h0M526.6 1014.9h0M533.7 1012.4h0M537.3 1011.8h0M544.9 1013.2h0M552.6 1012.8h0M556.4 1015.4h0M563 1014.4h0M569.2 1014.4h0M574.5 1014.5h0M576.9 1014.2h0M585.3 1014.6h0M589.2 1011.1h0M595.6 1015.2h0M602.8 1014.1h0M606.3 1012.1h0M610.4 1015.2h0M413.7 1019.9h0M422.4 1017.7h0M429.3 1020.1h0M434.6 1018.8h0M440.8 1017.9h0M444.2 1019.4h0M448.6 1019.1h0M457.5 1016.7h0M462 1017.4h0M466.6 1020.2h0M472.1 1020.9h0M479.2 1016.7h0M481.8 1020.4h0M489.9 1019.3h0M521 1020.6h0M526.6 1020.6h0M533.3 1018.3h0M540.9 1018.6h0M546.3 1019.2h0M548.1 1018.2h0M554.6 1017.3h0M559.1 1019.6h0M567.2 1020.2h0M572.1 1016.8h0M580.3 1020.5h0M585.8 1018.8h0M588.3 1021.4h0M593 1019.4h0M598.8 1018.2h0M608.7 1021.2h0M417.9 1023.3h0M420.9 1024.1h0M424.6 1022.7h0M432.6 1027.3h0M438.7 1023.5h0M441.6 1023.7h0M451.9 1023.8h0M457 1025.4h0M458.7 1026.9h0M466.1 1022.4h0M474 1025.4h0M475.5 1024.3h0M482.8 1023.3h0M489.4 1026.6h0M519.3 1025h0M520.1 1026.9h0M528.9 1027.4h0M536.2 1025.7h0M537.1 1026.8h0M542.6 1024.4h0M550 1023.1h0M555.1 1026h0M559.8 1025.7h0M565.6 1022.9h0M575 1023.5h0M575.8 1025.4h0M584.1 1025.1h0M592 1023.7h0M595.5 1026.4h0M599.3 1025.4h0M605.4 1027.1h0M420 1029.4h0M425.7 1029.6h0M433.9 1029h0M438.8 1032.2h0M444 1028.3h0M448.3 1028.4h0M454.1 1031.6h0M461.8 1030.2h0M464 1030.8h0M474.3 1030.1h0M477.9 1030.7h0M483 1032.7h0M486.6 1030h0M521.6 1030.6h0M527.2 1031.2h0M531.1 1028h0M538.9 1029.4h0M544.4 1031.1h0M550.8 1028h0M553.8 1027.9h0M562.9 1032.7h0M569 1030.1h0M574.2 1030.8h0M576.2 1028.2h0M585.3 1030.5h0M590.4 1029.8h0M594 1028.9h0M600.8 1030.2h0M606.6 1030.3h0M422.2 1035h0M426.1 1034.4h0M432.4 1037.5h0M438.6 1035.9h0M442.5 1035h0M451.4 1033.8h0M456 1037.5h0M461 1035.1h0M465 1037h0M472.8 1034.3h0M476.7 1037.6h0M480.9 1038h0M489.4 1034.5h0M519.1 1033.7h0M520.8 1035.7h0M528.4 1035.6h0M534.5 1038.6h0M537.3 1034.2h0M544.7 1036.8h0M551.7 1036h0M558 1038.5h0M563.6 1035.3h0M569.7 1036.4h0M574.3 1037.6h0M575.9 1038.6h0M585.6 1036.8h0M590.6 1035.3h0M595.5 1035.3h0M599.7 1035.6h0M605.9 1037.6h0M424.1 1041.7h0M429.7 1039.5h0M432.1 1039.7h0M436.7 1043.5h0M443.2 1041.3h0M449.5 1039.1h0M457.7 1042.2h0M463.1 1039.7h0M467 1043.1h0M473.2 1041.1h0M479.2 1043.7h0M484.2 1042.9h0M487.2 1042.1h0M518.2 1041h0M522.5 1041.4h0M525.7 1041.5h0M533.3 1042.8h0M537.9 1039.1h0M546.5 1042.7h0M547.9 1040h0M557.6 1040.7h0M560.6 1042.1h0M569.2 1042.5h0M570.3 1041.1h0M580.9 1042.3h0M584.5 1042.5h0M590.8 1039.2h0M597.1 1040h0M600.6 1040.2h0M603.9 1039.8h0M429 1048.5h0M434.3 1046h0M440.5 1048.5h0M443.3 1048.7h0M449.2 1045.7h0M455.8 1048.8h0M462.2 1048.8h0M468.8 1048.6h0M474.3 1046.8h0M476.6 1046.4h0M482.5 1046.6h0M488.7 1045h0M514.6 1046.1h0M523.6 1048.7h0M526.3 1047.7h0M534.9 1048.9h0M537.2 1048.6h0M545.2 1049.6h0M548 1048.4h0M558.3 1048.9h0M560.2 1046.8h0M569.6 1047.6h0M572.6 1046.6h0M578.3 1045h0M583.3 1049.2h0M591.5 1045.5h0M421.1 1052.1h0M429.5 1055.2h0M432.7 1054.4h0M438.5 1054.5h0M446.4 1051.9h0M450.1 1051.7h0M456.4 1051.5h0M462.6 1055.1h0M464.6 1053.7h0M469.6 1050.3h0M475.4 1052.7h0M485 1050.6h0M490.9 1052.5h0M492.9 1053.6h0M517.4 1055.2h0M524.4 1050.9h0M530.4 1053.6h0M535.7 1052.2h0M541.8 1054.2h0M543.4 1053h0M548 1053.9h0M556.4 1051.7h0M561.9 1054.9h0M565.8 1052.5h0M571.8 1054.5h0M576.8 1055.3h0M419.9 1059h0M427.5 1060h0M432 1057.4h0M440.1 1055.8h0M446.2 1059.8h0M451.1 1058.1h0M454.1 1057.4h0M461.3 1056.6h0M468.6 1060.4h0M471.3 1060h0M479.5 1060.4h0M485.6 1055.8h0M490.5 1060.2h0M517.7 1056.6h0M521.9 1057.5h0M530.5 1059.2h0M532.4 1057.2h0M541.3 1058.7h0M545.1 1058.6h0M548.8 1055.9h0M556.1 1056.9h0M563.6 1058.3h0M566.5 1060.6h0M573.6 1060h0M423.1 1064.3h0M428.1 1062.4h0M433.3 1061.5h0M435.8 1061.6h0M442 1065.9h0M451.9 1064.2h0M454.2 1063.4h0M462.2 1064.6h0M466.2 1064.8h0M472.1 1066.3h0M475.9 1065.3h0M480.9 1066.2h0M490.5 1066.2h0M492.7 1065.1h0M513.6 1061.9h0M516.1 1062.1h0M524.6 1064.5h0M528.7 1063.9h0M532.7 1061.4h0M538.7 1063.3h0M544.5 1064.8h0M549 1062.5h0M554 1065.5h0M564.2 1062.3h0M565.9 1062.3h0M572.2 1064.2h0M429.7 1068.8h0M433.2 1070.3h0M440.2 1068.5h0M445 1069.2h0M447.1 1070.5h0M457.3 1069.3h0M460.3 1069.8h0M468.9 1070.3h0M473.6 1071h0M475.1 1070.4h0M485.7 1070.3h0M487.3 1070h0M496.9 1069.1h0M498.8 1071.9h0M506.8 1068.9h0M510.7 1067.3h0M514.7 1071.3h0M523.8 1070.5h0M530.5 1068.8h0M536 1070.7h0M536.7 1069.5h0M546.1 1069.8h0M549.3 1072h0M555.8 1068.8h0M561.9 1068.6h0M566.4 1070.5h0M570.3 1067.7h0M576.7 1068.6h0M433.2 1077.4h0M437.8 1075.5h0M445.3 1074.5h0M447.8 1073.4h0M455.4 1074.1h0M460.2 1077.2h0M467.9 1072.9h0M472.3 1075.2h0M476.3 1073.7h0M481.4 1076.6h0M491 1074.8h0M496.3 1074.3h0M497.7 1077h0M505 1074.5h0M510.7 1077.7h0M515.1 1073.1h0M522.6 1076.7h0M525.5 1075.2h0M536 1075.1h0M537.5 1074.3h0M546.3 1074.7h0M550.5 1074h0M558.1 1075.5h0M562.8 1074h0M567.6 1072.7h0M573.2 1075.1h0M577.2 1073.5h0M435.1 1079.6h0M436.1 1078.9h0M444.9 1081.9h0M449.5 1080.6h0M454 1082.9h0M458.7 1078.7h0M468.2 1082.7h0M473.2 1083.4h0M479.7 1080h0M481.3 1081.3h0M486.5 1080.6h0M492.2 1082.4h0M497.6 1082.4h0M507.8 1078.8h0M511.1 1078.6h0M515.5 1078.6h0M522 1079h0M528 1082.3h0M533.9 1083.3h0M540.8 1082.9h0M543.8 1082h0M552.2 1083.4h0M558 1080.2h0M564.1 1080.9h0M569 1078.5h0M573.3 1081.9h0M580.7 1081.9h0M438.4 1087.3h0M446.2 1087.4h0M451.2 1084.5h0M455.4 1085.7h0M458.8 1085.3h0M468.3 1089h0M471.7 1084.3h0M477.8 1084.6h0M482.8 1084.4h0M489.3 1085.3h0M493.4 1084.9h0M498.7 1087.7h0M507.5 1084.9h0M509.2 1086.7h0M515.8 1084.5h0M523.7 1087h0M527.4 1088.6h0M533.7 1087h0M539.4 1087.9h0M547.2 1084.7h0M550.6 1087.4h0M557.7 1088h0M559.3 1084.6h0M568.8 1085.4h0M440.2 1090.8h0M444.1 1091.4h0M448.8 1093.5h0M453.2 1090.5h0M461.9 1092h0M466.2 1090.6h0M471.2 1092h0M479.6 1093.9h0M484.5 1092.2h0M489.7 1092.5h0M496.7 1093.5h0M501.7 1093.4h0M505.9 1091.7h0M510.9 1094.1h0M518.7 1090.3h0M524.6 1090h0M527.5 1089.7h0M531.1 1091.7h0M540.9 1090.5h0M543 1093.5h0M551.9 1094.3h0M557.7 1090.8h0M560.3 1091h0M434.4 1096.5h0M437.8 1099.8h0M442.6 1095.8h0M449.2 1096.7h0M456.2 1097.1h0M461.6 1096h0M467.8 1099.8h0M470.9 1097.6h0M479.9 1095.3h0M481.3 1096.5h0M488.4 1097.2h0M491.9 1096.5h0M497.5 1097h0M504.6 1097.2h0M511.7 1095h0M518 1098.2h0M520.1 1097.5h0M530.4 1099.9h0M535.7 1096h0M540.9 1097.8h0M545.9 1098.4h0M551.8 1097.4h0M554.3 1099.3h0M433.3 1103h0M438.5 1104.3h0M443.2 1102.4h0M448.8 1101.1h0M453.6 1101.9h0M460.4 1100.7h0M468.3 1104.8h0M474.5 1105h0M475.1 1104.3h0M485 1105.2h0M490.2 1105.4h0M494.9 1102.4h0M499.6 1104h0M506.2 1104.3h0M508.9 1102.4h0M518.3 1104.1h0M522 1103.2h0M526.4 1104.2h0M535 1101.9h0M538.2 1102.7h0M546.2 1100.7h0M552.7 1105.7h0M434.5 1108.9h0M440.4 1109.6h0M442.7 1106.3h0M450 1108.6h0M454.4 1109.8h0M460.2 1110.4h0M464.1 1106.3h0M471.3 1107.1h0M479.7 1109.5h0M485.6 1107.7h0M490.6 1111.3h0M496.3 1110.2h0M498.1 1110.9h0M503.5 1108h0M509.5 1106.8h0M519.2 1109.4h0M524.4 1108.1h0M527.4 1110.5h0M536 1110.2h0M541.2 1110.6h0M546.2 1110.9h0M551.8 1106.2h0M554.4 1108h0M438.9 1116.6h0M445.8 1115.8h0M449.9 1113.1h0M457.4 1115.1h0M463.4 1114.8h0M464.7 1112.8h0M473.9 1112.6h0M477.3 1114.1h0M482.5 1116.8h0M490.9 1112.4h0M496.9 1114.7h0M498.1 1116.3h0M504.9 1114.2h0M509.9 1114.5h0M515.7 1116.9h0M520.4 1113.7h0M527.6 1116.1h0M533.6 1115.5h0M537.7 1115.7h0M545.1 1116.4h0M552.4 1113.8h0M443.8 1120.7h0M448.4 1120.6h0M453.1 1118h0M458.5 1120.9h0M467.5 1119.9h0M471.4 1122.4h0M476.6 1121.8h0M485.6 1121.4h0M490.9 1119.6h0M495.1 1122.1h0M498.1 1120.3h0M506.6 1121.5h0M511.6 1122.4h0M518.5 1122.6h0M524.6 1120.2h0M530.5 1120.6h0M531.6 1120.7h0M539.8 1118.8h0M546.2 1121h0M454.7 1127.1h0M461.6 1123.1h0M465.9 1125.9h0M471.8 1124.6h0M477.2 1128.1h0M483.3 1127.5h0M487.9 1125.3h0M495.7 1125.2h0M502.3 1124.9h0M507.3 1127.8h0M509 1124.7h0M515.4 1125.7h0M524.8 1126.3h0M528.1 1124.3h0M532.8 1123h0M541.1 1123.2h0M545.8 1123.5h0M460.4 1130.1h0M466 1131.4h0M474.1 1133h0M477.6 1133.4h0M483.8 1132.2h0M489.4 1133.4h0M494.5 1130.6h0M501.4 1131.2h0M504.8 1133h0M512.1 1128.9h0M517 1131.6h0M521.8 1133.7h0M525.7 1130.9h0M535.3 1131h0M480.1 1134.8h0M485.4 1136.6h0M489.2 1137.1h0M494.9 1136.5h0M501.7 1136.1h0M504.3 1135.5h0M510.2 1136h0M519.3 1136.6h0M521.5 1136.4h0M528.5 1136h0M495.6 1140.6h0M500.4 1141.7h0M504.5 1141.6h0M513.6 1141.9h0M516.5 1140.5h0M495 1147.4h0M497.9 1147.2h0M503.4 1148.3h0M509.1 1146.8h0M420.4 1118.1h0M423.4 1117.9h0M429 1118.5h0M432.5 1117.9h0M438.8 1118.6h0M442.2 1117.2h0M446.6 1118.5h0M450.9 1117.4h0M455.3 1117.8h0M461.7 1118.1h0M464.9 1117h0M471 1117.8h0M474.7 1117.5h0M479.5 1118.9h0M483.9 1117.7h0M489.3 1117.1h0M493 1118.8h0M497.5 1117.7h0M503 1118.3h0M507.3 1117.9h0M511 1118.2h0M516.9 1117.8h0M520.5 1118.8h0M524.8 1117.3h0M529.7 1118.8h0M534.5 1117.6h0M538.7 1117.9h0M544.5 1117.3h0M548.5 1119h0M553.6 1118.1h0M558.5 1117.7h0M561.2 1117.7h0M566.4 1118.8h0M570.7 1117.2h0M575.5 1117.9h0M581.3 1117.6h0M584.7 1117.5h0M427.9 1121.3h0M433.4 1121.9h0M437.4 1122.7h0M441.6 1121.6h0M446.1 1123.1h0M451.8 1122.2h0M455.1 1122.4h0M459.9 1123h0M466.3 1122.1h0M469.6 1121.6h0M475.3 1121.6h0M479 1121.5h0M483.2 1123.2h0M488.2 1121.5h0M492.3 1121.4h0M497.5 1122.7h0M501.6 1121.5h0M506.1 1123.3h0M511.9 1122.3h0M515.1 1121.8h0M519.5 1122h0M524.2 1122.5h0M530.1 1121.8h0M534 1121.7h0M538.5 1123.2h0M542.7 1121.5h0M549 1122.9h0M553.4 1121.4h0M557.3 1121.6h0M562 1123.2h0M566.5 1123.2h0M570.9 1122.5h0M575.2 1121.6h0M436.5 1125.7h0M441.7 1127.5h0M447 1126.8h0M450.6 1126h0M456.4 1127.2h0M459.6 1127.5h0M465.3 1126.2h0M470.7 1126.8h0M474.7 1126.8h0M478.5 1127.3h0M484.1 1125.9h0M488 1126.8h0M493.3 1127.4h0M498.2 1126.2h0M501.1 1126.3h0M505.8 1127.4h0M510.7 1126.4h0M515.5 1126.1h0M520.1 1125.8h0M524 1127.5h0M530.4 1126.1h0M533.8 1126.7h0M538.3 1126.9h0M542.5 1127.5h0M548.7 1126.2h0M552 1127.5h0M558.1 1125.9h0M561 1126.4h0M566.5 1127.1h0M446.8 1131.2h0M451.8 1131.6h0M454.9 1130.9h0M459.4 1130.8h0M465.5 1129.9h0M468.8 1130.5h0M473.3 1130.7h0M478.3 1130.3h0M482.4 1130.5h0M487.5 1130.8h0M491.8 1131.8h0M497.7 1130.6h0M501.9 1130.2h0M507.1 1131.6h0M511.7 1130.2h0M515.3 1130.4h0M520.2 1130.7h0M525.6 1130.7h0M530 1131.5h0M533.9 1130h0M538.7 1129.9h0M544.1 1129.9h0M546.8 1130.4h0M552.7 1131.6h0M556 1130.7h0M455.8 1134.8h0M461.2 1134.9h0M464.4 1135.9h0M470.2 1135.9h0M473.4 1135.9h0M478.3 1134.6h0M482.9 1135.8h0M488.2 1135.8h0M492.4 1135.1h0M497.6 1134.4h0M501.2 1135.7h0M506.9 1135.5h0M511 1134.5h0M515.5 1136h0M519.4 1135.6h0M525.4 1135.4h0M528.8 1135.7h0M532.8 1136h0M538.7 1134.3h0M543 1134.7h0M547.8 1134.4h0M463.9 1140.3h0M468.5 1139.2h0M473.2 1139.8h0M478.4 1139.7h0M483.7 1138.9h0M487.8 1140.2h0M491.9 1139.2h0M496.3 1139.2h0M501.6 1140.3h0M506.9 1138.9h0M511.3 1139.9h0M514.9 1139.7h0M519.3 1140.2h0M525.3 1139.9h0M529.2 1139.7h0M533.1 1138.9h0M538.2 1138.9h0M474.1 1144h0M477.9 1144.2h0M482.3 1144.4h0M486.6 1143h0M492.1 1143.1h0M497.5 1143.5h0M502.2 1142.8h0M506.2 1142.9h0M510.7 1144.2h0M515.5 1144.3h0M519.6 1143.9h0M524 1142.8h0M528.4 1143.1h0M481.7 1147.8h0M486.8 1148.7h0M492.1 1148.2h0M496 1149.1h0M500.2 1147.6h0M506.3 1147.7h0M511.2 1147.2h0M515.5 1148.7h0M520.4 1148.5h0M491.2 1152.4h0M495.9 1153.3h0M501.3 1152.4h0M506.1 1153.3h0M510.5 1152.8h0M500 1156.6h0M502.3 1157.3h0M409.2 672.4h0M413.5 670.7h0M443.7 690.8h0M431 700.1h0M383.4 706.4h0M397.7 709.3h0M427.1 709.8h0M445.7 713.2h0M423.7 717.4h0M442.3 721.7h0M373.9 720.8h0M412.6 731h0M434.2 732.4h0M383.4 735.3h0M416.9 740.4h0M387.7 747.5h0M409.2 747.1h0M431.8 748h0M449.5 747.5h0M413 756.5h0M431.8 758.5h0M454.2 758.2h0M400.2 768h0M422.5 775.2h0M438.1 772.6h0M397.4 777.7h0M446.6 781.1h0M467 781.1h0M384.6 791.3h0M405.8 787.9h0M417.7 789.6h0M441.5 791.3h0M451.7 794.7h0M394 799.8h0M410.9 799.8h0M444.9 801.5h0M466.1 804h0M433 809.1h0M585.5 567.5h0M611.3 602h0M621.5 602.3h0M562.4 632.5h0M626.1 637.6h0M584.6 642.7h0M587.5 651.2h0M601.1 649.2h0M623.7 651.2h0M565.8 657.2h0M612.5 661.4h0M579 667.3h0M568 669h0M593.5 671.6h0M602.8 665.6h0M613 670.7h0M578.2 680.1h0M589.2 677.5h0M604.5 680.9h0M624.9 680.9h0M614.7 691.1h0M590.9 695.4h0M580.2 703.8h0M565.4 715.7h0M557.8 720.8h0M579 718.3h0M592.6 716.6h0M603.6 714h0M618.1 711.5h0M628.3 716.6h0M546.3 733.6h0M547.6 753.9h0M546.8 770.1h0M447.1 1142.3h0M427.9 1130.4h0M405 1112.9h0M424.2 1107.8h0M375.3 1087.8h0M378.7 1074.7h0M403.3 1083.2h0M414.3 1090.8h0M410.9 1067.9h0M395.7 1049.2h0M384.6 1040.7h0M392.3 1031.4h0M399.1 1033.1h0M405 1016.1h0M381.2 1006.8h0M545.9 1142.3h0M564.6 1115.5h0M573.9 1112.1h0M607.9 1107.3h0M584.1 1100.2h0M600.3 1080.6h0M584.1 1087.4h0M588.4 1067.1h0M601.9 1064.5h0M607.9 1045h0M590.1 1045.8h0M608.7 1035.7h0M613.8 1015.3h0M628.3 1013.6h0M620.8 602.1h0M625.9 637.8h0M624.2 651.4h0" stroke="#838b8b" stroke-width="16.4" stroke-linecap="round" fill="none"/>
<path d="M349.2 657.9h0M275.8 682.5h0M343.7 699h0M328.1 723.6h0M360.9 743.7h0M320.4 749.3h0M349.6 763.3h0M360.9 762.6h0M280.1 777.1h0M294.8 787.2h0M323.3 782h0M360.9 780.9h0M370 784.4h0M356.6 793.5h0M363.7 802.7h0M322.2 807.3h0M331.8 812.5h0M370 813.2h0M357.3 818.1h0M351.7 823.7h0M189.8 824.4h0M247.5 821.2h0M346.1 830.8h0M295.5 834.3h0M345.4 837.8h0M363 835h0M296.2 844.2h0M299.7 856.9h0M278 853.3h0M259 860.8h0M267.4 868.8h0M291.6 868.8h0M313.8 866.7h0M333.5 869.8h0M344 854.8h0M358.7 855.5h0M363 844.2h0M363 863.2h0M355.9 877.2h0M370 880h0M205.6 872.7h0M226.7 887.1h0M234.4 890.6h0M269.1 884.3h0M267.1 890.9h0M296.2 886.1h0M284.3 896.2h0M296.9 901.8h0M324.3 885.7h0M329.9 888.5h0M331.3 903.9h0M358 894.1h0M363 901.8h0M353.8 908.1h0M360.2 910.3h0M243.8 907.2h0M263.9 908.1h0M187.7 916.6h0M210.8 925h0M356.6 922.2h0M312.4 933.4h0M337.7 936.3h0M349.6 937h0M353.8 934.8h0M228.1 948.2h0M223.9 952.4h0M210.1 955.9h0M358 955.9h0M363 958.7h0M322.5 962.2h0M343.3 968.6h0M358 972.8h0M227.4 967.9h0M239 973.5h0M256.2 967.9h0M256.5 981.2h0M281.5 972.4h0M349.6 987.5h0M358.7 988.2h0M367.2 986.1h0M338.4 994.6h0M294.1 995.3h0M240 1003.7h0M279.4 1013.1h0M357.3 1013.1h0M351.7 1024.1h0M351.7 1031.8h0M370 1030.4h0M372.1 1038.8h0M303.5 1029.7h0M273.5 1038.4h0M285.7 1039.3h0M352.1 1069.7h0M353.5 1078.2h0M330.2 1077.2h0" stroke="#99cc00" stroke-width="16.4" stroke-linecap="round" fill="none"/>
<path d="M826 434.9h0M766.4 476h0M743.4 497.2h0M772 504.7h0M802.7 505.4h0M824.3 508.4h0M767 521.7h0M686.2 549.8h0M695.6 552.9h0M770.3 562.8h0M871.8 558.5h0M636.1 581.8h0M668.4 579.7h0M682 584.8h0M669.6 589.4h0M702 592.8h0M738.9 588.1h0M634.4 601.3h0M661.6 605h0M720.5 607.6h0M836 601.8h0M656.5 617.8h0M662.4 620.8h0M817 623.4h0M637.8 631h0M652.3 634.7h0M669.2 632.7h0M720.2 636.9h0M743.6 631h0M849.7 631.3h0M865.9 635.8h0M636.1 646.3h0M674.3 644.6h0M679.4 653.1h0M645.5 653.1h0M727.8 655.6h0M693.9 659.9h0M662.4 663.3h0M651.4 659.9h0M748.2 665h0M632.7 665h0M638.7 648.4h0M674.3 648.4h0M759.2 677.3h0M645.5 668.8h0M660.7 678.1h0M674.3 681.5h0M636.1 681.5h0M646.3 690.8h0M688.8 690.8h0M711.7 692.5h0M632.7 694.2h0M660.7 695.9h0M676.9 695.9h0M692.2 695.1h0M653.1 697.6h0M642.1 701h0M704 702.7h0M634.4 706.1h0M656.5 708.7h0M645.5 710.4h0M669.2 712.9h0M704.9 714.6h0M751.2 712.9h0M677.2 724.8h0M700.6 729h0M637 737.5h0M647.2 738.4h0M666.7 738.4h0M659.1 741.8h0M678.6 742.6h0M694.7 738.4h0M719 741.8h0M631 745.2h0M706.6 752.5h0M766.4 751.5h0M687.1 755.4h0M681.1 752h0M654.8 757.1h0M668.9 760.5h0M633.2 766.4h0M656.5 768.9h0M721.4 768.4h0M632.7 777.4h0M638.7 780.8h0M664.5 778.3h0M682.3 779.1h0M703.2 777.9h0M654.8 784.2h0M637.8 789.3h0M668.9 793.6h0M633.6 799.5h0M639.5 802.1h0M672.6 799.5h0M661.6 805.5h0M689.6 804.6h0M707.1 798.3h0M716.4 799.5h0M757.9 802.1h0M677.7 814.8h0M659.1 819.9h0M665.8 818.2h0M688.8 819.9h0M745.1 822.4h0M662.4 825.8h0M683.7 826.7h0M642.1 830.1h0M647.2 833.5h0M632.7 833.5h0M699 842.8h0M636.1 842.8h0M658.2 846.2h0M731.6 850.8h0M704.9 853.8h0M690.5 856.9h0M659.9 857.2h0M642.1 852.1h0M650.6 853.8h0M630.2 863.2h0M640.4 864h0M647.2 864h0M725.8 863.2h0M652.3 869.1h0M727.5 870h0M633.6 880.2h0M673 881h0M713.4 882.7h0M723.1 882.7h0M654.8 891.2h0M645.5 895.4h0M638.7 904.8h0M655.7 903.1h0M668.4 907.3h0M684.5 911.6h0M651.4 911.6h0M651.9 915.4h0M641.2 924.7h0M696.7 924.7h0M674.3 927.3h0M665.8 931h0M646.3 935.7h0M674 943.4h0M681.6 950.2h0M636.5 962.9h0M635.8 978.5h0M637 1012.2h0M645.5 1030h0" stroke="#ff99cc" stroke-width="16.4" stroke-linecap="round" fill="none"/>
<path d="M373 399.0V1192.3M631 399.0V1192.3" stroke="#bebebe" stroke-width="3.6" stroke-dasharray="27 9 9 9" stroke-dashoffset="5.5" fill="none"/>
<path d="M154.7 1130.1H905.9" stroke="#bebebe" stroke-width="3.6" stroke-dasharray="27 9 9 9" stroke-dashoffset="36.6" fill="none"/>
</g>
<rect x="154.7" y="399.0" width="751.2" height="793.3" fill="none" stroke="#333" stroke-width="1.3"/>
<path d="M244 1192.3v6.4M373 1192.3v6.4M502 1192.3v6.4M631 1192.3v6.4M760 1192.3v6.4M889 1192.3v6.4M154.7 1157.3h-7.2M154.7 948.1h-7.2M154.7 738.9h-7.2M154.7 529.7h-7.2" stroke="#333" stroke-width="1.4" fill="none"/>
<text x="244" y="1217.2" font-size="18.6" text-anchor="middle" fill="#4d4d4d">−2</text>
<text x="373" y="1217.2" font-size="18.6" text-anchor="middle" fill="#4d4d4d">−1</text>
<text x="502" y="1217.2" font-size="18.6" text-anchor="middle" fill="#4d4d4d">0</text>
<text x="631" y="1217.2" font-size="18.6" text-anchor="middle" fill="#4d4d4d">1</text>
<text x="760" y="1217.2" font-size="18.6" text-anchor="middle" fill="#4d4d4d">2</text>
<text x="889" y="1217.2" font-size="18.6" text-anchor="middle" fill="#4d4d4d">3</text>
<text x="141.6" y="1163.9" font-size="18.6" text-anchor="end" fill="#4d4d4d">0</text>
<text x="141.6" y="954.7" font-size="18.6" text-anchor="end" fill="#4d4d4d">10</text>
<text x="141.6" y="745.5" font-size="18.6" text-anchor="end" fill="#4d4d4d">20</text>
<text x="141.6" y="536.3" font-size="18.6" text-anchor="end" fill="#4d4d4d">30</text>
<text x="530" y="1243.6" font-size="23.4" text-anchor="middle">logFC</text>
<text x="111" y="795.7" font-size="23.4" text-anchor="middle" transform="rotate(-90 111 795.7)">−log10(P.Value)</text>
<text x="941.6" y="743.8" font-size="23.15">Significant</text>
<circle cx="959.1" cy="776.3" r="8.2" fill="#99cc00"/>
<text x="989.6" y="782.9" font-size="18.6">Down</text>
<circle cx="959.1" cy="812.8" r="8.2" fill="#838b8b"/>
<text x="989.6" y="819.35" font-size="18.6">Not</text>
<circle cx="959.1" cy="849.2" r="8.2" fill="#ff99cc"/>
<text x="989.6" y="855.8" font-size="18.6">Up</text>
</g>
<g id="gsea">
<path d="M240.4 1317V1791M240.4 1958V2273M350.1 1317V1791M350.1 1958V2273M459.8 1317V1791M459.8 1958V2273M569.5 1317V1791M569.5 1958V2273M679.2 1317V1791M679.2 1958V2273M789 1317V1791M789 1958V2273M898.7 1317V1791M898.7 1958V2273M1008.4 1317V1791M1008.4 1958V2273" stroke="#e6e6e6" stroke-width="0.9" fill="none"/>
<g fill="none" stroke-width="2.7" stroke-linejoin="round">
<path d="M130.7 1537.8L207.1 1559.3L207.1 1539.1L403.2 1598.1L404.6 1593.6L602.8 1651.5L601.4 1652.1L630.1 1661L631 1658.4L651.6 1664.7L653.1 1661.8L752 1683.9L752.9 1678.2L842.4 1704.9L843.3 1697.1L878.3 1707.7L878.9 1699.1L898.4 1704.9L899.2 1694L1038.9 1735.6L1039.8 1708.3L1041.8 1709.2L1042.7 1681.9L1047.5 1683.4L1049 1649.5L1056.1 1651.8L1056.7 1611.1L1069.1 1614.5L1069.9 1560L1072 1537.8" stroke="#6fd9cb"/>
<path d="M130.7 1537.8L131.5 1487.1L131.9 1450.2L136.2 1436L136.6 1428.6L139.4 1429.3L139.7 1420.3L144.8 1422.3L151.1 1423.5L151.5 1418.7L151.9 1408.5L153.1 1408.9L153.5 1400.7L153.9 1398.3L157.4 1399.1L158.2 1388.9L160.6 1389.7L160.9 1388.5L165.7 1389.7L166.1 1384.2L173.1 1386.2L173.5 1381L179.8 1383L180.2 1376.3L180.6 1372.8L185.7 1374L186.1 1371.2L188.4 1372L188.8 1369.3L190.8 1369.7L191.2 1367.7L194.7 1368.6L195.1 1365.3L196.7 1365.7L197.1 1363L203 1364.6L203.4 1361L211.2 1363.6L216.3 1359.8L217.1 1355.9L218.3 1354.3L223.4 1355.5L223.8 1353.2L246 1360.2L250.6 1361.3L251.3 1359L259 1361.3L259.7 1357.5L262.8 1358.4L263.5 1355.4L288.6 1361L289.4 1358.4L301.6 1360.2L302.3 1358.4L338.1 1364.8L338.9 1363L383.8 1372.9L385.8 1374.3L643.8 1448.4L641.3 1447.4L803.3 1490.7L808.6 1487.5L887.7 1511.7L903.5 1513.3L906.1 1511.7L945.6 1524.4L950.9 1521L995.7 1535.4L1000.9 1532.3L1043.1 1540.2L1047.1 1535.4L1055 1534.1L1061.5 1537.3L1072 1537.8" stroke="#66e066"/>
<path d="M130.7 1537.8L130.9 1494.1L133.9 1493.7L134.2 1479.2L135 1463.5L135.4 1452.5L135.8 1439.2L140.1 1440.3L144.8 1441.5L145.2 1432.9L148.4 1433.7L148.8 1416.4L152.7 1417.6L153.1 1407.7L156.2 1408.5L157 1396.8L157.4 1390.5L159.8 1391.3L160.2 1385L162.9 1385.8L163.3 1379.9L171.2 1382.2L171.5 1380.3L175.1 1381.4L175.5 1367.7L181.8 1369.3L182.2 1363L183.7 1363.4L184.1 1355.9L185.3 1356.3L185.7 1352.4L191.2 1354L191.6 1349.2L198.3 1351.2L198.6 1344.1L210.4 1347.7L210.8 1344.9L214.7 1345.7L215.1 1342.6L220.2 1341.4L235.9 1348.1L236.7 1345.3L246 1347.7L262 1353.4L262.8 1352L307.7 1360.2L308.4 1359L383.8 1375.2L385.8 1376.4L643.8 1452.7L641.3 1450.3L819.2 1501.2L824.4 1498.6L929.8 1527.5L935.1 1524.4L998.3 1539.4L1003.6 1535.4L1045.7 1545.5L1047.1 1540.7L1058.9 1544.7L1061.5 1538.1L1072 1537.8" stroke="#deda42"/>
<path d="M130.7 1537.8L130.9 1502.8L131.9 1450.2L132.7 1447.8L133.5 1432.1L133.9 1419.5L135 1411.7L135.8 1404.6L137 1397.5L137.8 1396.8L139 1390.5L146.8 1393.2L147.2 1382.6L153.9 1385L154.3 1375.5L156.2 1376.3L156.6 1371.6L158.2 1372L158.4 1363.8L162.5 1365.3L162.9 1353.6L171.2 1356.3L171.5 1353.2L173.9 1354L174.3 1350.8L177.4 1351.8L177.8 1348.5L181.8 1349.6L182.2 1346.5L185.3 1347.4L185.7 1344.5L190.4 1345.9L190.8 1343.7L193.9 1344.7L194.3 1341.8L195.9 1342.3L196.3 1339.8L199 1338.2L211.6 1342.6L212 1340.6L214 1340.2L214.4 1338.1L219.8 1337.9L235.2 1343L235.9 1341.9L246 1344.9L257.4 1347.8L258.2 1346.5L307.7 1359L308.4 1357.8L383.8 1376.1L385.8 1377.3L643.8 1453.8L641.3 1452.2L887.7 1522.3L892.9 1519.1L937.7 1534.1L943 1531.5L974.6 1540.7L979.9 1537.3L1022 1547.3L1027.3 1543.3L1061.5 1553.1L1062.9 1548.6L1068.1 1548.6L1069.4 1538.1L1072 1537.8" stroke="#dc6fa6"/>
<path d="M130.7 1537.8L153.1 1544.7L154.5 1536L186.8 1545.3L187.4 1540.2L222 1549.5L223.4 1541.9L245.8 1548.1L247.2 1545.3L316.1 1565L317.5 1563L403.2 1588.9L404.6 1587.4L602.8 1645.9L601.4 1645.8L628.7 1653.2L866.8 1714.9L868.2 1712.9L942.8 1735.6L944.3 1733.6L1041.8 1755.7L1041.8 1749.3L1044.7 1749.3L1046.1 1743.6L1069.1 1749.9L1069.1 1732.1L1071.9 1733.6L1072.8 1686.2L1072 1537.8" stroke="#cdd592"/>
<path d="M130.7 1537.8L310.5 1590.3L311.9 1588.3L314.7 1589.1L316.1 1586L602.8 1672.6L601.4 1671.6L772.1 1723L773 1720.7L795.1 1727.3L795.9 1724.4L868.2 1746.5L868.8 1743.6L958.6 1770L960 1758L999.6 1770.3L1000.2 1756.5L1003.1 1756.5L1003.9 1748.8L1017.4 1752.2L1018.3 1742.2L1019.7 1737.9L1024 1737.9L1024.6 1719.2L1038.9 1723.5L1039.8 1709.2L1043.2 1709.2L1044.1 1688.2L1054.7 1692L1055.3 1674.8L1056.7 1674.8L1057.6 1659.5L1067.6 1662.7L1068.5 1633.2L1070.5 1633.2L1071.9 1560L1072 1537.8" stroke="#7c93dc"/>
<path d="M130.7 1537.8L131.2 1487.1L131.9 1450.2L142.1 1453.7L142.9 1410.9L157 1415.2L157.4 1400.3L162.9 1401.9L163.3 1388.1L168.8 1389.7L169.2 1376.3L185.3 1381L185.7 1371.6L192.8 1373.6L193.1 1364.2L212.8 1369.7L213.6 1362.2L246 1371.6L252.9 1373.6L254.1 1363.6L309.2 1380.3L310 1376.5L324.4 1381.1L325.9 1378L336.6 1381.2L338.1 1378.8L383.8 1392.7L385.8 1392.6L395.7 1396.2L397.2 1394.7L407.8 1398.2L416.2 1396.2L622.5 1458.6L630.1 1457.9L643.8 1463.7L641.3 1460.6L672.9 1472.2L674.3 1469.6L895.6 1534.9L896.9 1531L906.1 1533.3L907.4 1530.2L979.9 1552.6L981.2 1546L1039.2 1563.6L1040.5 1553.9L1047.1 1555.2L1047.8 1546L1056.3 1548.6L1057.1 1535.4L1072 1537.8" stroke="#cfcbd5"/>
<path d="M130.7 1537.8L142.4 1541.9L143.3 1538.3L154.5 1540.2L155.4 1536.3L161.5 1537.7L162.9 1533.2L185.4 1538.5L186.8 1535.5L191 1536.3L192.4 1531.8L195.3 1532.6L196.7 1529L210.7 1533.2L212.1 1531.2L217.7 1532.1L219.1 1530.4L234.6 1534.1L236 1531.8L240.2 1529L251.5 1531.8L252.9 1530.7L283.8 1536L318.9 1546.7L333 1548.1L369.5 1559.3L602.8 1627.6L601.4 1627.7L941.4 1722.1L947.1 1721.5L1038.9 1740.7L1043.2 1737.9L1047.5 1730.7L1056.1 1729.3L1061.9 1725L1066.2 1716.4L1069.1 1706.3L1070.5 1686.2L1071.9 1646.1L1072.5 1560L1072 1537.8" stroke="#dd55dd"/>
<path d="M130.7 1537.8L366.7 1609.4L367.2 1604.3L383.5 1609.4L384.1 1605.7L397.6 1609.9L398.2 1607.1L424.3 1614.7L425.1 1612.2L602.8 1665.6L601.4 1665L746.3 1708.3L746.9 1704L872.5 1742.2L873.4 1735L889.8 1739.9L890.3 1732.1L898.4 1735L899.2 1727.3L919.9 1733.6L920.7 1724.1L962.9 1737L963.8 1725L971.5 1727.3L972.4 1716.4L981 1719.2L981.6 1707.2L1003.1 1713.5L1003.9 1699.7L1007.4 1700.6L1008.8 1671.9L1014.5 1673.3L1015.4 1658.1L1040.4 1666.1L1041.2 1643.2L1042.7 1643.2L1043.2 1620.2L1044.1 1620.2L1044.7 1597.3L1045.5 1575.8L1066.2 1581.5L1067.6 1560L1072 1537.8" stroke="#db8058"/>
<path d="M130.7 1537.8L142.4 1542.4L142.4 1512.8L157.7 1518.2L157.7 1498.3L165.3 1501L165.3 1482.8L172.2 1485.1L172.2 1469.1L184.7 1473.2L184.7 1459.6L190.5 1461.5L190.5 1436.3L195.8 1438.2L195.8 1426.5L197.3 1426.9L198.1 1392.2L223.9 1400.6L223.9 1391.1L230.8 1393.4L230.8 1376.2L250.6 1382.8L250.6 1374.7L253.6 1375.8L253.6 1368.6L257.4 1369.8L257.4 1363L262 1364.3L262 1355.7L265.8 1356.7L265.8 1351.9L274.2 1354.4L274.2 1348.8L282.6 1351.4L282.6 1346.1L322.9 1358.4L322.9 1354.1L325.2 1354.9L325.2 1350.8L329 1351.9L329 1347.6L338.9 1350.6L338.9 1346.5L341.9 1347.3L341.9 1344.3L383.8 1356.9L394.1 1358.6L394.9 1355.1L458.1 1374.9L458.8 1373.8L470.2 1378.1L476.3 1377.2L564.6 1404.1L565.4 1402.9L631.6 1423.6L633.1 1421.9L643.8 1425.6L659.8 1430.6L661.1 1426.9L709.8 1441.9L710.6 1439.3L740.1 1447.7L741.4 1444L929.8 1500.7L930.6 1494.6L1072 1537.8" stroke="#7d4ae8"/>
</g>
<clipPath id="cpL"><rect x="720" y="1301.8" width="420" height="260"/></clipPath>
<g clip-path="url(#cpL)">
<path d="M734.4 1305.2H753.7" stroke="#6fd9cb" stroke-width="2.6"/>
<text x="764.2" y="1309.6" font-size="12.88">2−Oxocarboxylic acid metabolism</text>
<path d="M734.4 1329.8H753.7" stroke="#66e066" stroke-width="2.6"/>
<text x="764.2" y="1334.19" font-size="12.88">Amoebiasis</text>
<path d="M734.4 1354.4H753.7" stroke="#deda42" stroke-width="2.6"/>
<text x="764.2" y="1358.78" font-size="12.88">Arrhythmogenic right ventricular cardiomyopathy</text>
<path d="M734.4 1379H753.7" stroke="#dc6fa6" stroke-width="2.6"/>
<text x="764.2" y="1383.37" font-size="12.88">ECM−receptor interaction</text>
<path d="M734.4 1403.6H753.7" stroke="#cdd592" stroke-width="2.6"/>
<text x="764.2" y="1407.96" font-size="12.88">Fat digestion and absorption</text>
<path d="M734.4 1428.2H753.7" stroke="#7c93dc" stroke-width="2.6"/>
<text x="764.2" y="1432.55" font-size="12.88">Maturity onset diabetes of the young</text>
<path d="M734.4 1452.7H753.7" stroke="#cfcbd5" stroke-width="2.6"/>
<text x="764.2" y="1457.14" font-size="12.88">Mucin type O−glycan biosynthesis</text>
<path d="M734.4 1477.3H753.7" stroke="#dd55dd" stroke-width="2.6"/>
<text x="764.2" y="1481.73" font-size="12.88">Pancreatic secretion</text>
<path d="M734.4 1501.9H753.7" stroke="#db8058" stroke-width="2.6"/>
<text x="764.2" y="1506.32" font-size="12.88">Protein export</text>
<path d="M734.4 1526.5H753.7" stroke="#7d4ae8" stroke-width="2.6"/>
<text x="764.2" y="1530.91" font-size="12.88">Viral myocarditis</text>
</g>
<path d="M130.7 1317V1791.3M130.7 1795.5V1953.5M130.7 1957.8V2273.3H1073.5" stroke="#2b2b2b" stroke-width="1.9" fill="none"/>
<text x="123.2" y="1401.1" font-size="12.6" text-anchor="end" fill="#4d4d4d">0.5</text>
<text x="123.2" y="1542.2" font-size="12.6" text-anchor="end" fill="#4d4d4d">0.0</text>
<text x="123.2" y="1683.4" font-size="12.6" text-anchor="end" fill="#4d4d4d">−0.5</text>
<text x="123.2" y="1968.5" font-size="12.6" text-anchor="end" fill="#4d4d4d">3</text>
<text x="123.2" y="2022.9" font-size="12.6" text-anchor="end" fill="#4d4d4d">2</text>
<text x="123.2" y="2077.3" font-size="12.6" text-anchor="end" fill="#4d4d4d">1</text>
<text x="123.2" y="2131.7" font-size="12.6" text-anchor="end" fill="#4d4d4d">0</text>
<text x="123.2" y="2186.1" font-size="12.6" text-anchor="end" fill="#4d4d4d">−1</text>
<text x="123.2" y="2240.5" font-size="12.6" text-anchor="end" fill="#4d4d4d">−2</text>
<text x="350.12" y="2289.7" font-size="12.6" text-anchor="middle" fill="#4d4d4d">4000</text>
<text x="569.54" y="2289.7" font-size="12.6" text-anchor="middle" fill="#4d4d4d">8000</text>
<text x="788.96" y="2289.7" font-size="12.6" text-anchor="middle" fill="#4d4d4d">12000</text>
<text x="1008.38" y="2289.7" font-size="12.6" text-anchor="middle" fill="#4d4d4d">16000</text>
<path d="M126.3 1396.7H130.7M126.3 1537.8H130.7M126.3 1679.0H130.7M126.3 1964.1H130.7M126.3 2018.5H130.7M126.3 2072.9H130.7M126.3 2127.3H130.7M126.3 2181.7H130.7M126.3 2236.1H130.7M350.1 2273.3v3.8M569.5 2273.3v3.8M789 2273.3v3.8M1008.4 2273.3v3.8" stroke="#333" stroke-width="1.4" fill="none"/>
<text x="601.5" y="2308" font-size="15.75" text-anchor="middle">Rank in Ordered Dataset</text>
<text x="90.8" y="1554.3" font-size="15.75" text-anchor="middle" transform="rotate(-90 90.8 1554.3)">Running Enrichment Score</text>
<text x="90.8" y="2115.5" font-size="15.75" text-anchor="middle" transform="rotate(-90 90.8 2115.5)">Ranked List Metric</text>
<path d="M130.4 1795.9v15.7M131.4 1795.9v15.7M132.5 1795.9v15.7M133.5 1795.9v15.7M134.5 1795.9v15.7M135.5 1795.9v15.7M136.5 1795.9v15.7M137.5 1795.9v15.7M138.5 1795.9v15.7M139.5 1795.9v15.7M147.2 1795.9v15.7M154.8 1795.9v15.7M156.3 1795.9v15.7M157.8 1795.9v15.7M162.4 1795.9v15.7M163.9 1795.9v15.7M171.5 1795.9v15.7M174.6 1795.9v15.7M178.2 1795.9v15.7M182.8 1795.9v15.7M185.9 1795.9v15.7M191.3 1795.9v15.7M193.8 1795.9v15.7M195.9 1795.9v15.7M198.9 1795.9v15.7M212.6 1795.9v15.7M214.2 1795.9v15.7M220.3 1795.9v15.7M236.1 1795.9v15.7M257.7 1795.9v15.7M274.1 1795.9v15.7M277.8 1795.9v15.7M289.1 1795.9v15.7M301.9 1795.9v15.7M323.2 1795.9v15.7M338.4 1795.9v15.7M367 1795.9v15.7M372.2 1795.9v15.7M449.2 1795.9v15.7M474.2 1795.9v15.7M487.9 1795.9v15.7M499.4 1795.9v15.7M506.1 1795.9v15.7M535.1 1795.9v15.7M554.5 1795.9v15.7M564.9 1795.9v15.7M574.6 1795.9v15.7M590.7 1795.9v15.7M602.5 1795.9v15.7M610.1 1795.9v15.7M692.3 1795.9v15.7M698.1 1795.9v15.7M739.8 1795.9v15.7M809.6 1795.9v15.7M818.7 1795.9v15.7M834.5 1795.9v15.7M839.4 1795.9v15.7M866.5 1795.9v15.7M887.8 1795.9v15.7M893.9 1795.9v15.7M942.3 1795.9v15.7M949.3 1795.9v15.7M950.8 1795.9v15.7M975.2 1795.9v15.7M981 1795.9v15.7M1003.2 1795.9v15.7M1025.4 1795.9v15.7M1026.6 1795.9v15.7M1061 1795.9v15.7M1067.1 1795.9v15.7M1068.6 1795.9v15.7" stroke="#dc6fa6" stroke-width="1.15" fill="none"/>
<path d="M130.4 1811.6v15.7M131.4 1811.6v15.7M132.5 1811.6v15.7M133.5 1811.6v15.7M134.5 1811.6v15.7M135.5 1811.6v15.7M136.5 1811.6v15.7M137.5 1811.6v15.7M145.1 1811.6v15.7M147.2 1811.6v15.7M152.4 1811.6v15.7M154.2 1811.6v15.7M156.3 1811.6v15.7M158.5 1811.6v15.7M162.4 1811.6v15.7M163.9 1811.6v15.7M171.5 1811.6v15.7M176.1 1811.6v15.7M182.8 1811.6v15.7M184.6 1811.6v15.7M186.2 1811.6v15.7M190.4 1811.6v15.7M198 1811.6v15.7M199.3 1811.6v15.7M211.1 1811.6v15.7M214.8 1811.6v15.7M236.1 1811.6v15.7M262.3 1811.6v15.7M274.1 1811.6v15.7M291.5 1811.6v15.7M297 1811.6v15.7M301.9 1811.6v15.7M338.4 1811.6v15.7M350 1811.6v15.7M367 1811.6v15.7M483.6 1811.6v15.7M499.4 1811.6v15.7M529.3 1811.6v15.7M557.9 1811.6v15.7M564.9 1811.6v15.7M574.9 1811.6v15.7M584.6 1811.6v15.7M586.7 1811.6v15.7M589.1 1811.6v15.7M635.4 1811.6v15.7M659.2 1811.6v15.7M660.7 1811.6v15.7M682.6 1811.6v15.7M690.5 1811.6v15.7M698.1 1811.6v15.7M707.3 1811.6v15.7M739.8 1811.6v15.7M764.8 1811.6v15.7M818.4 1811.6v15.7M826 1811.6v15.7M849.7 1811.6v15.7M895.7 1811.6v15.7M920.1 1811.6v15.7M930.1 1811.6v15.7M933.8 1811.6v15.7M953 1811.6v15.7M999.2 1811.6v15.7M1003.2 1811.6v15.7M1020.8 1811.6v15.7M1054.3 1811.6v15.7M1064.1 1811.6v15.7" stroke="#deda42" stroke-width="1.15" fill="none"/>
<path d="M141.7 1827.4v15.7M157.5 1827.4v15.7M164.5 1827.4v15.7M171.9 1827.4v15.7M184.6 1827.4v15.7M189.8 1827.4v15.7M195.9 1827.4v15.7M197.4 1827.4v15.7M223.6 1827.4v15.7M230.9 1827.4v15.7M250.1 1827.4v15.7M253.1 1827.4v15.7M257.4 1827.4v15.7M262 1827.4v15.7M264.7 1827.4v15.7M273.8 1827.4v15.7M282.4 1827.4v15.7M323.8 1827.4v15.7M325.3 1827.4v15.7M326.8 1827.4v15.7M328.9 1827.4v15.7M338.4 1827.4v15.7M341.4 1827.4v15.7M384.4 1827.4v15.7M394.4 1827.4v15.7M458.3 1827.4v15.7M471.4 1827.4v15.7M473 1827.4v15.7M474.5 1827.4v15.7M476.3 1827.4v15.7M489.4 1827.4v15.7M511.9 1827.4v15.7M564.9 1827.4v15.7M633.3 1827.4v15.7M649.7 1827.4v15.7M659.2 1827.4v15.7M660.7 1827.4v15.7M710.3 1827.4v15.7M737.7 1827.4v15.7M741.7 1827.4v15.7M930.1 1827.4v15.7" stroke="#7d4ae8" stroke-width="1.15" fill="none"/>
<path d="M130.4 1843.1v15.7M131.4 1843.1v15.7M132.5 1843.1v15.7M133.5 1843.1v15.7M134.5 1843.1v15.7M135.5 1843.1v15.7M139 1843.1v15.7M150.2 1843.1v15.7M151.2 1843.1v15.7M152.2 1843.1v15.7M153.2 1843.1v15.7M154.3 1843.1v15.7M157.8 1843.1v15.7M162.4 1843.1v15.7M165.5 1843.1v15.7M173.1 1843.1v15.7M176.7 1843.1v15.7M180.7 1843.1v15.7M186.8 1843.1v15.7M189.8 1843.1v15.7M192.2 1843.1v15.7M194.4 1843.1v15.7M197.4 1843.1v15.7M202.6 1843.1v15.7M214.2 1843.1v15.7M215.2 1843.1v15.7M216.2 1843.1v15.7M217.2 1843.1v15.7M218.2 1843.1v15.7M223.9 1843.1v15.7M251.3 1843.1v15.7M256.2 1843.1v15.7M259.8 1843.1v15.7M262.3 1843.1v15.7M264.7 1843.1v15.7M273.8 1843.1v15.7M288.8 1843.1v15.7M293.3 1843.1v15.7M301.9 1843.1v15.7M318 1843.1v15.7M324.7 1843.1v15.7M338.4 1843.1v15.7M353.9 1843.1v15.7M372.2 1843.1v15.7M380.1 1843.1v15.7M383.7 1843.1v15.7M400.5 1843.1v15.7M416 1843.1v15.7M434.6 1843.1v15.7M460.8 1843.1v15.7M464.4 1843.1v15.7M497.3 1843.1v15.7M498.8 1843.1v15.7M514.1 1843.1v15.7M539.3 1843.1v15.7M544.8 1843.1v15.7M554.5 1843.1v15.7M565.5 1843.1v15.7M575.9 1843.1v15.7M586.7 1843.1v15.7M599.8 1843.1v15.7M604.7 1843.1v15.7M614.4 1843.1v15.7M633.3 1843.1v15.7M659.8 1843.1v15.7M670.7 1843.1v15.7M672.2 1843.1v15.7M677.1 1843.1v15.7M690.2 1843.1v15.7M692.6 1843.1v15.7M706.7 1843.1v15.7M725.2 1843.1v15.7M740.7 1843.1v15.7M786.1 1843.1v15.7M788.5 1843.1v15.7M802.2 1843.1v15.7M809.9 1843.1v15.7M887.8 1843.1v15.7M903.6 1843.1v15.7M907.3 1843.1v15.7M944.4 1843.1v15.7M947.8 1843.1v15.7M950.8 1843.1v15.7M997.7 1843.1v15.7M1028.1 1843.1v15.7M1042.8 1843.1v15.7M1045.8 1843.1v15.7M1052.8 1843.1v15.7" stroke="#66e066" stroke-width="1.15" fill="none"/>
<path d="M132 1858.9v15.7M142.6 1858.9v15.7M157.2 1858.9v15.7M163 1858.9v15.7M168.8 1858.9v15.7M185.6 1858.9v15.7M192.9 1858.9v15.7M213 1858.9v15.7M253.1 1858.9v15.7M258.6 1858.9v15.7M309.2 1858.9v15.7M325.3 1858.9v15.7M337.5 1858.9v15.7M397.1 1858.9v15.7M409 1858.9v15.7M412.1 1858.9v15.7M415.1 1858.9v15.7M519.8 1858.9v15.7M566.1 1858.9v15.7M625.7 1858.9v15.7M630.5 1858.9v15.7M675 1858.9v15.7M794.6 1858.9v15.7M896 1858.9v15.7M907.6 1858.9v15.7M979.7 1858.9v15.7M1039.7 1858.9v15.7M1046.1 1858.9v15.7M1056.8 1858.9v15.7" stroke="#cfcbd5" stroke-width="1.15" fill="none"/>
<path d="M206.9 1874.6v15.7M404.1 1874.6v15.7M535.1 1874.6v15.7M554.8 1874.6v15.7M631.8 1874.6v15.7M651.9 1874.6v15.7M665.6 1874.6v15.7M732.5 1874.6v15.7M752.6 1874.6v15.7M842.7 1874.6v15.7M878.1 1874.6v15.7M899.1 1874.6v15.7M1039.7 1874.6v15.7M1042.8 1874.6v15.7M1049.8 1874.6v15.7M1057.1 1874.6v15.7M1069.6 1874.6v15.7" stroke="#6fd9cb" stroke-width="1.15" fill="none"/>
<path d="M144.8 1890.3v15.7M155.1 1890.3v15.7M162.4 1890.3v15.7M164.5 1890.3v15.7M185.2 1890.3v15.7M190.4 1890.3v15.7M194.4 1890.3v15.7M195.9 1890.3v15.7M211.7 1890.3v15.7M214.8 1890.3v15.7M218.4 1890.3v15.7M224.5 1890.3v15.7M236.1 1890.3v15.7M237.1 1890.3v15.7M238.1 1890.3v15.7M239.1 1890.3v15.7M240.1 1890.3v15.7M241.1 1890.3v15.7M250.7 1890.3v15.7M260.4 1890.3v15.7M267.8 1890.3v15.7M274.1 1890.3v15.7M283 1890.3v15.7M318 1890.3v15.7M325.9 1890.3v15.7M332.3 1890.3v15.7M371.3 1890.3v15.7M428.5 1890.3v15.7M443.4 1890.3v15.7M501.9 1890.3v15.7M512.5 1890.3v15.7M552.4 1890.3v15.7M559.7 1890.3v15.7M585.2 1890.3v15.7M587.6 1890.3v15.7M633.9 1890.3v15.7M637.8 1890.3v15.7M670.7 1890.3v15.7M671.9 1890.3v15.7M690.5 1890.3v15.7M710.3 1890.3v15.7M718.8 1890.3v15.7M729.5 1890.3v15.7M750.2 1890.3v15.7M758.4 1890.3v15.7M762.7 1890.3v15.7M786.1 1890.3v15.7M820.8 1890.3v15.7M822 1890.3v15.7M830.3 1890.3v15.7M833.3 1890.3v15.7M942.9 1890.3v15.7M946.3 1890.3v15.7M961.8 1890.3v15.7M989.5 1890.3v15.7M997.1 1890.3v15.7M1018.4 1890.3v15.7M1039.7 1890.3v15.7M1041.2 1890.3v15.7M1047.3 1890.3v15.7M1054.3 1890.3v15.7M1059.5 1890.3v15.7M1062.6 1890.3v15.7M1064.1 1890.3v15.7M1067.1 1890.3v15.7M1068 1890.3v15.7M1068.9 1890.3v15.7M1069.9 1890.3v15.7M1070.8 1890.3v15.7M1071.7 1890.3v15.7M1072.6 1890.3v15.7" stroke="#dd55dd" stroke-width="1.15" fill="none"/>
<path d="M367 1906.1v15.7M384.1 1906.1v15.7M398.1 1906.1v15.7M425.5 1906.1v15.7M511.3 1906.1v15.7M746.5 1906.1v15.7M873.5 1906.1v15.7M889.9 1906.1v15.7M899.1 1906.1v15.7M920.7 1906.1v15.7M962.7 1906.1v15.7M971.8 1906.1v15.7M981.3 1906.1v15.7M1003.2 1906.1v15.7M1009 1906.1v15.7M1015.4 1906.1v15.7M1041.2 1906.1v15.7M1042.3 1906.1v15.7M1043.4 1906.1v15.7M1044.4 1906.1v15.7M1045.5 1906.1v15.7M1066.2 1906.1v15.7" stroke="#db8058" stroke-width="1.15" fill="none"/>
<path d="M155.1 1921.8v15.7M187.4 1921.8v15.7M222.7 1921.8v15.7M223.6 1921.8v15.7M246.4 1921.8v15.7M317.1 1921.8v15.7M404.1 1921.8v15.7M441.6 1921.8v15.7M454.1 1921.8v15.7M474.5 1921.8v15.7M514.4 1921.8v15.7M579.5 1921.8v15.7M580 1921.8v15.7M587.9 1921.8v15.7M619.9 1921.8v15.7M627.2 1921.8v15.7M630.2 1921.8v15.7M637.8 1921.8v15.7M664.3 1921.8v15.7M671.9 1921.8v15.7M683.5 1921.8v15.7M710.3 1921.8v15.7M729.5 1921.8v15.7M761.1 1921.8v15.7M774.8 1921.8v15.7M786.1 1921.8v15.7M866.5 1921.8v15.7M942.3 1921.8v15.7M957.5 1921.8v15.7M1019.6 1921.8v15.7M1042.2 1921.8v15.7M1045.2 1921.8v15.7M1069.6 1921.8v15.7M1072.6 1921.8v15.7" stroke="#cdd592" stroke-width="1.15" fill="none"/>
<path d="M311.6 1937.6v15.7M315.6 1937.6v15.7M772.7 1937.6v15.7M795.6 1937.6v15.7M867.7 1937.6v15.7M958.4 1937.6v15.7M960 1937.6v15.7M1000.1 1937.6v15.7M1002.6 1937.6v15.7M1016.9 1937.6v15.7M1019 1937.6v15.7M1023.9 1937.6v15.7M1025.1 1937.6v15.7M1041.9 1937.6v15.7M1043.7 1937.6v15.7M1054.9 1937.6v15.7M1056.5 1937.6v15.7M1068 1937.6v15.7M1072 1937.6v15.7" stroke="#7c93dc" stroke-width="1.15" fill="none"/>
<path d="M130.7 2127.3L131.3 2023.8L131.8 2032.6L132.7 2043.1L134.3 2052.8L136.9 2065.9L139.5 2073.8L143.9 2081.7L148.3 2086.7L152.7 2090.5L161.5 2095.8L175.5 2101.4L187.8 2105.1L205.4 2109L223 2111.6L240.5 2113.7L275.6 2116.9L310.8 2119.5L349.4 2121.6L400 2123.5L440 2125.2L480 2126.4L510 2127.3L540 2128.2L600 2129.6L700 2131.4L800 2132.5L900.1 2136.5L975.6 2140.7L1009 2143.4L1028.3 2146.5L1042.4 2150.9L1052.9 2156.2L1060 2162.4L1065.2 2170.3L1068.7 2180.8L1070.5 2193.1L1071.9 2212.4L1072.8 2233.5L1073.5 2259L1074 2259L1074 2127.3Z" fill="#bfbfbf"/>
</g>
<g id="ridge">
<path d="M1450.1 391.0V2294.7M1482.9 391.0V2294.7M1515.6 391.0V2294.7M1548.4 391.0V2294.7M1581.1 391.0V2294.7M1613.9 391.0V2294.7" stroke="#f0f0f0" stroke-width="0.7" fill="none"/>
<path d="M1433.8 391.0V2294.7M1466.5 391.0V2294.7M1499.2 391.0V2294.7M1532 391.0V2294.7M1564.8 391.0V2294.7M1597.5 391.0V2294.7M1630.2 391.0V2294.7M1431.7 437.8H1637.4M1431.7 500.6H1637.4M1431.7 563.3H1637.4M1431.7 626H1637.4M1431.7 688.8H1637.4M1431.7 751.5H1637.4M1431.7 814.3H1637.4M1431.7 877H1637.4M1431.7 939.8H1637.4M1431.7 1002.5H1637.4M1431.7 1065.3H1637.4M1431.7 1128H1637.4M1431.7 1190.8H1637.4M1431.7 1253.5H1637.4M1431.7 1316.3H1637.4M1431.7 1379H1637.4M1431.7 1441.8H1637.4M1431.7 1504.5H1637.4M1431.7 1567.3H1637.4M1431.7 1630H1637.4M1431.7 1692.8H1637.4M1431.7 1755.5H1637.4M1431.7 1818.3H1637.4M1431.7 1881H1637.4M1431.7 1943.8H1637.4M1431.7 2006.5H1637.4M1431.7 2069.3H1637.4M1431.7 2132.1H1637.4M1431.7 2194.8H1637.4M1431.7 2257.6H1637.4" stroke="#e9e9e9" stroke-width="1.2" fill="none"/>
<g stroke="#000" stroke-width="1.3" stroke-linejoin="round">
<path d="M1440.8 437.8L1441.8 437.8L1442.8 437.8L1443.8 437.8L1444.8 437.8L1445.7 437.8L1446.7 437.8L1447.7 437.8L1448.7 437.8L1449.7 437.8L1450.7 437.8L1451.7 437.8L1452.7 437.8L1453.7 437.8L1454.7 437.8L1455.6 437.8L1456.6 437.8L1457.6 437.8L1458.6 437.8L1459.6 437.8L1460.6 437.8L1461.6 437.8L1462.6 437.8L1463.6 437.8L1464.6 437.8L1465.5 437.8L1466.5 437.8L1467.5 437.8L1468.5 437.8L1469.5 437.8L1470.5 437.8L1471.5 437.8L1472.5 437.8L1473.5 437.8L1474.5 437.8L1475.5 437.8L1476.4 437.8L1477.4 437.8L1478.4 437.8L1479.4 437.8L1480.4 437.8L1481.4 437.8L1482.4 437.8L1483.4 437.8L1484.4 437.8L1485.4 437.8L1486.3 437.8L1487.3 437.8L1488.3 437.8L1489.3 437.8L1490.3 437.8L1491.3 437.8L1492.3 437.8L1493.3 437.8L1494.3 437.8L1495.3 437.8L1496.2 437.8L1497.2 437.8L1498.2 437.8L1499.2 437.8L1500.2 437.8L1501.2 437.8L1502.2 437.8L1503.2 437.8L1504.2 437.8L1505.2 437.8L1506.1 437.8L1507.1 437.8L1508.1 437.8L1509.1 437.8L1510.1 437.8L1511.1 437.8L1512.1 437.8L1513.1 437.8L1514.1 437.8L1515.1 437.8L1516.1 437.8L1517 437.8L1518 437.8L1519 437.8L1520 437.8L1521 437.8L1522 437.8L1523 437.8L1524 437.8L1525 437.8L1526 437.8L1526.9 437.8L1527.9 437.8L1528.9 437.8L1529.9 437.8L1530.9 437.7L1531.9 437.5L1532.9 437.2L1533.9 436.6L1534.9 435.5L1535.9 433.8L1536.8 431.3L1537.8 427.9L1538.8 423.6L1539.8 418.5L1540.8 413L1541.8 407.5L1542.8 402.5L1543.8 398.3L1544.8 395.1L1545.8 393.1L1546.7 392.1L1547.7 391.8L1548.7 392.1L1549.7 393.3L1550.7 395.3L1551.7 398L1552.7 401.2L1553.7 404.8L1554.7 408.6L1555.7 412.4L1556.7 416L1557.6 419.2L1558.6 422L1559.6 424.2L1560.6 425.8L1561.6 426.9L1562.6 427.4L1563.6 427.5L1564.6 427.4L1565.6 427.1L1566.6 426.8L1567.5 426.5L1568.5 426.2L1569.5 425.7L1570.5 425L1571.5 424.1L1572.5 423L1573.5 421.9L1574.5 420.9L1575.5 420.3L1576.5 420.2L1577.4 420.8L1578.4 422L1579.4 423.8L1580.4 425.9L1581.4 428.1L1582.4 430.3L1583.4 432.2L1584.4 433.8L1585.4 435L1586.4 435.8L1587.3 436.2L1588.3 436.3L1589.3 436L1590.3 435.3L1591.3 434.3L1592.3 432.9L1593.3 431.3L1594.3 429.5L1595.3 427.9L1596.3 426.5L1597.3 425.6L1598.2 425.3L1599.2 425.7L1600.2 426.7L1601.2 428.1L1602.2 429.8L1603.2 431.5L1604.2 433.1L1605.2 434.4L1606.2 435.3L1607.2 435.8L1608.1 436L1609.1 435.9L1610.1 435.5L1611.1 435.1L1612.1 434.6L1613.1 434.2L1614.1 434L1615.1 434L1616.1 434.3L1617.1 434.7L1618 435.3L1619 435.8L1620 436.4L1621 436.8L1622 437.2L1623 437.4L1624 437.6L1625 437.7L1626 437.7L1627 437.8L1627.9 437.8L1628.9 437.8" fill="#ff0000"/>
<path d="M1440.8 500.6L1441.8 500.6L1442.8 500.6L1443.8 500.6L1444.8 500.6L1445.7 500.6L1446.7 500.6L1447.7 500.6L1448.7 500.6L1449.7 500.6L1450.7 500.6L1451.7 500.6L1452.7 500.6L1453.7 500.6L1454.7 500.6L1455.6 500.6L1456.6 500.6L1457.6 500.6L1458.6 500.6L1459.6 500.6L1460.6 500.6L1461.6 500.6L1462.6 500.6L1463.6 500.6L1464.6 500.6L1465.5 500.6L1466.5 500.6L1467.5 500.6L1468.5 500.6L1469.5 500.6L1470.5 500.6L1471.5 500.6L1472.5 500.6L1473.5 500.6L1474.5 500.6L1475.5 500.6L1476.4 500.6L1477.4 500.6L1478.4 500.6L1479.4 500.6L1480.4 500.6L1481.4 500.6L1482.4 500.6L1483.4 500.6L1484.4 500.6L1485.4 500.6L1486.3 500.6L1487.3 500.6L1488.3 500.6L1489.3 500.6L1490.3 500.6L1491.3 500.6L1492.3 500.6L1493.3 500.6L1494.3 500.6L1495.3 500.6L1496.2 500.6L1497.2 500.6L1498.2 500.6L1499.2 500.6L1500.2 500.6L1501.2 500.6L1502.2 500.6L1503.2 500.6L1504.2 500.6L1505.2 500.6L1506.1 500.6L1507.1 500.6L1508.1 500.6L1509.1 500.6L1510.1 500.5L1511.1 500.5L1512.1 500.5L1513.1 500.5L1514.1 500.5L1515.1 500.5L1516.1 500.5L1517 500.5L1518 500.5L1519 500.5L1520 500.5L1521 500.5L1522 500.5L1523 500.5L1524 500.5L1525 500.5L1526 500.5L1526.9 500.5L1527.9 500.5L1528.9 500.5L1529.9 500.5L1530.9 500.5L1531.9 500.5L1532.9 500.3L1533.9 499.9L1534.9 499L1535.9 497.4L1536.8 494.7L1537.8 490.5L1538.8 484.8L1539.8 477.8L1540.8 470L1541.8 462.2L1542.8 455.1L1543.8 449.4L1544.8 445.2L1545.8 442.4L1546.7 440.5L1547.7 439.2L1548.7 439.1L1549.7 439.9L1550.7 441.6L1551.7 444L1552.7 446.9L1553.7 450.2L1554.7 453.7L1555.7 457.5L1556.7 461.5L1557.6 465.6L1558.6 469.8L1559.6 474L1560.6 478L1561.6 481.9L1562.6 485.3L1563.6 488.3L1564.6 490.8L1565.6 492.5L1566.6 493.6L1567.5 493.9L1568.5 493.5L1569.5 492.5L1570.5 491L1571.5 489.4L1572.5 487.8L1573.5 486.6L1574.5 486L1575.5 486.1L1576.5 486.9L1577.4 488.4L1578.4 490.3L1579.4 492.3L1580.4 494.3L1581.4 496L1582.4 497.5L1583.4 498.6L1584.4 499.3L1585.4 499.8L1586.4 500.1L1587.3 500.2L1588.3 500.1L1589.3 499.9L1590.3 499.5L1591.3 498.8L1592.3 497.9L1593.3 496.7L1594.3 495.4L1595.3 494L1596.3 492.7L1597.3 491.8L1598.2 491.4L1599.2 491.5L1600.2 492.2L1601.2 493.3L1602.2 494.7L1603.2 496.1L1604.2 497.3L1605.2 498.4L1606.2 499.2L1607.2 499.7L1608.1 500.1L1609.1 500.3L1610.1 500.4L1611.1 500.5L1612.1 500.5L1613.1 500.5L1614.1 500.5L1615.1 500.5L1616.1 500.5L1617.1 500.5L1618 500.5L1619 500.5L1620 500.5L1621 500.5L1622 500.5L1623 500.5L1624 500.5L1625 500.5L1626 500.5L1627 500.5L1627.9 500.5L1628.9 500.5" fill="#ff0000"/>
<path d="M1440.8 563.3L1441.8 563.3L1442.8 563.3L1443.8 563.3L1444.8 563.3L1445.7 563.3L1446.7 563.3L1447.7 563.3L1448.7 563.3L1449.7 563.3L1450.7 563.3L1451.7 563.3L1452.7 563.3L1453.7 563.3L1454.7 563.3L1455.6 563.3L1456.6 563.3L1457.6 563.3L1458.6 563.3L1459.6 563.3L1460.6 563.3L1461.6 563.3L1462.6 563.3L1463.6 563.3L1464.6 563.3L1465.5 563.3L1466.5 563.3L1467.5 563.3L1468.5 563.3L1469.5 563.3L1470.5 563.3L1471.5 563.3L1472.5 563.3L1473.5 563.3L1474.5 563.3L1475.5 563.3L1476.4 563.3L1477.4 563.3L1478.4 563.3L1479.4 563.3L1480.4 563.3L1481.4 563.3L1482.4 563.3L1483.4 563.3L1484.4 563.3L1485.4 563.3L1486.3 563.3L1487.3 563.3L1488.3 563.3L1489.3 563.3L1490.3 563.3L1491.3 563.3L1492.3 563.3L1493.3 563.3L1494.3 563.3L1495.3 563.3L1496.2 563.3L1497.2 563.3L1498.2 563.3L1499.2 563.3L1500.2 563.3L1501.2 563.3L1502.2 563.3L1503.2 563.3L1504.2 563.3L1505.2 563.3L1506.1 563.3L1507.1 563.3L1508.1 563.3L1509.1 563.3L1510.1 563.3L1511.1 563.3L1512.1 563.3L1513.1 563.3L1514.1 563.3L1515.1 563.3L1516.1 563.3L1517 563.3L1518 563.3L1519 563.3L1520 563.3L1521 563.3L1522 563.3L1523 563.3L1524 563.3L1525 563.3L1526 563.3L1526.9 563.3L1527.9 563.3L1528.9 563.3L1529.9 563.3L1530.9 563.3L1531.9 563.2L1532.9 563L1533.9 562.3L1534.9 561L1535.9 558.5L1536.8 554.4L1537.8 548.5L1538.8 541L1539.8 532.8L1540.8 524.8L1541.8 518.1L1542.8 513.1L1543.8 509.9L1544.8 507.8L1545.8 506.4L1546.7 506.2L1547.7 507L1548.7 508.6L1549.7 510.8L1550.7 513.5L1551.7 516.5L1552.7 519.8L1553.7 523.4L1554.7 527.4L1555.7 531.6L1556.7 535.9L1557.6 540.1L1558.6 544L1559.6 547.4L1560.6 550.3L1561.6 552.6L1562.6 554.4L1563.6 555.7L1564.6 556.7L1565.6 557.5L1566.6 558L1567.5 558.4L1568.5 558.4L1569.5 558L1570.5 557.1L1571.5 555.8L1572.5 554.2L1573.5 552.4L1574.5 550.7L1575.5 549.5L1576.5 548.8L1577.4 548.9L1578.4 549.7L1579.4 551.2L1580.4 553L1581.4 555.1L1582.4 557L1583.4 558.7L1584.4 560L1585.4 561L1586.4 561.5L1587.3 561.7L1588.3 561.5L1589.3 561.1L1590.3 560.4L1591.3 559.6L1592.3 558.7L1593.3 557.8L1594.3 557.1L1595.3 556.6L1596.3 556.3L1597.3 556.4L1598.2 556.8L1599.2 557.4L1600.2 558.2L1601.2 559.1L1602.2 560L1603.2 560.8L1604.2 561.4L1605.2 561.8L1606.2 562L1607.2 562L1608.1 561.8L1609.1 561.3L1610.1 560.7L1611.1 560L1612.1 559.4L1613.1 558.9L1614.1 558.6L1615.1 558.6L1616.1 558.9L1617.1 559.5L1618 560.2L1619 560.9L1620 561.5L1621 562.1L1622 562.5L1623 562.8L1624 563L1625 563.2L1626 563.2L1627 563.3L1627.9 563.3L1628.9 563.3" fill="#ff0000"/>
<path d="M1440.8 626L1441.8 626L1442.8 626L1443.8 626L1444.8 626L1445.7 626L1446.7 626L1447.7 626L1448.7 626L1449.7 626L1450.7 626L1451.7 626L1452.7 626L1453.7 626L1454.7 626L1455.6 626L1456.6 626L1457.6 626L1458.6 626L1459.6 626L1460.6 626L1461.6 626L1462.6 626L1463.6 626L1464.6 626L1465.5 626L1466.5 626L1467.5 626L1468.5 626L1469.5 626L1470.5 626L1471.5 626L1472.5 626L1473.5 626L1474.5 626L1475.5 626L1476.4 626L1477.4 626L1478.4 626L1479.4 626L1480.4 626L1481.4 626L1482.4 626L1483.4 626L1484.4 626L1485.4 626L1486.3 626L1487.3 626L1488.3 626L1489.3 626L1490.3 626L1491.3 626L1492.3 626L1493.3 626L1494.3 626L1495.3 626L1496.2 626L1497.2 626L1498.2 626L1499.2 626L1500.2 626L1501.2 626L1502.2 626L1503.2 626L1504.2 626L1505.2 626L1506.1 626L1507.1 626L1508.1 626L1509.1 626L1510.1 626L1511.1 626L1512.1 626L1513.1 626L1514.1 626L1515.1 626L1516.1 626L1517 626L1518 626L1519 626L1520 626L1521 626L1522 626L1523 626L1524 626L1525 626L1526 626L1526.9 626L1527.9 626L1528.9 625.8L1529.9 625.3L1530.9 624.3L1531.9 622.3L1532.9 619L1533.9 614.1L1534.9 607.6L1535.9 600L1536.8 592L1537.8 584.6L1538.8 578.5L1539.8 574.2L1540.8 571.6L1541.8 570L1542.8 569.3L1543.8 569.7L1544.8 571.2L1545.8 573.5L1546.7 576.3L1547.7 579.3L1548.7 582.4L1549.7 585.5L1550.7 588.5L1551.7 591.4L1552.7 594.3L1553.7 597.3L1554.7 600.4L1555.7 603.5L1556.7 606.5L1557.6 609.4L1558.6 612.1L1559.6 614.3L1560.6 616.2L1561.6 617.5L1562.6 618.3L1563.6 618.8L1564.6 619L1565.6 618.9L1566.6 618.8L1567.5 618.5L1568.5 618.2L1569.5 617.8L1570.5 617.4L1571.5 616.9L1572.5 616.4L1573.5 616L1574.5 615.9L1575.5 615.9L1576.5 616.4L1577.4 617.1L1578.4 618.1L1579.4 619.3L1580.4 620.6L1581.4 621.8L1582.4 622.9L1583.4 623.8L1584.4 624.5L1585.4 625L1586.4 625.3L1587.3 625.5L1588.3 625.5L1589.3 625.3L1590.3 624.9L1591.3 624.5L1592.3 623.8L1593.3 623.1L1594.3 622.3L1595.3 621.5L1596.3 620.9L1597.3 620.5L1598.2 620.4L1599.2 620.5L1600.2 621L1601.2 621.6L1602.2 622.4L1603.2 623.2L1604.2 623.9L1605.2 624.5L1606.2 624.9L1607.2 625.2L1608.1 625.3L1609.1 625.2L1610.1 625.1L1611.1 624.9L1612.1 624.7L1613.1 624.5L1614.1 624.5L1615.1 624.5L1616.1 624.6L1617.1 624.7L1618 625L1619 625.2L1620 625.4L1621 625.6L1622 625.8L1623 625.9L1624 626L1625 626L1626 626L1627 626L1627.9 626L1628.9 626" fill="#ff0000"/>
<path d="M1440.8 688.8L1441.8 688.8L1442.8 688.8L1443.8 688.8L1444.8 688.8L1445.7 688.8L1446.7 688.8L1447.7 688.8L1448.7 688.8L1449.7 688.8L1450.7 688.8L1451.7 688.8L1452.7 688.8L1453.7 688.8L1454.7 688.8L1455.6 688.8L1456.6 688.8L1457.6 688.8L1458.6 688.8L1459.6 688.8L1460.6 688.8L1461.6 688.8L1462.6 688.8L1463.6 688.8L1464.6 688.8L1465.5 688.8L1466.5 688.8L1467.5 688.8L1468.5 688.8L1469.5 688.8L1470.5 688.8L1471.5 688.8L1472.5 688.8L1473.5 688.8L1474.5 688.8L1475.5 688.8L1476.4 688.8L1477.4 688.8L1478.4 688.8L1479.4 688.8L1480.4 688.8L1481.4 688.8L1482.4 688.8L1483.4 688.8L1484.4 688.8L1485.4 688.8L1486.3 688.8L1487.3 688.8L1488.3 688.8L1489.3 688.8L1490.3 688.8L1491.3 688.8L1492.3 688.8L1493.3 688.8L1494.3 688.8L1495.3 688.8L1496.2 688.8L1497.2 688.8L1498.2 688.8L1499.2 688.8L1500.2 688.8L1501.2 688.8L1502.2 688.8L1503.2 688.8L1504.2 688.8L1505.2 688.8L1506.1 688.8L1507.1 688.8L1508.1 688.8L1509.1 688.8L1510.1 688.8L1511.1 688.8L1512.1 688.8L1513.1 688.8L1514.1 688.8L1515.1 688.8L1516.1 688.8L1517 688.8L1518 688.8L1519 688.8L1520 688.8L1521 688.8L1522 688.8L1523 688.8L1524 688.8L1525 688.8L1526 688.8L1526.9 688.7L1527.9 688.6L1528.9 688.3L1529.9 687.5L1530.9 685.7L1531.9 682.4L1532.9 677L1533.9 669.1L1534.9 659.3L1535.9 648.4L1536.8 637.9L1537.8 629.3L1538.8 623.2L1539.8 619.8L1540.8 618.3L1541.8 618.4L1542.8 620.6L1543.8 624.7L1544.8 630.2L1545.8 636.5L1546.7 643.1L1547.7 649.5L1548.7 655.3L1549.7 660.4L1550.7 664.6L1551.7 668L1552.7 670.6L1553.7 672.5L1554.7 674L1555.7 675.1L1556.7 676.1L1557.6 676.9L1558.6 677.7L1559.6 678.6L1560.6 679.6L1561.6 680.6L1562.6 681.8L1563.6 682.9L1564.6 684L1565.6 684.9L1566.6 685.8L1567.5 686.4L1568.5 686.8L1569.5 687L1570.5 687L1571.5 686.8L1572.5 686.4L1573.5 686L1574.5 685.5L1575.5 685.2L1576.5 684.9L1577.4 684.9L1578.4 685.1L1579.4 685.4L1580.4 685.9L1581.4 686.4L1582.4 686.9L1583.4 687.4L1584.4 687.8L1585.4 688L1586.4 688.1L1587.3 688.1L1588.3 687.8L1589.3 687.4L1590.3 686.8L1591.3 686.1L1592.3 685.1L1593.3 684.1L1594.3 683L1595.3 682L1596.3 681.2L1597.3 680.7L1598.2 680.5L1599.2 680.7L1600.2 681.3L1601.2 682.1L1602.2 683.2L1603.2 684.2L1604.2 685.2L1605.2 686L1606.2 686.6L1607.2 686.9L1608.1 687L1609.1 686.8L1610.1 686.4L1611.1 686L1612.1 685.5L1613.1 685.1L1614.1 684.9L1615.1 684.9L1616.1 685.2L1617.1 685.6L1618 686.2L1619 686.8L1620 687.3L1621 687.8L1622 688.2L1623 688.4L1624 688.6L1625 688.7L1626 688.7L1627 688.8L1627.9 688.8L1628.9 688.8" fill="#ff0000"/>
<path d="M1440.8 751.5L1441.8 751.5L1442.8 751.5L1443.8 751.5L1444.8 751.5L1445.7 751.5L1446.7 751.5L1447.7 751.5L1448.7 751.5L1449.7 751.5L1450.7 751.5L1451.7 751.5L1452.7 751.5L1453.7 751.5L1454.7 751.5L1455.6 751.5L1456.6 751.5L1457.6 751.5L1458.6 751.5L1459.6 751.5L1460.6 751.5L1461.6 751.5L1462.6 751.5L1463.6 751.5L1464.6 751.5L1465.5 751.5L1466.5 751.5L1467.5 751.5L1468.5 751.5L1469.5 751.5L1470.5 751.5L1471.5 751.5L1472.5 751.5L1473.5 751.5L1474.5 751.5L1475.5 751.5L1476.4 751.5L1477.4 751.5L1478.4 751.5L1479.4 751.5L1480.4 751.5L1481.4 751.5L1482.4 751.5L1483.4 751.5L1484.4 751.5L1485.4 751.5L1486.3 751.5L1487.3 751.5L1488.3 751.5L1489.3 751.5L1490.3 751.5L1491.3 751.5L1492.3 751.5L1493.3 751.5L1494.3 751.5L1495.3 751.5L1496.2 751.5L1497.2 751.5L1498.2 751.5L1499.2 751.5L1500.2 751.5L1501.2 751.5L1502.2 751.5L1503.2 751.5L1504.2 751.5L1505.2 751.5L1506.1 751.5L1507.1 751.5L1508.1 751.5L1509.1 751.5L1510.1 751.5L1511.1 751.5L1512.1 751.5L1513.1 751.5L1514.1 751.5L1515.1 751.5L1516.1 751.5L1517 751.5L1518 751.5L1519 751.5L1520 751.5L1521 751.5L1522 751.5L1523 751.5L1524 751.5L1525 751.5L1526 751.5L1526.9 751.4L1527.9 751.1L1528.9 750.4L1529.9 749.1L1530.9 746.9L1531.9 743.3L1532.9 738.1L1533.9 731.2L1534.9 723L1535.9 714L1536.8 705.1L1537.8 697.1L1538.8 690.8L1539.8 686.5L1540.8 684.3L1541.8 683.6L1542.8 683.8L1543.8 684.9L1544.8 687.1L1545.8 690.1L1546.7 693.8L1547.7 698.2L1548.7 702.9L1549.7 708L1550.7 713L1551.7 718L1552.7 722.8L1553.7 727.3L1554.7 731.3L1555.7 734.9L1556.7 738L1557.6 740.6L1558.6 742.6L1559.6 744.2L1560.6 745.4L1561.6 746.1L1562.6 746.5L1563.6 746.7L1564.6 746.6L1565.6 746.4L1566.6 746.2L1567.5 746L1568.5 745.9L1569.5 745.9L1570.5 746L1571.5 746.3L1572.5 746.6L1573.5 746.9L1574.5 747.3L1575.5 747.6L1576.5 747.9L1577.4 748.2L1578.4 748.4L1579.4 748.7L1580.4 749L1581.4 749.4L1582.4 749.8L1583.4 750.2L1584.4 750.5L1585.4 750.8L1586.4 751.1L1587.3 751.2L1588.3 751.3L1589.3 751.4L1590.3 751.3L1591.3 751.2L1592.3 751.1L1593.3 750.8L1594.3 750.5L1595.3 750.2L1596.3 749.9L1597.3 749.6L1598.2 749.4L1599.2 749.4L1600.2 749.4L1601.2 749.6L1602.2 749.9L1603.2 750.3L1604.2 750.6L1605.2 750.9L1606.2 751.1L1607.2 751.3L1608.1 751.4L1609.1 751.5L1610.1 751.5L1611.1 751.5L1612.1 751.5L1613.1 751.5L1614.1 751.5L1615.1 751.5L1616.1 751.5L1617.1 751.5L1618 751.5L1619 751.5L1620 751.5L1621 751.5L1622 751.5L1623 751.5L1624 751.5L1625 751.5L1626 751.5L1627 751.5L1627.9 751.5L1628.9 751.5" fill="#ff0000"/>
<path d="M1440.8 814.3L1441.8 814.3L1442.8 814.3L1443.8 814.3L1444.8 814.3L1445.7 814.3L1446.7 814.3L1447.7 814.3L1448.7 814.3L1449.7 814.3L1450.7 814.3L1451.7 814.3L1452.7 814.3L1453.7 814.3L1454.7 814.3L1455.6 814.3L1456.6 814.3L1457.6 814.3L1458.6 814.3L1459.6 814.3L1460.6 814.3L1461.6 814.3L1462.6 814.3L1463.6 814.3L1464.6 814.3L1465.5 814.3L1466.5 814.3L1467.5 814.3L1468.5 814.3L1469.5 814.3L1470.5 814.3L1471.5 814.3L1472.5 814.3L1473.5 814.3L1474.5 814.3L1475.5 814.3L1476.4 814.3L1477.4 814.3L1478.4 814.3L1479.4 814.3L1480.4 814.3L1481.4 814.3L1482.4 814.3L1483.4 814.3L1484.4 814.3L1485.4 814.3L1486.3 814.3L1487.3 814.3L1488.3 814.3L1489.3 814.3L1490.3 814.3L1491.3 814.3L1492.3 814.3L1493.3 814.3L1494.3 814.3L1495.3 814.3L1496.2 814.3L1497.2 814.3L1498.2 814.3L1499.2 814.3L1500.2 814.3L1501.2 814.3L1502.2 814.3L1503.2 814.3L1504.2 814.3L1505.2 814.3L1506.1 814.3L1507.1 814.3L1508.1 814.3L1509.1 814.3L1510.1 814.3L1511.1 814.3L1512.1 814.3L1513.1 814.3L1514.1 814.3L1515.1 814.3L1516.1 814.3L1517 814.3L1518 814.3L1519 814.3L1520 814.3L1521 814.3L1522 814.3L1523 814.3L1524 814.3L1525 814.2L1526 814.1L1526.9 813.7L1527.9 812.7L1528.9 810.8L1529.9 807.3L1530.9 801.8L1531.9 794L1532.9 784L1533.9 772.6L1534.9 761.1L1535.9 750.7L1536.8 742.6L1537.8 737.4L1538.8 734.8L1539.8 734.3L1540.8 735.1L1541.8 737.4L1542.8 741.2L1543.8 746.3L1544.8 752.3L1545.8 758.9L1546.7 765.9L1547.7 772.8L1548.7 779.5L1549.7 785.7L1550.7 791.2L1551.7 796.1L1552.7 800.2L1553.7 803.5L1554.7 806.1L1555.7 807.9L1556.7 809L1557.6 809.5L1558.6 809.5L1559.6 809.3L1560.6 809L1561.6 808.8L1562.6 809L1563.6 809.6L1564.6 810.4L1565.6 811.3L1566.6 812.2L1567.5 813L1568.5 813.5L1569.5 813.9L1570.5 814.1L1571.5 814.2L1572.5 814.3L1573.5 814.3L1574.5 814.3L1575.5 814.3L1576.5 814.3L1577.4 814.3L1578.4 814.3L1579.4 814.3L1580.4 814.3L1581.4 814.3L1582.4 814.3L1583.4 814.3L1584.4 814.3L1585.4 814.3L1586.4 814.3L1587.3 814.3L1588.3 814.3L1589.3 814.3L1590.3 814.3L1591.3 814.3L1592.3 814.3L1593.3 814.3L1594.3 814.3L1595.3 814.3L1596.3 814.3L1597.3 814.3L1598.2 814.3L1599.2 814.3L1600.2 814.3L1601.2 814.3L1602.2 814.3L1603.2 814.3L1604.2 814.3L1605.2 814.3L1606.2 814.3L1607.2 814.3L1608.1 814.3L1609.1 814.3L1610.1 814.3L1611.1 814.3L1612.1 814.3L1613.1 814.3L1614.1 814.3L1615.1 814.3L1616.1 814.3L1617.1 814.3L1618 814.3L1619 814.3L1620 814.3L1621 814.3L1622 814.3L1623 814.3L1624 814.3L1625 814.3L1626 814.3L1627 814.3L1627.9 814.3L1628.9 814.3" fill="#ff0000"/>
<path d="M1440.8 877L1441.8 877L1442.8 877L1443.8 877L1444.8 877L1445.7 877L1446.7 877L1447.7 877L1448.7 877L1449.7 877L1450.7 877L1451.7 877L1452.7 877L1453.7 877L1454.7 877L1455.6 877L1456.6 877L1457.6 877L1458.6 877L1459.6 877L1460.6 877L1461.6 877L1462.6 877L1463.6 877L1464.6 877L1465.5 877L1466.5 877L1467.5 877L1468.5 877L1469.5 877L1470.5 877L1471.5 877L1472.5 877L1473.5 877L1474.5 877L1475.5 877L1476.4 877L1477.4 877L1478.4 877L1479.4 877L1480.4 877L1481.4 877L1482.4 877L1483.4 877L1484.4 877L1485.4 877L1486.3 877L1487.3 877L1488.3 877L1489.3 877L1490.3 877L1491.3 877L1492.3 877L1493.3 877L1494.3 877L1495.3 877L1496.2 877L1497.2 877L1498.2 877L1499.2 877L1500.2 877L1501.2 877L1502.2 877L1503.2 877L1504.2 877L1505.2 877L1506.1 877L1507.1 877L1508.1 877L1509.1 877L1510.1 877L1511.1 877L1512.1 877L1513.1 877L1514.1 877L1515.1 877L1516.1 877L1517 877L1518 877L1519 877L1520 877L1521 877L1522 877L1523 877L1524 877L1525 877L1526 877L1526.9 877L1527.9 877L1528.9 876.9L1529.9 876.6L1530.9 875.9L1531.9 874.6L1532.9 872L1533.9 867.7L1534.9 861.3L1535.9 852.7L1536.8 842.3L1537.8 831.1L1538.8 820.1L1539.8 810.7L1540.8 803.6L1541.8 799.2L1542.8 797.3L1543.8 797.1L1544.8 798.3L1545.8 801.2L1546.7 805.6L1547.7 811.4L1548.7 818L1549.7 825.1L1550.7 832.5L1551.7 839.6L1552.7 846.3L1553.7 852.4L1554.7 857.7L1555.7 862.2L1556.7 865.9L1557.6 868.8L1558.6 871.1L1559.6 872.7L1560.6 873.9L1561.6 874.6L1562.6 874.9L1563.6 875L1564.6 874.8L1565.6 874.5L1566.6 874.1L1567.5 873.6L1568.5 873.2L1569.5 872.8L1570.5 872.6L1571.5 872.5L1572.5 872.7L1573.5 873L1574.5 873.4L1575.5 873.9L1576.5 874.5L1577.4 875L1578.4 875.5L1579.4 875.9L1580.4 876.2L1581.4 876.5L1582.4 876.7L1583.4 876.8L1584.4 876.9L1585.4 877L1586.4 877L1587.3 877L1588.3 877L1589.3 877L1590.3 877L1591.3 876.9L1592.3 876.7L1593.3 876.4L1594.3 876L1595.3 875.4L1596.3 874.7L1597.3 873.9L1598.2 873.2L1599.2 872.7L1600.2 872.5L1601.2 872.6L1602.2 873L1603.2 873.6L1604.2 874.4L1605.2 875.1L1606.2 875.7L1607.2 876.2L1608.1 876.6L1609.1 876.8L1610.1 876.9L1611.1 877L1612.1 877L1613.1 877L1614.1 877L1615.1 877L1616.1 877L1617.1 877L1618 877L1619 877L1620 877L1621 877L1622 877L1623 877L1624 877L1625 877L1626 877L1627 877L1627.9 877L1628.9 877" fill="#ff0000"/>
<path d="M1440.8 939.8L1441.8 939.8L1442.8 939.8L1443.8 939.8L1444.8 939.8L1445.7 939.8L1446.7 939.8L1447.7 939.8L1448.7 939.8L1449.7 939.8L1450.7 939.8L1451.7 939.8L1452.7 939.8L1453.7 939.8L1454.7 939.8L1455.6 939.8L1456.6 939.8L1457.6 939.8L1458.6 939.8L1459.6 939.8L1460.6 939.8L1461.6 939.8L1462.6 939.8L1463.6 939.8L1464.6 939.8L1465.5 939.8L1466.5 939.8L1467.5 939.8L1468.5 939.8L1469.5 939.8L1470.5 939.8L1471.5 939.8L1472.5 939.8L1473.5 939.8L1474.5 939.8L1475.5 939.8L1476.4 939.8L1477.4 939.8L1478.4 939.8L1479.4 939.8L1480.4 939.8L1481.4 939.8L1482.4 939.8L1483.4 939.8L1484.4 939.8L1485.4 939.8L1486.3 939.8L1487.3 939.8L1488.3 939.8L1489.3 939.8L1490.3 939.8L1491.3 939.8L1492.3 939.8L1493.3 939.8L1494.3 939.8L1495.3 939.8L1496.2 939.8L1497.2 939.8L1498.2 939.8L1499.2 939.8L1500.2 939.8L1501.2 939.8L1502.2 939.8L1503.2 939.8L1504.2 939.8L1505.2 939.8L1506.1 939.8L1507.1 939.8L1508.1 939.8L1509.1 939.8L1510.1 939.8L1511.1 939.8L1512.1 939.8L1513.1 939.8L1514.1 939.8L1515.1 939.8L1516.1 939.8L1517 939.8L1518 939.8L1519 939.8L1520 939.8L1521 939.8L1522 939.8L1523 939.8L1524 939.8L1525 939.8L1526 939.8L1526.9 939.8L1527.9 939.8L1528.9 939.8L1529.9 939.8L1530.9 939.8L1531.9 939.7L1532.9 939.5L1533.9 938.9L1534.9 937.8L1535.9 935.8L1536.8 932.4L1537.8 927.4L1538.8 920.8L1539.8 913L1540.8 904.8L1541.8 896.9L1542.8 890.3L1543.8 885.2L1544.8 881.8L1545.8 879.6L1546.7 878L1547.7 877.6L1548.7 878.1L1549.7 879.7L1550.7 882L1551.7 885L1552.7 888.5L1553.7 892.5L1554.7 896.8L1555.7 901.3L1556.7 905.9L1557.6 910.5L1558.6 914.9L1559.6 918.9L1560.6 922.5L1561.6 925.3L1562.6 927.5L1563.6 929L1564.6 929.9L1565.6 930.4L1566.6 930.6L1567.5 930.5L1568.5 930.4L1569.5 930.1L1570.5 929.7L1571.5 929.2L1572.5 928.7L1573.5 928.2L1574.5 928L1575.5 928.1L1576.5 928.6L1577.4 929.6L1578.4 930.9L1579.4 932.5L1580.4 934L1581.4 935.5L1582.4 936.8L1583.4 937.8L1584.4 938.5L1585.4 939L1586.4 939.3L1587.3 939.4L1588.3 939.3L1589.3 939.1L1590.3 938.6L1591.3 937.9L1592.3 936.9L1593.3 935.6L1594.3 934.2L1595.3 932.6L1596.3 931.3L1597.3 930.3L1598.2 929.8L1599.2 930L1600.2 930.7L1601.2 931.9L1602.2 933.4L1603.2 934.9L1604.2 936.3L1605.2 937.5L1606.2 938.3L1607.2 938.9L1608.1 939.3L1609.1 939.5L1610.1 939.7L1611.1 939.7L1612.1 939.8L1613.1 939.8L1614.1 939.8L1615.1 939.8L1616.1 939.8L1617.1 939.8L1618 939.8L1619 939.8L1620 939.8L1621 939.8L1622 939.8L1623 939.8L1624 939.8L1625 939.8L1626 939.8L1627 939.8L1627.9 939.8L1628.9 939.8" fill="#ff0000"/>
<path d="M1440.8 1002.5L1441.8 1002.5L1442.8 1002.5L1443.8 1002.5L1444.8 1002.5L1445.7 1002.5L1446.7 1002.5L1447.7 1002.5L1448.7 1002.5L1449.7 1002.5L1450.7 1002.5L1451.7 1002.5L1452.7 1002.5L1453.7 1002.5L1454.7 1002.5L1455.6 1002.5L1456.6 1002.5L1457.6 1002.5L1458.6 1002.5L1459.6 1002.5L1460.6 1002.5L1461.6 1002.5L1462.6 1002.5L1463.6 1002.5L1464.6 1002.5L1465.5 1002.5L1466.5 1002.5L1467.5 1002.5L1468.5 1002.5L1469.5 1002.5L1470.5 1002.5L1471.5 1002.5L1472.5 1002.5L1473.5 1002.5L1474.5 1002.5L1475.5 1002.5L1476.4 1002.5L1477.4 1002.5L1478.4 1002.5L1479.4 1002.5L1480.4 1002.5L1481.4 1002.5L1482.4 1002.5L1483.4 1002.5L1484.4 1002.5L1485.4 1002.5L1486.3 1002.5L1487.3 1002.5L1488.3 1002.5L1489.3 1002.5L1490.3 1002.5L1491.3 1002.5L1492.3 1002.5L1493.3 1002.5L1494.3 1002.5L1495.3 1002.5L1496.2 1002.5L1497.2 1002.5L1498.2 1002.5L1499.2 1002.5L1500.2 1002.5L1501.2 1002.5L1502.2 1002.5L1503.2 1002.5L1504.2 1002.5L1505.2 1002.5L1506.1 1002.5L1507.1 1002.5L1508.1 1002.5L1509.1 1002.5L1510.1 1002.5L1511.1 1002.5L1512.1 1002.5L1513.1 1002.5L1514.1 1002.5L1515.1 1002.5L1516.1 1002.5L1517 1002.5L1518 1002.5L1519 1002.5L1520 1002.5L1521 1002.5L1522 1002.5L1523 1002.5L1524 1002.5L1525 1002.5L1526 1002.5L1526.9 1002.3L1527.9 1002L1528.9 1001.3L1529.9 999.9L1530.9 997.4L1531.9 993.5L1532.9 987.7L1533.9 980.1L1534.9 971.1L1535.9 961.1L1536.8 951.3L1537.8 942.5L1538.8 935.6L1539.8 930.9L1540.8 928.4L1541.8 927.6L1542.8 927.8L1543.8 929.2L1544.8 931.8L1545.8 935.3L1546.7 939.8L1547.7 944.9L1548.7 950.5L1549.7 956.3L1550.7 962.1L1551.7 967.8L1552.7 973.2L1553.7 978.1L1554.7 982.6L1555.7 986.5L1556.7 989.8L1557.6 992.7L1558.6 995L1559.6 996.8L1560.6 998.3L1561.6 999.4L1562.6 1000.2L1563.6 1000.8L1564.6 1001.1L1565.6 1001.1L1566.6 1000.9L1567.5 1000.5L1568.5 1000L1569.5 999.4L1570.5 998.9L1571.5 998.6L1572.5 998.5L1573.5 998.7L1574.5 999.2L1575.5 999.8L1576.5 1000.5L1577.4 1001.1L1578.4 1001.6L1579.4 1002L1580.4 1002.2L1581.4 1002.4L1582.4 1002.4L1583.4 1002.4L1584.4 1002.4L1585.4 1002.2L1586.4 1002L1587.3 1001.6L1588.3 1001.2L1589.3 1000.5L1590.3 999.9L1591.3 999.3L1592.3 998.8L1593.3 998.6L1594.3 998.6L1595.3 999L1596.3 999.5L1597.3 1000.2L1598.2 1000.8L1599.2 1001.4L1600.2 1001.8L1601.2 1002.1L1602.2 1002.3L1603.2 1002.4L1604.2 1002.5L1605.2 1002.5L1606.2 1002.5L1607.2 1002.5L1608.1 1002.5L1609.1 1002.5L1610.1 1002.5L1611.1 1002.5L1612.1 1002.5L1613.1 1002.5L1614.1 1002.5L1615.1 1002.5L1616.1 1002.5L1617.1 1002.5L1618 1002.5L1619 1002.5L1620 1002.5L1621 1002.5L1622 1002.5L1623 1002.5L1624 1002.5L1625 1002.5L1626 1002.5L1627 1002.5L1627.9 1002.5L1628.9 1002.5" fill="#ff0000"/>
<path d="M1440.8 1065.3L1441.8 1065.3L1442.8 1065.3L1443.8 1065.3L1444.8 1065.3L1445.7 1065.3L1446.7 1065.3L1447.7 1065.3L1448.7 1065.3L1449.7 1065.3L1450.7 1065.3L1451.7 1065.3L1452.7 1065.3L1453.7 1065.3L1454.7 1065.3L1455.6 1065.3L1456.6 1065.3L1457.6 1065.3L1458.6 1065.3L1459.6 1065.3L1460.6 1065.3L1461.6 1065.3L1462.6 1065.3L1463.6 1065.3L1464.6 1065.3L1465.5 1065.3L1466.5 1065.3L1467.5 1065.3L1468.5 1065.3L1469.5 1065.3L1470.5 1065.3L1471.5 1065.3L1472.5 1065.3L1473.5 1065.3L1474.5 1065.3L1475.5 1065.3L1476.4 1065.3L1477.4 1065.3L1478.4 1065.3L1479.4 1065.3L1480.4 1065.3L1481.4 1065.3L1482.4 1065.3L1483.4 1065.3L1484.4 1065.3L1485.4 1065.3L1486.3 1065.3L1487.3 1065.3L1488.3 1065.3L1489.3 1065.3L1490.3 1065.3L1491.3 1065.3L1492.3 1065.3L1493.3 1065.3L1494.3 1065.3L1495.3 1065.3L1496.2 1065.3L1497.2 1065.3L1498.2 1065.3L1499.2 1065.3L1500.2 1065.3L1501.2 1065.3L1502.2 1065.3L1503.2 1065.3L1504.2 1065.3L1505.2 1065.3L1506.1 1065.3L1507.1 1065.3L1508.1 1065.3L1509.1 1065.3L1510.1 1065.3L1511.1 1065.3L1512.1 1065.3L1513.1 1065.3L1514.1 1065.3L1515.1 1065.3L1516.1 1065.3L1517 1065.3L1518 1065.3L1519 1065.3L1520 1065.3L1521 1065.3L1522 1065.3L1523 1065.3L1524 1065.3L1525 1065.3L1526 1065.3L1526.9 1065.3L1527.9 1065.2L1528.9 1065.1L1529.9 1064.7L1530.9 1063.8L1531.9 1062.1L1532.9 1059L1533.9 1054.3L1534.9 1047.9L1535.9 1040L1536.8 1031.3L1537.8 1022.9L1538.8 1015.5L1539.8 1009.9L1540.8 1006L1541.8 1003.5L1542.8 1001.7L1543.8 1001.1L1544.8 1001.8L1545.8 1003.3L1546.7 1005.5L1547.7 1008.1L1548.7 1010.9L1549.7 1013.8L1550.7 1016.6L1551.7 1019.3L1552.7 1022.2L1553.7 1025.1L1554.7 1028.2L1555.7 1031.5L1556.7 1034.9L1557.6 1038.5L1558.6 1042.2L1559.6 1045.7L1560.6 1049.1L1561.6 1052.2L1562.6 1054.9L1563.6 1057.2L1564.6 1059.1L1565.6 1060.5L1566.6 1061.5L1567.5 1062L1568.5 1062.1L1569.5 1061.9L1570.5 1061.4L1571.5 1060.8L1572.5 1060L1573.5 1059.4L1574.5 1058.9L1575.5 1058.8L1576.5 1058.9L1577.4 1059.4L1578.4 1060.1L1579.4 1061L1580.4 1061.9L1581.4 1062.8L1582.4 1063.5L1583.4 1064L1584.4 1064.4L1585.4 1064.7L1586.4 1064.8L1587.3 1064.8L1588.3 1064.7L1589.3 1064.5L1590.3 1064.2L1591.3 1063.9L1592.3 1063.6L1593.3 1063.2L1594.3 1062.9L1595.3 1062.7L1596.3 1062.5L1597.3 1062.5L1598.2 1062.6L1599.2 1062.7L1600.2 1063L1601.2 1063.3L1602.2 1063.6L1603.2 1064L1604.2 1064.3L1605.2 1064.6L1606.2 1064.8L1607.2 1064.9L1608.1 1065.1L1609.1 1065.2L1610.1 1065.2L1611.1 1065.3L1612.1 1065.3L1613.1 1065.3L1614.1 1065.3L1615.1 1065.3L1616.1 1065.3L1617.1 1065.3L1618 1065.3L1619 1065.3L1620 1065.3L1621 1065.3L1622 1065.3L1623 1065.3L1624 1065.3L1625 1065.3L1626 1065.3L1627 1065.3L1627.9 1065.3L1628.9 1065.3" fill="#ff0000"/>
<path d="M1440.8 1128L1441.8 1128L1442.8 1128L1443.8 1128L1444.8 1128L1445.7 1128L1446.7 1128L1447.7 1128L1448.7 1128L1449.7 1128L1450.7 1128L1451.7 1128L1452.7 1128L1453.7 1128L1454.7 1128L1455.6 1128L1456.6 1128L1457.6 1128L1458.6 1128L1459.6 1128L1460.6 1128L1461.6 1128L1462.6 1128L1463.6 1128L1464.6 1128L1465.5 1128L1466.5 1128L1467.5 1128L1468.5 1128L1469.5 1128L1470.5 1128L1471.5 1128L1472.5 1128L1473.5 1128L1474.5 1128L1475.5 1128L1476.4 1128L1477.4 1128L1478.4 1128L1479.4 1128L1480.4 1128L1481.4 1128L1482.4 1128L1483.4 1128L1484.4 1128L1485.4 1128L1486.3 1128L1487.3 1128L1488.3 1128L1489.3 1128L1490.3 1128L1491.3 1128L1492.3 1128L1493.3 1128L1494.3 1128L1495.3 1128L1496.2 1128L1497.2 1128L1498.2 1128L1499.2 1128L1500.2 1128L1501.2 1128L1502.2 1128L1503.2 1128L1504.2 1128L1505.2 1128L1506.1 1128L1507.1 1128L1508.1 1128L1509.1 1128L1510.1 1128L1511.1 1128L1512.1 1128L1513.1 1128L1514.1 1128L1515.1 1128L1516.1 1128L1517 1128L1518 1128L1519 1128L1520 1128L1521 1128L1522 1128L1523 1128L1524 1128L1525 1128L1526 1128L1526.9 1128L1527.9 1128L1528.9 1128L1529.9 1127.8L1530.9 1127.2L1531.9 1125.7L1532.9 1122.7L1533.9 1117.3L1534.9 1108.9L1535.9 1097.7L1536.8 1084.4L1537.8 1071.1L1538.8 1059.4L1539.8 1051L1540.8 1046.3L1541.8 1044.7L1542.8 1045L1543.8 1047.6L1544.8 1052.3L1545.8 1058.7L1546.7 1066L1547.7 1073.5L1548.7 1080.6L1549.7 1086.9L1550.7 1092L1551.7 1096.1L1552.7 1099.1L1553.7 1101.4L1554.7 1103.3L1555.7 1105.1L1556.7 1107L1557.6 1109.1L1558.6 1111.5L1559.6 1114L1560.6 1116.5L1561.6 1118.9L1562.6 1121.1L1563.6 1122.9L1564.6 1124.4L1565.6 1125.4L1566.6 1126.1L1567.5 1126.5L1568.5 1126.5L1569.5 1126.4L1570.5 1126.1L1571.5 1125.9L1572.5 1125.7L1573.5 1125.8L1574.5 1126L1575.5 1126.3L1576.5 1126.8L1577.4 1127.2L1578.4 1127.5L1579.4 1127.7L1580.4 1127.9L1581.4 1128L1582.4 1128L1583.4 1128L1584.4 1128L1585.4 1128L1586.4 1128L1587.3 1128L1588.3 1128L1589.3 1128L1590.3 1128L1591.3 1128L1592.3 1128L1593.3 1128L1594.3 1128L1595.3 1128L1596.3 1128L1597.3 1128L1598.2 1128L1599.2 1128L1600.2 1128L1601.2 1128L1602.2 1128L1603.2 1128L1604.2 1128L1605.2 1128L1606.2 1128L1607.2 1128L1608.1 1128L1609.1 1128L1610.1 1128L1611.1 1128L1612.1 1128L1613.1 1128L1614.1 1128L1615.1 1128L1616.1 1128L1617.1 1128L1618 1128L1619 1128L1620 1128L1621 1128L1622 1128L1623 1128L1624 1128L1625 1128L1626 1128L1627 1128L1627.9 1128L1628.9 1128" fill="#ff0000"/>
<path d="M1440.8 1190.8L1441.8 1190.8L1442.8 1190.8L1443.8 1190.8L1444.8 1190.8L1445.7 1190.8L1446.7 1190.8L1447.7 1190.8L1448.7 1190.8L1449.7 1190.8L1450.7 1190.8L1451.7 1190.8L1452.7 1190.8L1453.7 1190.8L1454.7 1190.8L1455.6 1190.8L1456.6 1190.8L1457.6 1190.8L1458.6 1190.8L1459.6 1190.8L1460.6 1190.8L1461.6 1190.8L1462.6 1190.8L1463.6 1190.8L1464.6 1190.8L1465.5 1190.8L1466.5 1190.8L1467.5 1190.8L1468.5 1190.8L1469.5 1190.8L1470.5 1190.8L1471.5 1190.8L1472.5 1190.8L1473.5 1190.8L1474.5 1190.8L1475.5 1190.8L1476.4 1190.8L1477.4 1190.8L1478.4 1190.8L1479.4 1190.8L1480.4 1190.8L1481.4 1190.8L1482.4 1190.8L1483.4 1190.8L1484.4 1190.8L1485.4 1190.8L1486.3 1190.8L1487.3 1190.8L1488.3 1190.8L1489.3 1190.8L1490.3 1190.8L1491.3 1190.8L1492.3 1190.8L1493.3 1190.8L1494.3 1190.8L1495.3 1190.8L1496.2 1190.8L1497.2 1190.8L1498.2 1190.8L1499.2 1190.8L1500.2 1190.8L1501.2 1190.8L1502.2 1190.8L1503.2 1190.8L1504.2 1190.8L1505.2 1190.8L1506.1 1190.8L1507.1 1190.8L1508.1 1190.8L1509.1 1190.8L1510.1 1190.8L1511.1 1190.8L1512.1 1190.8L1513.1 1190.8L1514.1 1190.8L1515.1 1190.8L1516.1 1190.8L1517 1190.8L1518 1190.8L1519 1190.8L1520 1190.8L1521 1190.8L1522 1190.8L1523 1190.8L1524 1190.8L1525 1190.8L1526 1190.8L1526.9 1190.8L1527.9 1190.7L1528.9 1190.5L1529.9 1190L1530.9 1189.1L1531.9 1187.4L1532.9 1184.7L1533.9 1180.5L1534.9 1174.6L1535.9 1167.2L1536.8 1158.4L1537.8 1149L1538.8 1139.7L1539.8 1131.3L1540.8 1124.5L1541.8 1119.8L1542.8 1117L1543.8 1115.9L1544.8 1115.9L1545.8 1116.8L1546.7 1118.8L1547.7 1121.9L1548.7 1125.8L1549.7 1130.4L1550.7 1135.5L1551.7 1141L1552.7 1146.6L1553.7 1152.1L1554.7 1157.5L1555.7 1162.6L1556.7 1167.2L1557.6 1171.4L1558.6 1175.1L1559.6 1178.3L1560.6 1180.9L1561.6 1183.2L1562.6 1185L1563.6 1186.4L1564.6 1187.6L1565.6 1188.5L1566.6 1189.1L1567.5 1189.6L1568.5 1190L1569.5 1190.2L1570.5 1190.4L1571.5 1190.5L1572.5 1190.6L1573.5 1190.7L1574.5 1190.7L1575.5 1190.7L1576.5 1190.8L1577.4 1190.7L1578.4 1190.7L1579.4 1190.6L1580.4 1190.5L1581.4 1190.3L1582.4 1189.9L1583.4 1189.5L1584.4 1189L1585.4 1188.5L1586.4 1188L1587.3 1187.6L1588.3 1187.3L1589.3 1187.3L1590.3 1187.5L1591.3 1187.9L1592.3 1188.3L1593.3 1188.9L1594.3 1189.4L1595.3 1189.8L1596.3 1190.2L1597.3 1190.4L1598.2 1190.6L1599.2 1190.7L1600.2 1190.7L1601.2 1190.8L1602.2 1190.8L1603.2 1190.8L1604.2 1190.8L1605.2 1190.8L1606.2 1190.8L1607.2 1190.8L1608.1 1190.8L1609.1 1190.8L1610.1 1190.8L1611.1 1190.8L1612.1 1190.8L1613.1 1190.8L1614.1 1190.8L1615.1 1190.8L1616.1 1190.8L1617.1 1190.8L1618 1190.8L1619 1190.8L1620 1190.8L1621 1190.8L1622 1190.8L1623 1190.8L1624 1190.8L1625 1190.8L1626 1190.8L1627 1190.8L1627.9 1190.8L1628.9 1190.8" fill="#ff0000"/>
<path d="M1440.8 1253.5L1441.8 1253.5L1442.8 1253.5L1443.8 1253.5L1444.8 1253.5L1445.7 1253.5L1446.7 1253.5L1447.7 1253.5L1448.7 1253.5L1449.7 1253.5L1450.7 1253.5L1451.7 1253.5L1452.7 1253.5L1453.7 1253.5L1454.7 1253.5L1455.6 1253.5L1456.6 1253.5L1457.6 1253.5L1458.6 1253.5L1459.6 1253.5L1460.6 1253.5L1461.6 1253.5L1462.6 1253.5L1463.6 1253.5L1464.6 1253.5L1465.5 1253.5L1466.5 1253.5L1467.5 1253.5L1468.5 1253.5L1469.5 1253.5L1470.5 1253.5L1471.5 1253.5L1472.5 1253.5L1473.5 1253.5L1474.5 1253.5L1475.5 1253.5L1476.4 1253.5L1477.4 1253.5L1478.4 1253.5L1479.4 1253.5L1480.4 1253.5L1481.4 1253.5L1482.4 1253.5L1483.4 1253.5L1484.4 1253.5L1485.4 1253.5L1486.3 1253.5L1487.3 1253.5L1488.3 1253.5L1489.3 1253.5L1490.3 1253.5L1491.3 1253.5L1492.3 1253.5L1493.3 1253.5L1494.3 1253.5L1495.3 1253.5L1496.2 1253.5L1497.2 1253.5L1498.2 1253.5L1499.2 1253.5L1500.2 1253.5L1501.2 1253.5L1502.2 1253.5L1503.2 1253.5L1504.2 1253.5L1505.2 1253.5L1506.1 1253.5L1507.1 1253.5L1508.1 1253.5L1509.1 1253.5L1510.1 1253.5L1511.1 1253.5L1512.1 1253.5L1513.1 1253.5L1514.1 1253.5L1515.1 1253.5L1516.1 1253.5L1517 1253.5L1518 1253.5L1519 1253.5L1520 1253.5L1521 1253.5L1522 1253.5L1523 1253.5L1524 1253.5L1525 1253.5L1526 1253.5L1526.9 1253.4L1527.9 1253L1528.9 1252.1L1529.9 1250.1L1530.9 1246.5L1531.9 1240.5L1532.9 1232L1533.9 1221.2L1534.9 1209.2L1535.9 1197.4L1536.8 1187.5L1537.8 1180.3L1538.8 1176.3L1539.8 1174.7L1540.8 1174.6L1541.8 1176.6L1542.8 1180.5L1543.8 1185.8L1544.8 1191.9L1545.8 1198.5L1546.7 1204.9L1547.7 1210.8L1548.7 1216.1L1549.7 1220.7L1550.7 1224.8L1551.7 1228.3L1552.7 1231.6L1553.7 1234.6L1554.7 1237.4L1555.7 1239.9L1556.7 1242L1557.6 1243.7L1558.6 1244.9L1559.6 1245.6L1560.6 1246.2L1561.6 1246.6L1562.6 1247.2L1563.6 1248L1564.6 1249L1565.6 1250.1L1566.6 1251.1L1567.5 1252L1568.5 1252.6L1569.5 1253L1570.5 1253.3L1571.5 1253.4L1572.5 1253.5L1573.5 1253.5L1574.5 1253.5L1575.5 1253.5L1576.5 1253.5L1577.4 1253.5L1578.4 1253.5L1579.4 1253.5L1580.4 1253.5L1581.4 1253.5L1582.4 1253.5L1583.4 1253.5L1584.4 1253.5L1585.4 1253.5L1586.4 1253.5L1587.3 1253.5L1588.3 1253.5L1589.3 1253.4L1590.3 1253.2L1591.3 1253L1592.3 1252.7L1593.3 1252.3L1594.3 1251.7L1595.3 1251.1L1596.3 1250.6L1597.3 1250.1L1598.2 1249.7L1599.2 1249.6L1600.2 1249.8L1601.2 1250.1L1602.2 1250.6L1603.2 1251.2L1604.2 1251.7L1605.2 1252.1L1606.2 1252.4L1607.2 1252.4L1608.1 1252.2L1609.1 1251.9L1610.1 1251.4L1611.1 1250.8L1612.1 1250.3L1613.1 1249.9L1614.1 1249.7L1615.1 1249.7L1616.1 1249.9L1617.1 1250.4L1618 1250.9L1619 1251.5L1620 1252.1L1621 1252.6L1622 1252.9L1623 1253.2L1624 1253.3L1625 1253.4L1626 1253.5L1627 1253.5L1627.9 1253.5L1628.9 1253.5" fill="#ff0000"/>
<path d="M1440.8 1316.3L1441.8 1316.3L1442.8 1316.3L1443.8 1316.3L1444.8 1316.3L1445.7 1316.3L1446.7 1316.3L1447.7 1316.3L1448.7 1316.3L1449.7 1316.3L1450.7 1316.3L1451.7 1316.3L1452.7 1316.3L1453.7 1316.3L1454.7 1316.3L1455.6 1316.3L1456.6 1316.3L1457.6 1316.3L1458.6 1316.3L1459.6 1316.3L1460.6 1316.3L1461.6 1316.3L1462.6 1316.3L1463.6 1316.3L1464.6 1316.3L1465.5 1316.3L1466.5 1316.3L1467.5 1316.3L1468.5 1316.3L1469.5 1316.3L1470.5 1316.3L1471.5 1316.3L1472.5 1316.3L1473.5 1316.3L1474.5 1316.3L1475.5 1316.3L1476.4 1316.3L1477.4 1316.3L1478.4 1316.3L1479.4 1316.3L1480.4 1316.3L1481.4 1316.3L1482.4 1316.3L1483.4 1316.3L1484.4 1316.3L1485.4 1316.3L1486.3 1316.3L1487.3 1316.3L1488.3 1316.3L1489.3 1316.3L1490.3 1316.3L1491.3 1316.3L1492.3 1316.3L1493.3 1316.3L1494.3 1316.3L1495.3 1316.3L1496.2 1316.3L1497.2 1316.3L1498.2 1316.3L1499.2 1316.3L1500.2 1316.3L1501.2 1316.3L1502.2 1316.3L1503.2 1316.3L1504.2 1316.3L1505.2 1316.3L1506.1 1316.3L1507.1 1316.3L1508.1 1316.3L1509.1 1316.3L1510.1 1316.3L1511.1 1316.3L1512.1 1316.3L1513.1 1316.3L1514.1 1316.3L1515.1 1316.3L1516.1 1316.3L1517 1316.3L1518 1316.3L1519 1316.3L1520 1316.3L1521 1316.3L1522 1316.3L1523 1316.3L1524 1316.3L1525 1316.3L1526 1316.3L1526.9 1316.3L1527.9 1316.3L1528.9 1316.3L1529.9 1316.3L1530.9 1316.3L1531.9 1316.2L1532.9 1315.9L1533.9 1315.3L1534.9 1313.9L1535.9 1311.2L1536.8 1306.9L1537.8 1300.6L1538.8 1292.6L1539.8 1283.9L1540.8 1275.4L1541.8 1268.3L1542.8 1262.9L1543.8 1259.4L1544.8 1257L1545.8 1255.3L1546.7 1254.9L1547.7 1255.5L1548.7 1256.9L1549.7 1259L1550.7 1261.5L1551.7 1264.5L1552.7 1267.9L1553.7 1271.8L1554.7 1276.1L1555.7 1280.8L1556.7 1285.7L1557.6 1290.6L1558.6 1295.2L1559.6 1299.3L1560.6 1302.8L1561.6 1305.4L1562.6 1307.1L1563.6 1308.2L1564.6 1308.6L1565.6 1308.6L1566.6 1308.3L1567.5 1307.9L1568.5 1307.5L1569.5 1307.1L1570.5 1306.7L1571.5 1306.1L1572.5 1305.6L1573.5 1305.2L1574.5 1305L1575.5 1305.1L1576.5 1305.6L1577.4 1306.6L1578.4 1307.8L1579.4 1309.3L1580.4 1310.8L1581.4 1312.2L1582.4 1313.4L1583.4 1314.4L1584.4 1315.1L1585.4 1315.5L1586.4 1315.8L1587.3 1315.9L1588.3 1315.8L1589.3 1315.6L1590.3 1315.1L1591.3 1314.4L1592.3 1313.5L1593.3 1312.2L1594.3 1310.8L1595.3 1309.3L1596.3 1307.9L1597.3 1307L1598.2 1306.5L1599.2 1306.7L1600.2 1307.4L1601.2 1308.6L1602.2 1310L1603.2 1311.5L1604.2 1312.9L1605.2 1314L1606.2 1314.8L1607.2 1315.4L1608.1 1315.8L1609.1 1316.1L1610.1 1316.2L1611.1 1316.2L1612.1 1316.3L1613.1 1316.3L1614.1 1316.3L1615.1 1316.3L1616.1 1316.3L1617.1 1316.3L1618 1316.3L1619 1316.3L1620 1316.3L1621 1316.3L1622 1316.3L1623 1316.3L1624 1316.3L1625 1316.3L1626 1316.3L1627 1316.3L1627.9 1316.3L1628.9 1316.3" fill="#ff0000"/>
<path d="M1440.8 1379L1441.8 1379L1442.8 1379L1443.8 1379L1444.8 1379L1445.7 1379L1446.7 1379L1447.7 1379L1448.7 1379L1449.7 1379L1450.7 1379L1451.7 1379L1452.7 1379L1453.7 1379L1454.7 1379L1455.6 1379L1456.6 1379L1457.6 1379L1458.6 1379L1459.6 1379L1460.6 1379L1461.6 1379L1462.6 1379L1463.6 1379L1464.6 1379L1465.5 1379L1466.5 1379L1467.5 1379L1468.5 1379L1469.5 1379L1470.5 1379L1471.5 1379L1472.5 1379L1473.5 1379L1474.5 1379L1475.5 1379L1476.4 1379L1477.4 1379L1478.4 1379L1479.4 1379L1480.4 1379L1481.4 1379L1482.4 1379L1483.4 1379L1484.4 1379L1485.4 1379L1486.3 1379L1487.3 1379L1488.3 1379L1489.3 1379L1490.3 1379L1491.3 1379L1492.3 1379L1493.3 1379L1494.3 1379L1495.3 1379L1496.2 1379L1497.2 1379L1498.2 1379L1499.2 1379L1500.2 1379L1501.2 1379L1502.2 1379L1503.2 1379L1504.2 1379L1505.2 1379L1506.1 1379L1507.1 1379L1508.1 1379L1509.1 1379L1510.1 1379L1511.1 1379L1512.1 1379L1513.1 1379L1514.1 1379L1515.1 1379L1516.1 1379L1517 1379L1518 1379L1519 1379L1520 1379L1521 1379L1522 1379L1523 1379L1524 1379L1525 1379L1526 1379L1526.9 1379L1527.9 1379L1528.9 1378.9L1529.9 1378.7L1530.9 1378.2L1531.9 1377.2L1532.9 1375.1L1533.9 1371.6L1534.9 1366.3L1535.9 1359.1L1536.8 1350.3L1537.8 1340.6L1538.8 1331.2L1539.8 1322.9L1540.8 1316.8L1541.8 1313L1542.8 1311.3L1543.8 1311.1L1544.8 1311.8L1545.8 1313.6L1546.7 1316.5L1547.7 1320.2L1548.7 1324.6L1549.7 1329.5L1550.7 1334.7L1551.7 1340L1552.7 1345.3L1553.7 1350.3L1554.7 1355L1555.7 1359.2L1556.7 1363L1557.6 1366.3L1558.6 1369L1559.6 1371.3L1560.6 1373.1L1561.6 1374.4L1562.6 1375.3L1563.6 1375.7L1564.6 1375.6L1565.6 1375L1566.6 1373.9L1567.5 1372.4L1568.5 1370.6L1569.5 1368.9L1570.5 1367.4L1571.5 1366.5L1572.5 1366.3L1573.5 1366.9L1574.5 1368.2L1575.5 1369.9L1576.5 1371.8L1577.4 1373.7L1578.4 1375.3L1579.4 1376.6L1580.4 1377.6L1581.4 1378.2L1582.4 1378.6L1583.4 1378.8L1584.4 1378.9L1585.4 1379L1586.4 1379L1587.3 1379L1588.3 1379L1589.3 1379L1590.3 1379L1591.3 1379L1592.3 1379L1593.3 1379L1594.3 1379L1595.3 1379L1596.3 1379L1597.3 1379L1598.2 1379L1599.2 1379L1600.2 1379L1601.2 1379L1602.2 1379L1603.2 1379L1604.2 1379L1605.2 1379L1606.2 1379L1607.2 1379L1608.1 1379L1609.1 1379L1610.1 1379L1611.1 1379L1612.1 1379L1613.1 1379L1614.1 1379L1615.1 1379L1616.1 1379L1617.1 1379L1618 1379L1619 1379L1620 1379L1621 1379L1622 1379L1623 1379L1624 1379L1625 1379L1626 1379L1627 1379L1627.9 1379L1628.9 1379" fill="#c40094"/>
<path d="M1440.8 1441.8L1441.8 1441.8L1442.8 1441.8L1443.8 1441.8L1444.8 1441.8L1445.7 1441.8L1446.7 1441.8L1447.7 1441.8L1448.7 1441.8L1449.7 1441.8L1450.7 1441.8L1451.7 1441.8L1452.7 1441.8L1453.7 1441.8L1454.7 1441.8L1455.6 1441.8L1456.6 1441.8L1457.6 1441.8L1458.6 1441.8L1459.6 1441.8L1460.6 1441.8L1461.6 1441.8L1462.6 1441.8L1463.6 1441.8L1464.6 1441.8L1465.5 1441.8L1466.5 1441.8L1467.5 1441.8L1468.5 1441.8L1469.5 1441.8L1470.5 1441.8L1471.5 1441.8L1472.5 1441.8L1473.5 1441.8L1474.5 1441.8L1475.5 1441.8L1476.4 1441.8L1477.4 1441.8L1478.4 1441.8L1479.4 1441.8L1480.4 1441.8L1481.4 1441.8L1482.4 1441.8L1483.4 1441.8L1484.4 1441.8L1485.4 1441.8L1486.3 1441.8L1487.3 1441.8L1488.3 1441.8L1489.3 1441.8L1490.3 1441.8L1491.3 1441.8L1492.3 1441.8L1493.3 1441.8L1494.3 1441.8L1495.3 1441.8L1496.2 1441.8L1497.2 1441.8L1498.2 1441.8L1499.2 1441.8L1500.2 1441.8L1501.2 1441.8L1502.2 1441.8L1503.2 1441.8L1504.2 1441.8L1505.2 1441.8L1506.1 1441.8L1507.1 1441.8L1508.1 1441.8L1509.1 1441.8L1510.1 1441.8L1511.1 1441.8L1512.1 1441.8L1513.1 1441.8L1514.1 1441.8L1515.1 1441.8L1516.1 1441.8L1517 1441.8L1518 1441.8L1519 1441.8L1520 1441.8L1521 1441.8L1522 1441.8L1523 1441.8L1524 1441.8L1525 1441.8L1526 1441.8L1526.9 1441.8L1527.9 1441.7L1528.9 1441.6L1529.9 1441.2L1530.9 1440.3L1531.9 1438.4L1532.9 1434.9L1533.9 1429.3L1534.9 1421.5L1535.9 1411.8L1536.8 1401.1L1537.8 1390.8L1538.8 1382.2L1539.8 1376.1L1540.8 1372.8L1541.8 1371.6L1542.8 1371.8L1543.8 1373.4L1544.8 1376.4L1545.8 1380.4L1546.7 1385.3L1547.7 1390.7L1548.7 1396.2L1549.7 1401.6L1550.7 1406.6L1551.7 1411.1L1552.7 1415L1553.7 1418.3L1554.7 1421.2L1555.7 1423.6L1556.7 1425.8L1557.6 1427.7L1558.6 1429.6L1559.6 1431.4L1560.6 1433.1L1561.6 1434.6L1562.6 1436.1L1563.6 1437.3L1564.6 1438.3L1565.6 1439.1L1566.6 1439.5L1567.5 1439.6L1568.5 1439.3L1569.5 1438.6L1570.5 1437.4L1571.5 1435.9L1572.5 1434.2L1573.5 1432.5L1574.5 1431.2L1575.5 1430.3L1576.5 1430.1L1577.4 1430.7L1578.4 1431.8L1579.4 1433.4L1580.4 1435.2L1581.4 1436.9L1582.4 1438.3L1583.4 1439.5L1584.4 1440.2L1585.4 1440.6L1586.4 1440.7L1587.3 1440.6L1588.3 1440.2L1589.3 1439.7L1590.3 1439.2L1591.3 1438.7L1592.3 1438.4L1593.3 1438.2L1594.3 1438.3L1595.3 1438.5L1596.3 1439L1597.3 1439.5L1598.2 1440L1599.2 1440.5L1600.2 1440.9L1601.2 1441.3L1602.2 1441.5L1603.2 1441.6L1604.2 1441.7L1605.2 1441.8L1606.2 1441.8L1607.2 1441.8L1608.1 1441.8L1609.1 1441.8L1610.1 1441.8L1611.1 1441.8L1612.1 1441.8L1613.1 1441.8L1614.1 1441.8L1615.1 1441.8L1616.1 1441.8L1617.1 1441.8L1618 1441.8L1619 1441.8L1620 1441.8L1621 1441.8L1622 1441.8L1623 1441.8L1624 1441.8L1625 1441.8L1626 1441.8L1627 1441.8L1627.9 1441.8L1628.9 1441.8" fill="#ff0000"/>
<path d="M1440.8 1504.5L1441.8 1504.5L1442.8 1504.5L1443.8 1504.5L1444.8 1504.5L1445.7 1504.5L1446.7 1504.5L1447.7 1504.5L1448.7 1504.5L1449.7 1504.5L1450.7 1504.5L1451.7 1504.5L1452.7 1504.5L1453.7 1504.5L1454.7 1504.5L1455.6 1504.5L1456.6 1504.5L1457.6 1504.5L1458.6 1504.5L1459.6 1504.5L1460.6 1504.5L1461.6 1504.5L1462.6 1504.5L1463.6 1504.5L1464.6 1504.5L1465.5 1504.5L1466.5 1504.5L1467.5 1504.5L1468.5 1504.5L1469.5 1504.5L1470.5 1504.5L1471.5 1504.5L1472.5 1504.5L1473.5 1504.5L1474.5 1504.5L1475.5 1504.5L1476.4 1504.5L1477.4 1504.5L1478.4 1504.5L1479.4 1504.5L1480.4 1504.5L1481.4 1504.5L1482.4 1504.5L1483.4 1504.5L1484.4 1504.5L1485.4 1504.5L1486.3 1504.5L1487.3 1504.5L1488.3 1504.5L1489.3 1504.5L1490.3 1504.5L1491.3 1504.5L1492.3 1504.5L1493.3 1504.5L1494.3 1504.5L1495.3 1504.5L1496.2 1504.5L1497.2 1504.5L1498.2 1504.5L1499.2 1504.5L1500.2 1504.5L1501.2 1504.5L1502.2 1504.5L1503.2 1504.5L1504.2 1504.5L1505.2 1504.5L1506.1 1504.5L1507.1 1504.5L1508.1 1504.5L1509.1 1504.5L1510.1 1504.5L1511.1 1504.5L1512.1 1504.5L1513.1 1504.5L1514.1 1504.5L1515.1 1504.5L1516.1 1504.5L1517 1504.5L1518 1504.5L1519 1504.5L1520 1504.5L1521 1504.5L1522 1504.5L1523 1504.5L1524 1504.5L1525 1504.5L1526 1504.5L1526.9 1504.4L1527.9 1504L1528.9 1503.2L1529.9 1501.4L1530.9 1498.1L1531.9 1492.7L1532.9 1484.9L1533.9 1475.1L1534.9 1464.2L1535.9 1453.5L1536.8 1444.5L1537.8 1438.1L1538.8 1434.5L1539.8 1433.2L1540.8 1433.3L1541.8 1435L1542.8 1438.1L1543.8 1442.4L1544.8 1447.6L1545.8 1453.1L1546.7 1458.7L1547.7 1464L1548.7 1468.8L1549.7 1472.9L1550.7 1476.3L1551.7 1479L1552.7 1481.3L1553.7 1483.2L1554.7 1484.8L1555.7 1486.5L1556.7 1488.1L1557.6 1489.8L1558.6 1491.7L1559.6 1493.5L1560.6 1495.3L1561.6 1497L1562.6 1498.6L1563.6 1499.9L1564.6 1501L1565.6 1501.8L1566.6 1502.3L1567.5 1502.6L1568.5 1502.6L1569.5 1502.5L1570.5 1502.3L1571.5 1502.1L1572.5 1502.2L1573.5 1502.3L1574.5 1502.7L1575.5 1503.1L1576.5 1503.5L1577.4 1503.9L1578.4 1504.2L1579.4 1504.3L1580.4 1504.4L1581.4 1504.5L1582.4 1504.5L1583.4 1504.5L1584.4 1504.5L1585.4 1504.5L1586.4 1504.5L1587.3 1504.5L1588.3 1504.5L1589.3 1504.5L1590.3 1504.5L1591.3 1504.5L1592.3 1504.5L1593.3 1504.5L1594.3 1504.5L1595.3 1504.5L1596.3 1504.5L1597.3 1504.5L1598.2 1504.5L1599.2 1504.5L1600.2 1504.5L1601.2 1504.5L1602.2 1504.5L1603.2 1504.5L1604.2 1504.5L1605.2 1504.5L1606.2 1504.5L1607.2 1504.5L1608.1 1504.5L1609.1 1504.5L1610.1 1504.5L1611.1 1504.5L1612.1 1504.5L1613.1 1504.5L1614.1 1504.5L1615.1 1504.5L1616.1 1504.5L1617.1 1504.5L1618 1504.5L1619 1504.5L1620 1504.5L1621 1504.5L1622 1504.5L1623 1504.5L1624 1504.5L1625 1504.5L1626 1504.5L1627 1504.5L1627.9 1504.5L1628.9 1504.5" fill="#ff0000"/>
<path d="M1440.8 1567.3L1441.8 1567.3L1442.8 1567.3L1443.8 1567.3L1444.8 1567.3L1445.7 1567.3L1446.7 1567.3L1447.7 1567.3L1448.7 1567.3L1449.7 1567.3L1450.7 1567.3L1451.7 1567.3L1452.7 1567.3L1453.7 1567.3L1454.7 1567.3L1455.6 1567.3L1456.6 1567.3L1457.6 1567.3L1458.6 1567.3L1459.6 1567.3L1460.6 1567.3L1461.6 1567.3L1462.6 1567.3L1463.6 1567.3L1464.6 1567.3L1465.5 1567.3L1466.5 1567.3L1467.5 1567.3L1468.5 1567.3L1469.5 1567.3L1470.5 1567.3L1471.5 1567.3L1472.5 1567.3L1473.5 1567.3L1474.5 1567.3L1475.5 1567.3L1476.4 1567.3L1477.4 1567.3L1478.4 1567.3L1479.4 1567.3L1480.4 1567.3L1481.4 1567.3L1482.4 1567.3L1483.4 1567.3L1484.4 1567.3L1485.4 1567.3L1486.3 1567.3L1487.3 1567.3L1488.3 1567.3L1489.3 1567.3L1490.3 1567.3L1491.3 1567.3L1492.3 1567.3L1493.3 1567.3L1494.3 1567.3L1495.3 1567.3L1496.2 1567.3L1497.2 1567.3L1498.2 1567.3L1499.2 1567.3L1500.2 1567.3L1501.2 1567.3L1502.2 1567.3L1503.2 1567.3L1504.2 1567.3L1505.2 1567.3L1506.1 1567.3L1507.1 1567.3L1508.1 1567.3L1509.1 1567.3L1510.1 1567.3L1511.1 1567.3L1512.1 1567.3L1513.1 1567.3L1514.1 1567.3L1515.1 1567.3L1516.1 1567.3L1517 1567.3L1518 1567.3L1519 1567.3L1520 1567.3L1521 1567.3L1522 1567.3L1523 1567.3L1524 1567.3L1525 1567.3L1526 1567.3L1526.9 1567.3L1527.9 1567.3L1528.9 1567.3L1529.9 1567.2L1530.9 1567L1531.9 1566.4L1532.9 1565L1533.9 1562L1534.9 1556.8L1535.9 1548.8L1536.8 1538.1L1537.8 1525.8L1538.8 1513.3L1539.8 1502.6L1540.8 1494.9L1541.8 1490.6L1542.8 1489.3L1543.8 1489.7L1544.8 1492.5L1545.8 1497.4L1546.7 1503.9L1547.7 1511.4L1548.7 1519.2L1549.7 1526.5L1550.7 1532.9L1551.7 1538L1552.7 1541.7L1553.7 1544L1554.7 1545.3L1555.7 1545.9L1556.7 1546.3L1557.6 1546.7L1558.6 1547.5L1559.6 1548.9L1560.6 1550.7L1561.6 1553L1562.6 1555.5L1563.6 1557.9L1564.6 1560.2L1565.6 1562.2L1566.6 1563.8L1567.5 1565L1568.5 1565.8L1569.5 1566.4L1570.5 1566.8L1571.5 1567L1572.5 1567.2L1573.5 1567.2L1574.5 1567.3L1575.5 1567.3L1576.5 1567.3L1577.4 1567.3L1578.4 1567.3L1579.4 1567.3L1580.4 1567.3L1581.4 1567.3L1582.4 1567.3L1583.4 1567.3L1584.4 1567.3L1585.4 1567.3L1586.4 1567.3L1587.3 1567.3L1588.3 1567.3L1589.3 1567.3L1590.3 1567.3L1591.3 1567.3L1592.3 1567.3L1593.3 1567.3L1594.3 1567.3L1595.3 1567.3L1596.3 1567.3L1597.3 1567.3L1598.2 1567.3L1599.2 1567.3L1600.2 1567.2L1601.2 1567.1L1602.2 1566.9L1603.2 1566.6L1604.2 1566.2L1605.2 1565.7L1606.2 1565.2L1607.2 1564.8L1608.1 1564.5L1609.1 1564.5L1610.1 1564.8L1611.1 1565.2L1612.1 1565.7L1613.1 1566.2L1614.1 1566.6L1615.1 1566.9L1616.1 1567.1L1617.1 1567.2L1618 1567.3L1619 1567.3L1620 1567.3L1621 1567.3L1622 1567.3L1623 1567.3L1624 1567.3L1625 1567.3L1626 1567.3L1627 1567.3L1627.9 1567.3L1628.9 1567.3" fill="#ff0000"/>
<path d="M1440.8 1630L1441.8 1630L1442.8 1630L1443.8 1630L1444.8 1630L1445.7 1630L1446.7 1630L1447.7 1630L1448.7 1630L1449.7 1630L1450.7 1630L1451.7 1630L1452.7 1630L1453.7 1630L1454.7 1630L1455.6 1630L1456.6 1630L1457.6 1630L1458.6 1630L1459.6 1630L1460.6 1630L1461.6 1630L1462.6 1630L1463.6 1630L1464.6 1630L1465.5 1630L1466.5 1630L1467.5 1630L1468.5 1630L1469.5 1630L1470.5 1630L1471.5 1630L1472.5 1630L1473.5 1630L1474.5 1630L1475.5 1630L1476.4 1630L1477.4 1630L1478.4 1630L1479.4 1630L1480.4 1630L1481.4 1630L1482.4 1630L1483.4 1630L1484.4 1630L1485.4 1630L1486.3 1630L1487.3 1630L1488.3 1630L1489.3 1630L1490.3 1630L1491.3 1630L1492.3 1630L1493.3 1630L1494.3 1630L1495.3 1630L1496.2 1630L1497.2 1630L1498.2 1630L1499.2 1630L1500.2 1630L1501.2 1630L1502.2 1630L1503.2 1630L1504.2 1630L1505.2 1630L1506.1 1630L1507.1 1630L1508.1 1630L1509.1 1630L1510.1 1630L1511.1 1630L1512.1 1630L1513.1 1630L1514.1 1630L1515.1 1630L1516.1 1630L1517 1630L1518 1630L1519 1630L1520 1630L1521 1630L1522 1630L1523 1630L1524 1630L1525 1630L1526 1629.9L1526.9 1629.7L1527.9 1629.1L1528.9 1627.6L1529.9 1624.7L1530.9 1619.7L1531.9 1612L1532.9 1601.6L1533.9 1589.1L1534.9 1576L1535.9 1563.8L1536.8 1554.1L1537.8 1547.7L1538.8 1544.7L1539.8 1544L1540.8 1544.9L1541.8 1547.8L1542.8 1552.5L1543.8 1558.6L1544.8 1565.6L1545.8 1573.1L1546.7 1580.5L1547.7 1587.5L1548.7 1593.8L1549.7 1599.3L1550.7 1603.9L1551.7 1607.7L1552.7 1611L1553.7 1613.8L1554.7 1616.2L1555.7 1618.5L1556.7 1620.6L1557.6 1622.5L1558.6 1624.2L1559.6 1625.7L1560.6 1626.9L1561.6 1627.9L1562.6 1628.6L1563.6 1629.1L1564.6 1629.5L1565.6 1629.7L1566.6 1629.9L1567.5 1630L1568.5 1630L1569.5 1630L1570.5 1630L1571.5 1630L1572.5 1630L1573.5 1630L1574.5 1630L1575.5 1630L1576.5 1630L1577.4 1630L1578.4 1630L1579.4 1630L1580.4 1630L1581.4 1630L1582.4 1630L1583.4 1630L1584.4 1630L1585.4 1630L1586.4 1630L1587.3 1630L1588.3 1630L1589.3 1630L1590.3 1630L1591.3 1630L1592.3 1630L1593.3 1630L1594.3 1630L1595.3 1630L1596.3 1630L1597.3 1630L1598.2 1630L1599.2 1630L1600.2 1630L1601.2 1630L1602.2 1630L1603.2 1630L1604.2 1630L1605.2 1630L1606.2 1630L1607.2 1630L1608.1 1630L1609.1 1630L1610.1 1630L1611.1 1630L1612.1 1630L1613.1 1630L1614.1 1630L1615.1 1630L1616.1 1630L1617.1 1630L1618 1630L1619 1630L1620 1630L1621 1630L1622 1630L1623 1630L1624 1630L1625 1630L1626 1630L1627 1630L1627.9 1630L1628.9 1630" fill="#ff0000"/>
<path d="M1440.8 1692.8L1441.8 1692.8L1442.8 1692.8L1443.8 1692.8L1444.8 1692.8L1445.7 1692.8L1446.7 1692.8L1447.7 1692.8L1448.7 1692.8L1449.7 1692.8L1450.7 1692.8L1451.7 1692.8L1452.7 1692.8L1453.7 1692.8L1454.7 1692.8L1455.6 1692.8L1456.6 1692.8L1457.6 1692.8L1458.6 1692.8L1459.6 1692.8L1460.6 1692.8L1461.6 1692.8L1462.6 1692.8L1463.6 1692.8L1464.6 1692.8L1465.5 1692.8L1466.5 1692.8L1467.5 1692.8L1468.5 1692.8L1469.5 1692.8L1470.5 1692.8L1471.5 1692.8L1472.5 1692.8L1473.5 1692.8L1474.5 1692.8L1475.5 1692.8L1476.4 1692.8L1477.4 1692.8L1478.4 1692.8L1479.4 1692.8L1480.4 1692.8L1481.4 1692.8L1482.4 1692.8L1483.4 1692.8L1484.4 1692.8L1485.4 1692.8L1486.3 1692.8L1487.3 1692.8L1488.3 1692.8L1489.3 1692.8L1490.3 1692.8L1491.3 1692.8L1492.3 1692.8L1493.3 1692.8L1494.3 1692.8L1495.3 1692.8L1496.2 1692.8L1497.2 1692.8L1498.2 1692.8L1499.2 1692.8L1500.2 1692.8L1501.2 1692.8L1502.2 1692.8L1503.2 1692.8L1504.2 1692.8L1505.2 1692.8L1506.1 1692.8L1507.1 1692.8L1508.1 1692.8L1509.1 1692.8L1510.1 1692.8L1511.1 1692.8L1512.1 1692.8L1513.1 1692.8L1514.1 1692.8L1515.1 1692.8L1516.1 1692.8L1517 1692.8L1518 1692.8L1519 1692.8L1520 1692.8L1521 1692.8L1522 1692.8L1523 1692.8L1524 1692.8L1525 1692.8L1526 1692.8L1526.9 1692.8L1527.9 1692.7L1528.9 1692.5L1529.9 1692L1530.9 1690.7L1531.9 1688.2L1532.9 1683.9L1533.9 1677.1L1534.9 1667.9L1535.9 1656.9L1536.8 1645.1L1537.8 1634.3L1538.8 1625.6L1539.8 1619.8L1540.8 1617L1541.8 1616.1L1542.8 1616.7L1543.8 1618.9L1544.8 1622.6L1545.8 1627.3L1546.7 1632.8L1547.7 1638.6L1548.7 1644.3L1549.7 1649.7L1550.7 1654.5L1551.7 1658.8L1552.7 1662.6L1553.7 1665.8L1554.7 1668.8L1555.7 1671.5L1556.7 1674.1L1557.6 1676.7L1558.6 1679.1L1559.6 1681.5L1560.6 1683.7L1561.6 1685.7L1562.6 1687.4L1563.6 1688.8L1564.6 1690L1565.6 1690.8L1566.6 1691.5L1567.5 1692L1568.5 1692.3L1569.5 1692.5L1570.5 1692.6L1571.5 1692.7L1572.5 1692.7L1573.5 1692.8L1574.5 1692.8L1575.5 1692.8L1576.5 1692.8L1577.4 1692.8L1578.4 1692.8L1579.4 1692.8L1580.4 1692.7L1581.4 1692.7L1582.4 1692.5L1583.4 1692.4L1584.4 1692.1L1585.4 1691.8L1586.4 1691.4L1587.3 1691.1L1588.3 1690.9L1589.3 1690.9L1590.3 1691.1L1591.3 1691.3L1592.3 1691.7L1593.3 1692L1594.3 1692.3L1595.3 1692.5L1596.3 1692.6L1597.3 1692.7L1598.2 1692.8L1599.2 1692.8L1600.2 1692.8L1601.2 1692.8L1602.2 1692.8L1603.2 1692.8L1604.2 1692.8L1605.2 1692.8L1606.2 1692.8L1607.2 1692.8L1608.1 1692.8L1609.1 1692.8L1610.1 1692.8L1611.1 1692.8L1612.1 1692.8L1613.1 1692.8L1614.1 1692.8L1615.1 1692.8L1616.1 1692.8L1617.1 1692.8L1618 1692.8L1619 1692.8L1620 1692.8L1621 1692.8L1622 1692.8L1623 1692.8L1624 1692.8L1625 1692.8L1626 1692.8L1627 1692.8L1627.9 1692.8L1628.9 1692.8" fill="#ff0000"/>
<path d="M1440.8 1755.5L1441.8 1755.5L1442.8 1755.5L1443.8 1755.5L1444.8 1755.5L1445.7 1755.5L1446.7 1755.5L1447.7 1755.5L1448.7 1755.5L1449.7 1755.5L1450.7 1755.5L1451.7 1755.5L1452.7 1755.5L1453.7 1755.5L1454.7 1755.5L1455.6 1755.5L1456.6 1755.5L1457.6 1755.5L1458.6 1755.5L1459.6 1755.5L1460.6 1755.5L1461.6 1755.5L1462.6 1755.5L1463.6 1755.5L1464.6 1755.5L1465.5 1755.5L1466.5 1755.5L1467.5 1755.5L1468.5 1755.5L1469.5 1755.5L1470.5 1755.5L1471.5 1755.5L1472.5 1755.5L1473.5 1755.5L1474.5 1755.5L1475.5 1755.5L1476.4 1755.5L1477.4 1755.5L1478.4 1755.5L1479.4 1755.5L1480.4 1755.5L1481.4 1755.5L1482.4 1755.5L1483.4 1755.5L1484.4 1755.5L1485.4 1755.5L1486.3 1755.5L1487.3 1755.5L1488.3 1755.5L1489.3 1755.5L1490.3 1755.5L1491.3 1755.5L1492.3 1755.5L1493.3 1755.5L1494.3 1755.5L1495.3 1755.5L1496.2 1755.5L1497.2 1755.5L1498.2 1755.5L1499.2 1755.5L1500.2 1755.5L1501.2 1755.5L1502.2 1755.5L1503.2 1755.5L1504.2 1755.5L1505.2 1755.5L1506.1 1755.5L1507.1 1755.5L1508.1 1755.5L1509.1 1755.5L1510.1 1755.5L1511.1 1755.5L1512.1 1755.5L1513.1 1755.5L1514.1 1755.5L1515.1 1755.5L1516.1 1755.5L1517 1755.5L1518 1755.5L1519 1755.5L1520 1755.5L1521 1755.5L1522 1755.5L1523 1755.5L1524 1755.5L1525 1755.5L1526 1755.4L1526.9 1755L1527.9 1754.1L1528.9 1752L1529.9 1748.1L1530.9 1741.6L1531.9 1732.2L1532.9 1720.3L1533.9 1707.3L1534.9 1694.7L1535.9 1684.4L1536.8 1677.2L1537.8 1673.3L1538.8 1671.6L1539.8 1671.9L1540.8 1675L1541.8 1680.3L1542.8 1687.1L1543.8 1694.5L1544.8 1702L1545.8 1708.7L1546.7 1714.6L1547.7 1719.4L1548.7 1723.3L1549.7 1726.5L1550.7 1729.3L1551.7 1731.9L1552.7 1734.4L1553.7 1737L1554.7 1739.6L1555.7 1742.2L1556.7 1744.6L1557.6 1746.9L1558.6 1748.8L1559.6 1750.4L1560.6 1751.5L1561.6 1752.2L1562.6 1752.3L1563.6 1752L1564.6 1751.3L1565.6 1750.5L1566.6 1749.9L1567.5 1749.8L1568.5 1750.3L1569.5 1751.2L1570.5 1752.4L1571.5 1753.4L1572.5 1754.3L1573.5 1754.9L1574.5 1755.2L1575.5 1755.4L1576.5 1755.5L1577.4 1755.5L1578.4 1755.5L1579.4 1755.5L1580.4 1755.5L1581.4 1755.5L1582.4 1755.5L1583.4 1755.5L1584.4 1755.5L1585.4 1755.5L1586.4 1755.5L1587.3 1755.5L1588.3 1755.5L1589.3 1755.5L1590.3 1755.5L1591.3 1755.5L1592.3 1755.5L1593.3 1755.5L1594.3 1755.5L1595.3 1755.5L1596.3 1755.5L1597.3 1755.5L1598.2 1755.5L1599.2 1755.5L1600.2 1755.5L1601.2 1755.5L1602.2 1755.5L1603.2 1755.5L1604.2 1755.5L1605.2 1755.5L1606.2 1755.5L1607.2 1755.5L1608.1 1755.5L1609.1 1755.4L1610.1 1755.2L1611.1 1755L1612.1 1754.6L1613.1 1754.1L1614.1 1753.6L1615.1 1753.2L1616.1 1752.9L1617.1 1752.9L1618 1753L1619 1753.4L1620 1753.9L1621 1754.4L1622 1754.8L1623 1755.1L1624 1755.3L1625 1755.4L1626 1755.5L1627 1755.5L1627.9 1755.5L1628.9 1755.5" fill="#ff0000"/>
<path d="M1440.8 1818.3L1441.8 1818.3L1442.8 1818.3L1443.8 1818.3L1444.8 1818.3L1445.7 1818.3L1446.7 1818.3L1447.7 1818.3L1448.7 1818.3L1449.7 1818.3L1450.7 1818.3L1451.7 1818.3L1452.7 1818.3L1453.7 1818.3L1454.7 1818.3L1455.6 1818.3L1456.6 1818.3L1457.6 1818.3L1458.6 1818.3L1459.6 1818.3L1460.6 1818.3L1461.6 1818.3L1462.6 1818.3L1463.6 1818.3L1464.6 1818.3L1465.5 1818.3L1466.5 1818.3L1467.5 1818.3L1468.5 1818.3L1469.5 1818.3L1470.5 1818.3L1471.5 1818.3L1472.5 1818.3L1473.5 1818.3L1474.5 1818.3L1475.5 1818.3L1476.4 1818.3L1477.4 1818.3L1478.4 1818.3L1479.4 1818.3L1480.4 1818.3L1481.4 1818.3L1482.4 1818.3L1483.4 1818.3L1484.4 1818.3L1485.4 1818.3L1486.3 1818.3L1487.3 1818.3L1488.3 1818.3L1489.3 1818.3L1490.3 1818.3L1491.3 1818.3L1492.3 1818.3L1493.3 1818.3L1494.3 1818.3L1495.3 1818.3L1496.2 1818.3L1497.2 1818.3L1498.2 1818.3L1499.2 1818.3L1500.2 1818.3L1501.2 1818.3L1502.2 1818.3L1503.2 1818.3L1504.2 1818.3L1505.2 1818.3L1506.1 1818.3L1507.1 1818.3L1508.1 1818.3L1509.1 1818.3L1510.1 1818.3L1511.1 1818.3L1512.1 1818.3L1513.1 1818.3L1514.1 1818.3L1515.1 1818.3L1516.1 1818.3L1517 1818.3L1518 1818.3L1519 1818.3L1520 1818.3L1521 1818.3L1522 1818.3L1523 1818.3L1524 1818.3L1525 1818.3L1526 1818.3L1526.9 1818.3L1527.9 1818.3L1528.9 1818.2L1529.9 1818L1530.9 1817.5L1531.9 1816.1L1532.9 1813.3L1533.9 1808.2L1534.9 1800.3L1535.9 1789.7L1536.8 1777.3L1537.8 1764.8L1538.8 1753.9L1539.8 1746L1540.8 1741.7L1541.8 1740.3L1542.8 1740.6L1543.8 1743.1L1544.8 1747.4L1545.8 1753.3L1546.7 1760L1547.7 1767.1L1548.7 1774L1549.7 1780.1L1550.7 1785.2L1551.7 1788.9L1552.7 1791.4L1553.7 1792.8L1554.7 1793.5L1555.7 1793.8L1556.7 1794.3L1557.6 1795.1L1558.6 1796.5L1559.6 1798.5L1560.6 1801L1561.6 1803.8L1562.6 1806.7L1563.6 1809.4L1564.6 1811.8L1565.6 1813.7L1566.6 1815.2L1567.5 1816.3L1568.5 1817.1L1569.5 1817.6L1570.5 1817.9L1571.5 1818.1L1572.5 1818.2L1573.5 1818.3L1574.5 1818.3L1575.5 1818.3L1576.5 1818.3L1577.4 1818.3L1578.4 1818.3L1579.4 1818.3L1580.4 1818.3L1581.4 1818.3L1582.4 1818.3L1583.4 1818.3L1584.4 1818.3L1585.4 1818.3L1586.4 1818.3L1587.3 1818.3L1588.3 1818.3L1589.3 1818.3L1590.3 1818.3L1591.3 1818.3L1592.3 1818.3L1593.3 1818.3L1594.3 1818.3L1595.3 1818.3L1596.3 1818.3L1597.3 1818.3L1598.2 1818.3L1599.2 1818.3L1600.2 1818.3L1601.2 1818.3L1602.2 1818.3L1603.2 1818.3L1604.2 1818.3L1605.2 1818.3L1606.2 1818.3L1607.2 1818.3L1608.1 1818.3L1609.1 1818.3L1610.1 1818.3L1611.1 1818.3L1612.1 1818.3L1613.1 1818.3L1614.1 1818.3L1615.1 1818.3L1616.1 1818.3L1617.1 1818.3L1618 1818.3L1619 1818.3L1620 1818.3L1621 1818.3L1622 1818.3L1623 1818.3L1624 1818.3L1625 1818.3L1626 1818.3L1627 1818.3L1627.9 1818.3L1628.9 1818.3" fill="#0000ff"/>
<path d="M1440.8 1881L1441.8 1881L1442.8 1881L1443.8 1881L1444.8 1881L1445.7 1881L1446.7 1881L1447.7 1881L1448.7 1881L1449.7 1881L1450.7 1881L1451.7 1881L1452.7 1881L1453.7 1881L1454.7 1881L1455.6 1881L1456.6 1881L1457.6 1881L1458.6 1881L1459.6 1881L1460.6 1881L1461.6 1881L1462.6 1881L1463.6 1881L1464.6 1881L1465.5 1881L1466.5 1881L1467.5 1881L1468.5 1881L1469.5 1881L1470.5 1881L1471.5 1881L1472.5 1881L1473.5 1881L1474.5 1881L1475.5 1881L1476.4 1881L1477.4 1881L1478.4 1881L1479.4 1881L1480.4 1881L1481.4 1881L1482.4 1881L1483.4 1881L1484.4 1881L1485.4 1881L1486.3 1881L1487.3 1881L1488.3 1881L1489.3 1881L1490.3 1881L1491.3 1881L1492.3 1881L1493.3 1881L1494.3 1881L1495.3 1881L1496.2 1881L1497.2 1881L1498.2 1881L1499.2 1881L1500.2 1881L1501.2 1881L1502.2 1881L1503.2 1881L1504.2 1881L1505.2 1881L1506.1 1881L1507.1 1881L1508.1 1881L1509.1 1881L1510.1 1881L1511.1 1881L1512.1 1881L1513.1 1881L1514.1 1881L1515.1 1881L1516.1 1881L1517 1881L1518 1881L1519 1881L1520 1881L1521 1881L1522 1881L1523 1881L1524 1881L1525 1881L1526 1881L1526.9 1880.9L1527.9 1880.6L1528.9 1879.8L1529.9 1878.3L1530.9 1875.5L1531.9 1871L1532.9 1864.5L1533.9 1856L1534.9 1846.1L1535.9 1835.7L1536.8 1826L1537.8 1818.1L1538.8 1812.5L1539.8 1809.4L1540.8 1808.3L1541.8 1808.3L1542.8 1810L1543.8 1813.1L1544.8 1817.6L1545.8 1822.9L1546.7 1828.8L1547.7 1834.9L1548.7 1840.8L1549.7 1846.3L1550.7 1851.2L1551.7 1855.3L1552.7 1858.8L1553.7 1861.6L1554.7 1863.8L1555.7 1865.5L1556.7 1866.9L1557.6 1868L1558.6 1868.8L1559.6 1869.6L1560.6 1870.3L1561.6 1870.9L1562.6 1871.6L1563.6 1872.3L1564.6 1873L1565.6 1873.7L1566.6 1874.3L1567.5 1874.8L1568.5 1875.1L1569.5 1875.2L1570.5 1875.1L1571.5 1874.9L1572.5 1874.8L1573.5 1875L1574.5 1875.5L1575.5 1876.3L1576.5 1877.3L1577.4 1878.4L1578.4 1879.3L1579.4 1880L1580.4 1880.4L1581.4 1880.7L1582.4 1880.9L1583.4 1881L1584.4 1881L1585.4 1881L1586.4 1881L1587.3 1881L1588.3 1881L1589.3 1881L1590.3 1881L1591.3 1881L1592.3 1881L1593.3 1881L1594.3 1881L1595.3 1881L1596.3 1881L1597.3 1881L1598.2 1881L1599.2 1881L1600.2 1881L1601.2 1881L1602.2 1881L1603.2 1881L1604.2 1881L1605.2 1881L1606.2 1881L1607.2 1881L1608.1 1881L1609.1 1881L1610.1 1881L1611.1 1881L1612.1 1881L1613.1 1881L1614.1 1881L1615.1 1881L1616.1 1881L1617.1 1881L1618 1881L1619 1881L1620 1881L1621 1881L1622 1881L1623 1881L1624 1881L1625 1881L1626 1881L1627 1881L1627.9 1881L1628.9 1881" fill="#cc0082"/>
<path d="M1440.8 1943.8L1441.8 1943.8L1442.8 1943.8L1443.8 1943.8L1444.8 1943.8L1445.7 1943.8L1446.7 1943.8L1447.7 1943.8L1448.7 1943.8L1449.7 1943.8L1450.7 1943.8L1451.7 1943.8L1452.7 1943.8L1453.7 1943.8L1454.7 1943.8L1455.6 1943.8L1456.6 1943.8L1457.6 1943.8L1458.6 1943.8L1459.6 1943.8L1460.6 1943.8L1461.6 1943.8L1462.6 1943.8L1463.6 1943.8L1464.6 1943.8L1465.5 1943.8L1466.5 1943.8L1467.5 1943.8L1468.5 1943.7L1469.5 1943.6L1470.5 1943.5L1471.5 1943.3L1472.5 1943L1473.5 1942.6L1474.5 1942.1L1475.5 1941.6L1476.4 1941.1L1477.4 1940.7L1478.4 1940.4L1479.4 1940.3L1480.4 1940.4L1481.4 1940.8L1482.4 1941.2L1483.4 1941.8L1484.4 1942.3L1485.4 1942.7L1486.3 1943.1L1487.3 1943.4L1488.3 1943.5L1489.3 1943.6L1490.3 1943.6L1491.3 1943.6L1492.3 1943.5L1493.3 1943.4L1494.3 1943.1L1495.3 1942.8L1496.2 1942.4L1497.2 1941.9L1498.2 1941.2L1499.2 1940.5L1500.2 1939.8L1501.2 1938.9L1502.2 1938L1503.2 1937.1L1504.2 1936L1505.2 1934.7L1506.1 1933.1L1507.1 1930.9L1508.1 1928L1509.1 1924.3L1510.1 1919.5L1511.1 1913.8L1512.1 1907L1513.1 1899.4L1514.1 1891.3L1515.1 1883L1516.1 1874.9L1517 1867.6L1518 1861.6L1519 1857.4L1520 1855.1L1521 1854.9L1522 1856.4L1523 1860.7L1524 1868.5L1525 1879.3L1526 1892.2L1526.9 1905.5L1527.9 1917.7L1528.9 1927.5L1529.9 1934.6L1530.9 1939.1L1531.9 1941.7L1532.9 1942.9L1533.9 1943.5L1534.9 1943.7L1535.9 1943.8L1536.8 1943.8L1537.8 1943.8L1538.8 1943.8L1539.8 1943.8L1540.8 1943.8L1541.8 1943.8L1542.8 1943.8L1543.8 1943.8L1544.8 1943.8L1545.8 1943.8L1546.7 1943.8L1547.7 1943.8L1548.7 1943.8L1549.7 1943.8L1550.7 1943.8L1551.7 1943.8L1552.7 1943.8L1553.7 1943.8L1554.7 1943.8L1555.7 1943.8L1556.7 1943.8L1557.6 1943.8L1558.6 1943.8L1559.6 1943.8L1560.6 1943.8L1561.6 1943.8L1562.6 1943.8L1563.6 1943.8L1564.6 1943.8L1565.6 1943.8L1566.6 1943.8L1567.5 1943.8L1568.5 1943.8L1569.5 1943.8L1570.5 1943.8L1571.5 1943.8L1572.5 1943.8L1573.5 1943.8L1574.5 1943.8L1575.5 1943.8L1576.5 1943.8L1577.4 1943.8L1578.4 1943.8L1579.4 1943.8L1580.4 1943.8L1581.4 1943.8L1582.4 1943.8L1583.4 1943.8L1584.4 1943.8L1585.4 1943.8L1586.4 1943.8L1587.3 1943.8L1588.3 1943.8L1589.3 1943.8L1590.3 1943.8L1591.3 1943.8L1592.3 1943.8L1593.3 1943.8L1594.3 1943.8L1595.3 1943.8L1596.3 1943.8L1597.3 1943.8L1598.2 1943.8L1599.2 1943.8L1600.2 1943.8L1601.2 1943.8L1602.2 1943.8L1603.2 1943.8L1604.2 1943.8L1605.2 1943.8L1606.2 1943.8L1607.2 1943.8L1608.1 1943.8L1609.1 1943.8L1610.1 1943.8L1611.1 1943.8L1612.1 1943.8L1613.1 1943.8L1614.1 1943.8L1615.1 1943.8L1616.1 1943.8L1617.1 1943.8L1618 1943.8L1619 1943.8L1620 1943.8L1621 1943.8L1622 1943.8L1623 1943.8L1624 1943.8L1625 1943.8L1626 1943.8L1627 1943.8L1627.9 1943.8L1628.9 1943.8" fill="#bb00a0"/>
<path d="M1440.8 2006.5L1441.8 2006.5L1442.8 2006.5L1443.8 2006.5L1444.8 2006.5L1445.7 2006.5L1446.7 2006.5L1447.7 2006.5L1448.7 2006.5L1449.7 2006.5L1450.7 2006.5L1451.7 2006.5L1452.7 2006.5L1453.7 2006.5L1454.7 2006.5L1455.6 2006.5L1456.6 2006.5L1457.6 2006.5L1458.6 2006.5L1459.6 2006.5L1460.6 2006.5L1461.6 2006.5L1462.6 2006.5L1463.6 2006.5L1464.6 2006.5L1465.5 2006.5L1466.5 2006.5L1467.5 2006.5L1468.5 2006.5L1469.5 2006.5L1470.5 2006.5L1471.5 2006.5L1472.5 2006.5L1473.5 2006.5L1474.5 2006.5L1475.5 2006.5L1476.4 2006.5L1477.4 2006.5L1478.4 2006.5L1479.4 2006.5L1480.4 2006.5L1481.4 2006.5L1482.4 2006.5L1483.4 2006.5L1484.4 2006.5L1485.4 2006.5L1486.3 2006.5L1487.3 2006.5L1488.3 2006.5L1489.3 2006.5L1490.3 2006.5L1491.3 2006.5L1492.3 2006.5L1493.3 2006.5L1494.3 2006.5L1495.3 2006.5L1496.2 2006.5L1497.2 2006.5L1498.2 2006.5L1499.2 2006.5L1500.2 2006.5L1501.2 2006.5L1502.2 2006.5L1503.2 2006.5L1504.2 2006.5L1505.2 2006.4L1506.1 2006.3L1507.1 2006L1508.1 2005.6L1509.1 2004.9L1510.1 2003.6L1511.1 2001.7L1512.1 1998.8L1513.1 1994.6L1514.1 1988.8L1515.1 1981.2L1516.1 1971.8L1517 1960.5L1518 1948L1519 1934.8L1520 1921.9L1521 1910.5L1522 1901.5L1523 1896L1524 1894.6L1525 1895.8L1526 1900.8L1526.9 1910.6L1527.9 1925L1528.9 1942.2L1529.9 1960L1530.9 1976L1531.9 1988.5L1532.9 1997L1533.9 2002.1L1534.9 2004.7L1535.9 2005.9L1536.8 2006.3L1537.8 2006.5L1538.8 2006.5L1539.8 2006.5L1540.8 2006.5L1541.8 2006.5L1542.8 2006.5L1543.8 2006.5L1544.8 2006.5L1545.8 2006.5L1546.7 2006.5L1547.7 2006.5L1548.7 2006.5L1549.7 2006.5L1550.7 2006.5L1551.7 2006.5L1552.7 2006.5L1553.7 2006.5L1554.7 2006.5L1555.7 2006.5L1556.7 2006.5L1557.6 2006.5L1558.6 2006.5L1559.6 2006.5L1560.6 2006.5L1561.6 2006.5L1562.6 2006.5L1563.6 2006.5L1564.6 2006.5L1565.6 2006.5L1566.6 2006.5L1567.5 2006.5L1568.5 2006.5L1569.5 2006.5L1570.5 2006.5L1571.5 2006.5L1572.5 2006.5L1573.5 2006.5L1574.5 2006.5L1575.5 2006.5L1576.5 2006.5L1577.4 2006.5L1578.4 2006.5L1579.4 2006.5L1580.4 2006.5L1581.4 2006.5L1582.4 2006.5L1583.4 2006.5L1584.4 2006.5L1585.4 2006.5L1586.4 2006.5L1587.3 2006.5L1588.3 2006.5L1589.3 2006.5L1590.3 2006.5L1591.3 2006.5L1592.3 2006.5L1593.3 2006.5L1594.3 2006.5L1595.3 2006.5L1596.3 2006.5L1597.3 2006.5L1598.2 2006.5L1599.2 2006.5L1600.2 2006.5L1601.2 2006.5L1602.2 2006.5L1603.2 2006.5L1604.2 2006.5L1605.2 2006.5L1606.2 2006.5L1607.2 2006.5L1608.1 2006.5L1609.1 2006.5L1610.1 2006.5L1611.1 2006.5L1612.1 2006.5L1613.1 2006.5L1614.1 2006.5L1615.1 2006.5L1616.1 2006.5L1617.1 2006.5L1618 2006.5L1619 2006.5L1620 2006.5L1621 2006.5L1622 2006.5L1623 2006.5L1624 2006.5L1625 2006.5L1626 2006.5L1627 2006.5L1627.9 2006.5L1628.9 2006.5" fill="#cc008c"/>
<path d="M1440.8 2069.3L1441.8 2069.3L1442.8 2069.3L1443.8 2069.3L1444.8 2069.3L1445.7 2069.3L1446.7 2069.3L1447.7 2069.3L1448.7 2069.3L1449.7 2069.3L1450.7 2069.3L1451.7 2069.3L1452.7 2069.3L1453.7 2069.3L1454.7 2069.3L1455.6 2069.3L1456.6 2069.3L1457.6 2069.3L1458.6 2069.3L1459.6 2069.3L1460.6 2069.3L1461.6 2069.3L1462.6 2069.3L1463.6 2069.3L1464.6 2069.2L1465.5 2069.1L1466.5 2068.9L1467.5 2068.6L1468.5 2068.2L1469.5 2067.7L1470.5 2067L1471.5 2066.3L1472.5 2065.6L1473.5 2065.2L1474.5 2065L1475.5 2065.1L1476.4 2065.6L1477.4 2066.2L1478.4 2066.9L1479.4 2067.6L1480.4 2068.2L1481.4 2068.6L1482.4 2068.9L1483.4 2069.1L1484.4 2069.2L1485.4 2069.2L1486.3 2069.2L1487.3 2069.1L1488.3 2068.9L1489.3 2068.6L1490.3 2068.1L1491.3 2067.5L1492.3 2066.8L1493.3 2066.1L1494.3 2065.5L1495.3 2065.1L1496.2 2065L1497.2 2065.2L1498.2 2065.7L1499.2 2066.4L1500.2 2067.1L1501.2 2067.7L1502.2 2068.2L1503.2 2068.6L1504.2 2068.7L1505.2 2068.7L1506.1 2068.5L1507.1 2068.1L1508.1 2067.4L1509.1 2066.3L1510.1 2064.7L1511.1 2062.4L1512.1 2059.4L1513.1 2055.4L1514.1 2050.4L1515.1 2044.3L1516.1 2037.2L1517 2029.3L1518 2020.8L1519 2012.2L1520 2003.9L1521 1996.6L1522 1990.8L1523 1986.9L1524 1985.3L1525 1985.6L1526 1987.8L1526.9 1992.8L1527.9 2000.9L1528.9 2011.6L1529.9 2023.8L1530.9 2036L1531.9 2046.9L1532.9 2055.5L1533.9 2061.6L1534.9 2065.4L1535.9 2067.5L1536.8 2068.6L1537.8 2069L1538.8 2069.2L1539.8 2069.3L1540.8 2069.3L1541.8 2069.3L1542.8 2069.3L1543.8 2069.3L1544.8 2069.3L1545.8 2069.3L1546.7 2069.3L1547.7 2069.3L1548.7 2069.3L1549.7 2069.3L1550.7 2069.3L1551.7 2069.3L1552.7 2069.3L1553.7 2069.3L1554.7 2069.3L1555.7 2069.3L1556.7 2069.3L1557.6 2069.3L1558.6 2069.3L1559.6 2069.3L1560.6 2069.3L1561.6 2069.3L1562.6 2069.3L1563.6 2069.3L1564.6 2069.3L1565.6 2069.3L1566.6 2069.3L1567.5 2069.3L1568.5 2069.3L1569.5 2069.3L1570.5 2069.3L1571.5 2069.3L1572.5 2069.3L1573.5 2069.3L1574.5 2069.3L1575.5 2069.3L1576.5 2069.3L1577.4 2069.3L1578.4 2069.3L1579.4 2069.3L1580.4 2069.3L1581.4 2069.3L1582.4 2069.3L1583.4 2069.3L1584.4 2069.3L1585.4 2069.3L1586.4 2069.3L1587.3 2069.3L1588.3 2069.3L1589.3 2069.3L1590.3 2069.3L1591.3 2069.3L1592.3 2069.3L1593.3 2069.3L1594.3 2069.3L1595.3 2069.3L1596.3 2069.3L1597.3 2069.3L1598.2 2069.3L1599.2 2069.3L1600.2 2069.3L1601.2 2069.3L1602.2 2069.3L1603.2 2069.3L1604.2 2069.3L1605.2 2069.3L1606.2 2069.3L1607.2 2069.3L1608.1 2069.3L1609.1 2069.3L1610.1 2069.3L1611.1 2069.3L1612.1 2069.3L1613.1 2069.3L1614.1 2069.3L1615.1 2069.3L1616.1 2069.3L1617.1 2069.3L1618 2069.3L1619 2069.3L1620 2069.3L1621 2069.3L1622 2069.3L1623 2069.3L1624 2069.3L1625 2069.3L1626 2069.3L1627 2069.3L1627.9 2069.3L1628.9 2069.3" fill="#dd0070"/>
<path d="M1440.8 2132L1441.8 2132L1442.8 2132L1443.8 2132L1444.8 2132L1445.7 2132L1446.7 2132L1447.7 2132L1448.7 2132L1449.7 2132L1450.7 2132L1451.7 2132L1452.7 2132L1453.7 2132L1454.7 2132L1455.6 2132L1456.6 2132L1457.6 2132L1458.6 2132L1459.6 2132L1460.6 2131.9L1461.6 2131.9L1462.6 2131.7L1463.6 2131.5L1464.6 2131.1L1465.5 2130.7L1466.5 2130L1467.5 2129.2L1468.5 2128.1L1469.5 2126.9L1470.5 2125.6L1471.5 2124.3L1472.5 2123.1L1473.5 2122.1L1474.5 2121.5L1475.5 2121.3L1476.4 2121.4L1477.4 2122L1478.4 2123L1479.4 2124.2L1480.4 2125.5L1481.4 2126.8L1482.4 2128L1483.4 2129L1484.4 2129.9L1485.4 2130.6L1486.3 2131L1487.3 2131.3L1488.3 2131.3L1489.3 2131.2L1490.3 2130.8L1491.3 2130.2L1492.3 2129.4L1493.3 2128.4L1494.3 2127.3L1495.3 2126.2L1496.2 2125.3L1497.2 2124.7L1498.2 2124.6L1499.2 2124.9L1500.2 2125.6L1501.2 2126.5L1502.2 2127.4L1503.2 2128.1L1504.2 2128.5L1505.2 2128.4L1506.1 2127.8L1507.1 2126.6L1508.1 2124.6L1509.1 2121.9L1510.1 2118.3L1511.1 2113.9L1512.1 2108.6L1513.1 2102.4L1514.1 2095.6L1515.1 2088.4L1516.1 2080.9L1517 2073.8L1518 2067.2L1519 2061.8L1520 2057.8L1521 2055.5L1522 2055.1L1523 2056.1L1524 2059.6L1525 2066.1L1526 2075.5L1526.9 2086.7L1527.9 2098.5L1528.9 2109.3L1529.9 2118L1530.9 2124.2L1531.9 2128.1L1532.9 2130.3L1533.9 2131.4L1534.9 2131.8L1535.9 2132L1536.8 2132L1537.8 2132L1538.8 2132L1539.8 2132L1540.8 2132L1541.8 2132L1542.8 2132L1543.8 2132L1544.8 2132L1545.8 2132L1546.7 2132L1547.7 2132.1L1548.7 2132.1L1549.7 2132.1L1550.7 2132.1L1551.7 2132.1L1552.7 2132.1L1553.7 2132.1L1554.7 2132.1L1555.7 2132.1L1556.7 2132.1L1557.6 2132.1L1558.6 2132.1L1559.6 2132.1L1560.6 2132.1L1561.6 2132.1L1562.6 2132.1L1563.6 2132.1L1564.6 2132.1L1565.6 2132.1L1566.6 2132.1L1567.5 2132.1L1568.5 2132.1L1569.5 2132.1L1570.5 2132.1L1571.5 2132.1L1572.5 2132.1L1573.5 2132.1L1574.5 2132.1L1575.5 2132.1L1576.5 2132.1L1577.4 2132.1L1578.4 2132.1L1579.4 2132.1L1580.4 2132.1L1581.4 2132.1L1582.4 2132.1L1583.4 2132.1L1584.4 2132.1L1585.4 2132.1L1586.4 2132.1L1587.3 2132.1L1588.3 2132.1L1589.3 2132.1L1590.3 2132.1L1591.3 2132.1L1592.3 2132.1L1593.3 2132.1L1594.3 2132.1L1595.3 2132.1L1596.3 2132.1L1597.3 2132.1L1598.2 2132.1L1599.2 2132.1L1600.2 2132.1L1601.2 2132.1L1602.2 2132.1L1603.2 2132.1L1604.2 2132.1L1605.2 2132.1L1606.2 2132.1L1607.2 2132.1L1608.1 2132.1L1609.1 2132.1L1610.1 2132.1L1611.1 2132.1L1612.1 2132.1L1613.1 2132.1L1614.1 2132.1L1615.1 2132.1L1616.1 2132.1L1617.1 2132.1L1618 2132.1L1619 2132.1L1620 2132.1L1621 2132.1L1622 2132.1L1623 2132.1L1624 2132.1L1625 2132.1L1626 2132.1L1627 2132.1L1627.9 2132.1L1628.9 2132.1" fill="#dd0070"/>
<path d="M1440.8 2194.1L1441.8 2193.6L1442.8 2192.9L1443.8 2191.9L1444.8 2190.5L1445.7 2188.8L1446.7 2186.8L1447.7 2184.4L1448.7 2181.9L1449.7 2179.2L1450.7 2176.7L1451.7 2174.3L1452.7 2172.2L1453.7 2170.2L1454.7 2168.3L1455.6 2166.2L1456.6 2163.6L1457.6 2160.6L1458.6 2157.1L1459.6 2153.3L1460.6 2149.8L1461.6 2146.9L1462.6 2145.4L1463.6 2145.5L1464.6 2146.6L1465.5 2148.5L1466.5 2151.7L1467.5 2156.3L1468.5 2162.2L1469.5 2168.8L1470.5 2175.4L1471.5 2181.4L1472.5 2186.3L1473.5 2189.8L1474.5 2192.1L1475.5 2193.5L1476.4 2194.2L1477.4 2194.6L1478.4 2194.7L1479.4 2194.8L1480.4 2194.8L1481.4 2194.8L1482.4 2194.8L1483.4 2194.7L1484.4 2194.7L1485.4 2194.5L1486.3 2194.2L1487.3 2193.6L1488.3 2192.7L1489.3 2191.4L1490.3 2189.6L1491.3 2187.4L1492.3 2185L1493.3 2182.8L1494.3 2181.2L1495.3 2180.5L1496.2 2180.9L1497.2 2182.2L1498.2 2184.2L1499.2 2186.6L1500.2 2188.9L1501.2 2190.8L1502.2 2192.4L1503.2 2193.4L1504.2 2194L1505.2 2194.4L1506.1 2194.5L1507.1 2194.5L1508.1 2194.3L1509.1 2193.7L1510.1 2192.6L1511.1 2190.8L1512.1 2188L1513.1 2184.2L1514.1 2179.6L1515.1 2174.7L1516.1 2170.3L1517 2167.3L1518 2166.4L1519 2167.8L1520 2171.2L1521 2175.8L1522 2180.7L1523 2185.2L1524 2188.8L1525 2191.3L1526 2192.9L1526.9 2193.9L1527.9 2194.4L1528.9 2194.6L1529.9 2194.7L1530.9 2194.8L1531.9 2194.8L1532.9 2194.8L1533.9 2194.8L1534.9 2194.8L1535.9 2194.8L1536.8 2194.8L1537.8 2194.8L1538.8 2194.8L1539.8 2194.8L1540.8 2194.8L1541.8 2194.8L1542.8 2194.8L1543.8 2194.8L1544.8 2194.8L1545.8 2194.8L1546.7 2194.8L1547.7 2194.8L1548.7 2194.8L1549.7 2194.8L1550.7 2194.8L1551.7 2194.8L1552.7 2194.8L1553.7 2194.8L1554.7 2194.8L1555.7 2194.8L1556.7 2194.8L1557.6 2194.8L1558.6 2194.8L1559.6 2194.8L1560.6 2194.8L1561.6 2194.8L1562.6 2194.8L1563.6 2194.8L1564.6 2194.8L1565.6 2194.8L1566.6 2194.8L1567.5 2194.8L1568.5 2194.8L1569.5 2194.8L1570.5 2194.8L1571.5 2194.8L1572.5 2194.8L1573.5 2194.8L1574.5 2194.8L1575.5 2194.8L1576.5 2194.8L1577.4 2194.8L1578.4 2194.8L1579.4 2194.8L1580.4 2194.8L1581.4 2194.8L1582.4 2194.8L1583.4 2194.8L1584.4 2194.8L1585.4 2194.8L1586.4 2194.8L1587.3 2194.8L1588.3 2194.8L1589.3 2194.8L1590.3 2194.8L1591.3 2194.8L1592.3 2194.8L1593.3 2194.8L1594.3 2194.8L1595.3 2194.8L1596.3 2194.8L1597.3 2194.8L1598.2 2194.8L1599.2 2194.8L1600.2 2194.8L1601.2 2194.8L1602.2 2194.8L1603.2 2194.8L1604.2 2194.8L1605.2 2194.8L1606.2 2194.8L1607.2 2194.8L1608.1 2194.8L1609.1 2194.8L1610.1 2194.8L1611.1 2194.8L1612.1 2194.8L1613.1 2194.8L1614.1 2194.8L1615.1 2194.8L1616.1 2194.8L1617.1 2194.8L1618 2194.8L1619 2194.8L1620 2194.8L1621 2194.8L1622 2194.8L1623 2194.8L1624 2194.8L1625 2194.8L1626 2194.8L1627 2194.8L1627.9 2194.8L1628.9 2194.8" fill="#d6006e"/>
<path d="M1440.8 2257.5L1441.8 2257.4L1442.8 2257.2L1443.8 2257L1444.8 2256.6L1445.7 2256.1L1446.7 2255.5L1447.7 2254.7L1448.7 2253.7L1449.7 2252.7L1450.7 2251.6L1451.7 2250.5L1452.7 2249.3L1453.7 2248L1454.7 2246.5L1455.6 2244.8L1456.6 2242.8L1457.6 2240.5L1458.6 2238.2L1459.6 2235.9L1460.6 2233.9L1461.6 2232.3L1462.6 2231.3L1463.6 2230.9L1464.6 2230.9L1465.5 2231.4L1466.5 2232.6L1467.5 2234.4L1468.5 2236.6L1469.5 2239L1470.5 2241.1L1471.5 2242.8L1472.5 2243.8L1473.5 2244.4L1474.5 2244.7L1475.5 2245L1476.4 2245.5L1477.4 2246.2L1478.4 2247.3L1479.4 2248.5L1480.4 2250L1481.4 2251.4L1482.4 2252.6L1483.4 2253.5L1484.4 2254.1L1485.4 2254L1486.3 2253.4L1487.3 2252.1L1488.3 2250.2L1489.3 2247.9L1490.3 2245.6L1491.3 2243.5L1492.3 2242L1493.3 2241.3L1494.3 2241.4L1495.3 2242L1496.2 2242.7L1497.2 2243.3L1498.2 2243.6L1499.2 2243.6L1500.2 2243.2L1501.2 2242.8L1502.2 2242.5L1503.2 2242.3L1504.2 2242.3L1505.2 2242.4L1506.1 2242.4L1507.1 2242L1508.1 2241.2L1509.1 2239.8L1510.1 2237.9L1511.1 2235.5L1512.1 2233.1L1513.1 2230.8L1514.1 2229.1L1515.1 2228.2L1516.1 2228.3L1517 2229L1518 2231L1519 2234.4L1520 2239L1521 2243.9L1522 2248.6L1523 2252.3L1524 2254.9L1525 2256.3L1526 2257.1L1526.9 2257.4L1527.9 2257.5L1528.9 2257.5L1529.9 2257.5L1530.9 2257.5L1531.9 2257.5L1532.9 2257.5L1533.9 2257.5L1534.9 2257.5L1535.9 2257.5L1536.8 2257.5L1537.8 2257.5L1538.8 2257.5L1539.8 2257.5L1540.8 2257.5L1541.8 2257.6L1542.8 2257.6L1543.8 2257.6L1544.8 2257.6L1545.8 2257.6L1546.7 2257.6L1547.7 2257.6L1548.7 2257.6L1549.7 2257.6L1550.7 2257.6L1551.7 2257.6L1552.7 2257.6L1553.7 2257.6L1554.7 2257.6L1555.7 2257.6L1556.7 2257.6L1557.6 2257.6L1558.6 2257.6L1559.6 2257.6L1560.6 2257.6L1561.6 2257.6L1562.6 2257.6L1563.6 2257.6L1564.6 2257.6L1565.6 2257.6L1566.6 2257.6L1567.5 2257.6L1568.5 2257.6L1569.5 2257.6L1570.5 2257.6L1571.5 2257.6L1572.5 2257.6L1573.5 2257.6L1574.5 2257.6L1575.5 2257.6L1576.5 2257.6L1577.4 2257.6L1578.4 2257.6L1579.4 2257.6L1580.4 2257.6L1581.4 2257.6L1582.4 2257.6L1583.4 2257.6L1584.4 2257.6L1585.4 2257.6L1586.4 2257.6L1587.3 2257.6L1588.3 2257.6L1589.3 2257.6L1590.3 2257.6L1591.3 2257.6L1592.3 2257.6L1593.3 2257.6L1594.3 2257.6L1595.3 2257.6L1596.3 2257.6L1597.3 2257.6L1598.2 2257.6L1599.2 2257.6L1600.2 2257.6L1601.2 2257.6L1602.2 2257.6L1603.2 2257.6L1604.2 2257.6L1605.2 2257.6L1606.2 2257.6L1607.2 2257.6L1608.1 2257.6L1609.1 2257.6L1610.1 2257.6L1611.1 2257.6L1612.1 2257.6L1613.1 2257.6L1614.1 2257.6L1615.1 2257.6L1616.1 2257.6L1617.1 2257.6L1618 2257.6L1619 2257.6L1620 2257.6L1621 2257.6L1622 2257.6L1623 2257.6L1624 2257.6L1625 2257.6L1626 2257.6L1627 2257.6L1627.9 2257.6L1628.9 2257.6" fill="#c8008a"/>
</g>
<rect x="1431.7" y="391.0" width="205.7" height="1903.7" fill="none" stroke="#6e6e6e" stroke-width="1.1"/>
<path d="M1426.5 437.8H1431.7M1426.5 500.6H1431.7M1426.5 563.3H1431.7M1426.5 626H1431.7M1426.5 688.8H1431.7M1426.5 751.5H1431.7M1426.5 814.3H1431.7M1426.5 877H1431.7M1426.5 939.8H1431.7M1426.5 1002.5H1431.7M1426.5 1065.3H1431.7M1426.5 1128H1431.7M1426.5 1190.8H1431.7M1426.5 1253.5H1431.7M1426.5 1316.3H1431.7M1426.5 1379H1431.7M1426.5 1441.8H1431.7M1426.5 1504.5H1431.7M1426.5 1567.3H1431.7M1426.5 1630H1431.7M1426.5 1692.8H1431.7M1426.5 1755.5H1431.7M1426.5 1818.3H1431.7M1426.5 1881H1431.7M1426.5 1943.8H1431.7M1426.5 2006.5H1431.7M1426.5 2069.3H1431.7M1426.5 2132.1H1431.7M1426.5 2194.8H1431.7M1426.5 2257.6H1431.7M1433.8 2294.7v4.2M1466.5 2294.7v4.2M1499.2 2294.7v4.2M1532 2294.7v4.2M1564.8 2294.7v4.2M1597.5 2294.7v4.2M1630.2 2294.7v4.2" stroke="#333" stroke-width="1.1" fill="none"/>
<text x="1433.75" y="2316" font-size="17.8" text-anchor="middle">−3</text>
<text x="1466.5" y="2316" font-size="17.8" text-anchor="middle">−2</text>
<text x="1499.25" y="2316" font-size="17.8" text-anchor="middle">−1</text>
<text x="1532" y="2316" font-size="17.8" text-anchor="middle">0</text>
<text x="1564.75" y="2316" font-size="17.8" text-anchor="middle">1</text>
<text x="1597.5" y="2316" font-size="17.8" text-anchor="middle">2</text>
<text x="1630.25" y="2316" font-size="17.8" text-anchor="middle">3</text>
<text x="1424.3" y="445.1" font-size="18.94" text-anchor="end">ECM−receptor interaction</text>
<text x="1424.3" y="497.55" font-size="18.94" text-anchor="end">Arrhythmogenic right</text>
<text x="1424.3" y="518.05" font-size="18.94" text-anchor="end">ventricular cardiomyopathy</text>
<text x="1424.3" y="570.6" font-size="18.94" text-anchor="end">Amoebiasis</text>
<text x="1424.3" y="633.35" font-size="18.94" text-anchor="end">Focal adhesion</text>
<text x="1424.3" y="696.1" font-size="18.94" text-anchor="end">Small cell lung cancer</text>
<text x="1424.3" y="758.85" font-size="18.94" text-anchor="end">Phagosome</text>
<text x="1424.3" y="821.6" font-size="18.94" text-anchor="end">Viral myocarditis</text>
<text x="1424.3" y="874.05" font-size="18.94" text-anchor="end">Staphylococcus aureus</text>
<text x="1424.3" y="894.55" font-size="18.94" text-anchor="end">infection</text>
<text x="1424.3" y="947.1" font-size="18.94" text-anchor="end">Hypertrophic cardiomyopathy</text>
<text x="1424.3" y="999.55" font-size="18.94" text-anchor="end">Bacterial invasion of</text>
<text x="1424.3" y="1020.05" font-size="18.94" text-anchor="end">epithelial cells</text>
<text x="1424.3" y="1072.6" font-size="18.94" text-anchor="end">Proteoglycans in cancer</text>
<text x="1424.3" y="1135.35" font-size="18.94" text-anchor="end">Cell cycle</text>
<text x="1424.3" y="1187.8" font-size="18.94" text-anchor="end">Leukocyte transendothelial</text>
<text x="1424.3" y="1208.3" font-size="18.94" text-anchor="end">migration</text>
<text x="1424.3" y="1260.85" font-size="18.94" text-anchor="end">Toxoplasmosis</text>
<text x="1424.3" y="1323.6" font-size="18.94" text-anchor="end">Dilated cardiomyopathy</text>
<text x="1424.3" y="1386.35" font-size="18.94" text-anchor="end">Adherens junction</text>
<text x="1424.3" y="1438.8" font-size="18.94" text-anchor="end">AGE−RAGE signaling pathway</text>
<text x="1424.3" y="1459.3" font-size="18.94" text-anchor="end">in diabetic complications</text>
<text x="1424.3" y="1501.55" font-size="18.94" text-anchor="end">NOD−like receptor signaling</text>
<text x="1424.3" y="1522.05" font-size="18.94" text-anchor="end">pathway</text>
<text x="1424.3" y="1574.6" font-size="18.94" text-anchor="end">Influenza A</text>
<text x="1424.3" y="1637.35" font-size="18.94" text-anchor="end">Necroptosis</text>
<text x="1424.3" y="1689.8" font-size="18.94" text-anchor="end">Pathogenic Escherichia coli</text>
<text x="1424.3" y="1710.3" font-size="18.94" text-anchor="end">infection</text>
<text x="1424.3" y="1762.85" font-size="18.94" text-anchor="end">Lysosome</text>
<text x="1424.3" y="1825.6" font-size="18.94" text-anchor="end">Measles</text>
<text x="1424.3" y="1888.35" font-size="18.94" text-anchor="end">Axon guidance</text>
<text x="1424.3" y="1940.8" font-size="18.94" text-anchor="end">Protein processing in</text>
<text x="1424.3" y="1961.3" font-size="18.94" text-anchor="end">endoplasmic reticulum</text>
<text x="1424.3" y="2013.85" font-size="18.94" text-anchor="end">Ribosome</text>
<text x="1424.3" y="2066.3" font-size="18.94" text-anchor="end">Valine, leucine and</text>
<text x="1424.3" y="2086.8" font-size="18.94" text-anchor="end">isoleucine degradation</text>
<text x="1424.3" y="2129.05" font-size="18.94" text-anchor="end">Maturity onset diabetes of</text>
<text x="1424.3" y="2149.55" font-size="18.94" text-anchor="end">the young</text>
<text x="1424.3" y="2202.1" font-size="18.94" text-anchor="end">Fat digestion and absorption</text>
<text x="1424.3" y="2264.85" font-size="18.94" text-anchor="end">Pancreatic secretion</text>
<defs><linearGradient id="pg" x1="0" y1="0" x2="0" y2="1"><stop offset="0" stop-color="#ff0000"/><stop offset="0.25" stop-color="#e8005a"/><stop offset="0.5" stop-color="#cc0089"/><stop offset="0.75" stop-color="#a000bd"/><stop offset="1" stop-color="#2a00ff"/></linearGradient></defs>
<rect x="1659.8" y="1295.7" width="23.4" height="116.6" fill="url(#pg)"/>
<text x="1690.7" y="1302.5" font-size="12.15">0.0025</text>
<text x="1690.7" y="1330.55" font-size="12.15">0.0030</text>
<text x="1690.7" y="1358.6" font-size="12.15">0.0035</text>
<text x="1690.7" y="1386.65" font-size="12.15">0.0040</text>
<text x="1690.7" y="1414.7" font-size="12.15">0.0045</text>
<path d="M1659.8 1298.1h4.6M1683.2 1298.1h-4.6M1659.8 1326.1h4.6M1683.2 1326.1h-4.6M1659.8 1354.2h4.6M1683.2 1354.2h-4.6M1659.8 1382.2h4.6M1683.2 1382.2h-4.6M1659.8 1410.3h4.6M1683.2 1410.3h-4.6" stroke="#fff" stroke-width="0.7" opacity="0.8" fill="none"/>
<text x="1659.8" y="1286.2" font-size="14.6">p.adjust</text>
</g>
<g id="panel-labels"><text x="30" y="49.8" font-size="47" font-weight="bold" font-family='"Liberation Serif", "Times New Roman", Times, serif'>A</text><text x="30.2" y="426.7" font-size="47" font-weight="bold" font-family='"Liberation Serif", "Times New Roman", Times, serif'>B</text><text x="35.6" y="1304.3" font-size="47" font-weight="bold" font-family='"Liberation Serif", "Times New Roman", Times, serif'>C</text><text x="1000.6" y="426.7" font-size="47" font-weight="bold" font-family='"Liberation Serif", "Times New Roman", Times, serif'>D</text></g>
</svg></body></html>
